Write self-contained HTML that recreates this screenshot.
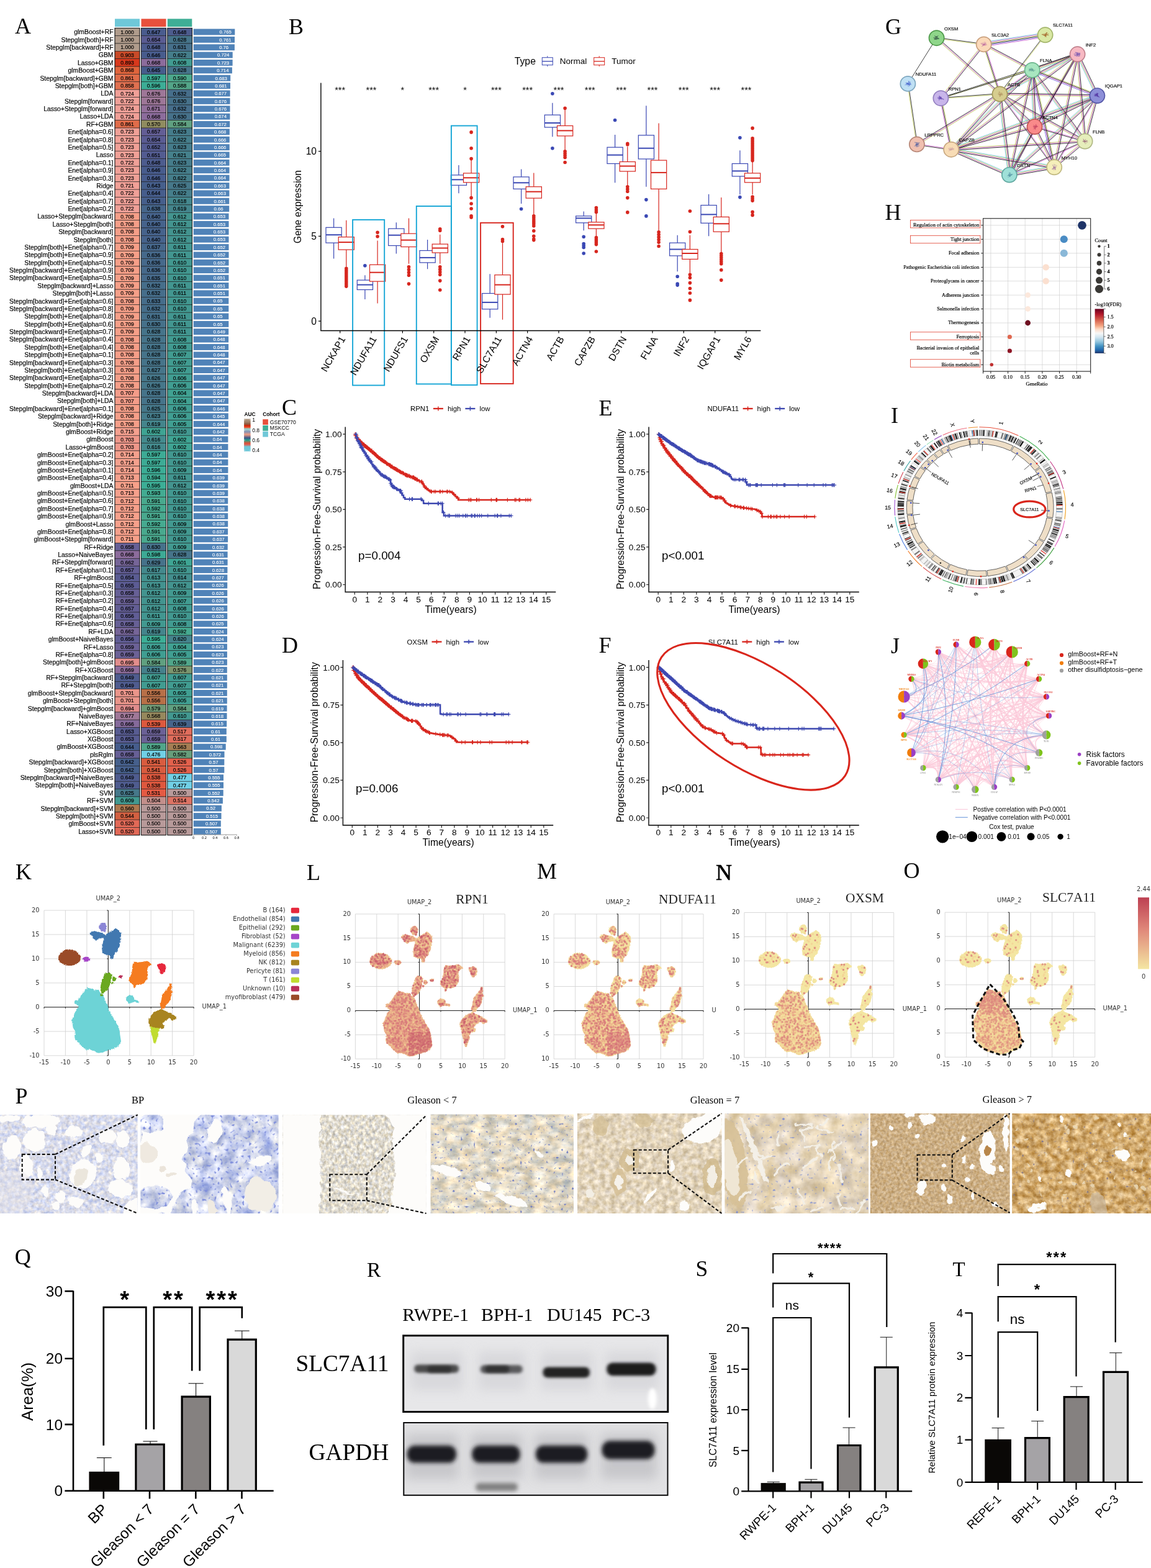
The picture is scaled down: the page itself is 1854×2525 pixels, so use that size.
<!DOCTYPE html>
<html lang="en"><head><meta charset="utf-8"><title>Figure</title>
<style>
html,body{margin:0;padding:0;background:#fff}
svg{display:block}
text{font-family:"Liberation Sans",Arial,Helvetica,sans-serif}
.sf{font-family:"Liberation Serif","Times New Roman",serif}
.dj{font-family:"DejaVu Sans","Liberation Sans",sans-serif}
#pH text{stroke:#000;stroke-width:.2px}
#pI text{stroke:#000;stroke-width:.15px}
</style></head><body>
<svg width="1854" height="2525" viewBox="0 0 1854 2525">
<defs>
<linearGradient id="aucg" x1="0" y1="0" x2="0" y2="1"><stop offset="0" stop-color="#b09c85"/><stop offset="0.1" stop-color="#a08068"/><stop offset="0.16" stop-color="#8a5a40"/><stop offset="0.215" stop-color="#dc2000"/><stop offset="0.27" stop-color="#e86040"/><stop offset="0.305" stop-color="#91d1c2"/><stop offset="0.33" stop-color="#a0c8c8"/><stop offset="0.395" stop-color="#8491b4"/><stop offset="0.485" stop-color="#f39b7f"/><stop offset="0.585" stop-color="#3c5488"/><stop offset="0.66" stop-color="#20a087"/><stop offset="0.7" stop-color="#808060"/><stop offset="0.755" stop-color="#e64b35"/><stop offset="0.8" stop-color="#d06a60"/><stop offset="0.855" stop-color="#6fc8d8"/><stop offset="1" stop-color="#6fc8d8"/></linearGradient>
<linearGradient id="fdrg" x1="0" y1="0" x2="0" y2="1"><stop offset="0" stop-color="#67001f"/><stop offset="0.12" stop-color="#b2182b"/><stop offset="0.25" stop-color="#d6604d"/><stop offset="0.38" stop-color="#f4a582"/><stop offset="0.46" stop-color="#fddbc7"/><stop offset="0.55" stop-color="#f7f7f7"/><stop offset="0.64" stop-color="#d1e5f0"/><stop offset="0.74" stop-color="#92c5de"/><stop offset="0.84" stop-color="#4393c3"/><stop offset="0.93" stop-color="#2166ac"/><stop offset="1" stop-color="#1f3468"/></linearGradient>
<path id="uall" d="M-32.3 -30.7L-25 -28.2L-20.1 -26.6L-16 -27.4L-13.5 -23.3L-9.5 -20.1L-6.2 -13.6L-5.4 -8.7L-1.3 -2.1L0.3 4.4L5.2 14.2L10.1 22.4L15 30.5L17.5 38.7L19.1 50.1L19.9 55L16.6 61.6L11.7 64.8L3.6 67.3L-2.9 69.7L-9.5 72.2L-16 73L-22.5 70.5L-29 67.3L-33.9 68.1L-40.5 63.2L-47 56.7L-52.7 51.8L-53.5 45.2L-51.9 40.3L-56 32.2L-57.6 20.7L-54.3 12.6L-51.1 4.4L-46.2 -0.5L-49.4 -3.8L-53.8 -6.2L-53.5 -9.5L-48.6 -10.3L-45.4 -15.2L-40.5 -21.7L-36.4 -28.2ZM41.3 -12.7L40.7 -10.3L39.1 -8.4L36.7 -7.3L34.1 -7.3L31.7 -8.4L30.1 -10.3L29.5 -12.7L30.1 -15.1L31.7 -17.1L34.1 -18.1L36.7 -18.1L39.1 -17.1L40.7 -15.1ZM39.5 -11.9L47.6 -10L48.5 -7.8L40.3 -9ZM11.7 -126.2L16.6 -123.8L19.9 -118L19.1 -109.9L16.6 -98.5L13.4 -90.3L8.5 -85.4L7.7 -79.7L5.2 -78L2.8 -83.8L-2.9 -85.4L-8.6 -87L-9.5 -95.2L-7.8 -103.4L-6.2 -111.5L-1.3 -118L5.2 -121.3ZM-29 -118.9L-22.5 -122.1L-12.7 -119.7L-6.2 -116.4L-4.6 -112.3L-12.7 -112.3L-19.3 -108.3L-24.1 -111.5L-26.6 -116.4ZM-2.9 -129.1L-3.5 -126.5L-5.1 -124.3L-7.4 -123.1L-9.9 -123.1L-12.2 -124.3L-13.8 -126.5L-14.4 -129.1L-13.8 -131.8L-12.2 -134L-9.9 -135.2L-7.4 -135.2L-5.1 -134L-3.5 -131.8ZM-4.4 -123.3L-4.8 -122.2L-5.9 -121.8L-6.9 -122.2L-7.3 -123.3L-6.9 -124.3L-5.9 -124.7L-4.8 -124.3ZM-45.4 -79.7L-46.4 -75.5L-49.4 -71.8L-53.9 -69.1L-59.5 -67.6L-65.5 -67.6L-71.1 -69.1L-75.6 -71.8L-78.6 -75.5L-79.6 -79.7L-78.6 -83.9L-75.6 -87.5L-71.1 -90.3L-65.5 -91.7L-59.5 -91.7L-53.9 -90.3L-49.4 -87.5L-46.4 -83.9ZM-29.9 -77.2L-30.9 -75.3L-33.5 -74.1L-36.7 -74.1L-39.3 -75.3L-40.3 -77.2L-39.3 -79.1L-36.7 -80.3L-33.5 -80.3L-30.9 -79.1ZM-2.9 -55.2L2.8 -55.2L5.2 -51.1L3.6 -44.6L2 -36.4L-0.5 -29.9L-6.2 -25L-9.5 -22.5L-11.9 -28.2L-11.1 -36.4L-7.8 -46.2L-5.4 -52.7ZM12.1 -45.4L11.4 -43.3L9.6 -42.5L7.9 -43.3L7.2 -45.4L7.9 -47.5L9.6 -48.3L11.4 -47.5ZM7.7 -38.9L7.1 -37.9L6 -37.9L5.4 -38.9L6 -39.8L7.1 -39.8ZM-10 -19.8L-10.5 -18.8L-11.7 -18.8L-12.2 -19.8L-11.7 -20.7L-10.5 -20.7ZM22.8 -50.8L22.7 -49.3L21.3 -47.9L19.3 -47.4L18 -48.1L18.1 -49.6L19.5 -51L21.5 -51.5ZM42.7 -72.3L49.3 -71.5L55.8 -72.3L62.3 -73.6L68 -70.7L68.8 -68.2L64 -65.8L62.3 -60.9L63.1 -52.7L62.3 -46.2L57.4 -39.7L50.9 -36.4L45.2 -37.2L43.6 -32.3L41.9 -31.5L41.1 -36.4L36.2 -39.7L33.8 -42.9L35.4 -47.8L38.7 -54.4L39.5 -62.5L40.3 -69.1ZM99.8 -38L101.5 -36.4L101.2 -28.2L102.3 -23.3L99.8 -13.6L96.6 -7.8L92.5 -3.8L89.2 1.1L86 2.8L84.3 -2.1L86 -10.3L88.4 -20.1L93.3 -26.6L97.4 -31.5ZM79.5 -68.2L86.8 -70.4L90.9 -68.2L92.5 -64.2L90.9 -58.5L86.8 -54L84.3 -56L81.9 -62.5ZM84.3 3.6L90.1 6L96.6 8.5L103.1 11.8L108.8 16.7L108 19.9L103.9 20.7L98.2 16.7L91.7 20.7L86 27.3L90.1 29.7L89.2 33L81.9 33.8L73.7 33L68 31.3L65.6 24L68 15.8L73.7 9.3L79.5 6ZM68 31.3L73.7 33.8L81.9 34.1L79.5 45.2L76.2 56.7L73.7 56.7L71.3 45.2L68.8 37.1Z"/>
<path id="umal" d="M-32.3 -30.7L-25 -28.2L-20.1 -26.6L-16 -27.4L-13.5 -23.3L-9.5 -20.1L-6.2 -13.6L-5.4 -8.7L-1.3 -2.1L0.3 4.4L5.2 14.2L10.1 22.4L15 30.5L17.5 38.7L19.1 50.1L19.9 55L16.6 61.6L11.7 64.8L3.6 67.3L-2.9 69.7L-9.5 72.2L-16 73L-22.5 70.5L-29 67.3L-33.9 68.1L-40.5 63.2L-47 56.7L-52.7 51.8L-53.5 45.2L-51.9 40.3L-56 32.2L-57.6 20.7L-54.3 12.6L-51.1 4.4L-46.2 -0.5L-49.4 -3.8L-53.8 -6.2L-53.5 -9.5L-48.6 -10.3L-45.4 -15.2L-40.5 -21.7L-36.4 -28.2Z"/>
<path id="um0" d="M-33.5 39.6h0M-24.9 30.8h0M-32.8 12.9h0M-30.4 -18.7h0M-44.2 21.2h0M-18 21.6h0M-35.5 0.7h0M-14.1 41.6h0M15.1 60.6h0M-11.1 44.7h0M-7.3 10.2h0M-31.9 66.7h0M-1.2 65h0M-18.8 -2.9h0M-18.3 33h0M-9.4 -12.3h0M-29.8 -18.3h0M-11.7 39.8h0M10 61.1h0M-8.7 -15.6h0M-3.4 57.3h0M-15.6 65.2h0M-4.7 18.1h0M-5.3 5.9h0M-18.7 31.8h0M-26.3 31.9h0M-21 19.9h0M-28.2 -18.4h0M-44 -4.9h0M-17.4 -14.3h0M-9.2 62.3h0M-15.2 30.7h0M-42.7 -17.8h0M-18.2 24.1h0M15.4 60.8h0M-12.1 35.6h0M-49.1 15.6h0M-31.3 67h0M-18.2 -13.2h0M-8.4 66.6h0M-41.8 -3.7h0M-8.9 45.1h0M12.2 52.2h0M-33.6 65h0M-35.7 43.4h0M-30.4 17.3h0M-20.4 10.9h0M9 41.9h0M-28.6 40h0M-44.4 6.6h0M-7 0.4h0M-11.3 7.9h0M-40.2 60.4h0M-52 16.5h0M12.8 40h0M-37.3 59.2h0M4.7 66.6h0M-12.1 36.3h0M-31.8 31.2h0M2.1 24.7h0M-15.5 -8.6h0M-1.7 57.6h0M-14.5 2.9h0M-38.8 5.7h0M-7.5 -1.2h0M-9.4 37.1h0M-33.2 48.9h0M-39.1 -0.7h0M-13.5 45.5h0M-53.9 25.9h0M-25 -20.5h0M-23.6 14.7h0M-2.5 44.7h0M9.4 42.6h0M-41.3 -1.2h0M5.4 58.1h0M-44.1 -13.7h0M-43.6 -9.8h0M-18.7 47h0M-24.8 24h0M-40.2 -6.6h0M5 29.6h0M-9.2 19h0M-19.8 66.8h0M-2.6 3.2h0M-7.1 28.9h0M-10.2 38.7h0M-47.3 44.9h0M-44.5 37.5h0M-27.9 -12.9h0M-42 -2.8h0M14.7 38.1h0M-44.4 54h0M-47.3 27.9h0M14.4 54.9h0M-20.2 14.3h0M-37.2 1h0M-4.3 28.6h0M-31.2 6.1h0M-24.5 54.7h0M-28.9 10.4h0M-3.6 17.6h0M-20.2 60.5h0M-2.9 19.5h0M-49.6 41.9h0M-11 -2.4h0M-20.4 47.3h0M-23.9 -11.6h0M-14.2 30.4h0M2.6 59.2h0M-7.3 -4.9h0M-21.4 -5.7h0M-36.5 50.9h0M-28.9 36.1h0M-12.6 2.9h0M-2.9 19.2h0M-2 52.1h0M-16.8 65.5h0M-31.2 55.6h0M-35.8 7.8h0M-42.7 17.4h0M-6.8 60.2h0M9.6 63.3h0M-7.1 57h0M-39.2 41.8h0M-12.4 60.4h0M-51.1 33.3h0M3.8 25.8h0M-27.9 22.7h0M-46.5 40.3h0M-9.5 12.4h0M-11.7 -14.4h0M-33.1 46.3h0M-1.9 38.7h0M-36 -7.9h0M0.4 52.9h0M12.6 27.9h0M-18.8 57.1h0M-21.2 29.4h0M-29.1 43.7h0M-33.4 25h0M-29 11.2h0M-13.8 59.6h0M-32 -13.4h0M-39.8 13.4h0M11.9 33.8h0M-6.6 24h0M-7.3 -14.8h0M-44.2 35.6h0M-18.1 14.3h0"/>
<path id="um1" d="M14.3 47.3h0M-23.7 -22.9h0M6.5 31.8h0M-53.9 23.6h0M9.1 42.8h0M8.6 27.6h0M-23.5 -3.6h0M-29.1 14.1h0M-36.8 -20.2h0M-28.6 2.7h0M-19.1 21h0M-28 61.9h0M15 34.2h0M-11.1 69.7h0M-4.2 50.9h0M-30.3 5.2h0M12.1 60.3h0M-16.2 -11.5h0M10.1 27.1h0M-42 55.3h0M-40.8 -12.3h0M14.6 58.3h0M-6.7 36.6h0M-20 27.1h0M-15.3 68.1h0M-26.7 18h0M-53.5 28.4h0M-55 28.2h0M-37.9 -8.6h0M-14.4 60.9h0M15.3 46.9h0M10.6 33.8h0M-39 33.9h0M-24.9 -19h0M-11.8 37.5h0M-21.9 60.4h0M-12.3 21.5h0M-5.6 66.3h0M-30.6 43.2h0M-0.9 46.1h0M-36.8 18.3h0M-35.8 48.7h0M-25.9 10.6h0M-7.1 0.7h0M-39.9 53.1h0M-44.3 41.9h0M-38.7 52.7h0M3.9 44.9h0M-16.7 45.8h0M0.7 11.6h0M-18.5 -25.8h0M-50.7 28.4h0M-7.3 22.6h0M-30.4 12.3h0M-49.2 4.5h0M1.1 68.1h0M-22.1 69.5h0M-13.6 -3.7h0M7.8 25h0M-8.4 -17h0M-0.3 35.7h0M9.9 37.3h0M-25.1 -4.2h0M-30.8 29.8h0M-45.1 21.4h0M-38.1 -21.6h0M-51.6 52.3h0M-24.5 -7.2h0M-44.6 22.2h0M-22.4 12.1h0M-17.2 28.8h0M-18.3 -0.8h0M-1.9 2.6h0M-33.1 40.4h0M-25.5 -24.4h0M-34.1 19.9h0M-20.8 -26.8h0M-17.1 35.1h0M-47.9 -10h0M-1.5 17.4h0M6.4 61.3h0M-50.8 4.8h0M-23 21.9h0M-16.4 -17.7h0M4.2 32.4h0M4.2 34h0M-13.2 61.6h0M-40.2 4.5h0M14.7 41.8h0M-15 -14.2h0M-33.5 -11.2h0M1.2 19.9h0M-15.8 24.9h0M-14.5 -7.9h0M-16.2 1.4h0M-1.7 10.2h0M0.6 41.5h0M-24.9 49.3h0M-35 57.9h0M-26.7 52.9h0M-25.2 46h0M-20.3 -1.7h0M15.7 34.3h0M-34.9 -15.1h0M-19.6 -4.9h0M-20.8 55.9h0M-39 51.9h0M-1.3 48.8h0M-16.9 -0.7h0M1.1 22.7h0M-8.4 56.7h0M-34.1 67.6h0M-35.2 -8.7h0M-34.1 -7.8h0M-15.5 -8.1h0M-42.3 30.7h0M-20 28.2h0M9.2 27.7h0M-30.1 -9.5h0M-23.6 54.6h0M-34.7 -0.1h0M-53.1 48.1h0M-8.8 0.9h0M-54.6 15.3h0M-31.9 29.6h0M-41.9 38.1h0M-19.7 68.4h0M-31.2 28.3h0M-14.3 71.8h0M-6.2 19.2h0M-43.3 3.7h0M-1.4 25.7h0M-29 24.8h0M-32.9 -6.9h0M-41.7 9.7h0M-31.7 34.6h0M-51.1 44h0M-15.8 -16.5h0M-7.2 63.5h0M14.6 32h0M-38.3 -12.5h0M-25.6 -25.2h0M-35.1 62.7h0M-12.3 9.6h0M-54.7 21.1h0M-8 -10.1h0M-38.8 19.2h0M-21 -1.2h0M2.8 12.1h0M10.8 29.8h0"/>
<path id="um2" d="M-17.9 3.9h0M-45.5 16.3h0M-50.3 18.8h0M-25 1h0M-5.9 39.1h0M3.6 23.9h0M-5.1 62.9h0M15.1 49.2h0M-36.7 17.7h0M-40.5 14.7h0M15.1 59.4h0M-18.6 59.1h0M-28.4 10.5h0M7.2 57.6h0M14.3 46.7h0M-10.8 47.4h0M-20.2 20.5h0M-22.9 30.7h0M-16 37h0M-42 24h0M-11.4 49.8h0M-25.7 55.6h0M-12.1 45.8h0M-4.2 2h0M-48.5 47.6h0M-19.8 44h0M5.9 65.6h0M-36.4 -3.9h0M-27.4 40.6h0M-30.9 63.3h0M-40.5 27.1h0M11.2 30.7h0M-27.8 46.9h0M17.5 50.4h0M3.1 33.6h0M-31 -29.5h0M-23 -18.1h0M-3.4 50.6h0M-47.9 4h0M-52.1 46.5h0M-28.2 61.9h0M6.9 52.6h0M-28.5 35.5h0M-51.1 7.5h0M-34 -6.9h0M-19.7 46.2h0M-33.6 8.2h0M-19.3 65.5h0M0.3 29.8h0M0.4 42.8h0M-3.6 37.2h0M-0.7 14.5h0M-49 33.8h0M-31.8 -19.7h0M2.7 36.7h0M-29.3 -25.2h0M-19.5 19.5h0M-30 20.3h0M-34.9 8.2h0M-32 58.1h0M-34 24h0M-3.5 15.2h0M4 65.3h0M-25.8 57.4h0M4.2 63.7h0M10.2 28.5h0M-47.3 8.1h0M-16.1 0.9h0M-19.1 0.1h0M-19.7 36.9h0M-2.8 -3.5h0M-35.4 47.2h0M-46.5 0.3h0M2.9 42.2h0M-15.7 27.2h0M-47.5 15.5h0M-2.5 14.9h0M-12.7 8h0M-6.3 70h0M-31.2 -15.6h0M-42.4 10.2h0M-49.2 18.2h0M-28.7 -0.2h0M11 26.2h0M-52.8 33.4h0M-50.6 47.1h0M-49.3 29h0M-40.3 -13h0M-8.4 62.5h0M-33.2 15.8h0M-13.6 34.4h0M-37.8 -16.7h0M-29 26h0M-35.5 66.4h0M-1.4 13h0M-30.4 2.6h0M-33.8 19.5h0M-35 -23.9h0M-30.9 -4h0M18 43.8h0M-25.6 -15h0M-50.7 6.5h0M-33.3 -26.4h0M-27.3 -1.9h0M-14.9 36.8h0M-40.1 -9.2h0M0.3 20.3h0M-15.2 7.9h0M-12.3 8.8h0M-38.9 -4.9h0M13.8 52h0M-30.8 22.7h0M-28.9 -22h0M-42.7 -12.1h0M-3.9 22.4h0M-45.1 27.3h0M-2.5 35.5h0M-8.7 68.4h0M-3.6 44.6h0M-20.9 37.9h0M-50.6 46.1h0M-13.6 1.2h0M-50.2 -4.6h0M-32.2 -14.1h0M12.8 62.9h0M-38.2 9.1h0M-11.4 64.8h0M-47 -2.7h0M-26.9 -8.7h0M-40.6 61.4h0M-46.3 10.7h0M-34.5 -13.9h0M-41.4 -2.9h0M-28.2 21.6h0M-21.3 -13.5h0M-33.1 27.1h0M-13 70.4h0M-39.8 29.9h0M3.6 41.5h0M-56 28.4h0M-16.8 16.8h0M-0.3 22.7h0M-40.7 55.8h0M2.8 23.2h0M-46 5.5h0M-10 58.5h0M-29 -15.7h0M-4.4 49.6h0M2.6 22.7h0M-18.6 28.1h0"/>
<path id="um3" d="M-3.5 8.9h0M-51.4 27.1h0M-40.1 29.3h0M-10.5 38.3h0M-20.1 -21.1h0M-44.8 3.8h0M-4.1 44.9h0M-33.9 48.7h0M-42.1 49.9h0M1.3 54.7h0M-17 -3.9h0M-25.4 50h0M-42.5 13.9h0M-0.6 29.1h0M-44.2 32.1h0M-28.7 -17.3h0M-12.2 71.8h0M-42.2 25.8h0M-18.5 47.4h0M-5.4 19.4h0M-18.5 10.8h0M-16.9 46.3h0M0.8 32.2h0M-22.4 7.1h0M-30.6 67.3h0M-42.2 12.3h0M-3.1 67.7h0M-1.3 18.7h0M-31.1 -26.4h0M1 36.1h0M-12.7 6.9h0M1.3 32.3h0M-13.5 66.2h0M-13.9 -20.4h0M8.2 65.4h0M-50.4 29.1h0M-46.4 43.6h0M-0.4 57.5h0M-8.6 4.9h0M-22.5 34.1h0M-35.6 4.9h0M-41.4 55.3h0M-16.1 29.6h0M-30.8 10.5h0M-30 48.3h0M-31.3 52.6h0M-34 -10.1h0M-16.5 53.2h0M12.5 36.5h0M-42.6 18.1h0M15.1 50.8h0M12.1 36.6h0M-36.8 45.5h0M-34.5 -20.3h0M1.8 55.5h0M-6.6 57.3h0M-2.4 10h0M-20.9 9.9h0M-40.5 -8.5h0M4.3 64.9h0M-37 34.8h0M-36.1 53.2h0M-25 -8.1h0M-35.7 -26.7h0M-9 24.6h0M16.3 49.1h0M-40.5 34.5h0M-33.6 6.6h0M-32.6 50.5h0M-35.2 43.1h0M0.6 49.6h0M7.3 39.8h0M-20.6 7.6h0M-17.1 3.6h0M1.1 54.3h0M-45.2 9.4h0M7 52.2h0M-0.3 37.4h0M1.1 34.2h0M-26.7 20.4h0M-23.8 22.6h0M-2.5 32.9h0M-37.9 38.5h0M9.9 24.8h0M-2 37.8h0M-42.6 -17.4h0M-30 38.8h0M-4.7 -3h0M5.5 39.2h0M-4.5 50h0M-38.1 25.7h0M-27.4 37.8h0M-33.2 18.9h0M-18.1 -26.1h0M-13.6 -9.4h0M-41.9 47h0M-16.9 70.3h0M-4.2 1.1h0M-15.4 60.6h0M-35.4 -28.3h0M17 53.7h0M-38.9 -4.7h0M-20.6 36.2h0M-34.1 -19.5h0M-31.9 -1.7h0M-31.7 2.5h0M-27.2 -6.8h0M-32.6 -12.1h0M-34.8 -6.7h0M-24.6 0.4h0M-6.3 22h0M-16.6 52h0M-15.4 -16.1h0M4.4 37.2h0M5.5 33.7h0M-11.3 15.4h0M-35.2 37.6h0M-44 -9.5h0M16.6 43.5h0M-48.1 21.2h0M-13.3 46.5h0M-41.1 4.7h0M-23.9 66h0M-14.2 41.8h0M1 36.6h0M-24.5 22.9h0M-33.4 54.7h0M-53.3 23h0M-24.8 5.6h0M-23.1 -24h0M-15.5 23.6h0M-33.9 52.5h0M-42.9 12.3h0M-14.8 12.5h0M-34 57.4h0M-20.1 6.3h0M-33.8 -28.5h0M1.6 49.4h0M-26.2 53.7h0M-23.7 -6.6h0M-33.1 66.6h0M-34 10.1h0M-5.2 45.3h0M-28 33.1h0M-19.6 40.2h0M-2.1 33.6h0M-48.7 32.6h0M-47 8.2h0M3.3 42.1h0M-35.2 -5.1h0"/>
<path id="um4" d="M-38.4 63.2h0M-36.4 4.5h0M-0.9 57.9h0M-39 39h0M12 64.6h0M-32.8 2.4h0M-27.1 23.5h0M-51.2 14h0M10.4 31.4h0M-27.3 24.7h0M-35.1 10.4h0M-25.3 -4.1h0M-39.8 -21.4h0M6.1 34.3h0M-34.1 50.6h0M-1.2 44.5h0M-12.6 -22.3h0M-20.4 33.3h0M-29.3 26.5h0M-19.3 36.5h0M-45.8 -5.6h0M-18 68.9h0M-45.6 46.4h0M-41.2 4.8h0M-39.4 55h0M-8.9 -16.4h0M11.5 58.9h0M-11.3 42.9h0M-15.1 71.8h0M-21.3 -15.9h0M-28.8 19.6h0M-15.8 -23.4h0M-5 36.4h0M-11.5 31h0M2.3 30.8h0M-28.3 14.9h0M-11.7 31.7h0M4.6 26.1h0M-32.7 -13.3h0M16.7 56.9h0M-43.8 13.9h0M-11.9 36.4h0M6.7 27.1h0M-44.3 8h0M-15.8 43.5h0M-54.2 28.4h0M17.2 59.6h0M-20.2 45.2h0M-21.9 52.7h0M2.6 52.1h0M-34.2 -8.5h0M-14 33h0M-25.7 53.1h0M-51 48.9h0M-6.9 -10.6h0M-37.8 53.1h0M-21.2 20.3h0M-26.5 -22.5h0M1.2 44.1h0M-32.6 -7.3h0M-40.1 -18.9h0M-30.2 -14.8h0M-18 2.9h0M-8.3 51.1h0M-33.6 -25.7h0M5 59.8h0M-47.5 51.3h0M-51.7 22.3h0M15.4 40.2h0M-44.6 45.4h0M-47.5 42.7h0M-33 32.3h0M-30.3 52.5h0M-28.7 10.3h0M-2.6 4.4h0M-18.4 46.2h0M0.3 43.2h0M5.9 28h0M-39.5 29.2h0M-33.9 -3.5h0M-50.9 20.9h0M-29.7 -15.4h0M-30.4 10.7h0M-6.5 31h0M-24.9 -14.2h0M8.2 54.4h0M-32.6 -17.3h0M-35.3 24.4h0M-12.7 57.5h0M-37.2 62.6h0M-17.3 6.7h0M-1 23.8h0M-29.7 -7.3h0M-27 -10.1h0M-45.5 49.3h0M-1.6 61.8h0M-15.9 -22.7h0M-21.9 19.1h0M-35.1 4.6h0M-32.8 7.3h0M-26.5 32.6h0M-32.6 38.4h0M-39.2 -14.5h0M-15.6 41h0M-49.1 14.6h0M-37.3 24.9h0M8.1 34.9h0M-30 41.6h0M-1.4 31.6h0M-19.6 13h0M-11 70h0M-20.5 33.7h0M-41.9 32.4h0M-24.6 -18.2h0M-21 -20.2h0M0.9 16.7h0M-30.8 -4.6h0M11.5 45.4h0M-37.5 48.7h0M-48.8 -9.2h0M-20.8 58h0M3 14h0M-41 16.8h0M-23.3 67.2h0M-16.7 29.1h0M-0.7 44.3h0M-10 68.3h0M6.7 29.2h0M-44.8 -12.8h0M-32.7 50.2h0M-5.7 31.4h0M-44.3 -9.1h0M-27.8 18.7h0M-19.2 -1.9h0M-50.8 18.3h0M-17.4 39h0M-36.3 4h0M-6.4 10.6h0M-39 -11.6h0M-7.7 52.8h0M-39.6 58.9h0M-14.7 35.3h0M-0.4 20h0M-51.5 25.8h0M-12.2 -11.7h0M-23.8 6.3h0M-29.1 31.9h0M-39.9 44.2h0M-38.9 -23.9h0M-26.2 47.8h0"/>
<path id="um5" d="M-3 -4.1h0M-32.5 20.5h0M-34.5 -21.4h0M-26.7 36.6h0M-9.1 66.2h0M-14.1 13.2h0M-51.9 11.6h0M-27.8 -28.8h0M-31.7 42.8h0M-9.5 -6.5h0M-32.7 22.8h0M-32.5 -28.3h0M-15.7 -19.4h0M-34.5 61.6h0M-9.2 40.4h0M-52.3 46.1h0M5.8 63.7h0M-25.4 12.9h0M-3.3 67.1h0M-47.1 38.1h0M-23.9 -25.5h0M-34.7 65.3h0M-15.9 49.2h0M-12.1 -1.4h0M-38.4 -10.2h0M-7.7 11.2h0M-31 66.3h0M-1.4 44.7h0M-1.8 28.4h0M3.4 20.3h0M-10.8 26.8h0M-10.9 44.8h0M-14.6 16.4h0M-40.8 8.2h0M-23.3 17.6h0M9.2 47.7h0M-21 60.1h0M-27.8 -15.3h0M-17.1 22.1h0M-13.1 -12.6h0M-37.3 -9.9h0M-43.2 -5.3h0M14.1 30h0M-4.9 49.6h0M-11.1 24.9h0M4.4 50.8h0M-9 41.8h0M-19 1.7h0M-8.3 38.1h0M-13.1 16h0M-40.1 -5.1h0M-39.2 53.2h0M8.8 31.5h0M-22.4 -25.3h0M3 28h0M-29.8 3.7h0M-42 55.4h0M-51.3 5.7h0M-20.6 -8.1h0M-52 28.9h0M-30.3 26.3h0M-41.3 12.3h0M-7.7 19.9h0M-53.7 35.7h0M-3.8 53.6h0M-24.5 67.2h0M-56.5 19.6h0M-31.7 35.5h0M-21.9 47.6h0M-21.7 -19.5h0M-38.4 39.5h0M13.3 52.8h0M-38.9 54.2h0M14.5 45.7h0M-18.7 -16.3h0M-17.5 43.4h0M-35.2 -12.8h0M-26.7 34.4h0M-27.3 61.1h0M-21.1 -17.5h0M-12 43.2h0M-43.1 -0.1h0M-15.2 63.1h0M-11.2 26.4h0M-15.6 -7h0M-52 15.7h0M-17.6 -14.8h0M-2.1 39.7h0M-0.9 61.9h0M-36.3 19.6h0M-33.3 29.1h0M-47 -2.6h0M6.6 56.5h0M-7.3 12.1h0M-7.4 25.5h0M-34 -20h0M-15.4 3.7h0M-47.8 50.6h0M-9.7 21.6h0M-51.1 27.2h0M-19.8 57h0M-23.3 -1.6h0M-1.6 42.5h0M-22.1 69.3h0M-3.6 62.8h0M-30.6 56.8h0M-1.5 20.3h0M15.3 37.5h0M-38.7 41.3h0M-3.8 59.1h0M-42.1 32h0M-10 49.5h0M-5.4 19.9h0M-34.3 41.4h0M-26.3 -22.2h0M-25.2 22.2h0M-31.8 62.5h0M-13.5 11.6h0M-2.5 42.1h0M-35.1 48.9h0M2 36.3h0M-51.5 27.4h0M-11.3 22.5h0M-43.6 23.1h0M-16.4 7.9h0M12.2 62.7h0M-38.2 20.2h0M-16.2 -11.7h0M-19.2 5.4h0M-16.8 -5.1h0M1.5 10.6h0M-30.4 48.3h0M-0.5 12.4h0M-40.5 46.6h0M-35.5 25h0M-24.5 10.8h0M-55.9 22.2h0M-19.2 26.2h0M-29.6 -16.7h0M-33 33h0M-31.2 61.5h0M-10.1 69.8h0M-48.6 17.7h0M-44 20.4h0M-16.6 21h0M-34.9 50h0M15.3 35.5h0M5.2 28.7h0M-36.2 40.4h0M-36.7 60.2h0"/>
<path id="um6" d="M-43.2 45.3h0M-46.3 50.6h0M-37 33.2h0M0.9 26.2h0M-38 -16.4h0M8 44h0M-9.6 60h0M-1 14.2h0M-22.3 14.3h0M-38.3 -9.9h0M4 21.1h0M-46.6 9.7h0M-32.5 33.1h0M-48.4 30.8h0M-25.3 -15.6h0M-34.9 -15.7h0M-33.8 -7.3h0M-12.3 40.8h0M-2.5 4h0M-7.2 -4.1h0M-17.3 55.9h0M12 57.5h0M12.5 35h0M-52.2 28.9h0M-35.5 18.9h0M-37.6 23.9h0M6.8 43.9h0M-43.4 44.1h0M-25.5 37.9h0M-15.4 23.3h0M-32.6 24.2h0M-12.4 -12.4h0M-44.1 20.4h0M-2.4 60.6h0M-16.8 -4.1h0M-41.5 16.4h0M10 26.3h0M-50.9 24.7h0M-22.6 0.9h0M-17.5 12.8h0M13.1 34.9h0M-5.6 56.1h0M-21.6 62.9h0M-8.9 8.1h0M1.9 20h0M-23.6 59.9h0M-1.8 58.2h0M15.9 35h0M-20.2 54.5h0M-41.3 -5.5h0M-36.4 -21.6h0M-28.8 -25.5h0M-23.6 34.4h0M-42.8 38.9h0M-29.8 19.5h0M-15.4 60.2h0M6.4 26.6h0M-10.9 67.5h0M-16.2 -3.5h0M-4.1 -5.4h0M-29.8 10.7h0M-32.2 43.1h0M3.5 24.7h0M14.2 29.3h0M-8.1 57.4h0M-12.3 45.3h0M-37.7 35.9h0M-38.4 58.9h0M-31.8 28.5h0M-25.5 21.4h0M-14.6 -17.8h0M-23.1 61.3h0M14 35.4h0M2.2 61h0M-25.1 30.5h0M-20.4 36.8h0M-2.4 10.3h0M-47.4 17.9h0M-20.8 -19.3h0M-5.1 21.4h0M-3.5 62.4h0M-25.6 -15.5h0M-23.3 -26.5h0M-38.1 60.1h0M-52.2 45.2h0M-38.2 0.7h0M0.1 17.9h0M-24.5 32.1h0M-48.9 44.9h0M-25.5 19.2h0M-28.7 56.3h0M-22.4 48.8h0M-44 35.2h0M-49.6 12h0M0.2 4.1h0M-28.8 18.1h0M-37.4 64.9h0M-39.5 27.3h0M-15.3 21.6h0M-35.8 59.4h0M-26.4 6.4h0M-10.2 45.7h0M-7.6 53h0M-37.8 11.8h0M-13.5 61.6h0M-33 8.5h0M10.9 58.7h0M-21.1 -0.5h0M-9.9 6.4h0M-30.1 65.8h0M0.1 20.7h0M-28.7 6.8h0M-15.4 12.3h0M-36.1 66.4h0M-8.6 66.8h0M-28.6 -0.5h0M-17 13.5h0M0.3 56.3h0M19.1 55h0M-36.6 23.9h0M-4.5 18.5h0M-47.3 17.9h0M13.9 58.7h0M3.3 32.5h0M-44.4 39h0M5.5 36.1h0M5.3 54.1h0M-44.4 -14.9h0M-33.1 14.9h0M-46.9 -7.5h0M-26.7 37.2h0M-28.6 18h0M-11.4 11.7h0M-32.6 30.7h0M-9.9 68.7h0M0.3 34h0M-10.1 34.1h0M8.2 41.6h0M-53.5 19.7h0M-39.2 -11.9h0M-0.8 12.5h0M12.2 38.4h0M-12.4 -18.7h0M-14.1 -12h0M-9 3h0M-23.6 -16h0M-25.5 49.2h0M-13.8 47.5h0M-33.1 -19.5h0M-21.4 49.2h0"/>
<path id="um7" d="M-26.9 -18h0M15.2 49.3h0M-44 8h0M5.6 51.6h0M-7.2 -0.7h0M-10 37.6h0M-12 26.5h0M-2.3 51.8h0M-14.5 -4.3h0M-13.3 20h0M-12.3 -20.8h0M-36.2 34.5h0M-47.6 45.1h0M-43.3 53.4h0M-20.5 14.2h0M-32.9 38.1h0M7.2 23.6h0M-11.7 57.8h0M13.2 52.1h0M-10.3 56.8h0M-0.6 36.6h0M-1.1 64.1h0M-7.5 26.9h0M15.1 35h0M-30.4 5.9h0M-36.4 56.6h0M-49.7 3.7h0M-10.8 -8.8h0M-5 20.6h0M-30.3 -21.9h0M-44.6 17.8h0M-21 9.4h0M-33.3 -24.8h0M-42.9 -12.3h0M-25.5 33h0M-23.5 34.1h0M-27 17h0M-24.6 4.4h0M-13.5 36.4h0M14.8 31.5h0M-4.7 52.7h0M-23.4 8.9h0M8.7 41.4h0M-52 31.6h0M-2 52.9h0M-40.8 62.6h0M1.9 47.7h0M13.8 54.2h0M-12.6 65.8h0M-12.7 11.6h0M-2.5 30.9h0M-7.2 25.5h0M-15.5 67.5h0M18.3 56.8h0M4.7 48.2h0M-1.8 34.9h0M-41.3 -4.8h0M-36.1 -19h0M-47.1 50.5h0M-26.8 66.1h0M-35.7 59.3h0M-14.5 25.2h0M-39.4 -1.4h0M-51 20.6h0M-51.7 45.9h0M-48.2 32.5h0M-28.2 -11.8h0M-23.2 15.1h0M10.6 54.4h0M-37.2 -6.5h0M-1.7 49.3h0M8.7 55.4h0M-42.9 50.4h0M7 27.5h0M4.6 32.7h0M-38.8 54.3h0M-43.8 47h0M-12.5 8.3h0M-12 5.1h0M-8.4 46.2h0M8 26.8h0M-20 -21h0M-54.7 21.3h0M-51.8 46.8h0M-32.7 -26h0M4.9 37.2h0M-17 25.2h0M-36.1 47.1h0M2 20.3h0M2.2 57.5h0M-34.1 -17.2h0M-31.1 -29.7h0M-2.3 51.1h0M-16 61.2h0M-24.3 3.5h0M-12.1 59.7h0M-23.8 58.6h0M-9.1 -13.2h0M-32.3 -6.1h0M-40.6 49.3h0M-31.2 23.6h0M1.9 50.8h0M0.5 55.1h0M-16.1 55.8h0M9.1 22.8h0M7.4 18h0M-39.7 39.8h0M-9.1 1.4h0M-45.8 6.2h0M-49.6 -6.5h0M-41.5 -8.5h0M-37.1 21h0M10.5 62.9h0M-3.1 7.9h0M-6.7 12.9h0M-2.4 56h0M17.6 50.5h0M-30.3 25.8h0M-21.5 38.4h0M-2.2 61.9h0M-22.3 -25.7h0M-51.4 49.2h0M-4.7 60.5h0M-11.7 66.6h0M-33.7 66.5h0M-21.1 -16.8h0M1.2 11.7h0M13.8 56.8h0M-35.4 53.3h0M-37.9 -6h0M-11.9 36.9h0M8.6 34.7h0M-18.4 28.1h0M8.7 28.9h0M11.9 31.9h0M-3.7 52.7h0M4 34.8h0M-35.2 51.4h0M-26.3 55.5h0M-35 45.4h0M-39.3 6.2h0M-34.7 2.9h0M-3.6 22.4h0M-25.7 64.9h0M12.3 38.5h0M-26.3 -18.7h0M-37.8 16.5h0M-10.3 46h0M-8.7 64.4h0M-20.7 68.1h0"/>
<path id="um8" d="M-24 45.8h0M-33.9 60.2h0M-28.9 44.8h0M-42.5 -2.8h0M-24.2 64.3h0M-56.7 23.9h0M-41.7 -1h0M-33.5 43.9h0M-23.1 -12.7h0M-19.9 56.1h0M-50.2 40.2h0M-37.4 3.1h0M-46 17.5h0M-27.6 -17.5h0M-29.2 50.7h0M-10.6 26.9h0M-21.9 -17.9h0M-45.3 17.3h0M-24.4 0.2h0M-41.6 5.3h0M-24.9 5.7h0M-0.1 30.4h0M-50.7 11.8h0M-23 15.8h0M6.9 53.9h0M-38.7 50h0M-28.5 57.9h0M-33.5 4.1h0M-33.5 54.4h0M-38.2 51.9h0M16.6 42.1h0M-45.2 47.9h0M-24.2 -17h0M-50.3 40.7h0M-25.2 9.5h0M8.6 47.9h0M-21.2 0.5h0M-20 0.1h0M4 19.2h0M-30.7 50.9h0M-40.2 -18.9h0M-34.3 33.9h0M-23 -16.1h0M6.8 53.1h0M-31.1 26.3h0M-23.7 -2.2h0M-10 49.3h0M-20.4 33.3h0M-27.5 64.2h0M-31.1 54.7h0M-25.4 -16.9h0M-42.4 30.7h0M18 45.3h0M-14 46.9h0M13.3 28.5h0M-25.7 -15.3h0M-40.2 26.1h0M-25.9 62.8h0M-36.3 32.7h0M-34.8 31.5h0M-14.8 44h0M-32.9 65h0M-41 36.6h0M-36.4 8.4h0M-46.4 10.6h0M8.3 23.4h0M-14.3 8.7h0M-9.8 30.8h0M-24.1 37.9h0M-13.9 -12.9h0M-5.6 9.8h0M-23.1 61.5h0M-16.7 14.1h0M-6.3 -3.3h0M-31.7 54.8h0M-16.6 42.6h0M-13.5 10.4h0M-41.2 -5.6h0M-25.8 27.3h0M-53.6 16.4h0M-28.3 -15h0M-24.2 -1.7h0M-47.5 -7.4h0M18.3 47.5h0M-32.9 46.6h0M-9.1 59.7h0M-17.3 27.5h0M6.4 60.5h0M12.5 45.5h0M-4.1 27h0M-30.1 -25.6h0M-27.7 52.2h0M-15.2 -26.1h0M-21.7 4.6h0M-12.3 57.8h0M-16.1 53.5h0M-3.1 67.7h0M-41 -1.7h0M-3.4 17.3h0M-2.4 52h0M-48.8 48.7h0M-32.5 -3.4h0M-26 -13.1h0M-45.9 51.4h0M-8.9 4.6h0M-47.3 50.2h0M-52.1 46.7h0M-35.7 -27.3h0M-31.8 17.8h0M-47.2 33h0M-24.1 34.4h0M-2.8 52.8h0M-23.6 32.6h0M-37.7 50.3h0M-43.7 27h0M13.2 31.8h0M-5.9 66h0M8.4 26h0M-18.4 44.6h0M0.2 41.7h0M-43.1 27.9h0M-30.6 28.5h0M-12.6 7.7h0M1.1 31.4h0M-34 24.8h0M-13.2 16.4h0M-36.7 20.2h0M-23.5 10.1h0M-25.2 20h0M-6.9 68.2h0M3.6 39.9h0M-44.2 -11.6h0M-15.6 16.4h0M-20.4 29.2h0M-43.1 46.7h0M-39.3 43.2h0M-51.3 39.7h0M-34.1 -4.7h0M-37 -5.2h0M4.7 46.3h0M-7.8 -2.5h0M-50.2 20.4h0M-48.8 40.2h0M-13.9 -17.3h0M-3.7 17.6h0M1.1 27.1h0M3.1 58.1h0M-6.2 18.6h0M-35.8 0.6h0M-35 -13.4h0"/>
<path id="um9" d="M-17.8 -25h0M-33.8 -25.1h0M-10.9 32.7h0M-2.4 2.7h0M-33.6 49.9h0M-21.6 17.2h0M-2.9 54.4h0M-15.5 30.8h0M-7.5 -15.7h0M-21.9 19.1h0M-36 -16.1h0M-13.7 54.1h0M-45.6 36.1h0M-35.5 -1.4h0M-32 8.6h0M-42.7 -5.6h0M-35.3 -25.1h0M15 53.9h0M-0.9 39.3h0M-31.5 5.6h0M-18.7 54h0M-10.2 37.6h0M-39.7 -13.9h0M-21.9 62.3h0M-0.5 27.4h0M-11.1 7h0M-23 -14.6h0M-9.6 70.3h0M-33.1 44.9h0M-29.4 40.6h0M-54.7 20h0M-43 -13.6h0M-6.5 30.4h0M-30 13.6h0M-20.9 -5.3h0M-30.7 28.2h0M-28.5 -20h0M-28.9 -10.6h0M-37.8 57.5h0M-29 21.5h0M-38.2 45.4h0M-7.5 48.1h0M15.4 34.2h0M-49.2 43.4h0M-41.7 45.6h0M-27.4 -26.7h0M-15.8 -22.5h0M-1.5 47.5h0M-11.9 44.4h0M-16.8 29.6h0M-45.7 -6.1h0M-16.3 35.7h0M-12.9 61.9h0M-25.1 -8h0M-39.3 -11.8h0M-24 40.6h0M-47.1 -7.1h0M-4.4 13h0M-34.9 24.7h0M-9.8 42.4h0M16.7 45.3h0M-29.8 -5.6h0M-42 20.6h0M-43.4 29.1h0M-17.3 0.6h0M-55.7 27.7h0M0.6 35.3h0M-31.8 -13.4h0M-15.9 50.5h0M-9.3 -14.8h0M-22.5 23.4h0M-17.4 23.8h0M4.3 55.9h0M-9.5 36.2h0M18.8 50h0M-38.9 43.4h0M-30.4 29.6h0M-6.6 46.5h0M-17 34.3h0M-28.5 -5.4h0M-21.8 -19.9h0M-41.2 -12.5h0M-15.7 61h0M-8.9 31.1h0M-4.4 41.9h0M-36.2 28.2h0M-39.2 16.6h0M-28.2 18.1h0M-36.7 55.4h0M-41.2 53.7h0M-33.1 14.4h0M-15.1 -18.7h0M7.8 50.7h0M-6.9 11.5h0M-27.8 -10.9h0M-17.9 28.2h0M-23.8 62.9h0M-12.2 -10.1h0M-19.9 -7.8h0M-15.6 14.9h0M-35 36h0M-34.5 47.8h0M-21 20.7h0M-13.2 -7.6h0M-3.3 54.7h0M4.8 26.8h0M14.6 34.1h0M-47 31.2h0M0.6 49.3h0M-33.9 -16.7h0M-21.1 30.5h0M-48 15.4h0M14.3 50h0M-7.3 5.9h0M-13.5 -3.2h0M-27.5 -5.4h0M-31.3 57.5h0M-28.7 2.8h0M-51.1 21.1h0M-15.7 -14h0M-37.8 37.3h0M11.5 51.7h0M-32.7 -29.4h0M-42.9 46.2h0M-15.9 -12.2h0M-18.7 46.5h0M-28.3 -1.5h0M-23.1 63.9h0M-51.6 52.2h0M-30.5 53h0M-7.6 7.6h0M5.6 23.4h0M-4.4 17.5h0M1.8 63.4h0M-35.4 35.1h0M9.5 24h0M7.1 54.8h0M-50 13.2h0M-12.4 36.1h0M-20.5 19.1h0M-32.8 -2.2h0M-10.8 56.3h0M8.7 57.9h0M-34.3 20.6h0M12.4 38.5h0M-40.1 -17.6h0M11.9 31.4h0M-2.6 58.8h0M1.4 15.7h0M-42.3 49.3h0"/>
<path id="uo0" d="M-4.7 -44.1h0M54.3 -52.6h0M89.1 13.6h0M86.8 23.9h0M-17.2 -114.9h0M6.4 -107.7h0M-0.8 -116.2h0M98.8 -28.5h0M17.9 -104.4h0M14.7 -116.9h0M-4.4 -105.9h0M-1.3 -53.8h0M42.6 -58.7h0M58 -53.5h0M41.3 -51.2h0M18.9 -111.8h0M-7.1 -45.9h0M35.5 -44.4h0M1.6 -96h0M-55.9 -82.2h0M68.1 15.9h0M74.3 12.1h0M11.2 -116.5h0M90.3 -20h0M-65.5 -68.1h0M-6.1 -115.6h0M-54.4 -82h0M34.9 -45.3h0M50.7 -57.1h0M55.8 -54.8h0M78.1 7.5h0M7.9 -119.9h0M54.1 -46.7h0M-4.7 -51.9h0M85.7 28.7h0M91.5 -3.8h0M81.6 7h0M90.8 -59h0M91.4 -17.2h0M-4.1 -34.6h0M-1 -106.2h0M-32.5 -78.3h0M-61.9 -78.5h0M-6.7 -38.8h0M-2.4 -94.7h0M44.4 -70.9h0M75.5 50.5h0M80.4 21.3h0M58.2 -41.4h0M77.3 17.9h0M17.4 -104.6h0M74.3 10.8h0M-77.2 -78.2h0M32.2 -9h0M-8.6 -98.4h0M54.6 -61.5h0M-4.8 -108.3h0M84.1 -63h0M48.9 -42.4h0M56.2 -58.8h0M-2.7 -54.2h0M98.9 -32.1h0M79.4 12.9h0M50.3 -61.9h0M10.5 -104.8h0M-68.3 -90h0M-10.8 -36.3h0M66.7 23.2h0M91.8 16.7h0M60.2 -53h0M86.9 32.9h0M75.9 40.4h0M95.1 -27.7h0M72.1 35.2h0M1.2 -113.3h0M-9.6 -117.8h0M-46 -81h0"/>
<path id="uo1" d="M74.2 47.6h0M-0.8 -36.1h0M-7.8 -101h0M16.1 -108.2h0M47.8 -8h0M48.1 -62.2h0M53.6 -50.5h0M75.4 34.5h0M-27 -119.4h0M11.9 -125.7h0M83.8 14.9h0M-23.6 -115.3h0M32.4 -12.7h0M42.4 -35.7h0M-0.1 -110.9h0M-57.7 -88.8h0M80.2 14.2h0M12.8 -94.9h0M-54.7 -82.8h0M4 -113.5h0M6 -113.7h0M-6.4 -134.4h0M2.8 -100.7h0M45.1 -44.4h0M-8.2 -29.6h0M-2.9 -42h0M-59.5 -75.2h0M43.8 -61.2h0M81.9 22.1h0M39.9 -60.2h0M0.2 -104.4h0M-64.1 -80.2h0M17.8 -113.1h0M83 23.9h0M87.7 -6.1h0M-5.8 -90.2h0M8.8 -108.7h0M-74.7 -78.7h0M-15.2 -119.6h0M-12 -112.8h0M-4.3 -38.7h0M-31.5 -79.3h0M-5.3 -127.4h0M79.6 42.6h0M-4.2 -43h0M-71.8 -77.7h0M92.3 -8.6h0M98.8 -32.8h0M77.3 20.9h0M84.4 3.8h0M105.3 15.6h0M-11.5 -128.9h0M-77.8 -82.6h0M71.4 29.5h0M-71.8 -80h0M91.7 9.6h0M106.9 16.1h0M-0.6 -109.9h0M-21 -114.2h0M5 -116.7h0M-60.8 -84.3h0M71.7 29.3h0M75.1 54.1h0M43.4 -57.9h0M-9.3 -128.2h0M76.2 52.1h0M-6.3 -27.3h0M58.8 -63.7h0M-69.1 -72.7h0M-48.1 -82.8h0M79.8 37.3h0M2.4 -102.2h0M35.4 -47.3h0M-9.1 -36.2h0M5.2 -121.3h0M40.1 -44.9h0M12.1 -93.8h0"/>
<path id="uo2" d="M49.9 -65.2h0M62.3 -68.8h0M-2.3 -105.8h0M84.1 -60.7h0M65.5 -67.6h0M69.2 20.9h0M-62.6 -81.8h0M52.5 -44.3h0M-4.8 -28.5h0M-7.7 -31.6h0M-8.5 -43.1h0M93.8 -15.8h0M57.7 -46.1h0M-74.5 -76.1h0M45.6 -41.2h0M56.6 -66.5h0M6.4 -85.2h0M56.7 -59h0M5.9 -82.3h0M-32 -75.6h0M88.5 23.6h0M98.2 -29h0M73.2 47h0M62.1 -72.9h0M51.6 -41.5h0M18.2 -110h0M88.7 -5.9h0M82.4 23.3h0M7.7 -107.2h0M71.3 12.7h0M79.4 19.7h0M95.1 9.1h0M79.8 26.8h0M-4.7 -106.5h0M-48.3 -74.6h0M-1.6 -94.2h0M11.6 -89h0M-67 -88.3h0M-61.4 -69.5h0M-1.9 -105.3h0M-18.4 -112.1h0M69.7 17.5h0M-66.4 -82.7h0M51.3 -37.2h0M-10.4 -31.3h0M5.2 -92.3h0M74.5 29.1h0M101.9 17.6h0M0.1 -94.4h0M15 -97.1h0M-59.6 -81.1h0M89.4 30.9h0M-1.4 -34.3h0M75.4 15.8h0M48 -42.6h0M76.7 24.5h0M45.6 -55.9h0M98 -12.1h0M-10.1 -34.7h0M-2.4 -91h0M48.3 -48.4h0M2.8 -41.9h0M52.8 -46.2h0M84.9 -66.1h0M44.9 -67h0M73.2 15.4h0M57.2 -67h0M73.4 41.9h0M88.1 -57.1h0M83.7 33.5h0M5 -87.1h0M75.8 53.1h0M71.8 20.6h0M41 -9.1h0M2 -47.2h0M-59.4 -67.9h0M83.3 28.2h0"/>
<path id="uo3" d="M76 21.1h0M-71.2 -88.9h0M77.1 26.5h0M11.6 -120.9h0M47.2 -43.1h0M86.6 -69.9h0M32.4 -11.9h0M-9.3 -131.6h0M9.5 -114.3h0M-54.1 -71.8h0M88.6 -4.1h0M7.4 -122.9h0M-1.4 -98.5h0M56.8 -60.9h0M-11.8 -20.4h0M92.2 -5.6h0M42.8 -50.1h0M2 -118.4h0M37.8 -42.6h0M46.2 -9.1h0M-2.6 -47.6h0M-67 -78.5h0M54.7 -69h0M-64 -68.5h0M39 -17h0M2.1 -105.9h0M90.9 -19h0M17.6 -118h0M98.8 -26.5h0M-77 -74.6h0M39.2 -54.2h0M-16.2 -117.3h0M96.8 -30.1h0M12.2 -106h0M-71.3 -77.7h0M-6.8 -40.8h0M75 30.3h0M2.7 -107.5h0M-9.4 -129.5h0M12.5 -96.1h0M8.1 -116.9h0M89.9 -21.8h0M37.5 -17.3h0M98.2 -20.6h0M7.1 -118.5h0M56.3 -55.5h0M93.9 14h0M77.9 21.9h0M92.1 13.9h0M45 -64h0M63.7 -65.9h0M-2.9 -29.1h0M80.7 32.7h0M87.6 -3.4h0M58.3 -53.3h0M61.5 -66.5h0M58.8 -71.2h0M0.2 -35.2h0M-72.5 -78.9h0M-4.6 -111.5h0M37.8 -15.9h0M-47.6 -83.7h0M50.1 -43.8h0M87.4 20h0M-60.7 -88.7h0M33.2 -10.6h0M37.3 -16.5h0M63.5 -71.1h0M-71.8 -76.6h0M80.3 29.7h0M2.3 -107.2h0M-61.7 -89.4h0M48.1 -65.7h0M45.9 -37.8h0M79.7 10.1h0M94.2 10.3h0"/>
<path id="uo4" d="M59.9 -43.1h0M0 -38h0M14 -99.8h0M3.6 -104.8h0M36.4 -39.9h0M81.6 34.8h0M-2.9 -43h0M89.9 -10.5h0M95.9 -18.7h0M65.9 -67.3h0M-67.8 -71h0M88.1 -2.5h0M82.6 8.1h0M-73.5 -76.1h0M-64.5 -83h0M92.3 -9.7h0M1.1 -95.4h0M18 -118.7h0M87.4 11.2h0M85 18.6h0M-71.8 -77h0M-8.5 -23.9h0M83.1 -65.5h0M48.3 -49.4h0M69.4 17.3h0M44.8 -40.8h0M83.5 15.7h0M16.7 -100.5h0M81.9 33.2h0M90.2 -21.2h0M10.8 -47.5h0M-61.6 -82.1h0M57.5 -62.3h0M-73 -77.3h0M-76.6 -76.4h0M-73.4 -77h0M74.8 9.5h0M-48.2 -83.6h0M-7.7 -31.2h0M-18.2 -110.6h0M92.1 -13.8h0M74.4 50.4h0M72.6 48.5h0M16.1 -102.1h0M-8.3 -26.3h0M75.1 49.6h0M69.4 15.1h0M105.3 16.3h0M70.6 16.7h0M-73.2 -82.8h0M70.4 40.6h0M50.4 -62.7h0M9.5 -113.3h0M-66.9 -78.5h0M88.1 17.8h0M80.9 33.5h0M68.5 -69.2h0M11.1 -90.9h0M0.9 -94.2h0M91 -15.1h0M-50.2 -82.4h0M68.1 29.9h0M47 -64.5h0M0.5 -117.2h0M48.5 -59.8h0M1.6 -97h0M-11.5 -118.8h0M-52 -80.6h0M46.8 -63.9h0M41.3 -69.5h0M-5.4 -40.9h0M9.4 -43.5h0M50.5 -71.5h0M-0.4 -99.2h0M87.4 6.8h0M86.7 5h0"/>
<path id="uo5" d="M78.9 11h0M35.5 -12h0M79.1 24.5h0M39.9 -47.8h0M1.7 -38.1h0M9.5 -96.2h0M70 28.1h0M99.7 17.1h0M80.9 35.3h0M-34.2 -79.9h0M49.6 -58.8h0M-55.7 -70.9h0M100 -35.3h0M-1.4 -105.8h0M-16.1 -113.3h0M-33.4 -77.3h0M8.9 -94.6h0M-69.3 -79.6h0M-7.7 -115h0M56.2 -56.6h0M85.6 14.9h0M4.9 -85h0M-3.7 -88.5h0M58.6 -70h0M14.1 -119.7h0M4.5 -100.1h0M84.2 14.8h0M-51.2 -79.4h0M55.3 -44.4h0M-6.5 -37.2h0M-9.9 -31.1h0M-3.7 -86.4h0M61.7 -54.2h0M13.6 -103.8h0M60.4 -52.3h0M13.4 -109.5h0M79 6.4h0M95.2 9.2h0M-3 -36.1h0M95.1 -8.2h0M71.3 17.4h0M-4.3 -95.6h0M-4 -126.9h0M90.4 -11.8h0M-0.9 -102h0M5.3 -81.7h0M91.5 -16.1h0M85.2 -1.8h0M94.6 -15.9h0M87.8 -57.5h0M86.5 28.5h0M19.9 -49.6h0M7.3 -115.9h0M60.8 -58.1h0M6.9 -96.1h0M-68.3 -75.6h0M59.1 -60.8h0M42.7 -56h0M-8.1 -123.1h0M-70.3 -81.3h0M61 -52.4h0M2.8 -41.1h0M95.4 17.7h0M79.8 19.7h0M53.2 -44.3h0M86.5 -68.9h0M-1.2 -30.6h0M-77.8 -84.1h0M53.8 -66.7h0M37.2 -46.4h0M15.3 -104h0M11.5 -122.5h0M-0.6 -100.2h0M76.6 34.1h0M40 -39.9h0M-16.3 -112.2h0"/>
<path id="uo6" d="M94.5 -24.9h0M-37.7 -76.4h0M78.5 42.4h0M10.6 -121.3h0M-1.8 -45.8h0M92.4 -25.4h0M-73.7 -85.2h0M92.4 11.8h0M9.5 -120.5h0M-6.8 -91.2h0M-57.7 -82.6h0M96.1 -8.2h0M50.1 -54.5h0M81.2 28.9h0M0.7 -97.7h0M79.7 31.8h0M85.8 -66.4h0M-53.2 -72.6h0M2.9 -93.8h0M78.4 21.9h0M6.9 -91.4h0M90.8 -7.2h0M97.9 -25.7h0M-71.8 -88.9h0M-8.6 -131.4h0M-12.3 -112.5h0M-70.5 -88.4h0M-33.3 -75.6h0M49.2 -55.6h0M-17.5 -115.8h0M65.3 -68.1h0M-78.1 -84.4h0M72.8 18.9h0M62.9 -65.1h0M-11.9 -128.2h0M-23.4 -118.1h0M-62.3 -75.2h0M34.2 -16.1h0M6.7 -82.8h0M-49.8 -79.9h0M11.4 -97.7h0M12.3 -93.2h0M-9.3 -112.9h0M2.8 -116.4h0M-1.5 -102.3h0M-3.3 -44.2h0M2.2 -43.5h0M10.4 -97.2h0M88.1 23.7h0M-7.7 -88h0M16 -96.8h0M86 8.9h0M-53.4 -73.7h0M-8 -36.8h0M-10.8 -36h0M-76.2 -76.7h0M-73.9 -79.1h0M50.9 -40.7h0M20.9 -49.2h0M-64.7 -68.9h0M-10.5 -26.2h0M-1.5 -93.5h0M32.6 -12.5h0M-65.9 -69.2h0M54.1 -38.3h0M19.7 -47.9h0M77.2 50.2h0M74.9 26.2h0M49.5 -54.6h0M-64.2 -88.8h0M95.5 9.5h0M-70.6 -79h0M10.6 -113.1h0M69.7 32.2h0M-33.4 -74.9h0M86.9 -70h0"/>
<path id="uo7" d="M15.4 -116.8h0M53.3 -51.9h0M-1.9 -54.4h0M-12.1 -119.1h0M89.2 -6.9h0M79.5 44h0M-74.4 -73.2h0M83 14.1h0M46.2 -48.1h0M9.7 -118.1h0M37.4 -44.5h0M95.2 -23.4h0M-56 -79.8h0M74.8 41.5h0M10.3 -100.6h0M15.9 -114.4h0M83.1 18h0M-63.7 -84h0M81.4 9.1h0M78.4 33h0M6.4 -107.3h0M53.9 -71.5h0M-47.8 -79.8h0M-56.2 -71.2h0M99.5 -35.7h0M17.8 -118.3h0M85.3 -60.7h0M61.3 -54h0M4.4 -100h0M-71.7 -86.3h0M41.5 -39.7h0M81.2 30h0M42.7 -50.7h0M39.5 -51.8h0M94.9 -11.3h0M40.4 -13.5h0M95.2 13.9h0M-22.8 -120.9h0M87.7 8h0M76.4 39.2h0M79.2 14.8h0M42.4 -70.8h0M-20.5 -118h0M14.4 -119.6h0M11.1 -90.4h0M70.3 15.8h0M7.9 -115.8h0M68.3 16.8h0M-58.7 -90.3h0M91.2 -11.6h0M37.2 -47.1h0M-6.2 -29.8h0M94.1 -9.9h0M-7.9 -125h0M-13.6 -114h0M10.2 -98.8h0M-4.1 -53h0M9 -112.7h0M-65.6 -77.6h0M-8.3 -94.2h0M-52.3 -76.3h0M37.6 -10.7h0M73.2 17.8h0M86.7 25.8h0M74.3 44h0M88.5 15.7h0M73.5 26.2h0M10.9 -113.7h0M78.6 42.3h0M101.9 -23.9h0M-6.5 -104h0M38.2 -12.1h0M-48.9 -81.2h0M-64.9 -72.1h0M33.2 -11.3h0M85.8 -4h0"/>
<path id="uo8" d="M51.5 -47.4h0M107.7 17.7h0M87 -60.8h0M7.5 -100h0M-9.1 -116.8h0M47.9 -49.5h0M4.3 -92.3h0M74.6 29.4h0M13.5 -119.9h0M88.4 14.7h0M-52.7 -75.1h0M81.6 18.5h0M88.3 -68.9h0M45.2 -66.6h0M2.1 -86.9h0M5.8 -91.3h0M87.7 -55.2h0M11.1 -111.5h0M83.3 27h0M51.8 -61.7h0M77.5 16.5h0M4 -89.2h0M38.5 -38.8h0M84.8 13.1h0M-7.2 -102.5h0M81 6h0M98.9 -32.2h0M1.9 -86.2h0M53.2 -55.4h0M49.4 -46.2h0M0.3 -104.4h0M98.2 -12.7h0M98.8 -28.3h0M97.5 -24.8h0M12.6 -99.3h0M-52.3 -78.7h0M80.6 10.1h0M80.7 37.2h0M-5.5 -93.8h0M-60.5 -76.9h0M5.1 -97.5h0M78.7 42.6h0M93 -11.9h0M50.4 -50.3h0M-77.9 -81.2h0M81.3 27.4h0M96.2 -29.9h0M43.7 -71.5h0M94.1 15.5h0M87.8 -67.3h0M77.4 28.9h0M-18 -115h0M-49.4 -83.2h0M41.8 -55.8h0M70.4 14.7h0M10.2 -111.5h0M7.7 -89.8h0M44.4 -67.1h0M-10.1 -32.5h0M60 -66.8h0M-71 -75.9h0M-14.1 -115.3h0M1.8 -37.7h0M-2.2 -42.3h0M-21.1 -116.6h0M-32.4 -79h0M35.8 -44.5h0M77.4 32.3h0M78.4 8.6h0M4 -98.5h0M47.8 -9.4h0M-4.8 -32.1h0M39.5 -53.5h0M2.7 -92.6h0M53.1 -50.9h0M-69.6 -84.1h0"/>
<path id="uo9" d="M-70.6 -82.2h0M7.3 -83h0M42.1 -32.5h0M3.9 -86.8h0M-1.4 -105.7h0M51.9 -58.7h0M84.1 7.8h0M9.1 -89.8h0M-3.5 -48.1h0M-1.8 -86.6h0M10.5 -111.7h0M15.9 -102.6h0M13 -96h0M17.4 -114h0M78.6 42.4h0M-65.2 -71.1h0M-8.8 -133.2h0M75.7 31.2h0M91.2 -16.6h0M1 -37.5h0M70.9 19.2h0M9.1 -117.7h0M84.3 20.2h0M79.5 21.9h0M59.5 -61.2h0M73 23.7h0M41.2 -50.1h0M87.2 -14.1h0M61.3 -62.5h0M-58.8 -86.8h0M78.4 20.8h0M-79 -78.4h0M7.8 -45.2h0M-7 -134.9h0M-56.4 -73.9h0M80.7 11.2h0M92 17.4h0M75.1 54.5h0M77.9 44.4h0M96.8 -17.4h0M-48.4 -78.3h0M57.9 -46.8h0M95.6 -20h0M52.2 -46.2h0M-10.5 -36h0M-48.2 -79.6h0M76.4 26.6h0M3.7 -118.8h0M39.5 -45.4h0M-1.2 -88.2h0M92 14h0M-4.7 -132.5h0M-69.5 -88.6h0M31 -16h0M103.5 14.4h0M70.8 21.4h0M17.7 -115.8h0M-58.9 -76.7h0M-20.6 -117.3h0M-13.4 -117.1h0M19.9 -48.3h0M19 -111.5h0M73.4 36.6h0M-67.1 -76.7h0M-18.8 -116.8h0M5 -95.1h0M38.2 -43.5h0M11.2 -91.2h0M58.8 -69.1h0M86.9 23.5h0M-51.6 -75.8h0M-7.1 -26.6h0M-1.9 -111.1h0M-5.3 -51h0M85.7 25.5h0M42.3 -69h0"/>
<path id="uo10" d="M-1.8 -54.8h0M8.4 -45.3h0M62.2 -49.9h0M72.2 20.8h0M72 17.3h0M2.8 -52.7h0M46.7 -43.9h0M45.9 -48.5h0M-7.7 -27.8h0M97.2 -21h0M63.4 -68.7h0M72.9 52.1h0M54.8 -59.7h0M89.5 -20.3h0M-5.6 -129h0M68.6 18.2h0M40.4 -65.4h0M98.9 -24.5h0M-3.5 -49.6h0M6.5 -121.1h0M94.5 -20.2h0M-51.5 -76.4h0M73.2 45.8h0M-65.7 -75.3h0M60.5 -50.5h0M-64.3 -87.5h0M100.8 -30.8h0M-8.4 -134.9h0M-5.5 -106.5h0M37.2 -41.9h0M4.6 -117.8h0M9.2 -107.6h0M53.3 -50.4h0M-0.9 -43.4h0M99 16.8h0M88.1 -57.9h0M48.9 -70.1h0M-74.1 -80.7h0M-52.9 -78.3h0M92.9 -10.3h0M84.5 -2.5h0M-62.6 -89.8h0M13 -101.9h0M-64.9 -76.6h0M51.7 -39.1h0M86 -58.2h0M-5.7 -124.2h0M-3.3 -112.9h0M46.2 -63.2h0M48.9 -44.9h0M-17.7 -119.8h0M1.1 -36.2h0M98.6 -30.1h0M70.6 34.5h0M87.3 5.3h0M85 -60.5h0M57.1 -49.5h0M3.2 -99h0M69.2 18.7h0M71.8 44.8h0M58.6 -58.6h0M100.4 -32.4h0M10.7 -90.7h0M85.8 -69.9h0M0.5 -45.8h0M-52.9 -80.3h0M43.5 -8.9h0M-62.1 -82.7h0M87.1 23.8h0M82 33.6h0M-10.9 -132.8h0M11.7 -111.1h0M2.2 -93.4h0M7.6 -80.2h0M-1.2 -48.1h0M3.1 -110.2h0"/>
<path id="uo11" d="M49.5 -52h0M68.9 26.3h0M3.9 -96.2h0M1.5 -90.7h0M12.9 -119.6h0M-4.4 -35.3h0M11.4 -96h0M39.5 -45.1h0M105.2 18.1h0M62.9 -72.9h0M11.9 -45.2h0M56.3 -61.1h0M-27.7 -117.7h0M-3 -50.2h0M57.4 -40.3h0M100.1 13.1h0M6.3 -113h0M-69.6 -80.5h0M31.8 -10.6h0M49.5 -63.9h0M93.3 -6.3h0M70.4 33.8h0M-75.1 -84.6h0M57.2 -41.3h0M-33.9 -78.1h0M-4.4 -131.2h0M67.3 19.2h0M-3.8 -91.6h0M43 -63.6h0M54.2 -68.7h0M5.2 -85h0M-12.9 -127.6h0M47.2 -68.1h0M48.6 -70.9h0M79.7 11.3h0M87.7 -66.2h0M95.9 10.4h0M80.9 23.6h0M42.7 -54h0M-30.7 -77.6h0M52.3 -70.9h0M-6.5 -33.1h0M84.6 18.9h0M-74.8 -72.5h0M85.8 18.3h0M-3.8 -102.5h0M51.2 -49.9h0M89.5 17.7h0M4.4 -114.9h0M78.1 24.7h0M39.5 -53.4h0M72.9 40.4h0M40.6 -62.5h0M2.6 -42h0M-19.4 -119.4h0M55.1 -48.8h0M11.6 -90h0M46.6 -54.9h0M-62.6 -89.3h0M-5.9 -127.1h0M-58.2 -81.5h0M40.9 -47h0M-7.2 -127.4h0M90 16.2h0M89.4 11.5h0M-3.9 -100.5h0M-38.8 -79.3h0M-53.9 -77.9h0M34.8 -10.4h0M-73.3 -75.5h0M38.6 -8.9h0M57.8 -45h0M-19.7 -120.7h0M39.3 -11.2h0M47.3 -47.2h0M84.8 -58.5h0"/>
<path id="uo12" d="M4.2 -47.2h0M98.6 -14.4h0M91.7 -13.2h0M98.8 -18.2h0M89.6 9.7h0M87.2 4.9h0M100.9 -25.7h0M51.1 -40.4h0M84.2 13.1h0M44.4 -40.8h0M57.2 -70h0M-4.1 -97.1h0M4.3 -86.9h0M12.6 -109.6h0M95.4 -24.3h0M0.8 -100.6h0M40.4 -49.4h0M36 -42.5h0M-58.3 -74.4h0M54.9 -52.1h0M98.8 -20.5h0M-58.7 -79.2h0M40.3 -50.8h0M80.8 -68.6h0M51.9 -62.1h0M-1.6 -34.7h0M-0.1 -98.9h0M82.2 24.2h0M73.8 14.1h0M52 -56.5h0M40.9 -61.4h0M54.1 -49h0M-22.5 -122.1h0M82.6 5.9h0M-6 -105.1h0M52.3 -45.4h0M9.5 -86.8h0M-68.4 -70.4h0M49 -63.9h0M90 11.1h0M85.4 31.6h0M0.4 -89h0M49.7 -53.7h0M71.1 13.5h0M-7.8 -127.3h0M43.8 -70.4h0M10.2 -121.3h0M44.4 -43.9h0M96.4 -15h0M83.4 10.8h0M-75.4 -77.8h0M-4.8 -28.4h0M18.8 -112.2h0M54.6 -44.5h0M95.6 8.6h0M-6.8 -31.8h0M95.6 -21.3h0M40.7 -15.2h0M50.4 -60.8h0M97.9 -29.4h0M82.1 18.2h0M83.5 -61.5h0M1.4 -91.6h0M54.6 -41h0M41.4 -57.7h0M2 -51.1h0M87.8 -67.8h0M49.1 -43.6h0M49.8 -62.9h0M44 -55.1h0M-62.3 -69.5h0M84.1 -58.7h0M56.7 -56h0M-60.7 -71h0M38.8 -41.2h0M-61.8 -77.9h0"/>
<path id="uo13" d="M55.1 -62.8h0M0.1 -91.6h0M51.3 -68.7h0M81.7 9.7h0M-9 -23.4h0M-6.6 -42.6h0M-63 -79.9h0M95.1 -16.8h0M-71.7 -79h0M61.8 -48h0M41.4 -52.7h0M-71.6 -80.8h0M70.9 30.7h0M-64.4 -80.4h0M-21.8 -115.6h0M8 -92.3h0M10 -112.4h0M82.7 -63.4h0M75.9 46.8h0M-69.5 -90h0M7.6 -89.2h0M-68.2 -69.7h0M97.3 -13.4h0M-76.1 -86.8h0M88.9 -59.9h0M103.1 15.3h0M-66.7 -84.3h0M-67.3 -79.8h0M-22.2 -113.1h0M84 -63.4h0M97.1 -9.9h0M-4.4 -88h0M72.2 20.8h0M-19.5 -116.5h0M-57.6 -78h0M36.6 -10.1h0M88.7 -62.1h0M6.3 -110.3h0M-54.7 -76.3h0M0.9 -100.4h0M87.9 5.7h0M12.9 -100.7h0M-58.5 -84.3h0M58.9 -49.1h0M71.6 33.3h0M94.4 -7.8h0M34.5 -7.8h0M12.1 -89.1h0M45.7 -58.5h0M0.2 -93.6h0M-8.9 -28.7h0M-6.2 -88.5h0M-60.6 -86.8h0M98.7 16.8h0M55.4 -70.8h0M100.9 -24h0M47.9 -52.7h0M92.7 -16h0M85.3 32.1h0M8.4 -105.4h0M10.8 -124.3h0M81.2 8.5h0M-60.2 -89.5h0M91.6 18.1h0M58.3 -62.9h0M-78.2 -77.9h0M71.3 23.9h0M-16.7 -119.4h0M-59.5 -77.2h0M48.7 -67.9h0M35.5 -47.3h0M74.1 34.4h0M2.4 -51.4h0M5 -119.7h0M-7.6 -127.6h0M-24.5 -115.1h0"/>
<path id="uo14" d="M-12.9 -127.5h0M57.9 -58.9h0M-26 -115.3h0M1.9 -117.3h0M69.3 35.7h0M-7.7 -99.5h0M-4.9 -37.9h0M-18.5 -111.5h0M1.7 -94.4h0M56.3 -47.2h0M7.3 -94.8h0M95.7 -7.4h0M-24 -111.8h0M5.3 -105.1h0M-5.8 -26.4h0M-62.5 -76.8h0M92.1 -9.6h0M-63.1 -77h0M-76.8 -82.9h0M72.7 50.6h0M-57 -88.7h0M-24.4 -113.3h0M55.5 -53.3h0M77.6 47h0M5.9 -39.4h0M-6.4 -90.1h0M-11.7 -28.4h0M14.2 -107.6h0M-0.5 -97.8h0M1.9 -90.1h0M-68.5 -78.4h0M56.1 -55.4h0M75 12.4h0M-1.3 -110.7h0M-5.7 -122.1h0M-69.2 -78.1h0M-54.7 -84.2h0M-64.2 -75.5h0M-70 -88.4h0M-57.6 -77.9h0M-2.8 -98.2h0M9.5 -99.6h0M95.3 -16.4h0M-72.1 -82.9h0M10.7 -100h0M-58 -83.5h0M5.6 -91.4h0M-45.7 -80h0M-62.4 -74.4h0M86.5 -66.8h0M3.8 -119.6h0M52.1 -69.7h0M-16.1 -115.6h0M44.2 -38.8h0M42.4 -33.2h0M-2.8 -37.2h0M56.7 -68.7h0M-9.8 -40.3h0M105.6 16.6h0M85.1 9h0M75.5 50.6h0M44.7 -49h0M16.2 -116.6h0M11.9 -94.8h0M2.2 -52.8h0M7.3 -120.8h0M-59 -80.8h0M-75 -71.6h0M70.2 15.8h0M0.7 -108.9h0M54 -64.9h0M86.6 -6.5h0M47 -55.4h0M2.6 -112.7h0M68.3 24.5h0M1.5 -39.4h0"/>
<path id="uo15" d="M-3.4 -44.6h0M-6.9 -25.6h0M47.3 -53.1h0M45.8 -61.3h0M79 29.2h0M99.7 -34.1h0M72.7 51h0M11 -110.8h0M40.8 -43.5h0M-34.5 -74.8h0M1.7 -96.3h0M43.5 -37.4h0M-70 -79.8h0M75.7 23.4h0M41.1 -67.8h0M-60.8 -85.4h0M73 14h0M-49.1 -83.2h0M102.5 17h0M-51.5 -77.9h0M-67.9 -86.8h0M-58.2 -91.2h0M68.1 24.5h0M-5.8 -100.8h0M-4.5 -126.1h0M63.2 -65.5h0M2.6 -119.3h0M81.4 34.7h0M-1.2 -41.9h0M57.5 -39.9h0M36.7 -11.1h0M89.1 12.1h0M-21.3 -117h0M-11 -129.7h0M86.4 -58.8h0M21.8 -48.4h0M37.5 -50.7h0M-55.5 -89.6h0M58 -49.5h0M45.8 -58.9h0M-65.9 -75.4h0M90.3 -66.6h0M14.1 -119.7h0M-67.5 -75.3h0M44.7 -40h0M73.1 17.7h0M3.3 -117.8h0M-19.9 -119.4h0M97.8 -23.9h0M-65.6 -90.7h0M-78.4 -78.4h0M40.6 -48.8h0M57.6 -71.6h0M53.6 -71.8h0M83.5 -59.6h0M10.3 -98.4h0M91.4 -13.5h0M-0.8 -89.8h0M18.4 -48.3h0M-56.2 -76.6h0M50.2 -37.3h0M96.5 9.9h0M-7.6 -97.2h0M74.3 47.8h0M56.4 -63.4h0M100.1 -36.2h0M81 21.6h0M72.2 18.9h0M-3.8 -87.6h0M-24.6 -118.7h0M33.2 -10.5h0M-9.4 -129.1h0M-3.2 -103.9h0M78.7 34.5h0M-61 -86.2h0M35.9 -45.9h0"/>
<path id="utop" d="M-29.3 -29.1h0M-0.2 7h0M-26.8 -27.2h0M-15.1 -1.8h0M-3.7 4h0M-34.4 -9.4h0M-12.8 -13.5h0M-30.9 -23.7h0M-18.8 -16.1h0M-18.7 -14.5h0M-17 -1.9h0M-30.6 1.5h0M-24.7 -15.6h0M-22.5 -11.8h0M-47.1 -3.5h0M-33.4 -25.2h0M-22.8 0.5h0M-17.3 -15.3h0M-28.7 -26.1h0M-10.4 -5.5h0M-4.7 -1h0M-29.3 -16.2h0M-49.7 -10.1h0M-20.9 -14.5h0M-34 -6.6h0M-16.9 -8.6h0M-19.1 3.9h0M-24.8 -10.9h0M-15.8 4.7h0M-22.7 -27h0M-39.5 -10.5h0M-41.2 7.3h0M-11 -5.3h0M-22.9 -1.1h0M-2.4 7.6h0M-42.4 -12.2h0M-43.6 1.5h0M-29.6 -3.6h0M-23.6 -25h0M-39.2 -15.2h0M-33 3.8h0M-44.9 -8.4h0M-25.5 -11.1h0M-32.5 -1h0M-39.1 -0.8h0M-35.5 -7.6h0M-28.7 4.6h0M-9.2 11.1h0M-44.7 -4.7h0M-32.7 -1.4h0M-30.4 -18.3h0M-34.9 7.4h0M-15.9 -15.1h0M-5 -4.1h0M-23 7.5h0M-38.2 -11.6h0M-32.3 -8.3h0M-17.7 -17h0M-16.4 -8.4h0M-30 4.7h0M-17.6 -20.7h0M-29.2 -20.1h0M-28.2 -13.9h0M-19.8 -11h0M-35.6 -20.9h0M-42.5 -8.8h0M-9.3 1.9h0M-33.5 -24.1h0M-30 -27.3h0M-33 -14.5h0M-21.7 -8.1h0M-17 2.1h0M-9.9 5.1h0M-15.6 -13.2h0M-15.2 -26.1h0M-8.5 11.4h0M-17.1 -15.4h0M-42.9 7.4h0M-45.2 -2.4h0M-21.2 -22h0M-11.7 17h0M-42.5 1.4h0M-34.1 -13.8h0M-28 -4.6h0M-15 7.9h0M-33.6 -25.3h0M-5.8 0.8h0M-11.5 -20.5h0M-15.9 6.3h0M-19 -14.1h0M-28.6 -20.8h0M-21 13.4h0M-13.4 -10.7h0M-6.2 -11.9h0M-32.2 -23.9h0M-28.5 -2.2h0M-23.5 -12.7h0M-14.4 -12.3h0M-51.9 -8.6h0M-46.8 3.3h0M-28 -28.9h0M-15.7 -22.2h0M-15.1 -19.5h0M-51.3 -6.9h0M-27.7 -1.8h0M-30.2 -22.4h0M-11.9 -5h0M-19.8 -14h0M-38.7 4.1h0M-29.2 -10.3h0M-30.1 -23.3h0M-35.5 7.5h0M-16.5 -11.9h0M-18 -23.2h0M-20.6 -20.9h0M-14.4 -22.3h0M-40 -5.2h0M-20.6 -9.4h0M-21.3 -15.3h0M-49.2 16.2h0M-39.3 -4h0M-25.1 -20.8h0M-48.7 -6.4h0M1.1 8.1h0M-36.8 -24.2h0M-9.2 9.7h0M-27.8 -19h0M-51.3 6.8h0M-9.2 8.6h0M-32.5 -8.9h0M-29.2 -28.5h0M-34.4 -12.3h0M-51.2 10.5h0M-32.7 -18h0M-20.5 -13.1h0M-22.1 -13.8h0M-40.7 -21.3h0M-15.7 -24.4h0M-12.5 -21.7h0M-28.3 -15.7h0M-7.2 12.7h0M-16.8 6.5h0M-27.2 -21.6h0M-27.1 3.1h0M-17.3 -23.6h0M-33.7 5.1h0M-18.4 -25.2h0M-26.5 -10.6h0M-14.6 -19h0M-33.4 -19.7h0M-15 -20.3h0M-22.8 0.4h0M-22.4 -17h0M-30.5 -2.2h0M-8.9 4.2h0M-32.1 -1.1h0M-45.7 -1.2h0M-22.6 -11.8h0M-23.8 -24.9h0M-32.8 -13.5h0M-32 -20.1h0M-28.5 -20.5h0M-17.2 -17.3h0M-45.5 -2h0M-12.2 -21.4h0M-40.4 -13.9h0M-32.6 3.5h0M-21.9 -7.3h0M-14.4 -4h0M-15.1 -23h0M-10.8 -20.4h0M-36 -15.6h0M-32.7 -21.1h0M-8.1 -6h0M-21.8 -9.9h0M-26.4 -6.9h0M-19.9 -9h0M-44.9 -2.8h0M-39.2 -6.6h0M3.2 13.1h0M-48.4 -7.1h0M-41 -13.9h0M-24.9 17h0M-43.7 -12.5h0M-35.6 5.2h0M-18.1 -24.8h0M-36.9 4.6h0M-32.1 -5.8h0M-33 -14.5h0M-21.7 -18.7h0M-13 -12.7h0M-9.7 -10.9h0M-29 -15.7h0M-19.6 -11.6h0M-43.9 -10.9h0M-7.5 -14.7h0M-8.6 12.8h0M-4.2 -6.2h0M-29.2 -4.1h0M-22.5 -16.3h0M-29.8 -15.1h0M-25.4 -5.7h0M-41.9 -10.2h0M-23 -18.9h0M-22.9 -23.9h0M-32.6 1.4h0M-40.2 -12h0M-18.6 -20.5h0M-13.9 -3.6h0M-14.2 -11.9h0M-4.2 8.4h0M-33.7 -13.4h0M-37.8 -18.8h0M-1.8 3.2h0M-34.2 -26.5h0M-29.5 -15.2h0M-18.9 2.5h0M-32.4 -13.6h0M-46 -8.5h0M-35.6 -13.5h0M-22.3 -0.8h0M-31.9 -11.7h0M-18 0.4h0M-16.4 -20.4h0M-11.7 -19.6h0M-45.6 -5.1h0M-41.9 -11.7h0M-17.5 -4.6h0M-41.9 -0.7h0M-10.5 -13.5h0M-13.7 -10.2h0M-22.9 -15.9h0M-16 -15.6h0M-17.8 -24.4h0M-26.8 -26.3h0M-29.4 -15.8h0M-25.8 6.6h0M-6.8 -12h0M-13.2 -6.4h0M-24.8 -1.3h0M-16 -3.2h0M-20.1 -7.1h0M-14.3 17.8h0M-6.4 -2.5h0M-43.6 -14.6h0M-14.2 -17.7h0M-26.6 -17.7h0M-26.4 -7.5h0M-26.4 -7.6h0M-26.7 -6.3h0M-6.3 6.7h0M-32.2 -13.6h0M-40 -17.2h0M-29 0.5h0M-18.5 -24.6h0M-8 -4.2h0M-28.2 -11h0M-35.6 -26.9h0M-28.7 -9.1h0M-44.2 -10.7h0"/>
<path id="ubr" d="M14.4 56.8h0M0.9 45.7h0M-2.4 53.8h0M6.5 54.1h0M8.3 65.5h0M6.6 47.7h0M2.8 40.5h0M4.5 56.4h0M13.8 55.7h0M12.9 59h0M15.9 57.6h0M-3.9 59.5h0M4.8 63.9h0M-2.2 40.3h0M1.5 39.4h0M10.5 42.7h0M-14.1 40.4h0M-2.3 42.8h0M-12.1 69.2h0M0.6 68h0M1.1 63.1h0M-16 69.6h0M-0.7 44.2h0M-2.3 59.1h0M11.6 36.9h0M-1.4 60.8h0M1.7 55.1h0M1.5 62.8h0M-10.5 37.5h0M-13.8 69.5h0M2.7 46.6h0M-8 55.7h0M12.6 45.9h0M-7.1 42.8h0M11.2 38.8h0M-15 47.2h0M13.5 45.3h0M-8.8 69.9h0M-12.3 40.7h0M14.9 44.1h0M2.1 42.7h0M2.9 44.7h0M-15.8 62.2h0M-16.1 67.8h0M-16.2 47h0M-4.2 59.6h0M12.4 42.3h0M13.9 46.6h0M17 54.7h0M-12.1 59.6h0M16.5 47.4h0M-12.6 69.3h0M11.8 52.4h0M-13.2 39.3h0M-3.6 41.3h0M17.7 53.2h0M11 44.8h0M-15.6 53.5h0M3.2 45.6h0M17.6 53.3h0M2.5 62.4h0M-13.2 40.5h0M13 42.2h0M12 63h0M1.6 68h0M16.2 38.8h0M14.9 55.5h0M8.3 53.4h0M1.3 41.7h0M-8.3 53.2h0M-16.6 49.4h0M1.5 64.6h0M-1.6 41.2h0M-11.6 40.7h0M14.8 38.9h0M-0.7 40.1h0M15.3 36.9h0M5.4 45.9h0M-1.4 60.7h0M-13.6 37.2h0M-12.6 41.5h0M-3 59.5h0M13.4 36h0M-8.2 53h0M-9.7 43.5h0M-11.1 50.9h0M-12.1 57.5h0M-8.4 40.3h0M-10 61h0M-3 43.2h0M2.5 66.2h0M-14.5 67.5h0M-0.7 60.8h0M-4.3 67.6h0M-4.1 35.2h0M13.1 61.1h0M-2 48h0M15.9 37.9h0M-0.1 41.2h0M-0.5 68.7h0M4.6 41.7h0M7.8 40.7h0M-2.4 46h0M6.5 50h0M5.5 66.1h0M-12 39.7h0M-15.7 69.5h0M-2.5 62.2h0M16.2 57.9h0M4.6 36.6h0M0.6 55.7h0M-10.8 40.4h0M2.6 67.2h0M17.9 50.7h0M-13 54.3h0M9.2 58.8h0M-5.1 66.1h0M-10.7 47.7h0M10.3 62.1h0M17.4 39.8h0M-16.3 49.8h0M-6.5 40.3h0M-1.2 35.7h0M-10.8 63.4h0M-12.4 43.5h0M-13.4 46.6h0M-1.2 39.6h0M-6.9 56.7h0M6.1 66h0M-15.8 68.7h0M-12.1 59h0M1.4 44.4h0M7.7 63h0M-9.4 61.3h0M-14.6 54h0M17.5 49.8h0M-11 65.3h0M16.2 59.1h0M-10.7 70.6h0M15.9 40.6h0M-5.4 53.6h0M2 36.3h0M17.8 53.4h0M-16.7 38.2h0M15.6 44.2h0M3.2 63.6h0M13.8 55.9h0M-15.1 57.8h0M6.6 59.8h0M15.7 53.6h0M-9.8 39h0M9.8 40.2h0M11.7 64.1h0M4.4 64h0M-9.5 69.8h0M-3.3 65.8h0M0.6 41.2h0M-17 70.6h0M4.3 53.8h0M16 36h0M6.5 45.9h0M2.7 57.9h0M-16.2 38.2h0M-5.5 68.1h0M-15.2 68.4h0M9.6 46.8h0M-14.9 47.8h0M2.7 51.9h0M19 56.6h0M5.2 47.4h0M-0.1 60.3h0M-16.1 64.1h0M11.6 62.7h0M-4.8 38.4h0M-4.2 42.4h0M4.5 56.6h0M-14.7 71.6h0M14 59.6h0M3.2 37.7h0M-6.2 57.2h0M12.3 37.7h0M13.1 53.6h0M-4.8 40.6h0M7.6 46.2h0M-14.4 53.8h0M-11 58.5h0M5.5 50.8h0M-1.4 35.8h0M-0.6 59.3h0M-5.7 60.7h0M17.1 48.4h0M13.4 50h0M3.8 52h0M-0.5 48.8h0M-6.2 56.4h0M1.5 60.2h0M-9.4 55.5h0M14 56h0M-16 55.2h0M-15.8 44.5h0M12.5 49.2h0M11.6 36.5h0M3.4 43h0M0.3 54.1h0M3.3 36.9h0M-13 71.5h0M-13.6 48.6h0M-10.6 71.1h0M-14.4 53.1h0M-4.9 68.7h0M-4.5 68.4h0M-4.9 45.7h0M6.2 43h0M-12.9 44h0M15.1 45.1h0M17.8 56.3h0M-11.9 46.2h0M9.1 53.9h0M15.6 56.9h0M12.9 39.7h0M14 57.1h0M9.5 48.9h0M19.2 55.3h0M1.1 66.3h0M10.2 36.4h0M2.4 48.9h0M16.6 56.4h0M1.7 64.9h0M13 36.6h0M11.1 41.8h0M13.2 46.6h0M-7.1 35.8h0M-14 70.8h0M9.1 41h0M-6.9 45.7h0M-10.7 42.2h0M-4.5 59.7h0M10.5 65.1h0M-10.4 60.2h0M-6 47h0M11.9 38.8h0M-9.2 48.1h0M1.5 52.3h0M-9.6 58.9h0M16 50h0M6.1 50.9h0M-6 58.8h0M-12.5 68.4h0M1.8 44.4h0M-9.4 47.5h0M-15.3 61.7h0M-6.7 46.2h0M-8.3 58.3h0M-3 46h0M-12.9 48.5h0M9 61.4h0M-12.2 53h0M4.8 51h0M0.8 50.9h0M6.3 48.7h0"/>
<filter id="ubump" x="-0.05" y="-0.05" width="1.1" height="1.1" color-interpolation-filters="sRGB"><feTurbulence type="fractalNoise" baseFrequency="0.3" numOctaves="2" seed="2"/><feDisplacementMap in="SourceGraphic" scale="3.5" xChannelSelector="R" yChannelSelector="G"/></filter>
<linearGradient id="umg" x1="0" y1="0" x2="0" y2="1"><stop offset="0" stop-color="#bd4052"/><stop offset="0.45" stop-color="#e0887a"/><stop offset="1" stop-color="#f4e6a2"/></linearGradient>
<filter id="pf1" x="0" y="0" width="1" height="1" color-interpolation-filters="sRGB"><feTurbulence type="fractalNoise" baseFrequency="0.16 0.16" numOctaves="4" seed="4"/><feColorMatrix type="matrix" values="0.4 0.2 0 0 0.55  0.36 0.1 0 0 0.63  0.22 -0.14 0 0 0.88  0 0 0 0 1" result="b"/></filter>
<filter id="pf2" x="0" y="0" width="1" height="1" color-interpolation-filters="sRGB"><feTurbulence type="fractalNoise" baseFrequency="0.05 0.05" numOctaves="4" seed="7"/><feColorMatrix type="matrix" values="0.75 0.15 0 0 0.36  0.65 0.1 0 0 0.46  0.3 -0.1 0 0 0.83  0 0 0 0 1" result="b"/><feTurbulence type="fractalNoise" baseFrequency="0.2" numOctaves="1" seed="22"/><feColorMatrix type="matrix" values="0 0 0 0 0.5  0 0 0 0 0.56  0 0 0 0 0.86  7 0 0 0 -4.2" result="d"/><feMerge><feMergeNode in="b"/><feMergeNode in="d"/></feMerge></filter>
<filter id="pf3" x="0" y="0" width="1" height="1" color-interpolation-filters="sRGB"><feTurbulence type="fractalNoise" baseFrequency="0.2 0.16" numOctaves="4" seed="10"/><feColorMatrix type="matrix" values="0.5 0.12 0 0 0.57  0.5 0.04 0 0 0.59  0.5 -0.15 0 0 0.64  0 0 0 0 1" result="b"/></filter>
<filter id="pf4" x="0" y="0" width="1" height="1" color-interpolation-filters="sRGB"><feTurbulence type="fractalNoise" baseFrequency="0.05 0.08" numOctaves="4" seed="13"/><feColorMatrix type="matrix" values="0.5 0.18 0 0 0.55  0.45 0.02 0 0 0.62  0.4 -0.2 0 0 0.68  0 0 0 0 1" result="b"/><feTurbulence type="fractalNoise" baseFrequency="0.24" numOctaves="1" seed="24"/><feColorMatrix type="matrix" values="0 0 0 0 0.45  0 0 0 0 0.5  0 0 0 0 0.76  7 0 0 0 -4.48" result="d"/><feMerge><feMergeNode in="b"/><feMergeNode in="d"/></feMerge></filter>
<filter id="pf5" x="0" y="0" width="1" height="1" color-interpolation-filters="sRGB"><feTurbulence type="fractalNoise" baseFrequency="0.12 0.12" numOctaves="4" seed="16"/><feColorMatrix type="matrix" values="0.35 0.08 0 0 0.67  0.38 0.04 0 0 0.62  0.45 -0.08 0 0 0.55  0 0 0 0 1" result="b"/></filter>
<filter id="pf6" x="0" y="0" width="1" height="1" color-interpolation-filters="sRGB"><feTurbulence type="fractalNoise" baseFrequency="0.04 0.04" numOctaves="4" seed="19"/><feColorMatrix type="matrix" values="0.35 0.1 0 0 0.67  0.38 0.05 0 0 0.62  0.45 -0.1 0 0 0.56  0 0 0 0 1" result="b"/><feTurbulence type="fractalNoise" baseFrequency="0.2" numOctaves="1" seed="26"/><feColorMatrix type="matrix" values="0 0 0 0 0.5  0 0 0 0 0.56  0 0 0 0 0.82  7 0 0 0 -4.62" result="d"/><feMerge><feMergeNode in="b"/><feMergeNode in="d"/></feMerge></filter>
<filter id="pf7" x="0" y="0" width="1" height="1" color-interpolation-filters="sRGB"><feTurbulence type="fractalNoise" baseFrequency="0.22 0.22" numOctaves="4" seed="22"/><feColorMatrix type="matrix" values="0.3 0.1 0 0 0.6  0.36 0.05 0 0 0.48  0.45 -0.05 0 0 0.32  0 0 0 0 1" result="b"/></filter>
<filter id="pf8" x="0" y="0" width="1" height="1" color-interpolation-filters="sRGB"><feTurbulence type="fractalNoise" baseFrequency="0.1 0.1" numOctaves="4" seed="25"/><feColorMatrix type="matrix" values="0.5 0.1 0 0 0.52  0.62 0.05 0 0 0.33  0.75 -0.05 0 0 0.08  0 0 0 0 1" result="b"/><feTurbulence type="fractalNoise" baseFrequency="0.22" numOctaves="1" seed="28"/><feColorMatrix type="matrix" values="0 0 0 0 0.5  0 0 0 0 0.46  0 0 0 0 0.55  7 0 0 0 -4.76" result="d"/><feMerge><feMergeNode in="b"/><feMergeNode in="d"/></feMerge></filter>
<filter id="pdis" x="-0.1" y="-0.1" width="1.2" height="1.2" color-interpolation-filters="sRGB"><feTurbulence type="fractalNoise" baseFrequency="0.09" numOctaves="2" seed="4"/><feDisplacementMap in="SourceGraphic" scale="9" xChannelSelector="R" yChannelSelector="G"/></filter>
<filter id="pdis2" x="-0.1" y="-0.1" width="1.2" height="1.2" color-interpolation-filters="sRGB"><feTurbulence type="fractalNoise" baseFrequency="0.05" numOctaves="2" seed="8"/><feDisplacementMap in="SourceGraphic" scale="16" xChannelSelector="R" yChannelSelector="G"/></filter>
<clipPath id="pc1"><rect x="0" y="1795.2" width="221.6" height="158.8"/></clipPath>
<clipPath id="pc2"><rect x="226.4" y="1795.2" width="222.2" height="158.8"/></clipPath>
<clipPath id="pc3"><rect x="455.4" y="1795.2" width="231.4" height="158.8"/></clipPath>
<clipPath id="pc4"><rect x="693.6" y="1794.4" width="230.4" height="159.6"/></clipPath>
<clipPath id="pc5"><rect x="930" y="1793" width="232.6" height="161"/></clipPath>
<clipPath id="pc6"><rect x="1167.4" y="1793" width="231.8" height="161"/></clipPath>
<clipPath id="pc7"><rect x="1401.8" y="1793" width="224.8" height="161"/></clipPath>
<clipPath id="pc8"><rect x="1630.2" y="1793" width="223.8" height="161"/></clipPath>
<filter id="rb1" x="-0.3" y="-1" width="1.6" height="3"><feGaussianBlur stdDeviation="2.6 2.2"/></filter>
<filter id="rb2" x="-0.3" y="-1" width="1.6" height="3"><feGaussianBlur stdDeviation="3 3.4"/></filter>
<filter id="rb3" x="-0.5" y="-0.5" width="2" height="2"><feGaussianBlur stdDeviation="9"/></filter>
<clipPath id="rc1"><rect x="648.7" y="2149.8" width="428.1" height="124.7"/></clipPath>
<clipPath id="rc2"><rect x="649.8" y="2290.5" width="426.2" height="117.8"/></clipPath>
</defs>
<rect width="1854" height="2525" fill="#fff"/>
<g id="pA">
<rect x="185" y="30.3" width="40" height="12.8" fill="#6fc8d8"/>
<rect x="227.5" y="30.3" width="40" height="12.8" fill="#e8503c"/>
<rect x="269.8" y="30.3" width="39.5" height="12.8" fill="#3fae96"/>
<g font-size="10.4" text-anchor="end" stroke="#000" stroke-width="0.18"><text x="182.5" y="55.3">glmBoost+RF</text><text x="182.5" y="67.7">Stepglm[both]+RF</text><text x="182.5" y="80">Stepglm[backward]+RF</text><text x="182.5" y="92.4">GBM</text><text x="182.5" y="104.8">Lasso+GBM</text><text x="182.5" y="117.2">glmBoost+GBM</text><text x="182.5" y="129.6">Stepglm[backward]+GBM</text><text x="182.5" y="141.9">Stepglm[both]+GBM</text><text x="182.5" y="154.3">LDA</text><text x="182.5" y="166.7">Stepglm[forward]</text><text x="182.5" y="179.1">Lasso+Stepglm[forward]</text><text x="182.5" y="191.4">Lasso+LDA</text><text x="182.5" y="203.8">RF+GBM</text><text x="182.5" y="216.2">Enet[alpha=0.6]</text><text x="182.5" y="228.6">Enet[alpha=0.8]</text><text x="182.5" y="241">Enet[alpha=0.5]</text><text x="182.5" y="253.3">Lasso</text><text x="182.5" y="265.7">Enet[alpha=0.1]</text><text x="182.5" y="278.1">Enet[alpha=0.9]</text><text x="182.5" y="290.5">Enet[alpha=0.3]</text><text x="182.5" y="302.8">Ridge</text><text x="182.5" y="315.2">Enet[alpha=0.4]</text><text x="182.5" y="327.6">Enet[alpha=0.7]</text><text x="182.5" y="340">Enet[alpha=0.2]</text><text x="182.5" y="352.4">Lasso+Stepglm[backward]</text><text x="182.5" y="364.7">Lasso+Stepglm[both]</text><text x="182.5" y="377.1">Stepglm[backward]</text><text x="182.5" y="389.5">Stepglm[both]</text><text x="182.5" y="401.9">Stepglm[both]+Enet[alpha=0.7]</text><text x="182.5" y="414.3">Stepglm[both]+Enet[alpha=0.9]</text><text x="182.5" y="426.6">Stepglm[both]+Enet[alpha=0.5]</text><text x="182.5" y="439">Stepglm[backward]+Enet[alpha=0.9]</text><text x="182.5" y="451.4">Stepglm[backward]+Enet[alpha=0.5]</text><text x="182.5" y="463.8">Stepglm[backward]+Lasso</text><text x="182.5" y="476.1">Stepglm[both]+Lasso</text><text x="182.5" y="488.5">Stepglm[backward]+Enet[alpha=0.6]</text><text x="182.5" y="500.9">Stepglm[backward]+Enet[alpha=0.8]</text><text x="182.5" y="513.3">Stepglm[both]+Enet[alpha=0.8]</text><text x="182.5" y="525.7">Stepglm[both]+Enet[alpha=0.6]</text><text x="182.5" y="538">Stepglm[backward]+Enet[alpha=0.7]</text><text x="182.5" y="550.4">Stepglm[backward]+Enet[alpha=0.4]</text><text x="182.5" y="562.8">Stepglm[both]+Enet[alpha=0.4]</text><text x="182.5" y="575.2">Stepglm[both]+Enet[alpha=0.1]</text><text x="182.5" y="587.5">Stepglm[backward]+Enet[alpha=0.3]</text><text x="182.5" y="599.9">Stepglm[both]+Enet[alpha=0.3]</text><text x="182.5" y="612.3">Stepglm[backward]+Enet[alpha=0.2]</text><text x="182.5" y="624.7">Stepglm[both]+Enet[alpha=0.2]</text><text x="182.5" y="637.1">Stepglm[backward]+LDA</text><text x="182.5" y="649.4">Stepglm[both]+LDA</text><text x="182.5" y="661.8">Stepglm[backward]+Enet[alpha=0.1]</text><text x="182.5" y="674.2">Stepglm[backward]+Ridge</text><text x="182.5" y="686.6">Stepglm[both]+Ridge</text><text x="182.5" y="698.9">glmBoost+Ridge</text><text x="182.5" y="711.3">glmBoost</text><text x="182.5" y="723.7">Lasso+glmBoost</text><text x="182.5" y="736.1">glmBoost+Enet[alpha=0.2]</text><text x="182.5" y="748.5">glmBoost+Enet[alpha=0.3]</text><text x="182.5" y="760.8">glmBoost+Enet[alpha=0.1]</text><text x="182.5" y="773.2">glmBoost+Enet[alpha=0.4]</text><text x="182.5" y="785.6">glmBoost+LDA</text><text x="182.5" y="798">glmBoost+Enet[alpha=0.5]</text><text x="182.5" y="810.3">glmBoost+Enet[alpha=0.6]</text><text x="182.5" y="822.7">glmBoost+Enet[alpha=0.7]</text><text x="182.5" y="835.1">glmBoost+Enet[alpha=0.9]</text><text x="182.5" y="847.5">glmBoost+Lasso</text><text x="182.5" y="859.9">glmBoost+Enet[alpha=0.8]</text><text x="182.5" y="872.2">glmBoost+Stepglm[forward]</text><text x="182.5" y="884.6">RF+Ridge</text><text x="182.5" y="897">Lasso+NaiveBayes</text><text x="182.5" y="909.4">RF+Stepglm[forward]</text><text x="182.5" y="921.7">RF+Enet[alpha=0.1]</text><text x="182.5" y="934.1">RF+glmBoost</text><text x="182.5" y="946.5">RF+Enet[alpha=0.5]</text><text x="182.5" y="958.9">RF+Enet[alpha=0.3]</text><text x="182.5" y="971.3">RF+Enet[alpha=0.2]</text><text x="182.5" y="983.6">RF+Enet[alpha=0.4]</text><text x="182.5" y="996">RF+Enet[alpha=0.9]</text><text x="182.5" y="1008.4">RF+Enet[alpha=0.6]</text><text x="182.5" y="1020.8">RF+LDA</text><text x="182.5" y="1033.2">glmBoost+NaiveBayes</text><text x="182.5" y="1045.5">RF+Lasso</text><text x="182.5" y="1057.9">RF+Enet[alpha=0.8]</text><text x="182.5" y="1070.3">Stepglm[both]+glmBoost</text><text x="182.5" y="1082.7">RF+XGBoost</text><text x="182.5" y="1095">RF+Stepglm[backward]</text><text x="182.5" y="1107.4">RF+Stepglm[both]</text><text x="182.5" y="1119.8">glmBoost+Stepglm[backward]</text><text x="182.5" y="1132.2">glmBoost+Stepglm[both]</text><text x="182.5" y="1144.6">Stepglm[backward]+glmBoost</text><text x="182.5" y="1156.9">NaiveBayes</text><text x="182.5" y="1169.3">RF+NaiveBayes</text><text x="182.5" y="1181.7">Lasso+XGBoost</text><text x="182.5" y="1194.1">XGBoost</text><text x="182.5" y="1206.4">glmBoost+XGBoost</text><text x="182.5" y="1218.8">plsRglm</text><text x="182.5" y="1231.2">Stepglm[backward]+XGBoost</text><text x="182.5" y="1243.6">Stepglm[both]+XGBoost</text><text x="182.5" y="1256">Stepglm[backward]+NaiveBayes</text><text x="182.5" y="1268.3">Stepglm[both]+NaiveBayes</text><text x="182.5" y="1280.7">SVM</text><text x="182.5" y="1293.1">RF+SVM</text><text x="182.5" y="1305.5">Stepglm[backward]+SVM</text><text x="182.5" y="1317.8">Stepglm[both]+SVM</text><text x="182.5" y="1330.2">glmBoost+SVM</text><text x="182.5" y="1342.6">Lasso+SVM</text></g>
<g stroke="#1a1a1a" stroke-width="0.6"><rect x="185" y="45.2" width="40" height="12.38" fill="#b09c8c"/><rect x="227.5" y="45.2" width="40" height="12.38" fill="#4a5c8e"/><rect x="269.8" y="45.2" width="39.5" height="12.38" fill="#4d5c8e"/><rect x="185" y="57.6" width="40" height="12.38" fill="#b09c8c"/><rect x="227.5" y="57.6" width="40" height="12.38" fill="#5a5c93"/><rect x="269.8" y="57.6" width="39.5" height="12.38" fill="#46748a"/><rect x="185" y="70" width="40" height="12.38" fill="#b09c8c"/><rect x="227.5" y="70" width="40" height="12.38" fill="#4d5c8e"/><rect x="269.8" y="70" width="39.5" height="12.38" fill="#46708b"/><rect x="185" y="82.3" width="40" height="12.38" fill="#c84a28"/><rect x="227.5" y="82.3" width="40" height="12.38" fill="#485c8d"/><rect x="269.8" y="82.3" width="39.5" height="12.38" fill="#457e8b"/><rect x="185" y="94.7" width="40" height="12.38" fill="#d8381c"/><rect x="227.5" y="94.7" width="40" height="12.38" fill="#8c6c9c"/><rect x="269.8" y="94.7" width="39.5" height="12.38" fill="#419b91"/><rect x="185" y="107.1" width="40" height="12.38" fill="#e0643c"/><rect x="227.5" y="107.1" width="40" height="12.38" fill="#465c8c"/><rect x="269.8" y="107.1" width="39.5" height="12.38" fill="#46748a"/><rect x="185" y="119.5" width="40" height="12.38" fill="#e06c4a"/><rect x="227.5" y="119.5" width="40" height="12.38" fill="#3dab95"/><rect x="269.8" y="119.5" width="39.5" height="12.38" fill="#4ca88c"/><rect x="185" y="131.8" width="40" height="12.38" fill="#e07050"/><rect x="227.5" y="131.8" width="40" height="12.38" fill="#3cad96"/><rect x="269.8" y="131.8" width="39.5" height="12.38" fill="#53a588"/><rect x="185" y="144.2" width="40" height="12.38" fill="#f09f97"/><rect x="227.5" y="144.2" width="40" height="12.38" fill="#9e7798"/><rect x="269.8" y="144.2" width="39.5" height="12.38" fill="#466e8b"/><rect x="185" y="156.6" width="40" height="12.38" fill="#f0a098"/><rect x="227.5" y="156.6" width="40" height="12.38" fill="#9e7798"/><rect x="269.8" y="156.6" width="39.5" height="12.38" fill="#46718a"/><rect x="185" y="169" width="40" height="12.38" fill="#f09f97"/><rect x="227.5" y="169" width="40" height="12.38" fill="#93709b"/><rect x="269.8" y="169" width="39.5" height="12.38" fill="#466e8b"/><rect x="185" y="181.4" width="40" height="12.38" fill="#f09f97"/><rect x="227.5" y="181.4" width="40" height="12.38" fill="#8c6c9c"/><rect x="269.8" y="181.4" width="39.5" height="12.38" fill="#46718a"/><rect x="185" y="193.7" width="40" height="12.38" fill="#e06c4a"/><rect x="227.5" y="193.7" width="40" height="12.38" fill="#908c60"/><rect x="269.8" y="193.7" width="39.5" height="12.38" fill="#60a080"/><rect x="185" y="206.1" width="40" height="12.38" fill="#f0a097"/><rect x="227.5" y="206.1" width="40" height="12.38" fill="#635e95"/><rect x="269.8" y="206.1" width="39.5" height="12.38" fill="#457c8b"/><rect x="185" y="218.5" width="40" height="12.38" fill="#f0a097"/><rect x="227.5" y="218.5" width="40" height="12.38" fill="#5a5c93"/><rect x="269.8" y="218.5" width="39.5" height="12.38" fill="#457e8b"/><rect x="185" y="230.9" width="40" height="12.38" fill="#f0a097"/><rect x="227.5" y="230.9" width="40" height="12.38" fill="#555c92"/><rect x="269.8" y="230.9" width="39.5" height="12.38" fill="#457c8b"/><rect x="185" y="243.2" width="40" height="12.38" fill="#f0a097"/><rect x="227.5" y="243.2" width="40" height="12.38" fill="#535c91"/><rect x="269.8" y="243.2" width="39.5" height="12.38" fill="#45818c"/><rect x="185" y="255.6" width="40" height="12.38" fill="#f0a098"/><rect x="227.5" y="255.6" width="40" height="12.38" fill="#4d5c8e"/><rect x="269.8" y="255.6" width="39.5" height="12.38" fill="#457c8b"/><rect x="185" y="268" width="40" height="12.38" fill="#f0a097"/><rect x="227.5" y="268" width="40" height="12.38" fill="#485c8d"/><rect x="269.8" y="268" width="39.5" height="12.38" fill="#457e8b"/><rect x="185" y="280.4" width="40" height="12.38" fill="#f0a097"/><rect x="227.5" y="280.4" width="40" height="12.38" fill="#485c8d"/><rect x="269.8" y="280.4" width="39.5" height="12.38" fill="#457e8b"/><rect x="185" y="292.8" width="40" height="12.38" fill="#f1a097"/><rect x="227.5" y="292.8" width="40" height="12.38" fill="#465f8c"/><rect x="269.8" y="292.8" width="39.5" height="12.38" fill="#46788a"/><rect x="185" y="305.1" width="40" height="12.38" fill="#f0a098"/><rect x="227.5" y="305.1" width="40" height="12.38" fill="#465d8c"/><rect x="269.8" y="305.1" width="39.5" height="12.38" fill="#457e8b"/><rect x="185" y="317.5" width="40" height="12.38" fill="#f0a098"/><rect x="227.5" y="317.5" width="40" height="12.38" fill="#465f8c"/><rect x="269.8" y="317.5" width="39.5" height="12.38" fill="#44878d"/><rect x="185" y="329.9" width="40" height="12.38" fill="#f0a098"/><rect x="227.5" y="329.9" width="40" height="12.38" fill="#46668b"/><rect x="269.8" y="329.9" width="39.5" height="12.38" fill="#44858c"/><rect x="185" y="342.3" width="40" height="12.38" fill="#f59e88"/><rect x="227.5" y="342.3" width="40" height="12.38" fill="#46638c"/><rect x="269.8" y="342.3" width="39.5" height="12.38" fill="#43948f"/><rect x="185" y="354.6" width="40" height="12.38" fill="#f59e88"/><rect x="227.5" y="354.6" width="40" height="12.38" fill="#46638c"/><rect x="269.8" y="354.6" width="39.5" height="12.38" fill="#43948f"/><rect x="185" y="367" width="40" height="12.38" fill="#f59e88"/><rect x="227.5" y="367" width="40" height="12.38" fill="#46638c"/><rect x="269.8" y="367" width="39.5" height="12.38" fill="#43948f"/><rect x="185" y="379.4" width="40" height="12.38" fill="#f59e88"/><rect x="227.5" y="379.4" width="40" height="12.38" fill="#46638c"/><rect x="269.8" y="379.4" width="39.5" height="12.38" fill="#43948f"/><rect x="185" y="391.8" width="40" height="12.38" fill="#f69f88"/><rect x="227.5" y="391.8" width="40" height="12.38" fill="#46678b"/><rect x="269.8" y="391.8" width="39.5" height="12.38" fill="#429690"/><rect x="185" y="404.2" width="40" height="12.38" fill="#f69f88"/><rect x="227.5" y="404.2" width="40" height="12.38" fill="#46698b"/><rect x="269.8" y="404.2" width="39.5" height="12.38" fill="#429690"/><rect x="185" y="416.5" width="40" height="12.38" fill="#f69f88"/><rect x="227.5" y="416.5" width="40" height="12.38" fill="#46698b"/><rect x="269.8" y="416.5" width="39.5" height="12.38" fill="#429890"/><rect x="185" y="428.9" width="40" height="12.38" fill="#f69f88"/><rect x="227.5" y="428.9" width="40" height="12.38" fill="#46698b"/><rect x="269.8" y="428.9" width="39.5" height="12.38" fill="#429890"/><rect x="185" y="441.3" width="40" height="12.38" fill="#f69f88"/><rect x="227.5" y="441.3" width="40" height="12.38" fill="#466a8b"/><rect x="269.8" y="441.3" width="39.5" height="12.38" fill="#429890"/><rect x="185" y="453.7" width="40" height="12.38" fill="#f69f88"/><rect x="227.5" y="453.7" width="40" height="12.38" fill="#466e8b"/><rect x="269.8" y="453.7" width="39.5" height="12.38" fill="#429690"/><rect x="185" y="466.1" width="40" height="12.38" fill="#f69f88"/><rect x="227.5" y="466.1" width="40" height="12.38" fill="#466e8b"/><rect x="269.8" y="466.1" width="39.5" height="12.38" fill="#429690"/><rect x="185" y="478.4" width="40" height="12.38" fill="#f59e88"/><rect x="227.5" y="478.4" width="40" height="12.38" fill="#466d8b"/><rect x="269.8" y="478.4" width="39.5" height="12.38" fill="#429890"/><rect x="185" y="490.8" width="40" height="12.38" fill="#f69f88"/><rect x="227.5" y="490.8" width="40" height="12.38" fill="#466e8b"/><rect x="269.8" y="490.8" width="39.5" height="12.38" fill="#429890"/><rect x="185" y="503.2" width="40" height="12.38" fill="#f69f88"/><rect x="227.5" y="503.2" width="40" height="12.38" fill="#46708b"/><rect x="269.8" y="503.2" width="39.5" height="12.38" fill="#429690"/><rect x="185" y="515.6" width="40" height="12.38" fill="#f69f88"/><rect x="227.5" y="515.6" width="40" height="12.38" fill="#46718a"/><rect x="269.8" y="515.6" width="39.5" height="12.38" fill="#429690"/><rect x="185" y="527.9" width="40" height="12.38" fill="#f69f88"/><rect x="227.5" y="527.9" width="40" height="12.38" fill="#46748a"/><rect x="269.8" y="527.9" width="39.5" height="12.38" fill="#429690"/><rect x="185" y="540.3" width="40" height="12.38" fill="#f59e88"/><rect x="227.5" y="540.3" width="40" height="12.38" fill="#46748a"/><rect x="269.8" y="540.3" width="39.5" height="12.38" fill="#419b91"/><rect x="185" y="552.7" width="40" height="12.38" fill="#f59e88"/><rect x="227.5" y="552.7" width="40" height="12.38" fill="#46748a"/><rect x="269.8" y="552.7" width="39.5" height="12.38" fill="#419b91"/><rect x="185" y="565.1" width="40" height="12.38" fill="#f59e88"/><rect x="227.5" y="565.1" width="40" height="12.38" fill="#46748a"/><rect x="269.8" y="565.1" width="39.5" height="12.38" fill="#419c91"/><rect x="185" y="577.5" width="40" height="12.38" fill="#f59e88"/><rect x="227.5" y="577.5" width="40" height="12.38" fill="#46748a"/><rect x="269.8" y="577.5" width="39.5" height="12.38" fill="#419c91"/><rect x="185" y="589.8" width="40" height="12.38" fill="#f59e88"/><rect x="227.5" y="589.8" width="40" height="12.38" fill="#46758a"/><rect x="269.8" y="589.8" width="39.5" height="12.38" fill="#419c91"/><rect x="185" y="602.2" width="40" height="12.38" fill="#f59e88"/><rect x="227.5" y="602.2" width="40" height="12.38" fill="#46778a"/><rect x="269.8" y="602.2" width="39.5" height="12.38" fill="#409e92"/><rect x="185" y="614.6" width="40" height="12.38" fill="#f59e88"/><rect x="227.5" y="614.6" width="40" height="12.38" fill="#46778a"/><rect x="269.8" y="614.6" width="39.5" height="12.38" fill="#409e92"/><rect x="185" y="627" width="40" height="12.38" fill="#f49c89"/><rect x="227.5" y="627" width="40" height="12.38" fill="#46748a"/><rect x="269.8" y="627" width="39.5" height="12.38" fill="#40a192"/><rect x="185" y="639.3" width="40" height="12.38" fill="#f49c89"/><rect x="227.5" y="639.3" width="40" height="12.38" fill="#46748a"/><rect x="269.8" y="639.3" width="39.5" height="12.38" fill="#40a192"/><rect x="185" y="651.7" width="40" height="12.38" fill="#f59e88"/><rect x="227.5" y="651.7" width="40" height="12.38" fill="#46788a"/><rect x="269.8" y="651.7" width="39.5" height="12.38" fill="#409e92"/><rect x="185" y="664.1" width="40" height="12.38" fill="#f59e88"/><rect x="227.5" y="664.1" width="40" height="12.38" fill="#457c8b"/><rect x="269.8" y="664.1" width="39.5" height="12.38" fill="#409e92"/><rect x="185" y="676.5" width="40" height="12.38" fill="#f59e88"/><rect x="227.5" y="676.5" width="40" height="12.38" fill="#44858c"/><rect x="269.8" y="676.5" width="39.5" height="12.38" fill="#409f92"/><rect x="185" y="688.9" width="40" height="12.38" fill="#f5a08f"/><rect x="227.5" y="688.9" width="40" height="12.38" fill="#3fa493"/><rect x="269.8" y="688.9" width="39.5" height="12.38" fill="#429890"/><rect x="185" y="701.2" width="40" height="12.38" fill="#ee978a"/><rect x="227.5" y="701.2" width="40" height="12.38" fill="#448b8e"/><rect x="269.8" y="701.2" width="39.5" height="12.38" fill="#3fa493"/><rect x="185" y="713.6" width="40" height="12.38" fill="#ee978a"/><rect x="227.5" y="713.6" width="40" height="12.38" fill="#448b8e"/><rect x="269.8" y="713.6" width="39.5" height="12.38" fill="#3fa493"/><rect x="185" y="726" width="40" height="12.38" fill="#f5a08d"/><rect x="227.5" y="726" width="40" height="12.38" fill="#3dab95"/><rect x="269.8" y="726" width="39.5" height="12.38" fill="#429890"/><rect x="185" y="738.4" width="40" height="12.38" fill="#f5a08d"/><rect x="227.5" y="738.4" width="40" height="12.38" fill="#3dab95"/><rect x="269.8" y="738.4" width="39.5" height="12.38" fill="#429890"/><rect x="185" y="750.7" width="40" height="12.38" fill="#f5a08d"/><rect x="227.5" y="750.7" width="40" height="12.38" fill="#3cad96"/><rect x="269.8" y="750.7" width="39.5" height="12.38" fill="#429990"/><rect x="185" y="763.1" width="40" height="12.38" fill="#f6a08c"/><rect x="227.5" y="763.1" width="40" height="12.38" fill="#3fad94"/><rect x="269.8" y="763.1" width="39.5" height="12.38" fill="#429690"/><rect x="185" y="775.5" width="40" height="12.38" fill="#f7a089"/><rect x="227.5" y="775.5" width="40" height="12.38" fill="#3cae96"/><rect x="269.8" y="775.5" width="39.5" height="12.38" fill="#43948f"/><rect x="185" y="787.9" width="40" height="12.38" fill="#f6a08c"/><rect x="227.5" y="787.9" width="40" height="12.38" fill="#43ab92"/><rect x="269.8" y="787.9" width="39.5" height="12.38" fill="#429890"/><rect x="185" y="800.3" width="40" height="12.38" fill="#f7a08b"/><rect x="227.5" y="800.3" width="40" height="12.38" fill="#49a98e"/><rect x="269.8" y="800.3" width="39.5" height="12.38" fill="#429890"/><rect x="185" y="812.6" width="40" height="12.38" fill="#f7a08b"/><rect x="227.5" y="812.6" width="40" height="12.38" fill="#46aa90"/><rect x="269.8" y="812.6" width="39.5" height="12.38" fill="#429890"/><rect x="185" y="825" width="40" height="12.38" fill="#f7a08b"/><rect x="227.5" y="825" width="40" height="12.38" fill="#49a98e"/><rect x="269.8" y="825" width="39.5" height="12.38" fill="#429890"/><rect x="185" y="837.4" width="40" height="12.38" fill="#f7a08b"/><rect x="227.5" y="837.4" width="40" height="12.38" fill="#46aa90"/><rect x="269.8" y="837.4" width="39.5" height="12.38" fill="#429990"/><rect x="185" y="849.8" width="40" height="12.38" fill="#f7a08b"/><rect x="227.5" y="849.8" width="40" height="12.38" fill="#49a98e"/><rect x="269.8" y="849.8" width="39.5" height="12.38" fill="#429990"/><rect x="185" y="862.1" width="40" height="12.38" fill="#f7a089"/><rect x="227.5" y="862.1" width="40" height="12.38" fill="#49a98e"/><rect x="269.8" y="862.1" width="39.5" height="12.38" fill="#429890"/><rect x="185" y="874.5" width="40" height="12.38" fill="#676096"/><rect x="227.5" y="874.5" width="40" height="12.38" fill="#46718a"/><rect x="269.8" y="874.5" width="39.5" height="12.38" fill="#429990"/><rect x="185" y="886.9" width="40" height="12.38" fill="#8c6c9c"/><rect x="227.5" y="886.9" width="40" height="12.38" fill="#3daa95"/><rect x="269.8" y="886.9" width="39.5" height="12.38" fill="#46748a"/><rect x="185" y="899.3" width="40" height="12.38" fill="#766598"/><rect x="227.5" y="899.3" width="40" height="12.38" fill="#46728a"/><rect x="269.8" y="899.3" width="39.5" height="12.38" fill="#3ea594"/><rect x="185" y="911.7" width="40" height="12.38" fill="#635e95"/><rect x="227.5" y="911.7" width="40" height="12.38" fill="#44898d"/><rect x="269.8" y="911.7" width="39.5" height="12.38" fill="#429890"/><rect x="185" y="924" width="40" height="12.38" fill="#5a5c93"/><rect x="227.5" y="924" width="40" height="12.38" fill="#43928f"/><rect x="269.8" y="924" width="39.5" height="12.38" fill="#438f8e"/><rect x="185" y="936.4" width="40" height="12.38" fill="#5c5c94"/><rect x="227.5" y="936.4" width="40" height="12.38" fill="#43928f"/><rect x="269.8" y="936.4" width="39.5" height="12.38" fill="#43948f"/><rect x="185" y="948.8" width="40" height="12.38" fill="#676096"/><rect x="227.5" y="948.8" width="40" height="12.38" fill="#43948f"/><rect x="269.8" y="948.8" width="39.5" height="12.38" fill="#429990"/><rect x="185" y="961.2" width="40" height="12.38" fill="#6b6196"/><rect x="227.5" y="961.2" width="40" height="12.38" fill="#43948f"/><rect x="269.8" y="961.2" width="39.5" height="12.38" fill="#419c91"/><rect x="185" y="973.6" width="40" height="12.38" fill="#635e95"/><rect x="227.5" y="973.6" width="40" height="12.38" fill="#43948f"/><rect x="269.8" y="973.6" width="39.5" height="12.38" fill="#419b91"/><rect x="185" y="985.9" width="40" height="12.38" fill="#605d95"/><rect x="227.5" y="985.9" width="40" height="12.38" fill="#429690"/><rect x="269.8" y="985.9" width="39.5" height="12.38" fill="#429890"/><rect x="185" y="998.3" width="40" height="12.38" fill="#676096"/><rect x="227.5" y="998.3" width="40" height="12.38" fill="#429990"/><rect x="269.8" y="998.3" width="39.5" height="12.38" fill="#419b91"/><rect x="185" y="1010.7" width="40" height="12.38" fill="#766598"/><rect x="227.5" y="1010.7" width="40" height="12.38" fill="#44858c"/><rect x="269.8" y="1010.7" width="39.5" height="12.38" fill="#46aa90"/><rect x="185" y="1023.1" width="40" height="12.38" fill="#605d95"/><rect x="227.5" y="1023.1" width="40" height="12.38" fill="#3cae96"/><rect x="269.8" y="1023.1" width="39.5" height="12.38" fill="#45838c"/><rect x="185" y="1035.4" width="40" height="12.38" fill="#6b6196"/><rect x="227.5" y="1035.4" width="40" height="12.38" fill="#409e92"/><rect x="269.8" y="1035.4" width="39.5" height="12.38" fill="#40a192"/><rect x="185" y="1047.8" width="40" height="12.38" fill="#6b6196"/><rect x="227.5" y="1047.8" width="40" height="12.38" fill="#409e92"/><rect x="269.8" y="1047.8" width="39.5" height="12.38" fill="#409f92"/><rect x="185" y="1060.2" width="40" height="12.38" fill="#e28d8c"/><rect x="227.5" y="1060.2" width="40" height="12.38" fill="#60a080"/><rect x="269.8" y="1060.2" width="39.5" height="12.38" fill="#50a68a"/><rect x="185" y="1072.6" width="40" height="12.38" fill="#8e6d9c"/><rect x="227.5" y="1072.6" width="40" height="12.38" fill="#45818c"/><rect x="269.8" y="1072.6" width="39.5" height="12.38" fill="#7b956e"/><rect x="185" y="1085" width="40" height="12.38" fill="#4f5c8f"/><rect x="227.5" y="1085" width="40" height="12.38" fill="#419c91"/><rect x="269.8" y="1085" width="39.5" height="12.38" fill="#419c91"/><rect x="185" y="1097.3" width="40" height="12.38" fill="#4f5c8f"/><rect x="227.5" y="1097.3" width="40" height="12.38" fill="#419c91"/><rect x="269.8" y="1097.3" width="39.5" height="12.38" fill="#419c91"/><rect x="185" y="1109.7" width="40" height="12.38" fill="#ea958a"/><rect x="227.5" y="1109.7" width="40" height="12.38" fill="#b87048"/><rect x="269.8" y="1109.7" width="39.5" height="12.38" fill="#409f92"/><rect x="185" y="1122.1" width="40" height="12.38" fill="#ea958a"/><rect x="227.5" y="1122.1" width="40" height="12.38" fill="#b87048"/><rect x="269.8" y="1122.1" width="39.5" height="12.38" fill="#409f92"/><rect x="185" y="1134.5" width="40" height="12.38" fill="#e08c8c"/><rect x="227.5" y="1134.5" width="40" height="12.38" fill="#719975"/><rect x="269.8" y="1134.5" width="39.5" height="12.38" fill="#60a080"/><rect x="185" y="1146.8" width="40" height="12.38" fill="#a07898"/><rect x="227.5" y="1146.8" width="40" height="12.38" fill="#96885d"/><rect x="269.8" y="1146.8" width="39.5" height="12.38" fill="#429890"/><rect x="185" y="1159.2" width="40" height="12.38" fill="#856a9b"/><rect x="227.5" y="1159.2" width="40" height="12.38" fill="#dd593e"/><rect x="269.8" y="1159.2" width="39.5" height="12.38" fill="#46648b"/><rect x="185" y="1171.6" width="40" height="12.38" fill="#585c92"/><rect x="227.5" y="1171.6" width="40" height="12.38" fill="#6b6196"/><rect x="269.8" y="1171.6" width="39.5" height="12.38" fill="#e16d5c"/><rect x="185" y="1184" width="40" height="12.38" fill="#585c92"/><rect x="227.5" y="1184" width="40" height="12.38" fill="#6b6196"/><rect x="269.8" y="1184" width="39.5" height="12.38" fill="#e16d5c"/><rect x="185" y="1196.4" width="40" height="12.38" fill="#465d8c"/><rect x="227.5" y="1196.4" width="40" height="12.38" fill="#50a68a"/><rect x="269.8" y="1196.4" width="39.5" height="12.38" fill="#a47e54"/><rect x="185" y="1208.7" width="40" height="12.38" fill="#676096"/><rect x="227.5" y="1208.7" width="40" height="12.38" fill="#71d0e6"/><rect x="269.8" y="1208.7" width="39.5" height="12.38" fill="#679d7b"/><rect x="185" y="1221.1" width="40" height="12.38" fill="#46608c"/><rect x="227.5" y="1221.1" width="40" height="12.38" fill="#d95c3f"/><rect x="269.8" y="1221.1" width="39.5" height="12.38" fill="#e3614c"/><rect x="185" y="1233.5" width="40" height="12.38" fill="#46608c"/><rect x="227.5" y="1233.5" width="40" height="12.38" fill="#d95c3f"/><rect x="269.8" y="1233.5" width="39.5" height="12.38" fill="#e3614c"/><rect x="185" y="1245.9" width="40" height="12.38" fill="#4f5c8f"/><rect x="227.5" y="1245.9" width="40" height="12.38" fill="#df583e"/><rect x="269.8" y="1245.9" width="39.5" height="12.38" fill="#71d0e6"/><rect x="185" y="1258.2" width="40" height="12.38" fill="#4f5c8f"/><rect x="227.5" y="1258.2" width="40" height="12.38" fill="#df583e"/><rect x="269.8" y="1258.2" width="39.5" height="12.38" fill="#71d0e6"/><rect x="185" y="1270.6" width="40" height="12.38" fill="#46788a"/><rect x="227.5" y="1270.6" width="40" height="12.38" fill="#e55a43"/><rect x="269.8" y="1270.6" width="39.5" height="12.38" fill="#b89a9a"/><rect x="185" y="1283" width="40" height="12.38" fill="#429990"/><rect x="227.5" y="1283" width="40" height="12.38" fill="#c38f8b"/><rect x="269.8" y="1283" width="39.5" height="12.38" fill="#dd7364"/><rect x="185" y="1295.4" width="40" height="12.38" fill="#ad784f"/><rect x="227.5" y="1295.4" width="40" height="12.38" fill="#b89a9a"/><rect x="269.8" y="1295.4" width="39.5" height="12.38" fill="#b89a9a"/><rect x="185" y="1307.8" width="40" height="12.38" fill="#d26041"/><rect x="227.5" y="1307.8" width="40" height="12.38" fill="#b89a9a"/><rect x="269.8" y="1307.8" width="39.5" height="12.38" fill="#b89a9a"/><rect x="185" y="1320.1" width="40" height="12.38" fill="#e26957"/><rect x="227.5" y="1320.1" width="40" height="12.38" fill="#b89a9a"/><rect x="269.8" y="1320.1" width="39.5" height="12.38" fill="#b89a9a"/><rect x="185" y="1332.5" width="40" height="12.38" fill="#e26957"/><rect x="227.5" y="1332.5" width="40" height="12.38" fill="#b89a9a"/><rect x="269.8" y="1332.5" width="39.5" height="12.38" fill="#b89a9a"/></g>
<rect x="185" y="45.2" width="40" height="1299.7" fill="none" stroke="#000" stroke-width="0.7"/>
<rect x="227.5" y="45.2" width="40" height="1299.7" fill="none" stroke="#000" stroke-width="0.7"/>
<rect x="269.8" y="45.2" width="39.5" height="1299.7" fill="none" stroke="#000" stroke-width="0.7"/>
<g font-size="8.6" text-anchor="middle" stroke="#000" stroke-width="0.2"><text x="205" y="54.5">1.000</text><text x="247.5" y="54.5">0.647</text><text x="289.6" y="54.5">0.648</text><text x="205" y="66.9">1.000</text><text x="247.5" y="66.9">0.654</text><text x="289.6" y="66.9">0.628</text><text x="205" y="79.2">1.000</text><text x="247.5" y="79.2">0.648</text><text x="289.6" y="79.2">0.631</text><text x="205" y="91.6">0.903</text><text x="247.5" y="91.6">0.646</text><text x="289.6" y="91.6">0.622</text><text x="205" y="104">0.893</text><text x="247.5" y="104">0.668</text><text x="289.6" y="104">0.608</text><text x="205" y="116.4">0.868</text><text x="247.5" y="116.4">0.645</text><text x="289.6" y="116.4">0.628</text><text x="205" y="128.8">0.861</text><text x="247.5" y="128.8">0.597</text><text x="289.6" y="128.8">0.590</text><text x="205" y="141.1">0.858</text><text x="247.5" y="141.1">0.596</text><text x="289.6" y="141.1">0.588</text><text x="205" y="153.5">0.724</text><text x="247.5" y="153.5">0.676</text><text x="289.6" y="153.5">0.632</text><text x="205" y="165.9">0.722</text><text x="247.5" y="165.9">0.676</text><text x="289.6" y="165.9">0.630</text><text x="205" y="178.3">0.724</text><text x="247.5" y="178.3">0.671</text><text x="289.6" y="178.3">0.632</text><text x="205" y="190.6">0.724</text><text x="247.5" y="190.6">0.668</text><text x="289.6" y="190.6">0.630</text><text x="205" y="203">0.861</text><text x="247.5" y="203">0.570</text><text x="289.6" y="203">0.584</text><text x="205" y="215.4">0.723</text><text x="247.5" y="215.4">0.657</text><text x="289.6" y="215.4">0.623</text><text x="205" y="227.8">0.723</text><text x="247.5" y="227.8">0.654</text><text x="289.6" y="227.8">0.622</text><text x="205" y="240.2">0.723</text><text x="247.5" y="240.2">0.652</text><text x="289.6" y="240.2">0.623</text><text x="205" y="252.5">0.723</text><text x="247.5" y="252.5">0.651</text><text x="289.6" y="252.5">0.621</text><text x="205" y="264.9">0.722</text><text x="247.5" y="264.9">0.648</text><text x="289.6" y="264.9">0.623</text><text x="205" y="277.3">0.723</text><text x="247.5" y="277.3">0.646</text><text x="289.6" y="277.3">0.622</text><text x="205" y="289.7">0.723</text><text x="247.5" y="289.7">0.646</text><text x="289.6" y="289.7">0.622</text><text x="205" y="302">0.721</text><text x="247.5" y="302">0.643</text><text x="289.6" y="302">0.625</text><text x="205" y="314.4">0.722</text><text x="247.5" y="314.4">0.644</text><text x="289.6" y="314.4">0.622</text><text x="205" y="326.8">0.722</text><text x="247.5" y="326.8">0.643</text><text x="289.6" y="326.8">0.618</text><text x="205" y="339.2">0.722</text><text x="247.5" y="339.2">0.638</text><text x="289.6" y="339.2">0.619</text><text x="205" y="351.6">0.708</text><text x="247.5" y="351.6">0.640</text><text x="289.6" y="351.6">0.612</text><text x="205" y="363.9">0.708</text><text x="247.5" y="363.9">0.640</text><text x="289.6" y="363.9">0.612</text><text x="205" y="376.3">0.708</text><text x="247.5" y="376.3">0.640</text><text x="289.6" y="376.3">0.612</text><text x="205" y="388.7">0.708</text><text x="247.5" y="388.7">0.640</text><text x="289.6" y="388.7">0.612</text><text x="205" y="401.1">0.709</text><text x="247.5" y="401.1">0.637</text><text x="289.6" y="401.1">0.611</text><text x="205" y="413.5">0.709</text><text x="247.5" y="413.5">0.636</text><text x="289.6" y="413.5">0.611</text><text x="205" y="425.8">0.709</text><text x="247.5" y="425.8">0.636</text><text x="289.6" y="425.8">0.610</text><text x="205" y="438.2">0.709</text><text x="247.5" y="438.2">0.636</text><text x="289.6" y="438.2">0.610</text><text x="205" y="450.6">0.709</text><text x="247.5" y="450.6">0.635</text><text x="289.6" y="450.6">0.610</text><text x="205" y="463">0.709</text><text x="247.5" y="463">0.632</text><text x="289.6" y="463">0.611</text><text x="205" y="475.3">0.709</text><text x="247.5" y="475.3">0.632</text><text x="289.6" y="475.3">0.611</text><text x="205" y="487.7">0.708</text><text x="247.5" y="487.7">0.633</text><text x="289.6" y="487.7">0.610</text><text x="205" y="500.1">0.709</text><text x="247.5" y="500.1">0.632</text><text x="289.6" y="500.1">0.610</text><text x="205" y="512.5">0.709</text><text x="247.5" y="512.5">0.631</text><text x="289.6" y="512.5">0.611</text><text x="205" y="524.9">0.709</text><text x="247.5" y="524.9">0.630</text><text x="289.6" y="524.9">0.611</text><text x="205" y="537.2">0.709</text><text x="247.5" y="537.2">0.628</text><text x="289.6" y="537.2">0.611</text><text x="205" y="549.6">0.708</text><text x="247.5" y="549.6">0.628</text><text x="289.6" y="549.6">0.608</text><text x="205" y="562">0.708</text><text x="247.5" y="562">0.628</text><text x="289.6" y="562">0.608</text><text x="205" y="574.4">0.708</text><text x="247.5" y="574.4">0.628</text><text x="289.6" y="574.4">0.607</text><text x="205" y="586.7">0.708</text><text x="247.5" y="586.7">0.628</text><text x="289.6" y="586.7">0.607</text><text x="205" y="599.1">0.708</text><text x="247.5" y="599.1">0.627</text><text x="289.6" y="599.1">0.607</text><text x="205" y="611.5">0.708</text><text x="247.5" y="611.5">0.626</text><text x="289.6" y="611.5">0.606</text><text x="205" y="623.9">0.708</text><text x="247.5" y="623.9">0.626</text><text x="289.6" y="623.9">0.606</text><text x="205" y="636.3">0.707</text><text x="247.5" y="636.3">0.628</text><text x="289.6" y="636.3">0.604</text><text x="205" y="648.6">0.707</text><text x="247.5" y="648.6">0.628</text><text x="289.6" y="648.6">0.604</text><text x="205" y="661">0.708</text><text x="247.5" y="661">0.625</text><text x="289.6" y="661">0.606</text><text x="205" y="673.4">0.708</text><text x="247.5" y="673.4">0.623</text><text x="289.6" y="673.4">0.606</text><text x="205" y="685.8">0.708</text><text x="247.5" y="685.8">0.619</text><text x="289.6" y="685.8">0.605</text><text x="205" y="698.1">0.715</text><text x="247.5" y="698.1">0.602</text><text x="289.6" y="698.1">0.610</text><text x="205" y="710.5">0.703</text><text x="247.5" y="710.5">0.616</text><text x="289.6" y="710.5">0.602</text><text x="205" y="722.9">0.703</text><text x="247.5" y="722.9">0.616</text><text x="289.6" y="722.9">0.602</text><text x="205" y="735.3">0.714</text><text x="247.5" y="735.3">0.597</text><text x="289.6" y="735.3">0.610</text><text x="205" y="747.7">0.714</text><text x="247.5" y="747.7">0.597</text><text x="289.6" y="747.7">0.610</text><text x="205" y="760">0.714</text><text x="247.5" y="760">0.596</text><text x="289.6" y="760">0.609</text><text x="205" y="772.4">0.713</text><text x="247.5" y="772.4">0.594</text><text x="289.6" y="772.4">0.611</text><text x="205" y="784.8">0.711</text><text x="247.5" y="784.8">0.595</text><text x="289.6" y="784.8">0.612</text><text x="205" y="797.2">0.713</text><text x="247.5" y="797.2">0.593</text><text x="289.6" y="797.2">0.610</text><text x="205" y="809.5">0.712</text><text x="247.5" y="809.5">0.591</text><text x="289.6" y="809.5">0.610</text><text x="205" y="821.9">0.712</text><text x="247.5" y="821.9">0.592</text><text x="289.6" y="821.9">0.610</text><text x="205" y="834.3">0.712</text><text x="247.5" y="834.3">0.591</text><text x="289.6" y="834.3">0.610</text><text x="205" y="846.7">0.712</text><text x="247.5" y="846.7">0.592</text><text x="289.6" y="846.7">0.609</text><text x="205" y="859.1">0.712</text><text x="247.5" y="859.1">0.591</text><text x="289.6" y="859.1">0.609</text><text x="205" y="871.4">0.711</text><text x="247.5" y="871.4">0.591</text><text x="289.6" y="871.4">0.610</text><text x="205" y="883.8">0.658</text><text x="247.5" y="883.8">0.630</text><text x="289.6" y="883.8">0.609</text><text x="205" y="896.2">0.668</text><text x="247.5" y="896.2">0.598</text><text x="289.6" y="896.2">0.628</text><text x="205" y="908.6">0.662</text><text x="247.5" y="908.6">0.629</text><text x="289.6" y="908.6">0.601</text><text x="205" y="920.9">0.657</text><text x="247.5" y="920.9">0.617</text><text x="289.6" y="920.9">0.610</text><text x="205" y="933.3">0.654</text><text x="247.5" y="933.3">0.613</text><text x="289.6" y="933.3">0.614</text><text x="205" y="945.7">0.655</text><text x="247.5" y="945.7">0.613</text><text x="289.6" y="945.7">0.612</text><text x="205" y="958.1">0.658</text><text x="247.5" y="958.1">0.612</text><text x="289.6" y="958.1">0.609</text><text x="205" y="970.5">0.659</text><text x="247.5" y="970.5">0.612</text><text x="289.6" y="970.5">0.607</text><text x="205" y="982.8">0.657</text><text x="247.5" y="982.8">0.612</text><text x="289.6" y="982.8">0.608</text><text x="205" y="995.2">0.656</text><text x="247.5" y="995.2">0.611</text><text x="289.6" y="995.2">0.610</text><text x="205" y="1007.6">0.658</text><text x="247.5" y="1007.6">0.609</text><text x="289.6" y="1007.6">0.608</text><text x="205" y="1020">0.662</text><text x="247.5" y="1020">0.619</text><text x="289.6" y="1020">0.592</text><text x="205" y="1032.4">0.656</text><text x="247.5" y="1032.4">0.595</text><text x="289.6" y="1032.4">0.620</text><text x="205" y="1044.7">0.659</text><text x="247.5" y="1044.7">0.606</text><text x="289.6" y="1044.7">0.604</text><text x="205" y="1057.1">0.659</text><text x="247.5" y="1057.1">0.606</text><text x="289.6" y="1057.1">0.605</text><text x="205" y="1069.5">0.695</text><text x="247.5" y="1069.5">0.584</text><text x="289.6" y="1069.5">0.589</text><text x="205" y="1081.9">0.669</text><text x="247.5" y="1081.9">0.621</text><text x="289.6" y="1081.9">0.576</text><text x="205" y="1094.2">0.649</text><text x="247.5" y="1094.2">0.607</text><text x="289.6" y="1094.2">0.607</text><text x="205" y="1106.6">0.649</text><text x="247.5" y="1106.6">0.607</text><text x="289.6" y="1106.6">0.607</text><text x="205" y="1119">0.701</text><text x="247.5" y="1119">0.556</text><text x="289.6" y="1119">0.605</text><text x="205" y="1131.4">0.701</text><text x="247.5" y="1131.4">0.556</text><text x="289.6" y="1131.4">0.605</text><text x="205" y="1143.8">0.694</text><text x="247.5" y="1143.8">0.579</text><text x="289.6" y="1143.8">0.584</text><text x="205" y="1156.1">0.677</text><text x="247.5" y="1156.1">0.568</text><text x="289.6" y="1156.1">0.610</text><text x="205" y="1168.5">0.666</text><text x="247.5" y="1168.5">0.539</text><text x="289.6" y="1168.5">0.639</text><text x="205" y="1180.9">0.653</text><text x="247.5" y="1180.9">0.659</text><text x="289.6" y="1180.9">0.517</text><text x="205" y="1193.3">0.653</text><text x="247.5" y="1193.3">0.659</text><text x="289.6" y="1193.3">0.517</text><text x="205" y="1205.6">0.644</text><text x="247.5" y="1205.6">0.589</text><text x="289.6" y="1205.6">0.563</text><text x="205" y="1218">0.658</text><text x="247.5" y="1218">0.476</text><text x="289.6" y="1218">0.582</text><text x="205" y="1230.4">0.642</text><text x="247.5" y="1230.4">0.541</text><text x="289.6" y="1230.4">0.526</text><text x="205" y="1242.8">0.642</text><text x="247.5" y="1242.8">0.541</text><text x="289.6" y="1242.8">0.526</text><text x="205" y="1255.2">0.649</text><text x="247.5" y="1255.2">0.538</text><text x="289.6" y="1255.2">0.477</text><text x="205" y="1267.5">0.649</text><text x="247.5" y="1267.5">0.538</text><text x="289.6" y="1267.5">0.477</text><text x="205" y="1279.9">0.625</text><text x="247.5" y="1279.9">0.531</text><text x="289.6" y="1279.9">0.500</text><text x="205" y="1292.3">0.609</text><text x="247.5" y="1292.3">0.504</text><text x="289.6" y="1292.3">0.514</text><text x="205" y="1304.7">0.560</text><text x="247.5" y="1304.7">0.500</text><text x="289.6" y="1304.7">0.500</text><text x="205" y="1317">0.544</text><text x="247.5" y="1317">0.500</text><text x="289.6" y="1317">0.500</text><text x="205" y="1329.4">0.520</text><text x="247.5" y="1329.4">0.500</text><text x="289.6" y="1329.4">0.500</text><text x="205" y="1341.8">0.520</text><text x="247.5" y="1341.8">0.500</text><text x="289.6" y="1341.8">0.500</text></g>
<g fill="#5083b8"><rect x="311.6" y="46.5" width="66.7" height="9.9"/><rect x="311.6" y="58.9" width="66.4" height="9.9"/><rect x="311.6" y="71.3" width="66.3" height="9.9"/><rect x="311.6" y="83.6" width="63.1" height="9.9"/><rect x="311.6" y="96" width="63" height="9.9"/><rect x="311.6" y="108.4" width="62.3" height="9.9"/><rect x="311.6" y="120.8" width="59.6" height="9.9"/><rect x="311.6" y="133.1" width="59.4" height="9.9"/><rect x="311.6" y="145.5" width="59" height="9.9"/><rect x="311.6" y="157.9" width="58.9" height="9.9"/><rect x="311.6" y="170.3" width="58.9" height="9.9"/><rect x="311.6" y="182.7" width="58.8" height="9.9"/><rect x="311.6" y="195" width="58.6" height="9.9"/><rect x="311.6" y="207.4" width="58.2" height="9.9"/><rect x="311.6" y="219.8" width="58.1" height="9.9"/><rect x="311.6" y="232.2" width="58.1" height="9.9"/><rect x="311.6" y="244.5" width="58" height="9.9"/><rect x="311.6" y="256.9" width="57.9" height="9.9"/><rect x="311.6" y="269.3" width="57.9" height="9.9"/><rect x="311.6" y="281.7" width="57.9" height="9.9"/><rect x="311.6" y="294.1" width="57.8" height="9.9"/><rect x="311.6" y="306.4" width="57.8" height="9.9"/><rect x="311.6" y="318.8" width="57.6" height="9.9"/><rect x="311.6" y="331.2" width="57.6" height="9.9"/><rect x="311.6" y="343.6" width="56.9" height="9.9"/><rect x="311.6" y="355.9" width="56.9" height="9.9"/><rect x="311.6" y="368.3" width="56.9" height="9.9"/><rect x="311.6" y="380.7" width="56.9" height="9.9"/><rect x="311.6" y="393.1" width="56.9" height="9.9"/><rect x="311.6" y="405.5" width="56.9" height="9.9"/><rect x="311.6" y="417.8" width="56.9" height="9.9"/><rect x="311.6" y="430.2" width="56.9" height="9.9"/><rect x="311.6" y="442.6" width="56.8" height="9.9"/><rect x="311.6" y="455" width="56.8" height="9.9"/><rect x="311.6" y="467.4" width="56.8" height="9.9"/><rect x="311.6" y="479.7" width="56.7" height="9.9"/><rect x="311.6" y="492.1" width="56.7" height="9.9"/><rect x="311.6" y="504.5" width="56.7" height="9.9"/><rect x="311.6" y="516.9" width="56.7" height="9.9"/><rect x="311.6" y="529.2" width="56.6" height="9.9"/><rect x="311.6" y="541.6" width="56.5" height="9.9"/><rect x="311.6" y="554" width="56.5" height="9.9"/><rect x="311.6" y="566.4" width="56.5" height="9.9"/><rect x="311.6" y="578.8" width="56.4" height="9.9"/><rect x="311.6" y="591.1" width="56.4" height="9.9"/><rect x="311.6" y="603.5" width="56.4" height="9.9"/><rect x="311.6" y="615.9" width="56.4" height="9.9"/><rect x="311.6" y="628.3" width="56.4" height="9.9"/><rect x="311.6" y="640.6" width="56.4" height="9.9"/><rect x="311.6" y="653" width="56.3" height="9.9"/><rect x="311.6" y="665.4" width="56.2" height="9.9"/><rect x="311.6" y="677.8" width="56.2" height="9.9"/><rect x="311.6" y="690.2" width="56" height="9.9"/><rect x="311.6" y="702.5" width="55.8" height="9.9"/><rect x="311.6" y="714.9" width="55.8" height="9.9"/><rect x="311.6" y="727.3" width="55.8" height="9.9"/><rect x="311.6" y="739.7" width="55.8" height="9.9"/><rect x="311.6" y="752" width="55.8" height="9.9"/><rect x="311.6" y="764.4" width="55.7" height="9.9"/><rect x="311.6" y="776.8" width="55.7" height="9.9"/><rect x="311.6" y="789.2" width="55.7" height="9.9"/><rect x="311.6" y="801.6" width="55.6" height="9.9"/><rect x="311.6" y="813.9" width="55.6" height="9.9"/><rect x="311.6" y="826.3" width="55.6" height="9.9"/><rect x="311.6" y="838.7" width="55.6" height="9.9"/><rect x="311.6" y="851.1" width="55.5" height="9.9"/><rect x="311.6" y="863.4" width="55.5" height="9.9"/><rect x="311.6" y="875.8" width="55.1" height="9.9"/><rect x="311.6" y="888.2" width="55" height="9.9"/><rect x="311.6" y="900.6" width="55" height="9.9"/><rect x="311.6" y="913" width="54.8" height="9.9"/><rect x="311.6" y="925.3" width="54.7" height="9.9"/><rect x="311.6" y="937.7" width="54.6" height="9.9"/><rect x="311.6" y="950.1" width="54.6" height="9.9"/><rect x="311.6" y="962.5" width="54.6" height="9.9"/><rect x="311.6" y="974.9" width="54.6" height="9.9"/><rect x="311.6" y="987.2" width="54.6" height="9.9"/><rect x="311.6" y="999.6" width="54.5" height="9.9"/><rect x="311.6" y="1012" width="54.4" height="9.9"/><rect x="311.6" y="1024.4" width="54.4" height="9.9"/><rect x="311.6" y="1036.7" width="54.3" height="9.9"/><rect x="311.6" y="1049.1" width="54.3" height="9.9"/><rect x="311.6" y="1061.5" width="54.3" height="9.9"/><rect x="311.6" y="1073.9" width="54.2" height="9.9"/><rect x="311.6" y="1086.3" width="54.2" height="9.9"/><rect x="311.6" y="1098.6" width="54.2" height="9.9"/><rect x="311.6" y="1111" width="54.2" height="9.9"/><rect x="311.6" y="1123.4" width="54.2" height="9.9"/><rect x="311.6" y="1135.8" width="54" height="9.9"/><rect x="311.6" y="1148.1" width="53.9" height="9.9"/><rect x="311.6" y="1160.5" width="53.6" height="9.9"/><rect x="311.6" y="1172.9" width="53.2" height="9.9"/><rect x="311.6" y="1185.3" width="53.2" height="9.9"/><rect x="311.6" y="1197.7" width="52.1" height="9.9"/><rect x="311.6" y="1210" width="49.9" height="9.9"/><rect x="311.6" y="1222.4" width="49.7" height="9.9"/><rect x="311.6" y="1234.8" width="49.7" height="9.9"/><rect x="311.6" y="1247.2" width="48.4" height="9.9"/><rect x="311.6" y="1259.5" width="48.4" height="9.9"/><rect x="311.6" y="1271.9" width="48.1" height="9.9"/><rect x="311.6" y="1284.3" width="47.3" height="9.9"/><rect x="311.6" y="1296.7" width="45.3" height="9.9"/><rect x="311.6" y="1309.1" width="44.9" height="9.9"/><rect x="311.6" y="1321.4" width="44.2" height="9.9"/><rect x="311.6" y="1333.8" width="44.2" height="9.9"/></g>
<g font-size="7.7" fill="#fff" stroke="#fff" stroke-width="0.08"><text x="353.6" y="54.2">0.765</text><text x="353.3" y="66.6">0.761</text><text x="353.2" y="78.9">0.76</text><text x="350" y="91.3">0.724</text><text x="349.9" y="103.7">0.723</text><text x="349.2" y="116.1">0.714</text><text x="346.5" y="128.5">0.683</text><text x="346.3" y="140.8">0.681</text><text x="345.9" y="153.2">0.677</text><text x="345.8" y="165.6">0.676</text><text x="345.8" y="178">0.676</text><text x="345.7" y="190.3">0.674</text><text x="345.5" y="202.7">0.672</text><text x="345.1" y="215.1">0.668</text><text x="345" y="227.5">0.666</text><text x="345" y="239.9">0.666</text><text x="344.9" y="252.2">0.665</text><text x="344.8" y="264.6">0.664</text><text x="344.8" y="277">0.664</text><text x="344.8" y="289.4">0.664</text><text x="344.7" y="301.7">0.663</text><text x="344.7" y="314.1">0.663</text><text x="344.5" y="326.5">0.661</text><text x="344.5" y="338.9">0.66</text><text x="343.8" y="351.3">0.653</text><text x="343.8" y="363.6">0.653</text><text x="343.8" y="376">0.653</text><text x="343.8" y="388.4">0.653</text><text x="343.8" y="400.8">0.652</text><text x="343.8" y="413.2">0.652</text><text x="343.8" y="425.5">0.652</text><text x="343.8" y="437.9">0.652</text><text x="343.7" y="450.3">0.651</text><text x="343.7" y="462.7">0.651</text><text x="343.7" y="475">0.651</text><text x="343.6" y="487.4">0.65</text><text x="343.6" y="499.8">0.65</text><text x="343.6" y="512.2">0.65</text><text x="343.6" y="524.6">0.65</text><text x="343.5" y="536.9">0.649</text><text x="343.4" y="549.3">0.648</text><text x="343.4" y="561.7">0.648</text><text x="343.4" y="574.1">0.648</text><text x="343.3" y="586.4">0.647</text><text x="343.3" y="598.8">0.647</text><text x="343.3" y="611.2">0.647</text><text x="343.3" y="623.6">0.647</text><text x="343.3" y="636">0.647</text><text x="343.3" y="648.3">0.647</text><text x="343.2" y="660.7">0.646</text><text x="343.1" y="673.1">0.645</text><text x="343.1" y="685.5">0.644</text><text x="342.9" y="697.8">0.642</text><text x="342.7" y="710.2">0.64</text><text x="342.7" y="722.6">0.64</text><text x="342.7" y="735">0.64</text><text x="342.7" y="747.4">0.64</text><text x="342.7" y="759.7">0.64</text><text x="342.6" y="772.1">0.639</text><text x="342.6" y="784.5">0.639</text><text x="342.6" y="796.9">0.639</text><text x="342.5" y="809.2">0.638</text><text x="342.5" y="821.6">0.638</text><text x="342.5" y="834">0.638</text><text x="342.5" y="846.4">0.638</text><text x="342.4" y="858.8">0.637</text><text x="342.4" y="871.1">0.637</text><text x="342" y="883.5">0.632</text><text x="341.9" y="895.9">0.631</text><text x="341.9" y="908.3">0.631</text><text x="341.7" y="920.6">0.628</text><text x="341.6" y="933">0.627</text><text x="341.5" y="945.4">0.626</text><text x="341.5" y="957.8">0.626</text><text x="341.5" y="970.2">0.626</text><text x="341.5" y="982.5">0.626</text><text x="341.5" y="994.9">0.626</text><text x="341.4" y="1007.3">0.625</text><text x="341.3" y="1019.7">0.624</text><text x="341.3" y="1032.1">0.624</text><text x="341.2" y="1044.4">0.623</text><text x="341.2" y="1056.8">0.623</text><text x="341.2" y="1069.2">0.623</text><text x="341.1" y="1081.6">0.622</text><text x="341.1" y="1093.9">0.621</text><text x="341.1" y="1106.3">0.621</text><text x="341.1" y="1118.7">0.621</text><text x="341.1" y="1131.1">0.621</text><text x="340.9" y="1143.5">0.619</text><text x="340.8" y="1155.8">0.618</text><text x="340.5" y="1168.2">0.615</text><text x="340.1" y="1180.6">0.61</text><text x="340.1" y="1193">0.61</text><text x="339" y="1205.3">0.598</text><text x="336.8" y="1217.7">0.572</text><text x="336.6" y="1230.1">0.57</text><text x="336.6" y="1242.5">0.57</text><text x="335.3" y="1254.9">0.555</text><text x="335.3" y="1267.2">0.555</text><text x="335" y="1279.6">0.552</text><text x="334.2" y="1292">0.542</text><text x="332.2" y="1304.4">0.52</text><text x="331.8" y="1316.7">0.515</text><text x="331.1" y="1329.1">0.507</text><text x="331.1" y="1341.5">0.507</text></g>
<path d="M311.6 1344.2 H381.4" stroke="#333" stroke-width="0.5" fill="none"/>
<path d="M311.6 1344.2 v1.5" stroke="#333" stroke-width="0.5"/>
<text x="311.6" y="1351.2" font-size="5.6" text-anchor="middle">0</text>
<path d="M329 1344.2 v1.5" stroke="#333" stroke-width="0.5"/>
<text x="329" y="1351.2" font-size="5.6" text-anchor="middle">0.2</text>
<path d="M346.5 1344.2 v1.5" stroke="#333" stroke-width="0.5"/>
<text x="346.5" y="1351.2" font-size="5.6" text-anchor="middle">0.4</text>
<path d="M363.9 1344.2 v1.5" stroke="#333" stroke-width="0.5"/>
<text x="363.9" y="1351.2" font-size="5.6" text-anchor="middle">0.6</text>
<path d="M381.4 1344.2 v1.5" stroke="#333" stroke-width="0.5"/>
<text x="381.4" y="1351.2" font-size="5.6" text-anchor="middle">0.8</text>
<text x="393.4" y="669.6" font-size="8.4" font-weight="bold">AUC</text>
<text x="423.2" y="669.6" font-size="8.4" font-weight="bold">Cohort</text>
<rect x="393.1" y="674.5" width="10.5" height="52.3" fill="url(#aucg)"/>
<text x="406.2" y="679.1" font-size="8.6">1</text>
<path d="M393.1 676.1 h2 M401.6 676.1 h2" stroke="#fff" stroke-width="0.5"/>
<text x="406.2" y="695.8" font-size="8.6">0.8</text>
<path d="M393.1 692.8 h2 M401.6 692.8 h2" stroke="#fff" stroke-width="0.5"/>
<text x="406.2" y="711.8" font-size="8.6">0.6</text>
<path d="M393.1 708.8 h2 M401.6 708.8 h2" stroke="#fff" stroke-width="0.5"/>
<text x="406.2" y="728.1" font-size="8.6">0.4</text>
<path d="M393.1 725.1 h2 M401.6 725.1 h2" stroke="#fff" stroke-width="0.5"/>
<rect x="423.2" y="675.2" width="8.7" height="8.8" fill="#e8503c"/>
<text x="434.8" y="682.6" font-size="8.6">GSE70770</text>
<rect x="423.2" y="685" width="8.7" height="8.8" fill="#3fae96"/>
<text x="434.8" y="692.4" font-size="8.6">MSKCC</text>
<rect x="423.2" y="694.8" width="8.7" height="8.8" fill="#6fc8d8"/>
<text x="434.8" y="702.2" font-size="8.6">TCGA</text>
</g>
<g id="pB">
<path d="M537.6 351.4V366.3M537.6 391.1V416.4" stroke="#3a48b4" stroke-width="1.2" fill="none"/><rect x="525" y="366.3" width="25.2" height="24.8" fill="#fff" stroke="#3a48b4" stroke-width="1.2"/><path d="M525 378.2h25.2" stroke="#3a48b4" stroke-width="2" fill="none"/>
<path d="M557.8 354.8V381.7M557.8 402V429.8" stroke="#d7261e" stroke-width="1.2" fill="none"/><rect x="545.2" y="381.7" width="25.2" height="20.4" fill="#fff" stroke="#d7261e" stroke-width="1.2"/><path d="M545.2 390.1h25.2" stroke="#d7261e" stroke-width="2" fill="none"/><path d="M557.8 432.3h0M557.8 434.9h0M557.8 437.5h0M557.8 440.1h0M557.8 442.8h0M557.8 445.4h0M557.8 448h0M557.8 450.6h0M557.8 453.2h0M557.8 455.8h0M557.8 458.5h0M557.8 461.1h0" stroke="#d7261e" stroke-width="5.6" stroke-linecap="round" fill="none"/>
<path d="M587.9 443.2V451.1M587.9 466.5V481.9" stroke="#3a48b4" stroke-width="1.2" fill="none"/><rect x="575.3" y="451.1" width="25.2" height="15.4" fill="#fff" stroke="#3a48b4" stroke-width="1.2"/><path d="M575.3 458.6h25.2" stroke="#3a48b4" stroke-width="2" fill="none"/><path d="M587.9 427.8h0" stroke="#3a48b4" stroke-width="5.6" stroke-linecap="round" fill="none"/>
<path d="M608.1 387.6V426.3M608.1 453.1V488.4" stroke="#d7261e" stroke-width="1.2" fill="none"/><rect x="595.5" y="426.3" width="25.2" height="26.8" fill="#fff" stroke="#d7261e" stroke-width="1.2"/><path d="M595.5 438.7h25.2" stroke="#d7261e" stroke-width="2" fill="none"/><path d="M608.1 374.2h0M608.1 380.7h0" stroke="#d7261e" stroke-width="5.6" stroke-linecap="round" fill="none"/>
<path d="M638.3 358.3V368.2M638.3 395.6V408.5" stroke="#3a48b4" stroke-width="1.2" fill="none"/><rect x="625.7" y="368.2" width="25.2" height="27.3" fill="#fff" stroke="#3a48b4" stroke-width="1.2"/><path d="M625.7 378.7h25.2" stroke="#3a48b4" stroke-width="2" fill="none"/>
<path d="M658.5 351.4V376.2M658.5 397.5V424.8" stroke="#d7261e" stroke-width="1.2" fill="none"/><rect x="645.9" y="376.2" width="25.2" height="21.3" fill="#fff" stroke="#d7261e" stroke-width="1.2"/><path d="M645.9 386.6h25.2" stroke="#d7261e" stroke-width="2" fill="none"/><path d="M658.5 429.8h0M658.5 434.3h0M658.5 438.7h0M658.5 443.2h0M658.5 457.1h0" stroke="#d7261e" stroke-width="5.6" stroke-linecap="round" fill="none"/>
<path d="M688.6 386.1V403.5M688.6 422.9V433.3" stroke="#3a48b4" stroke-width="1.2" fill="none"/><rect x="676" y="403.5" width="25.2" height="19.4" fill="#fff" stroke="#3a48b4" stroke-width="1.2"/><path d="M676 414.9h25.2" stroke="#3a48b4" stroke-width="2" fill="none"/>
<path d="M708.8 377.7V393.1M708.8 407V424.8" stroke="#d7261e" stroke-width="1.2" fill="none"/><rect x="696.2" y="393.1" width="25.2" height="13.9" fill="#fff" stroke="#d7261e" stroke-width="1.2"/><path d="M696.2 399.5h25.2" stroke="#d7261e" stroke-width="2" fill="none"/><path d="M708.8 368.7h0M708.8 371.2h0M708.8 429.8h0M708.8 433.9h0M708.8 438.1h0M708.8 442.2h0M708.8 452.1h0M708.8 467h0" stroke="#d7261e" stroke-width="5.6" stroke-linecap="round" fill="none"/>
<path d="M738.9 266V281.9M738.9 298.3V311.2" stroke="#3a48b4" stroke-width="1.2" fill="none"/><rect x="726.3" y="281.9" width="25.2" height="16.4" fill="#fff" stroke="#3a48b4" stroke-width="1.2"/><path d="M726.3 289.3h25.2" stroke="#3a48b4" stroke-width="2" fill="none"/>
<path d="M759.1 255.6V278.9M759.1 293.8V318.1" stroke="#d7261e" stroke-width="1.2" fill="none"/><rect x="746.5" y="278.9" width="25.2" height="14.9" fill="#fff" stroke="#d7261e" stroke-width="1.2"/><path d="M746.5 286.3h25.2" stroke="#d7261e" stroke-width="2" fill="none"/><path d="M759.1 212.9h0M759.1 238.7h0M759.1 255.6h0M759.1 318.6h0M759.1 328h0M759.1 336h0M759.1 347.9h0M759.1 349.9h0" stroke="#d7261e" stroke-width="5.6" stroke-linecap="round" fill="none"/>
<path d="M789.2 441.2V472.5M789.2 497.8V511.7" stroke="#3a48b4" stroke-width="1.2" fill="none"/><rect x="776.6" y="472.5" width="25.2" height="25.3" fill="#fff" stroke="#3a48b4" stroke-width="1.2"/><path d="M776.6 486.9h25.2" stroke="#3a48b4" stroke-width="2" fill="none"/>
<path d="M809.5 391.6V442.7M809.5 474V514.7" stroke="#d7261e" stroke-width="1.2" fill="none"/><rect x="796.9" y="442.7" width="25.2" height="31.3" fill="#fff" stroke="#d7261e" stroke-width="1.2"/><path d="M796.9 458.6h25.2" stroke="#d7261e" stroke-width="2" fill="none"/><path d="M809.5 364.8h0M809.5 385.6h0M809.5 388.6h0" stroke="#d7261e" stroke-width="5.6" stroke-linecap="round" fill="none"/>
<path d="M839.6 272.4V284.9M839.6 304.2V328" stroke="#3a48b4" stroke-width="1.2" fill="none"/><rect x="827" y="284.9" width="25.2" height="19.4" fill="#fff" stroke="#3a48b4" stroke-width="1.2"/><path d="M827 294.3h25.2" stroke="#3a48b4" stroke-width="2" fill="none"/><path d="M839.6 336.5h0" stroke="#3a48b4" stroke-width="5.6" stroke-linecap="round" fill="none"/>
<path d="M859.8 278.4V300.7M859.8 319.1V345.4" stroke="#d7261e" stroke-width="1.2" fill="none"/><rect x="847.2" y="300.7" width="25.2" height="18.4" fill="#fff" stroke="#d7261e" stroke-width="1.2"/><path d="M847.2 308.7h25.2" stroke="#d7261e" stroke-width="2" fill="none"/><path d="M859.8 347.9h0M859.8 351.1h0M859.8 354.3h0M859.8 357.4h0M859.8 360.6h0M859.8 363.8h0M859.8 371.7h0M859.8 380.2h0M859.8 385.1h0M859.8 386.6h0" stroke="#d7261e" stroke-width="5.6" stroke-linecap="round" fill="none"/>
<path d="M889.9 165.7V185.1M889.9 204.9V220.3" stroke="#3a48b4" stroke-width="1.2" fill="none"/><rect x="877.3" y="185.1" width="25.2" height="19.9" fill="#fff" stroke="#3a48b4" stroke-width="1.2"/><path d="M877.3 198h25.2" stroke="#3a48b4" stroke-width="2" fill="none"/><path d="M889.9 150.8h0M889.9 238.7h0" stroke="#3a48b4" stroke-width="5.6" stroke-linecap="round" fill="none"/>
<path d="M910.1 176.6V202.5M910.1 218.8V241.2" stroke="#d7261e" stroke-width="1.2" fill="none"/><rect x="897.5" y="202.5" width="25.2" height="16.4" fill="#fff" stroke="#d7261e" stroke-width="1.2"/><path d="M897.5 210.4h25.2" stroke="#d7261e" stroke-width="2" fill="none"/><path d="M910.1 174.2h0M910.1 243.7h0M910.1 247h0M910.1 250.3h0M910.1 253.6h0M910.1 261.5h0" stroke="#d7261e" stroke-width="5.6" stroke-linecap="round" fill="none"/>
<path d="M940.2 340.5V347.9M940.2 358.8V371.2" stroke="#3a48b4" stroke-width="1.2" fill="none"/><rect x="927.6" y="347.9" width="25.2" height="10.9" fill="#fff" stroke="#3a48b4" stroke-width="1.2"/><path d="M927.6 351.4h25.2" stroke="#3a48b4" stroke-width="2" fill="none"/><path d="M940.2 381.2h0M940.2 392.6h0M940.2 395.6h0M940.2 398.5h0M940.2 408h0" stroke="#3a48b4" stroke-width="5.6" stroke-linecap="round" fill="none"/>
<path d="M960.4 342.9V357.8M960.4 368.2V380.2" stroke="#d7261e" stroke-width="1.2" fill="none"/><rect x="947.8" y="357.8" width="25.2" height="10.4" fill="#fff" stroke="#d7261e" stroke-width="1.2"/><path d="M947.8 362.3h25.2" stroke="#d7261e" stroke-width="2" fill="none"/><path d="M960.4 334.5h0M960.4 338h0M960.4 341.4h0M960.4 382.6h0M960.4 385.4h0M960.4 388.1h0M960.4 390.8h0M960.4 393.6h0M960.4 405h0" stroke="#d7261e" stroke-width="5.6" stroke-linecap="round" fill="none"/>
<path d="M990.6 216.9V237.2M990.6 263.5V294.3" stroke="#3a48b4" stroke-width="1.2" fill="none"/><rect x="978" y="237.2" width="25.2" height="26.3" fill="#fff" stroke="#3a48b4" stroke-width="1.2"/><path d="M978 249.6h25.2" stroke="#3a48b4" stroke-width="2" fill="none"/><path d="M990.6 193.5h0" stroke="#3a48b4" stroke-width="5.6" stroke-linecap="round" fill="none"/>
<path d="M1010.8 236.2V260.5M1010.8 275.9V298.3" stroke="#d7261e" stroke-width="1.2" fill="none"/><rect x="998.2" y="260.5" width="25.2" height="15.4" fill="#fff" stroke="#d7261e" stroke-width="1.2"/><path d="M998.2 267.5h25.2" stroke="#d7261e" stroke-width="2" fill="none"/><path d="M1010.8 231.2h0M1010.8 232.7h0M1010.8 300.7h0M1010.8 304.5h0M1010.8 308.2h0M1010.8 318.6h0M1010.8 341.9h0" stroke="#d7261e" stroke-width="5.6" stroke-linecap="round" fill="none"/>
<path d="M1040.9 170.2V217.8M1040.9 256.1V300.7" stroke="#3a48b4" stroke-width="1.2" fill="none"/><rect x="1028.3" y="217.8" width="25.2" height="38.2" fill="#fff" stroke="#3a48b4" stroke-width="1.2"/><path d="M1028.3 238.7h25.2" stroke="#3a48b4" stroke-width="2" fill="none"/><path d="M1040.9 321.6h0M1040.9 347.9h0" stroke="#3a48b4" stroke-width="5.6" stroke-linecap="round" fill="none"/>
<path d="M1061.1 198.5V258.1M1061.1 304.2V371.7" stroke="#d7261e" stroke-width="1.2" fill="none"/><rect x="1048.5" y="258.1" width="25.2" height="46.2" fill="#fff" stroke="#d7261e" stroke-width="1.2"/><path d="M1048.5 277.9h25.2" stroke="#d7261e" stroke-width="2" fill="none"/><path d="M1061.1 373.7h0M1061.1 377.8h0M1061.1 381.9h0M1061.1 386h0M1061.1 390.1h0M1061.1 396.5h0" stroke="#d7261e" stroke-width="5.6" stroke-linecap="round" fill="none"/>
<path d="M1091.2 378.7V391.1M1091.2 411.9V437.2" stroke="#3a48b4" stroke-width="1.2" fill="none"/><rect x="1078.6" y="391.1" width="25.2" height="20.8" fill="#fff" stroke="#3a48b4" stroke-width="1.2"/><path d="M1078.6 401.5h25.2" stroke="#3a48b4" stroke-width="2" fill="none"/><path d="M1091.2 445.2h0M1091.2 457.1h0M1091.2 459.1h0" stroke="#3a48b4" stroke-width="5.6" stroke-linecap="round" fill="none"/>
<path d="M1111.4 378.7V401.5M1111.4 417.4V439.7" stroke="#d7261e" stroke-width="1.2" fill="none"/><rect x="1098.8" y="401.5" width="25.2" height="15.9" fill="#fff" stroke="#d7261e" stroke-width="1.2"/><path d="M1098.8 408h25.2" stroke="#d7261e" stroke-width="2" fill="none"/><path d="M1111.4 340h0M1111.4 373.2h0M1111.4 442.2h0M1111.4 447.2h0M1111.4 455.6h0M1111.4 464.5h0M1111.4 472h0M1111.4 483.4h0" stroke="#d7261e" stroke-width="5.6" stroke-linecap="round" fill="none"/>
<path d="M1141.6 312.7V330.5M1141.6 359.3V380.2" stroke="#3a48b4" stroke-width="1.2" fill="none"/><rect x="1129" y="330.5" width="25.2" height="28.8" fill="#fff" stroke="#3a48b4" stroke-width="1.2"/><path d="M1129 345.4h25.2" stroke="#3a48b4" stroke-width="2" fill="none"/>
<path d="M1161.8 318.1V349.4M1161.8 373.2V407.5" stroke="#d7261e" stroke-width="1.2" fill="none"/><rect x="1149.2" y="349.4" width="25.2" height="23.8" fill="#fff" stroke="#d7261e" stroke-width="1.2"/><path d="M1149.2 360.3h25.2" stroke="#d7261e" stroke-width="2" fill="none"/><path d="M1161.8 408.5h0M1161.8 411.7h0M1161.8 415h0M1161.8 418.3h0M1161.8 421.6h0M1161.8 424.8h0M1161.8 434.8h0M1161.8 451.1h0" stroke="#d7261e" stroke-width="5.6" stroke-linecap="round" fill="none"/>
<path d="M1191.9 242.2V263.5M1191.9 283.9V313.2" stroke="#3a48b4" stroke-width="1.2" fill="none"/><rect x="1179.3" y="263.5" width="25.2" height="20.4" fill="#fff" stroke="#3a48b4" stroke-width="1.2"/><path d="M1179.3 275.4h25.2" stroke="#3a48b4" stroke-width="2" fill="none"/><path d="M1191.9 221.8h0M1191.9 317.6h0" stroke="#3a48b4" stroke-width="5.6" stroke-linecap="round" fill="none"/>
<path d="M1212.1 258.6V278.9M1212.1 293.8V313.2" stroke="#d7261e" stroke-width="1.2" fill="none"/><rect x="1199.5" y="278.9" width="25.2" height="14.9" fill="#fff" stroke="#d7261e" stroke-width="1.2"/><path d="M1199.5 286.8h25.2" stroke="#d7261e" stroke-width="2" fill="none"/><path d="M1212.1 206.4h0M1212.1 222.8h0M1212.1 225.6h0M1212.1 228.3h0M1212.1 231.1h0M1212.1 233.8h0M1212.1 236.6h0M1212.1 239.3h0M1212.1 242.1h0M1212.1 244.8h0M1212.1 247.6h0M1212.1 250.3h0M1212.1 253.1h0M1212.1 255.8h0M1212.1 258.6h0M1212.1 317.1h0M1212.1 320.1h0M1212.1 323.1h0M1212.1 341.4h0M1212.1 346.4h0" stroke="#d7261e" stroke-width="5.6" stroke-linecap="round" fill="none"/>
<rect x="568.1" y="353.9" width="51.1" height="266.6" fill="none" stroke="#16a6d6" stroke-width="1.9"/>
<rect x="670.8" y="332" width="56.1" height="286.4" fill="none" stroke="#16a6d6" stroke-width="1.9"/>
<rect x="726.9" y="202.5" width="41.7" height="417.5" fill="none" stroke="#16a6d6" stroke-width="1.9"/>
<rect x="774.1" y="358.8" width="52.6" height="259.1" fill="none" stroke="#d7261e" stroke-width="1.9"/>
<path d="M516.9 133.5V532.5H1225.3" stroke="#000" stroke-width="1.4" fill="none"/>
<text x="510" y="522.6" font-size="15.6" text-anchor="end">0</text>
<text x="510" y="385.8" font-size="15.6" text-anchor="end">5</text>
<text x="510" y="249" font-size="15.6" text-anchor="end">10</text>
<text transform="translate(556.9 545.8) rotate(-60)" font-size="15.6" text-anchor="end">NCKAP1</text>
<text x="547.7" y="150.3" font-size="14.5" text-anchor="middle">***</text>
<text transform="translate(607.2 545.8) rotate(-60)" font-size="15.6" text-anchor="end">NDUFA11</text>
<text x="598" y="150.3" font-size="14.5" text-anchor="middle">***</text>
<text transform="translate(657.6 545.8) rotate(-60)" font-size="15.6" text-anchor="end">NDUFS1</text>
<text x="648.4" y="150.3" font-size="14.5" text-anchor="middle">*</text>
<text transform="translate(707.9 545.8) rotate(-60)" font-size="15.6" text-anchor="end">OXSM</text>
<text x="698.7" y="150.3" font-size="14.5" text-anchor="middle">***</text>
<text transform="translate(758.2 545.8) rotate(-60)" font-size="15.6" text-anchor="end">RPN1</text>
<text x="749" y="150.3" font-size="14.5" text-anchor="middle">*</text>
<text transform="translate(808.6 545.8) rotate(-60)" font-size="15.6" text-anchor="end">SLC7A11</text>
<text x="799.4" y="150.3" font-size="14.5" text-anchor="middle">***</text>
<text transform="translate(858.9 545.8) rotate(-60)" font-size="15.6" text-anchor="end">ACTN4</text>
<text x="849.7" y="150.3" font-size="14.5" text-anchor="middle">***</text>
<text transform="translate(909.2 545.8) rotate(-60)" font-size="15.6" text-anchor="end">ACTB</text>
<text x="900" y="150.3" font-size="14.5" text-anchor="middle">***</text>
<text transform="translate(959.5 545.8) rotate(-60)" font-size="15.6" text-anchor="end">CAPZB</text>
<text x="950.3" y="150.3" font-size="14.5" text-anchor="middle">***</text>
<text transform="translate(1009.9 545.8) rotate(-60)" font-size="15.6" text-anchor="end">DSTN</text>
<text x="1000.7" y="150.3" font-size="14.5" text-anchor="middle">***</text>
<text transform="translate(1060.2 545.8) rotate(-60)" font-size="15.6" text-anchor="end">FLNA</text>
<text x="1051" y="150.3" font-size="14.5" text-anchor="middle">***</text>
<text transform="translate(1110.5 545.8) rotate(-60)" font-size="15.6" text-anchor="end">INF2</text>
<text x="1101.3" y="150.3" font-size="14.5" text-anchor="middle">***</text>
<text transform="translate(1160.9 545.8) rotate(-60)" font-size="15.6" text-anchor="end">IQGAP1</text>
<text x="1151.7" y="150.3" font-size="14.5" text-anchor="middle">***</text>
<text transform="translate(1211.2 545.8) rotate(-60)" font-size="15.6" text-anchor="end">MYL6</text>
<text x="1202" y="150.3" font-size="14.5" text-anchor="middle">***</text>
<path d="M513 517.2h3.9M513 380.4h3.9M513 243.6h3.9M547.7 532.5v3.9M598 532.5v3.9M648.4 532.5v3.9M698.7 532.5v3.9M749 532.5v3.9M799.4 532.5v3.9M849.7 532.5v3.9M900 532.5v3.9M950.3 532.5v3.9M1000.7 532.5v3.9M1051 532.5v3.9M1101.3 532.5v3.9M1151.7 532.5v3.9M1202 532.5v3.9" stroke="#000" stroke-width="1.2" fill="none"/>
<text transform="translate(485.3 333) rotate(-90)" font-size="15.6" text-anchor="middle">Gene expression</text>
<text x="828.7" y="103.7" font-size="15.8">Type</text>
<path d="M881.8 90.2v17" stroke="#3a48b4" stroke-width="1"/>
<rect x="873.3" y="92.7" width="17" height="12" fill="#fff" stroke="#3a48b4" stroke-width="1"/>
<path d="M873.3 98.7h17" stroke="#3a48b4" stroke-width="1.3"/>
<text x="901.8" y="103.4" font-size="13.5">Normal</text>
<path d="M965.2 90.2v17" stroke="#d7261e" stroke-width="1"/>
<rect x="956.7" y="92.7" width="17" height="12" fill="#fff" stroke="#d7261e" stroke-width="1"/>
<path d="M956.7 98.7h17" stroke="#d7261e" stroke-width="1.3"/>
<text x="985.2" y="103.4" font-size="13.5">Tumor</text>
</g>
<g id="pC">
<path d="M571.3 699.2H572.2V701.3H574.3V706H576.8V708.7H578.3V710.2H580.6V712.7H582.2V714.2H584V715.6H586.3V717.4H587.5V718.2H588.4V718.9H589.5V719.8H590.4V720.4H591.9V721.6H593V722.5H593.9V723.4H595.3V724.5H596.8V725.8H599V727.8H599.9V728.6H601.8V730.2H604.1V732.3H606.1V734H607.2V735H608.3V735.9H609.7V737.2H610.5V737.9H613V739.9H615V741.3H617.2V742.8H619.1V744.1H621.5V745.7H623V746.7H623.9V747.3H625.3V748.3H626.8V749.3H629V750.8H629.8V751.4H632V752.9H633.4V753.8H634.3V754.3H636.1V755.3H638.4V756.6H640.2V757.6H642.2V758.7H643.8V759.6H645.3V760.4H646.1V760.9H648.4V762.2H650.1V763.2H651.2V763.8H652.3V764.4H654V765.3H656V766H658.4V766.8H659.9V767.4H661.6V768H663.6V768.7H664.5H666.9V770.1H668.4V771H670.8V772.5H673.1V773.8H675.3V774.7H676.4H677.9V775.2H679.5V777.4H680.9V779.6H682.5V782.3H683.8V784.5H685.6V786.4H687.6V788H689.6V789.6H691.7V790.8H693.8V791.6H695.2H697.1H699.2H700.2H702.1H703.7H704.7H706H708.1H710.1H711.8H714.1H715.9H716.7H718.6H720.3H722.4H724.2H726.3V792.5H727.2V793.3H729.2V794.9H730.4V796H731.5V796.9H733.5V799.4H735.7V802.1H738.1V805H739.5H741.9H743.8H745.7H747.9H750.1H751H752.9H754.7H756.6H758H760.4H761.6H763.7H764.9H765.9H766.9H769.2H770H771.3H773.4H774.7H777.1H779.3H780.8H782.8H785H786.9H789.3H790.6H792.4H793.6H794.5H796.5H797.9H798.7H800.4H802.4H803.4H804.7H807H808.8H809.7H811.8H813H814.5H816.9H819.4H820.3H821.2H823.2H824.7H825.8H827.2H829.5H830.7H832.6H834.3H835.6H837.2H839.1H840.1H841.9H842.8H843.6H844.7H846.1H847.6H849.3H850.4H852.5H854.2H855.2" fill="none" stroke="#d7261e" stroke-width="2.5" stroke-linejoin="miter"/><path d="M568.9 699.2h6.4M572.1 696v6.4M569 699.2h6.4M572.2 696v6.4M569.1 701.3h6.4M572.3 698.1v6.4M569.8 701.3h6.4M573 698.1v6.4M569.8 701.3h6.4M573 698.1v6.4M569.9 701.3h6.4M573.1 698.1v6.4M570.4 701.3h6.4M573.6 698.1v6.4M570.4 701.3h6.4M573.6 698.1v6.4M570.4 701.3h6.4M573.6 698.1v6.4M570.8 701.3h6.4M574 698.1v6.4M570.9 701.3h6.4M574.1 698.1v6.4M571 701.3h6.4M574.2 698.1v6.4M571.2 706h6.4M574.4 702.8v6.4M571.6 706h6.4M574.8 702.8v6.4M571.6 706h6.4M574.8 702.8v6.4M571.7 706h6.4M574.9 702.8v6.4M571.8 706h6.4M575 702.8v6.4M572.2 706h6.4M575.4 702.8v6.4M572.4 706h6.4M575.6 702.8v6.4M572.5 706h6.4M575.7 702.8v6.4M572.5 706h6.4M575.7 702.8v6.4M573.2 706h6.4M576.4 702.8v6.4M573.4 706h6.4M576.6 702.8v6.4M573.6 708.7h6.4M576.8 705.5v6.4M573.7 708.7h6.4M576.9 705.5v6.4M574.4 708.7h6.4M577.6 705.5v6.4M574.4 708.7h6.4M577.6 705.5v6.4M575.1 710.2h6.4M578.3 707v6.4M575.2 710.2h6.4M578.4 707v6.4M575.3 710.2h6.4M578.5 707v6.4M575.4 710.2h6.4M578.6 707v6.4M576.1 710.2h6.4M579.3 707v6.4M576.6 710.2h6.4M579.8 707v6.4M576.7 710.2h6.4M579.9 707v6.4M576.9 710.2h6.4M580.1 707v6.4M577.3 710.2h6.4M580.5 707v6.4M577.4 710.2h6.4M580.6 707v6.4M577.7 712.7h6.4M580.9 709.5v6.4M577.7 712.7h6.4M580.9 709.5v6.4M577.7 712.7h6.4M580.9 709.5v6.4M577.8 712.7h6.4M581 709.5v6.4M578 712.7h6.4M581.2 709.5v6.4M578.1 712.7h6.4M581.3 709.5v6.4M578.4 712.7h6.4M581.6 709.5v6.4M578.4 712.7h6.4M581.6 709.5v6.4M578.5 712.7h6.4M581.7 709.5v6.4M578.8 712.7h6.4M582 709.5v6.4M579 712.7h6.4M582.2 709.5v6.4M579.2 714.2h6.4M582.4 711v6.4M579.3 714.2h6.4M582.5 711v6.4M580.5 714.2h6.4M583.7 711v6.4M580.6 714.2h6.4M583.8 711v6.4M580.8 714.2h6.4M584 711v6.4M580.8 714.2h6.4M584 711v6.4M581 715.6h6.4M584.2 712.4v6.4M581.1 715.6h6.4M584.3 712.4v6.4M581.3 715.6h6.4M584.5 712.4v6.4M581.8 715.6h6.4M585 712.4v6.4M582 715.6h6.4M585.2 712.4v6.4M582.1 715.6h6.4M585.3 712.4v6.4M582.3 715.6h6.4M585.5 712.4v6.4M582.3 715.6h6.4M585.5 712.4v6.4M582.5 715.6h6.4M585.7 712.4v6.4M582.7 715.6h6.4M585.9 712.4v6.4M582.9 715.6h6.4M586.1 712.4v6.4M582.9 715.6h6.4M586.1 712.4v6.4M583.1 715.6h6.4M586.3 712.4v6.4M583.2 717.4h6.4M586.4 714.2v6.4M583.2 717.4h6.4M586.4 714.2v6.4M583.3 717.4h6.4M586.5 714.2v6.4M583.6 717.4h6.4M586.8 714.2v6.4M583.7 717.4h6.4M586.9 714.2v6.4M584.1 717.4h6.4M587.3 714.2v6.4M584.2 717.4h6.4M587.4 714.2v6.4M584.5 718.2h6.4M587.7 715v6.4M584.7 718.2h6.4M587.9 715v6.4M584.9 718.2h6.4M588.1 715v6.4M585 718.2h6.4M588.2 715v6.4M585 718.2h6.4M588.2 715v6.4M585.1 718.2h6.4M588.3 715v6.4M585.4 718.9h6.4M588.6 715.7v6.4M585.6 718.9h6.4M588.8 715.7v6.4M585.7 718.9h6.4M588.9 715.7v6.4M585.7 718.9h6.4M588.9 715.7v6.4M585.8 718.9h6.4M589 715.7v6.4M585.9 718.9h6.4M589.1 715.7v6.4M586 718.9h6.4M589.2 715.7v6.4M586.2 718.9h6.4M589.4 715.7v6.4M586.5 719.8h6.4M589.7 716.6v6.4M586.8 719.8h6.4M590 716.6v6.4M587 719.8h6.4M590.2 716.6v6.4M587.2 719.8h6.4M590.4 716.6v6.4M587.4 720.4h6.4M590.6 717.2v6.4M587.5 720.4h6.4M590.7 717.2v6.4M587.9 720.4h6.4M591.1 717.2v6.4M587.9 720.4h6.4M591.1 717.2v6.4M588.2 720.4h6.4M591.4 717.2v6.4M588.2 720.4h6.4M591.4 717.2v6.4M588.3 720.4h6.4M591.5 717.2v6.4M588.5 720.4h6.4M591.7 717.2v6.4M588.6 720.4h6.4M591.8 717.2v6.4M588.7 720.4h6.4M591.9 717.2v6.4M588.7 720.4h6.4M591.9 717.2v6.4M588.7 720.4h6.4M591.9 717.2v6.4M588.9 721.6h6.4M592.1 718.4v6.4M589.4 721.6h6.4M592.6 718.4v6.4M590 722.5h6.4M593.2 719.3v6.4M590.1 722.5h6.4M593.3 719.3v6.4M590.2 722.5h6.4M593.4 719.3v6.4M590.3 722.5h6.4M593.5 719.3v6.4M590.3 722.5h6.4M593.5 719.3v6.4M590.3 722.5h6.4M593.5 719.3v6.4M590.4 722.5h6.4M593.6 719.3v6.4M590.5 722.5h6.4M593.7 719.3v6.4M590.6 722.5h6.4M593.8 719.3v6.4M590.9 723.4h6.4M594.1 720.2v6.4M590.9 723.4h6.4M594.1 720.2v6.4M591.2 723.4h6.4M594.4 720.2v6.4M591.2 723.4h6.4M594.4 720.2v6.4M591.2 723.4h6.4M594.4 720.2v6.4M591.3 723.4h6.4M594.5 720.2v6.4M591.3 723.4h6.4M594.5 720.2v6.4M591.4 723.4h6.4M594.6 720.2v6.4M591.8 723.4h6.4M595 720.2v6.4M591.9 723.4h6.4M595.1 720.2v6.4M592.2 724.5h6.4M595.4 721.3v6.4M592.3 724.5h6.4M595.5 721.3v6.4M592.3 724.5h6.4M595.5 721.3v6.4M592.7 724.5h6.4M595.9 721.3v6.4M592.8 724.5h6.4M596 721.3v6.4M593.2 724.5h6.4M596.4 721.3v6.4M593.7 725.8h6.4M596.9 722.6v6.4M593.8 725.8h6.4M597 722.6v6.4M593.9 725.8h6.4M597.1 722.6v6.4M594 725.8h6.4M597.2 722.6v6.4M594.2 725.8h6.4M597.4 722.6v6.4M594.2 725.8h6.4M597.4 722.6v6.4M594.4 725.8h6.4M597.6 722.6v6.4M595.1 725.8h6.4M598.3 722.6v6.4M595.1 725.8h6.4M598.3 722.6v6.4M595.8 725.8h6.4M599 722.6v6.4M595.8 725.8h6.4M599 722.6v6.4M595.9 727.8h6.4M599.1 724.6v6.4M596.8 728.6h6.4M600 725.4v6.4M597.1 728.6h6.4M600.3 725.4v6.4M597.6 728.6h6.4M600.8 725.4v6.4M597.6 728.6h6.4M600.8 725.4v6.4M597.8 728.6h6.4M601 725.4v6.4M597.8 728.6h6.4M601 725.4v6.4M597.8 728.6h6.4M601 725.4v6.4M598.5 728.6h6.4M601.7 725.4v6.4M599.3 730.2h6.4M602.5 727v6.4M599.8 730.2h6.4M603 727v6.4M600 730.2h6.4M603.2 727v6.4M600.1 730.2h6.4M603.3 727v6.4M600.2 730.2h6.4M603.4 727v6.4M600.2 730.2h6.4M603.4 727v6.4M600.3 730.2h6.4M603.5 727v6.4M601.1 732.3h6.4M604.3 729.1v6.4M601.9 732.3h6.4M605.1 729.1v6.4M601.9 732.3h6.4M605.1 729.1v6.4M602 732.3h6.4M605.2 729.1v6.4M602 732.3h6.4M605.2 729.1v6.4M602.1 732.3h6.4M605.3 729.1v6.4M602.3 732.3h6.4M605.5 729.1v6.4M602.4 732.3h6.4M605.6 729.1v6.4M602.9 734h6.4M606.1 730.8v6.4M603 734h6.4M606.2 730.8v6.4M603.1 734h6.4M606.3 730.8v6.4M603.2 734h6.4M606.4 730.8v6.4M603.4 734h6.4M606.6 730.8v6.4M603.6 734h6.4M606.8 730.8v6.4M604.2 735h6.4M607.4 731.8v6.4M604.5 735h6.4M607.7 731.8v6.4M605.4 735.9h6.4M608.6 732.7v6.4M605.4 735.9h6.4M608.6 732.7v6.4M605.6 735.9h6.4M608.8 732.7v6.4M606.2 735.9h6.4M609.4 732.7v6.4M606.3 735.9h6.4M609.5 732.7v6.4M606.3 735.9h6.4M609.5 732.7v6.4M606.5 737.2h6.4M609.7 734v6.4M606.6 737.2h6.4M609.8 734v6.4M606.8 737.2h6.4M610 734v6.4M606.8 737.2h6.4M610 734v6.4M607.1 737.2h6.4M610.3 734v6.4M608.1 737.9h6.4M611.3 734.7v6.4M608.2 737.9h6.4M611.4 734.7v6.4M608.3 737.9h6.4M611.5 734.7v6.4M608.3 737.9h6.4M611.5 734.7v6.4M608.9 737.9h6.4M612.1 734.7v6.4M609.3 737.9h6.4M612.5 734.7v6.4M609.8 739.9h6.4M613 736.7v6.4M610 739.9h6.4M613.2 736.7v6.4M610.5 739.9h6.4M613.7 736.7v6.4M610.6 739.9h6.4M613.8 736.7v6.4M610.6 739.9h6.4M613.8 736.7v6.4M610.6 739.9h6.4M613.8 736.7v6.4M611.1 739.9h6.4M614.3 736.7v6.4M611.2 739.9h6.4M614.4 736.7v6.4M611.3 739.9h6.4M614.5 736.7v6.4M611.8 739.9h6.4M615 736.7v6.4M611.8 741.3h6.4M615 738.1v6.4M612.4 741.3h6.4M615.6 738.1v6.4M612.6 741.3h6.4M615.8 738.1v6.4M613.4 741.3h6.4M616.6 738.1v6.4M614.1 742.8h6.4M617.3 739.6v6.4M614.4 742.8h6.4M617.6 739.6v6.4M614.6 742.8h6.4M617.8 739.6v6.4M615.8 742.8h6.4M619 739.6v6.4M616.2 744.1h6.4M619.4 740.9v6.4M616.4 744.1h6.4M619.6 740.9v6.4M616.5 744.1h6.4M619.7 740.9v6.4M616.7 744.1h6.4M619.9 740.9v6.4M617.4 744.1h6.4M620.6 740.9v6.4M617.5 744.1h6.4M620.7 740.9v6.4M617.8 744.1h6.4M621 740.9v6.4M617.8 744.1h6.4M621 740.9v6.4M617.9 744.1h6.4M621.1 740.9v6.4M619.1 745.7h6.4M622.3 742.5v6.4M619.8 746.7h6.4M623 743.5v6.4M619.9 746.7h6.4M623.1 743.5v6.4M620 746.7h6.4M623.2 743.5v6.4M620.4 746.7h6.4M623.6 743.5v6.4M621 747.3h6.4M624.2 744.1v6.4M623 748.3h6.4M626.2 745.1v6.4M623.1 748.3h6.4M626.3 745.1v6.4M623.4 748.3h6.4M626.6 745.1v6.4M624.7 749.3h6.4M627.9 746.1v6.4M625.2 749.3h6.4M628.4 746.1v6.4M625.5 749.3h6.4M628.7 746.1v6.4M625.8 750.8h6.4M629 747.6v6.4M626.1 750.8h6.4M629.3 747.6v6.4M626.4 750.8h6.4M629.6 747.6v6.4M626.6 751.4h6.4M629.8 748.2v6.4M627 751.4h6.4M630.2 748.2v6.4M627.3 751.4h6.4M630.5 748.2v6.4M627.4 751.4h6.4M630.6 748.2v6.4M628 751.4h6.4M631.2 748.2v6.4M628.3 751.4h6.4M631.5 748.2v6.4M628.4 751.4h6.4M631.6 748.2v6.4M628.7 751.4h6.4M631.9 748.2v6.4M629 752.9h6.4M632.2 749.7v6.4M630.8 753.8h6.4M634 750.6v6.4M632 754.3h6.4M635.2 751.1v6.4M632.4 754.3h6.4M635.6 751.1v6.4M632.6 754.3h6.4M635.8 751.1v6.4M633.5 755.3h6.4M636.7 752.1v6.4M633.5 755.3h6.4M636.7 752.1v6.4M634.2 755.3h6.4M637.4 752.1v6.4M634.3 755.3h6.4M637.5 752.1v6.4M634.3 755.3h6.4M637.5 752.1v6.4M634.6 755.3h6.4M637.8 752.1v6.4M634.8 755.3h6.4M638 752.1v6.4M635 755.3h6.4M638.2 752.1v6.4M635 755.3h6.4M638.2 752.1v6.4M635.3 756.6h6.4M638.5 753.4v6.4M635.8 756.6h6.4M639 753.4v6.4M635.9 756.6h6.4M639.1 753.4v6.4M636.4 756.6h6.4M639.6 753.4v6.4M636.7 756.6h6.4M639.9 753.4v6.4M636.9 756.6h6.4M640.1 753.4v6.4M636.9 756.6h6.4M640.1 753.4v6.4M637 756.6h6.4M640.2 753.4v6.4M637.4 757.6h6.4M640.6 754.4v6.4M637.5 757.6h6.4M640.7 754.4v6.4M638.1 757.6h6.4M641.3 754.4v6.4M639.7 758.7h6.4M642.9 755.5v6.4M639.8 758.7h6.4M643 755.5v6.4M640.3 758.7h6.4M643.5 755.5v6.4M640.9 759.6h6.4M644.1 756.4v6.4M641.1 759.6h6.4M644.3 756.4v6.4M641.1 759.6h6.4M644.3 756.4v6.4M641.2 759.6h6.4M644.4 756.4v6.4M641.4 759.6h6.4M644.6 756.4v6.4M641.7 759.6h6.4M644.9 756.4v6.4M642.2 760.4h6.4M645.4 757.2v6.4M643.2 760.9h6.4M646.4 757.7v6.4M643.2 760.9h6.4M646.4 757.7v6.4M645 760.9h6.4M648.2 757.7v6.4M645.8 762.2h6.4M649 759v6.4M645.9 762.2h6.4M649.1 759v6.4M646 762.2h6.4M649.2 759v6.4M646.3 762.2h6.4M649.5 759v6.4M646.8 762.2h6.4M650 759v6.4M646.8 762.2h6.4M650 759v6.4M649.2 764.4h6.4M652.4 761.2v6.4M650 764.4h6.4M653.2 761.2v6.4M650.6 764.4h6.4M653.8 761.2v6.4M650.7 764.4h6.4M653.9 761.2v6.4M650.9 765.3h6.4M654.1 762.1v6.4M651.3 765.3h6.4M654.5 762.1v6.4M652.3 765.3h6.4M655.5 762.1v6.4M652.9 766h6.4M656.1 762.8v6.4M653.2 766h6.4M656.4 762.8v6.4M653.3 766h6.4M656.5 762.8v6.4M655 766h6.4M658.2 762.8v6.4M656.2 766.8h6.4M659.4 763.6v6.4M656.6 766.8h6.4M659.8 763.6v6.4M658.5 768h6.4M661.7 764.8v6.4M658.7 768h6.4M661.9 764.8v6.4M658.7 768h6.4M661.9 764.8v6.4M660.9 768.7h6.4M664.1 765.5v6.4M662.1 768.7h6.4M665.3 765.5v6.4M662.1 768.7h6.4M665.3 765.5v6.4M662.2 768.7h6.4M665.4 765.5v6.4M662.2 768.7h6.4M665.4 765.5v6.4M663 768.7h6.4M666.2 765.5v6.4M663.5 768.7h6.4M666.7 765.5v6.4M663.8 770.1h6.4M667 766.9v6.4M663.9 770.1h6.4M667.1 766.9v6.4M664.4 770.1h6.4M667.6 766.9v6.4M665.4 771h6.4M668.6 767.8v6.4M665.8 771h6.4M669 767.8v6.4M666.1 771h6.4M669.3 767.8v6.4M666.3 771h6.4M669.5 767.8v6.4M666.8 771h6.4M670 767.8v6.4M668.1 772.5h6.4M671.3 769.3v6.4M669.2 772.5h6.4M672.4 769.3v6.4M672.2 774.7h6.4M675.4 771.5v6.4M676.1 775.2h6.4M679.3 772v6.4M676.2 775.2h6.4M679.4 772v6.4M676.5 777.4h6.4M679.7 774.2v6.4M680.4 782.3h6.4M683.6 779.1v6.4M681.2 784.5h6.4M684.4 781.3v6.4M684.1 786.4h6.4M687.3 783.2v6.4M689.5 790.8h6.4M692.7 787.6v6.4M691.3 791.6h6.4M694.5 788.4v6.4M692.1 791.6h6.4M695.3 788.4v6.4M696.1 791.6h6.4M699.3 788.4v6.4M698.4 791.6h6.4M701.6 788.4v6.4M705.2 791.6h6.4M708.4 788.4v6.4M706 791.6h6.4M709.2 788.4v6.4M709.7 791.6h6.4M712.9 788.4v6.4M716.7 791.6h6.4M719.9 788.4v6.4M717.7 791.6h6.4M720.9 788.4v6.4M720.8 791.6h6.4M724 788.4v6.4M725.6 793.3h6.4M728.8 790.1v6.4M728.1 796h6.4M731.3 792.8v6.4M734.4 802.1h6.4M737.6 798.9v6.4M751.5 805h6.4M754.7 801.8v6.4M753.9 805h6.4M757.1 801.8v6.4M755.7 805h6.4M758.9 801.8v6.4M764.4 805h6.4M767.6 801.8v6.4M765.1 805h6.4M768.3 801.8v6.4M768.3 805h6.4M771.5 801.8v6.4M788.1 805h6.4M791.3 801.8v6.4M795.9 805h6.4M799.1 801.8v6.4M796.8 805h6.4M800 801.8v6.4M797.3 805h6.4M800.5 801.8v6.4M814.2 805h6.4M817.4 801.8v6.4M826.1 805h6.4M829.3 801.8v6.4M827.9 805h6.4M831.1 801.8v6.4M832.8 805h6.4M836 801.8v6.4M834.2 805h6.4M837.4 801.8v6.4M843.7 805h6.4M846.9 801.8v6.4M847.1 805h6.4M850.3 801.8v6.4M850.9 805h6.4M854.1 801.8v6.4" fill="none" stroke="#d7261e" stroke-width="1.1"/>
<path d="M571.3 699.2H573.8V704.7H575.9V709.5H576.9V711.3H578.5V714.4H580.1V717.3H581.5V719.9H582.3V721.4H584.3V724.8H585.6V726.9H587.2V729.6H589.2V733.1H590.7V735.5H592.7V738.8H594.6V741.4H596.3V743.8H598.7V747.1H599.5V748.3H600.6V749.8H602V751.9H603.6V753.7H605.5V755.9H606.4V756.8H607.3V757.9H608.8V759.5H610.7V761.8H612.5V763.7H613.4V764.3H614.8V765.1H616.5V766.2H617.4V766.7H618.3V767.2H619.2V767.8H621.5V769.2H622.7V769.9H625.2V771.4H627V772.9H629.1V778.3H630.1V781H631.7V783.5H633.9V784.7H636.1V786H638.2V787.1H639.4V787.8H640.9V788.5H641.8V789H643.4V790.1H645.7V794H647.8V797.5H650V801.2H652.3V803.8H653.9H656.2H657.1H659.5H661.7H662.7H665H666.7H668.5H670.3H671.2H672.2H673.3H674.2H675.9H678.3H679.6V806.1H682.1V810.3H682.9V810.8H684.2H686.1H687.7H688.9H690.1H692H693.5H695.3H697.4H698.8H701.1H702.5H704.5H705.7H707.4H708.6H710.3H712.7V825.2H714.9V830.5H716.2H717.5H719.8H721.1H722.5H723.5H725.2H726.4H728.8H729.8H731.5H733.5H735.2H736.6H738.8H741.1H743.1H745.5H746.6H747.5H749.7H751.6H752.7H754.6H756H757.6H759.4H760.5H761.9H763.5H764.9H766.9H769H771.2H772.8H774.3H776H778H779.7H781.8H783H784.7H785.9H787.5H789.2H791.1H792.1H794.1H795H797.2H799.1H800.6H803H804.5H805.7H806.8H809.2H811.1H812.5H813.9H815.3H816.1H817H819.3H820.4H821.9H823.5H824.3" fill="none" stroke="#3d48b0" stroke-width="2.5" stroke-linejoin="miter"/><path d="M570.3 699.2h6.4M573.5 696v6.4M570.5 699.2h6.4M573.7 696v6.4M570.8 704.7h6.4M574 701.5v6.4M572 704.7h6.4M575.2 701.5v6.4M573 709.5h6.4M576.2 706.3v6.4M573.3 709.5h6.4M576.5 706.3v6.4M574.2 711.3h6.4M577.4 708.1v6.4M575.3 711.3h6.4M578.5 708.1v6.4M575.8 714.4h6.4M579 711.2v6.4M575.8 714.4h6.4M579 711.2v6.4M576.5 714.4h6.4M579.7 711.2v6.4M576.7 714.4h6.4M579.9 711.2v6.4M577.3 717.3h6.4M580.5 714.1v6.4M577.8 717.3h6.4M581 714.1v6.4M577.9 717.3h6.4M581.1 714.1v6.4M577.9 717.3h6.4M581.1 714.1v6.4M578.2 717.3h6.4M581.4 714.1v6.4M578.3 719.9h6.4M581.5 716.7v6.4M578.3 719.9h6.4M581.5 716.7v6.4M578.7 719.9h6.4M581.9 716.7v6.4M579.1 719.9h6.4M582.3 716.7v6.4M579.3 721.4h6.4M582.5 718.2v6.4M580.4 721.4h6.4M583.6 718.2v6.4M581.5 724.8h6.4M584.7 721.6v6.4M582.9 726.9h6.4M586.1 723.7v6.4M584.7 729.6h6.4M587.9 726.4v6.4M584.7 729.6h6.4M587.9 726.4v6.4M584.8 729.6h6.4M588 726.4v6.4M584.8 729.6h6.4M588 726.4v6.4M586.4 733.1h6.4M589.6 729.9v6.4M587.1 733.1h6.4M590.3 729.9v6.4M587.7 735.5h6.4M590.9 732.3v6.4M589 735.5h6.4M592.2 732.3v6.4M589.6 738.8h6.4M592.8 735.6v6.4M589.7 738.8h6.4M592.9 735.6v6.4M589.9 738.8h6.4M593.1 735.6v6.4M590.2 738.8h6.4M593.4 735.6v6.4M590.2 738.8h6.4M593.4 735.6v6.4M590.6 738.8h6.4M593.8 735.6v6.4M590.6 738.8h6.4M593.8 735.6v6.4M590.8 738.8h6.4M594 735.6v6.4M591.3 738.8h6.4M594.5 735.6v6.4M591.9 741.4h6.4M595.1 738.2v6.4M592.1 741.4h6.4M595.3 738.2v6.4M592.7 741.4h6.4M595.9 738.2v6.4M592.9 741.4h6.4M596.1 738.2v6.4M593.4 743.8h6.4M596.6 740.6v6.4M593.7 743.8h6.4M596.9 740.6v6.4M595.2 743.8h6.4M598.4 740.6v6.4M598.6 749.8h6.4M601.8 746.6v6.4M598.9 751.9h6.4M602.1 748.7v6.4M599 751.9h6.4M602.2 748.7v6.4M600.3 751.9h6.4M603.5 748.7v6.4M602.2 753.7h6.4M605.4 750.5v6.4M602.4 755.9h6.4M605.6 752.7v6.4M602.9 755.9h6.4M606.1 752.7v6.4M603.1 755.9h6.4M606.3 752.7v6.4M604.8 757.9h6.4M608 754.7v6.4M605 757.9h6.4M608.2 754.7v6.4M606.6 759.5h6.4M609.8 756.3v6.4M607 759.5h6.4M610.2 756.3v6.4M609.2 761.8h6.4M612.4 758.6v6.4M610.2 764.3h6.4M613.4 761.1v6.4M612 765.1h6.4M615.2 761.9v6.4M612 765.1h6.4M615.2 761.9v6.4M612.2 765.1h6.4M615.4 761.9v6.4M613 765.1h6.4M616.2 761.9v6.4M614.2 766.7h6.4M617.4 763.5v6.4M614.5 766.7h6.4M617.7 763.5v6.4M614.5 766.7h6.4M617.7 763.5v6.4M615.9 767.2h6.4M619.1 764v6.4M616.9 767.8h6.4M620.1 764.6v6.4M618.3 767.8h6.4M621.5 764.6v6.4M619.5 769.2h6.4M622.7 766v6.4M622.2 771.4h6.4M625.4 768.2v6.4M622.4 771.4h6.4M625.6 768.2v6.4M623.8 771.4h6.4M627 768.2v6.4M624.9 772.9h6.4M628.1 769.7v6.4M626.1 778.3h6.4M629.3 775.1v6.4M626.7 778.3h6.4M629.9 775.1v6.4M627.4 781h6.4M630.6 777.8v6.4M628 781h6.4M631.2 777.8v6.4M628.3 781h6.4M631.5 777.8v6.4M628.7 783.5h6.4M631.9 780.3v6.4M629.7 783.5h6.4M632.9 780.3v6.4M629.9 783.5h6.4M633.1 780.3v6.4M630 783.5h6.4M633.2 780.3v6.4M630.6 783.5h6.4M633.8 780.3v6.4M630.9 784.7h6.4M634.1 781.5v6.4M631.2 784.7h6.4M634.4 781.5v6.4M632.5 784.7h6.4M635.7 781.5v6.4M635.2 787.1h6.4M638.4 783.9v6.4M636.4 787.8h6.4M639.6 784.6v6.4M640.4 790.1h6.4M643.6 786.9v6.4M640.6 790.1h6.4M643.8 786.9v6.4M641.7 790.1h6.4M644.9 786.9v6.4M642.4 790.1h6.4M645.6 786.9v6.4M643.5 794h6.4M646.7 790.8v6.4M643.6 794h6.4M646.8 790.8v6.4M656.3 803.8h6.4M659.5 800.6v6.4M656.4 803.8h6.4M659.6 800.6v6.4M660.2 803.8h6.4M663.4 800.6v6.4M661.2 803.8h6.4M664.4 800.6v6.4M674.9 803.8h6.4M678.1 800.6v6.4M675.2 803.8h6.4M678.4 800.6v6.4M675.3 803.8h6.4M678.5 800.6v6.4M687 810.8h6.4M690.2 807.6v6.4M702 810.8h6.4M705.2 807.6v6.4M703.3 810.8h6.4M706.5 807.6v6.4M706.9 810.8h6.4M710.1 807.6v6.4M709.4 810.8h6.4M712.6 807.6v6.4M711.3 825.2h6.4M714.5 822v6.4M714.6 830.5h6.4M717.8 827.3v6.4M718.6 830.5h6.4M721.8 827.3v6.4M720.6 830.5h6.4M723.8 827.3v6.4M721.1 830.5h6.4M724.3 827.3v6.4M730.9 830.5h6.4M734.1 827.3v6.4M733.7 830.5h6.4M736.9 827.3v6.4M736.4 830.5h6.4M739.6 827.3v6.4M742.6 830.5h6.4M745.8 827.3v6.4M746.3 830.5h6.4M749.5 827.3v6.4M746.9 830.5h6.4M750.1 827.3v6.4M749.3 830.5h6.4M752.5 827.3v6.4M755.8 830.5h6.4M759 827.3v6.4M757.2 830.5h6.4M760.4 827.3v6.4M761.1 830.5h6.4M764.3 827.3v6.4M762 830.5h6.4M765.2 827.3v6.4M765.8 830.5h6.4M769 827.3v6.4M769.3 830.5h6.4M772.5 827.3v6.4M772.5 830.5h6.4M775.7 827.3v6.4M782.6 830.5h6.4M785.8 827.3v6.4M794 830.5h6.4M797.2 827.3v6.4M797.5 830.5h6.4M800.7 827.3v6.4M798.5 830.5h6.4M801.7 827.3v6.4M803.7 830.5h6.4M806.9 827.3v6.4M817.1 830.5h6.4M820.3 827.3v6.4M820.1 830.5h6.4M823.3 827.3v6.4" fill="none" stroke="#3d48b0" stroke-width="1.1"/>
<path d="M556.2 687.5V953.4H895.3" stroke="#222" stroke-width="1.6" fill="none"/>
<text x="550.6" y="946.4" font-size="13.7" text-anchor="end">0.00</text>
<text x="550.6" y="885.8" font-size="13.7" text-anchor="end">0.25</text>
<text x="550.6" y="825.2" font-size="13.7" text-anchor="end">0.50</text>
<text x="550.6" y="764.7" font-size="13.7" text-anchor="end">0.75</text>
<text x="550.6" y="704.1" font-size="13.7" text-anchor="end">1.00</text>
<text x="571.3" y="969.9" font-size="13.7" text-anchor="middle">0</text>
<text x="591.9" y="969.9" font-size="13.7" text-anchor="middle">1</text>
<text x="612.4" y="969.9" font-size="13.7" text-anchor="middle">2</text>
<text x="633" y="969.9" font-size="13.7" text-anchor="middle">3</text>
<text x="653.6" y="969.9" font-size="13.7" text-anchor="middle">4</text>
<text x="674.1" y="969.9" font-size="13.7" text-anchor="middle">5</text>
<text x="694.7" y="969.9" font-size="13.7" text-anchor="middle">6</text>
<text x="715.3" y="969.9" font-size="13.7" text-anchor="middle">7</text>
<text x="735.9" y="969.9" font-size="13.7" text-anchor="middle">8</text>
<text x="756.4" y="969.9" font-size="13.7" text-anchor="middle">9</text>
<text x="777" y="969.9" font-size="13.7" text-anchor="middle">10</text>
<text x="797.6" y="969.9" font-size="13.7" text-anchor="middle">11</text>
<text x="818.1" y="969.9" font-size="13.7" text-anchor="middle">12</text>
<text x="838.7" y="969.9" font-size="13.7" text-anchor="middle">13</text>
<text x="859.3" y="969.9" font-size="13.7" text-anchor="middle">14</text>
<text x="879.8" y="969.9" font-size="13.7" text-anchor="middle">15</text>
<path d="M552.2 941.5h4M552.2 880.9h4M552.2 820.4h4M552.2 759.8h4M552.2 699.2h4M571.3 953.4v4M591.9 953.4v4M612.4 953.4v4M633 953.4v4M653.6 953.4v4M674.1 953.4v4M694.7 953.4v4M715.3 953.4v4M735.9 953.4v4M756.4 953.4v4M777 953.4v4M797.6 953.4v4M818.1 953.4v4M838.7 953.4v4M859.3 953.4v4M879.8 953.4v4" stroke="#222" stroke-width="1.2" fill="none"/>
<text x="726.1" y="986.7" font-size="15.7" text-anchor="middle">Time(years)</text>
<text transform="translate(515.7 819.9) rotate(-90)" font-size="15.7" text-anchor="middle">Progression-Free-Survival probability</text>
<text x="577.1" y="900.9" font-size="18.8">p=0.004</text>
<text x="661" y="662" font-size="11.4">RPN1</text>
<path d="M697.9 658h16" stroke="#d7261e" stroke-width="2.3"/>
<path d="M702.4 658h7M705.9 654.5v7" stroke="#d7261e" stroke-width="1.4"/>
<text x="720.9" y="662" font-size="11.4">high</text>
<path d="M749.4 658h16" stroke="#3d48b0" stroke-width="2.3"/>
<path d="M753.9 658h7M757.4 654.5v7" stroke="#3d48b0" stroke-width="1.4"/>
<text x="772.4" y="662" font-size="11.4">low</text>
</g>
<g id="pD">
<path d="M567.3 1074.7H569.3V1079.5H571.7V1084.7H573.8V1087.6H576.1V1090.9H577.1V1092.3H578.9V1094.3H580.4V1095.8H581.7V1097H583.9V1099.2H585.3V1100.6H587.7V1103H589.1V1104.3H590.8V1105.9H592.9V1107.8H595V1109.8H595.9V1110.6H598V1112.4H599V1113.4H600.4V1114.6H601.3V1115.5H603.1V1117.2H604.3V1118.2H605.4V1119.3H607.1V1120.8H608.6V1122.2H610.3V1123.7H612V1125.1H614V1126.8H616.3V1128.7H618.7V1130.8H620.5V1132.3H622.4V1133.9H624.2V1135.4H625.6V1136.6H627.7V1138.4H628.7V1139.2H631.1V1141.1H632.7V1142.3H634.7V1143.9H636.7V1145.5H637.7V1146.2H639.2V1147.4H640.6V1148.5H641.7V1149.3H643.7V1150.9H645.2V1152.1H647.1V1153.5H648V1154.2H650.4V1155.9H651.9V1156.6H654.1V1157.7H656.1V1158.8H657.1V1159.3H659.2V1160.3H661.2V1160.8H663.3H665.4H666.7H668.5V1161.2H670.9V1162.2H672.1V1163.8H673.5V1165.6H675.1V1167.6H676.9V1169.8H678.9V1172.4H680.4V1174.3H682.2V1175.4H684.5V1176.6H685.3V1177.1H687V1178.1H688V1178.6H690.2V1179.9H692V1180.4H693.2H695.4V1181H696.6H698V1181.4H700.2V1181.8H702.1H704.3V1182.5H705.2H706.5V1182.8H708.6H711V1183.6H712.4H713.7H715.5H717V1184.1H718.7H720.8H723V1184.5H724H725.3V1185.7H726.8V1186.8H727.7V1187.4H729.8V1188.9H730.9V1189.7H733.1V1191.8H734.5V1193.4H736.4V1195.3H738.2H739.7H741.4H743.6H745.9H747.3H749.3H751.7H752.9H755H755.9H757.1H758.3H759.7H762.2H763.2H764H766H767.6H769.5H771.1H772.3H774.5H776.7H779.1H780.4H782.6H784.8H785.8H787.6H789.3H790.7H792H794.1H795.2H797H798.1H800.2H801.7H802.6H804.2H805.6H807.1H809.5H810.5H811.6H814H816H817.8H819.1H820.6H823H824.8H827.1H828.4H830.6H833H834.4H835.3H837H838.2H839.4H841.1H842.3H843.2H845.4H847.2H848.1H849.2H851.1H851.2" fill="none" stroke="#d7261e" stroke-width="2.5" stroke-linejoin="miter"/><path d="M565.1 1074.7h6.4M568.3 1071.5v6.4M565.2 1074.7h6.4M568.4 1071.5v6.4M565.4 1074.7h6.4M568.6 1071.5v6.4M565.5 1074.7h6.4M568.7 1071.5v6.4M565.7 1074.7h6.4M568.9 1071.5v6.4M565.7 1074.7h6.4M568.9 1071.5v6.4M566.1 1074.7h6.4M569.3 1071.5v6.4M566.2 1079.5h6.4M569.4 1076.3v6.4M566.3 1079.5h6.4M569.5 1076.3v6.4M566.4 1079.5h6.4M569.6 1076.3v6.4M566.5 1079.5h6.4M569.7 1076.3v6.4M566.6 1079.5h6.4M569.8 1076.3v6.4M566.6 1079.5h6.4M569.8 1076.3v6.4M566.9 1079.5h6.4M570.1 1076.3v6.4M567.2 1079.5h6.4M570.4 1076.3v6.4M567.4 1079.5h6.4M570.6 1076.3v6.4M567.4 1079.5h6.4M570.6 1076.3v6.4M567.4 1079.5h6.4M570.6 1076.3v6.4M567.5 1079.5h6.4M570.7 1076.3v6.4M567.9 1079.5h6.4M571.1 1076.3v6.4M568.3 1079.5h6.4M571.5 1076.3v6.4M568.3 1079.5h6.4M571.5 1076.3v6.4M568.4 1079.5h6.4M571.6 1076.3v6.4M568.9 1084.7h6.4M572.1 1081.5v6.4M569 1084.7h6.4M572.2 1081.5v6.4M569 1084.7h6.4M572.2 1081.5v6.4M569.1 1084.7h6.4M572.3 1081.5v6.4M569.2 1084.7h6.4M572.4 1081.5v6.4M569.2 1084.7h6.4M572.4 1081.5v6.4M569.6 1084.7h6.4M572.8 1081.5v6.4M569.7 1084.7h6.4M572.9 1081.5v6.4M569.9 1084.7h6.4M573.1 1081.5v6.4M569.9 1084.7h6.4M573.1 1081.5v6.4M569.9 1084.7h6.4M573.1 1081.5v6.4M570.5 1084.7h6.4M573.7 1081.5v6.4M570.6 1087.6h6.4M573.8 1084.4v6.4M570.6 1087.6h6.4M573.8 1084.4v6.4M571 1087.6h6.4M574.2 1084.4v6.4M571.1 1087.6h6.4M574.3 1084.4v6.4M571.1 1087.6h6.4M574.3 1084.4v6.4M571.2 1087.6h6.4M574.4 1084.4v6.4M572 1087.6h6.4M575.2 1084.4v6.4M572 1087.6h6.4M575.2 1084.4v6.4M572.2 1087.6h6.4M575.4 1084.4v6.4M572.3 1087.6h6.4M575.5 1084.4v6.4M572.4 1087.6h6.4M575.6 1084.4v6.4M572.4 1087.6h6.4M575.6 1084.4v6.4M572.7 1087.6h6.4M575.9 1084.4v6.4M573.1 1090.9h6.4M576.3 1087.7v6.4M573.3 1090.9h6.4M576.5 1087.7v6.4M573.6 1090.9h6.4M576.8 1087.7v6.4M573.8 1090.9h6.4M577 1087.7v6.4M573.8 1090.9h6.4M577 1087.7v6.4M574 1092.3h6.4M577.2 1089.1v6.4M574.1 1092.3h6.4M577.3 1089.1v6.4M574.1 1092.3h6.4M577.3 1089.1v6.4M574.4 1092.3h6.4M577.6 1089.1v6.4M574.5 1092.3h6.4M577.7 1089.1v6.4M574.8 1092.3h6.4M578 1089.1v6.4M575 1092.3h6.4M578.2 1089.1v6.4M575.3 1092.3h6.4M578.5 1089.1v6.4M575.4 1092.3h6.4M578.6 1089.1v6.4M575.7 1092.3h6.4M578.9 1089.1v6.4M575.7 1094.3h6.4M578.9 1091.1v6.4M575.8 1094.3h6.4M579 1091.1v6.4M575.9 1094.3h6.4M579.1 1091.1v6.4M576 1094.3h6.4M579.2 1091.1v6.4M576.1 1094.3h6.4M579.3 1091.1v6.4M576.2 1094.3h6.4M579.4 1091.1v6.4M576.8 1094.3h6.4M580 1091.1v6.4M577 1094.3h6.4M580.2 1091.1v6.4M577 1094.3h6.4M580.2 1091.1v6.4M577.4 1095.8h6.4M580.6 1092.6v6.4M578 1095.8h6.4M581.2 1092.6v6.4M578.3 1095.8h6.4M581.5 1092.6v6.4M578.3 1095.8h6.4M581.5 1092.6v6.4M578.5 1097h6.4M581.7 1093.8v6.4M578.7 1097h6.4M581.9 1093.8v6.4M578.7 1097h6.4M581.9 1093.8v6.4M578.8 1097h6.4M582 1093.8v6.4M578.9 1097h6.4M582.1 1093.8v6.4M579 1097h6.4M582.2 1093.8v6.4M579.5 1097h6.4M582.7 1093.8v6.4M580.1 1097h6.4M583.3 1093.8v6.4M580.3 1097h6.4M583.5 1093.8v6.4M581.2 1099.2h6.4M584.4 1096v6.4M581.3 1099.2h6.4M584.5 1096v6.4M581.4 1099.2h6.4M584.6 1096v6.4M581.6 1099.2h6.4M584.8 1096v6.4M581.8 1099.2h6.4M585 1096v6.4M581.9 1099.2h6.4M585.1 1096v6.4M582.1 1100.6h6.4M585.3 1097.4v6.4M582.3 1100.6h6.4M585.5 1097.4v6.4M582.5 1100.6h6.4M585.7 1097.4v6.4M582.5 1100.6h6.4M585.7 1097.4v6.4M582.6 1100.6h6.4M585.8 1097.4v6.4M582.8 1100.6h6.4M586 1097.4v6.4M582.8 1100.6h6.4M586 1097.4v6.4M583 1100.6h6.4M586.2 1097.4v6.4M583.1 1100.6h6.4M586.3 1097.4v6.4M583.2 1100.6h6.4M586.4 1097.4v6.4M583.4 1100.6h6.4M586.6 1097.4v6.4M583.8 1100.6h6.4M587 1097.4v6.4M584 1100.6h6.4M587.2 1097.4v6.4M584.3 1100.6h6.4M587.5 1097.4v6.4M584.3 1100.6h6.4M587.5 1097.4v6.4M584.5 1103h6.4M587.7 1099.8v6.4M584.8 1103h6.4M588 1099.8v6.4M584.9 1103h6.4M588.1 1099.8v6.4M585.1 1103h6.4M588.3 1099.8v6.4M585.2 1103h6.4M588.4 1099.8v6.4M585.7 1103h6.4M588.9 1099.8v6.4M585.7 1103h6.4M588.9 1099.8v6.4M585.8 1103h6.4M589 1099.8v6.4M586.1 1104.3h6.4M589.3 1101.1v6.4M586.4 1104.3h6.4M589.6 1101.1v6.4M586.5 1104.3h6.4M589.7 1101.1v6.4M586.6 1104.3h6.4M589.8 1101.1v6.4M586.7 1104.3h6.4M589.9 1101.1v6.4M587.3 1104.3h6.4M590.5 1101.1v6.4M587.4 1104.3h6.4M590.6 1101.1v6.4M588 1105.9h6.4M591.2 1102.7v6.4M588.1 1105.9h6.4M591.3 1102.7v6.4M588.2 1105.9h6.4M591.4 1102.7v6.4M588.4 1105.9h6.4M591.6 1102.7v6.4M588.4 1105.9h6.4M591.6 1102.7v6.4M588.4 1105.9h6.4M591.6 1102.7v6.4M588.5 1105.9h6.4M591.7 1102.7v6.4M588.5 1105.9h6.4M591.7 1102.7v6.4M588.5 1105.9h6.4M591.7 1102.7v6.4M588.5 1105.9h6.4M591.7 1102.7v6.4M589.7 1105.9h6.4M592.9 1102.7v6.4M589.8 1107.8h6.4M593 1104.6v6.4M589.9 1107.8h6.4M593.1 1104.6v6.4M589.9 1107.8h6.4M593.1 1104.6v6.4M590.1 1107.8h6.4M593.3 1104.6v6.4M590.6 1107.8h6.4M593.8 1104.6v6.4M590.8 1107.8h6.4M594 1104.6v6.4M590.9 1107.8h6.4M594.1 1104.6v6.4M591.2 1107.8h6.4M594.4 1104.6v6.4M591.2 1107.8h6.4M594.4 1104.6v6.4M591.5 1107.8h6.4M594.7 1104.6v6.4M592.2 1109.8h6.4M595.4 1106.6v6.4M592.4 1109.8h6.4M595.6 1106.6v6.4M592.8 1110.6h6.4M596 1107.4v6.4M593 1110.6h6.4M596.2 1107.4v6.4M593.3 1110.6h6.4M596.5 1107.4v6.4M593.4 1110.6h6.4M596.6 1107.4v6.4M593.4 1110.6h6.4M596.6 1107.4v6.4M593.6 1110.6h6.4M596.8 1107.4v6.4M593.6 1110.6h6.4M596.8 1107.4v6.4M593.8 1110.6h6.4M597 1107.4v6.4M593.9 1110.6h6.4M597.1 1107.4v6.4M594 1110.6h6.4M597.2 1107.4v6.4M594.7 1110.6h6.4M597.9 1107.4v6.4M594.8 1112.4h6.4M598 1109.2v6.4M594.9 1112.4h6.4M598.1 1109.2v6.4M595.5 1112.4h6.4M598.7 1109.2v6.4M596 1113.4h6.4M599.2 1110.2v6.4M596.1 1113.4h6.4M599.3 1110.2v6.4M596.2 1113.4h6.4M599.4 1110.2v6.4M596.2 1113.4h6.4M599.4 1110.2v6.4M596.2 1113.4h6.4M599.4 1110.2v6.4M596.3 1113.4h6.4M599.5 1110.2v6.4M596.4 1113.4h6.4M599.6 1110.2v6.4M596.4 1113.4h6.4M599.6 1110.2v6.4M597.2 1114.6h6.4M600.4 1111.4v6.4M597.4 1114.6h6.4M600.6 1111.4v6.4M598.2 1115.5h6.4M601.4 1112.3v6.4M598.3 1115.5h6.4M601.5 1112.3v6.4M598.8 1115.5h6.4M602 1112.3v6.4M599.3 1115.5h6.4M602.5 1112.3v6.4M599.6 1115.5h6.4M602.8 1112.3v6.4M599.7 1115.5h6.4M602.9 1112.3v6.4M599.9 1115.5h6.4M603.1 1112.3v6.4M599.9 1117.2h6.4M603.1 1114v6.4M600.3 1117.2h6.4M603.5 1114v6.4M600.8 1117.2h6.4M604 1114v6.4M601.1 1117.2h6.4M604.3 1114v6.4M601.8 1118.2h6.4M605 1115v6.4M601.9 1118.2h6.4M605.1 1115v6.4M602 1118.2h6.4M605.2 1115v6.4M602 1118.2h6.4M605.2 1115v6.4M602.2 1118.2h6.4M605.4 1115v6.4M602.2 1118.2h6.4M605.4 1115v6.4M602.2 1118.2h6.4M605.4 1115v6.4M602.5 1119.3h6.4M605.7 1116.1v6.4M602.5 1119.3h6.4M605.7 1116.1v6.4M602.8 1119.3h6.4M606 1116.1v6.4M604.8 1120.8h6.4M608 1117.6v6.4M604.8 1120.8h6.4M608 1117.6v6.4M605 1120.8h6.4M608.2 1117.6v6.4M605.3 1120.8h6.4M608.5 1117.6v6.4M605.4 1120.8h6.4M608.6 1117.6v6.4M605.6 1122.2h6.4M608.8 1119v6.4M606.5 1122.2h6.4M609.7 1119v6.4M607.4 1123.7h6.4M610.6 1120.5v6.4M608.1 1123.7h6.4M611.3 1120.5v6.4M608.2 1123.7h6.4M611.4 1120.5v6.4M608.7 1123.7h6.4M611.9 1120.5v6.4M608.8 1125.1h6.4M612 1121.9v6.4M608.9 1125.1h6.4M612.1 1121.9v6.4M609.8 1125.1h6.4M613 1121.9v6.4M610.4 1125.1h6.4M613.6 1121.9v6.4M610.6 1125.1h6.4M613.8 1121.9v6.4M611 1126.8h6.4M614.2 1123.6v6.4M611.5 1126.8h6.4M614.7 1123.6v6.4M612.1 1126.8h6.4M615.3 1123.6v6.4M612.1 1126.8h6.4M615.3 1123.6v6.4M612.8 1126.8h6.4M616 1123.6v6.4M613.2 1128.7h6.4M616.4 1125.5v6.4M613.3 1128.7h6.4M616.5 1125.5v6.4M613.4 1128.7h6.4M616.6 1125.5v6.4M613.7 1128.7h6.4M616.9 1125.5v6.4M614 1128.7h6.4M617.2 1125.5v6.4M614.3 1128.7h6.4M617.5 1125.5v6.4M614.7 1128.7h6.4M617.9 1125.5v6.4M615.1 1128.7h6.4M618.3 1125.5v6.4M615.6 1130.8h6.4M618.8 1127.6v6.4M615.7 1130.8h6.4M618.9 1127.6v6.4M616.6 1130.8h6.4M619.8 1127.6v6.4M616.7 1130.8h6.4M619.9 1127.6v6.4M616.8 1130.8h6.4M620 1127.6v6.4M616.9 1130.8h6.4M620.1 1127.6v6.4M616.9 1130.8h6.4M620.1 1127.6v6.4M617 1130.8h6.4M620.2 1127.6v6.4M617.5 1132.3h6.4M620.7 1129.1v6.4M617.9 1132.3h6.4M621.1 1129.1v6.4M618.3 1132.3h6.4M621.5 1129.1v6.4M618.4 1132.3h6.4M621.6 1129.1v6.4M619.1 1132.3h6.4M622.3 1129.1v6.4M620 1133.9h6.4M623.2 1130.7v6.4M620.3 1133.9h6.4M623.5 1130.7v6.4M620.6 1133.9h6.4M623.8 1130.7v6.4M620.9 1133.9h6.4M624.1 1130.7v6.4M621 1135.4h6.4M624.2 1132.2v6.4M621.1 1135.4h6.4M624.3 1132.2v6.4M621.6 1135.4h6.4M624.8 1132.2v6.4M621.6 1135.4h6.4M624.8 1132.2v6.4M622 1135.4h6.4M625.2 1132.2v6.4M622 1135.4h6.4M625.2 1132.2v6.4M622.3 1135.4h6.4M625.5 1132.2v6.4M622.4 1135.4h6.4M625.6 1132.2v6.4M622.4 1136.6h6.4M625.6 1133.4v6.4M622.8 1136.6h6.4M626 1133.4v6.4M622.9 1136.6h6.4M626.1 1133.4v6.4M623.3 1136.6h6.4M626.5 1133.4v6.4M623.6 1136.6h6.4M626.8 1133.4v6.4M623.9 1136.6h6.4M627.1 1133.4v6.4M623.9 1136.6h6.4M627.1 1133.4v6.4M624 1136.6h6.4M627.2 1133.4v6.4M624.1 1136.6h6.4M627.3 1133.4v6.4M624.9 1138.4h6.4M628.1 1135.2v6.4M625.8 1139.2h6.4M629 1136v6.4M626 1139.2h6.4M629.2 1136v6.4M626.1 1139.2h6.4M629.3 1136v6.4M626.3 1139.2h6.4M629.5 1136v6.4M626.4 1139.2h6.4M629.6 1136v6.4M626.6 1139.2h6.4M629.8 1136v6.4M626.6 1139.2h6.4M629.8 1136v6.4M627.2 1139.2h6.4M630.4 1136v6.4M627.7 1139.2h6.4M630.9 1136v6.4M628.2 1141.1h6.4M631.4 1137.9v6.4M628.5 1141.1h6.4M631.7 1137.9v6.4M629 1141.1h6.4M632.2 1137.9v6.4M630.2 1142.3h6.4M633.4 1139.1v6.4M630.8 1142.3h6.4M634 1139.1v6.4M630.8 1142.3h6.4M634 1139.1v6.4M631.3 1142.3h6.4M634.5 1139.1v6.4M631.7 1143.9h6.4M634.9 1140.7v6.4M632.8 1143.9h6.4M636 1140.7v6.4M633.6 1145.5h6.4M636.8 1142.3v6.4M634 1145.5h6.4M637.2 1142.3v6.4M634.2 1145.5h6.4M637.4 1142.3v6.4M634.4 1145.5h6.4M637.6 1142.3v6.4M634.9 1146.2h6.4M638.1 1143v6.4M635.6 1146.2h6.4M638.8 1143v6.4M636.2 1147.4h6.4M639.4 1144.2v6.4M636.3 1147.4h6.4M639.5 1144.2v6.4M636.4 1147.4h6.4M639.6 1144.2v6.4M636.4 1147.4h6.4M639.6 1144.2v6.4M636.8 1147.4h6.4M640 1144.2v6.4M637.8 1148.5h6.4M641 1145.3v6.4M638 1148.5h6.4M641.2 1145.3v6.4M638.8 1149.3h6.4M642 1146.1v6.4M639.3 1149.3h6.4M642.5 1146.1v6.4M640.9 1150.9h6.4M644.1 1147.7v6.4M641.5 1150.9h6.4M644.7 1147.7v6.4M642.5 1152.1h6.4M645.7 1148.9v6.4M642.9 1152.1h6.4M646.1 1148.9v6.4M644.8 1153.5h6.4M648 1150.3v6.4M645.1 1154.2h6.4M648.3 1151v6.4M645.9 1154.2h6.4M649.1 1151v6.4M647.5 1155.9h6.4M650.7 1152.7v6.4M648 1155.9h6.4M651.2 1152.7v6.4M650.5 1156.6h6.4M653.7 1153.4v6.4M651.9 1157.7h6.4M655.1 1154.5v6.4M652.7 1157.7h6.4M655.9 1154.5v6.4M653.5 1158.8h6.4M656.7 1155.6v6.4M654.5 1159.3h6.4M657.7 1156.1v6.4M654.6 1159.3h6.4M657.8 1156.1v6.4M654.7 1159.3h6.4M657.9 1156.1v6.4M659.3 1160.8h6.4M662.5 1157.6v6.4M659.5 1160.8h6.4M662.7 1157.6v6.4M660.3 1160.8h6.4M663.5 1157.6v6.4M661 1160.8h6.4M664.2 1157.6v6.4M661.3 1160.8h6.4M664.5 1157.6v6.4M661.6 1160.8h6.4M664.8 1157.6v6.4M666.6 1161.2h6.4M669.8 1158v6.4M668.6 1162.2h6.4M671.8 1159v6.4M669.1 1163.8h6.4M672.3 1160.6v6.4M670.2 1163.8h6.4M673.4 1160.6v6.4M670.9 1165.6h6.4M674.1 1162.4v6.4M671.7 1165.6h6.4M674.9 1162.4v6.4M676.1 1172.4h6.4M679.3 1169.2v6.4M676.3 1172.4h6.4M679.5 1169.2v6.4M677.9 1174.3h6.4M681.1 1171.1v6.4M678.4 1174.3h6.4M681.6 1171.1v6.4M678.9 1174.3h6.4M682.1 1171.1v6.4M681.8 1176.6h6.4M685 1173.4v6.4M682.7 1177.1h6.4M685.9 1173.9v6.4M684.1 1178.1h6.4M687.3 1174.9v6.4M684.1 1178.1h6.4M687.3 1174.9v6.4M686.6 1178.6h6.4M689.8 1175.4v6.4M688.3 1179.9h6.4M691.5 1176.7v6.4M688.4 1179.9h6.4M691.6 1176.7v6.4M688.4 1179.9h6.4M691.6 1176.7v6.4M689.2 1180.4h6.4M692.4 1177.2v6.4M698.6 1181.8h6.4M701.8 1178.6v6.4M705.5 1182.8h6.4M708.7 1179.6v6.4M709.5 1183.6h6.4M712.7 1180.4v6.4M710.3 1183.6h6.4M713.5 1180.4v6.4M711.4 1183.6h6.4M714.6 1180.4v6.4M713.2 1183.6h6.4M716.4 1180.4v6.4M713.3 1183.6h6.4M716.5 1180.4v6.4M716.8 1184.1h6.4M720 1180.9v6.4M718.3 1184.1h6.4M721.5 1180.9v6.4M718.8 1184.1h6.4M722 1180.9v6.4M724.7 1187.4h6.4M727.9 1184.2v6.4M725.1 1187.4h6.4M728.3 1184.2v6.4M731.4 1193.4h6.4M734.6 1190.2v6.4M740.6 1195.3h6.4M743.8 1192.1v6.4M746 1195.3h6.4M749.2 1192.1v6.4M757.3 1195.3h6.4M760.5 1192.1v6.4M758.4 1195.3h6.4M761.6 1192.1v6.4M765.9 1195.3h6.4M769.1 1192.1v6.4M770.8 1195.3h6.4M774 1192.1v6.4M785.7 1195.3h6.4M788.9 1192.1v6.4M789.1 1195.3h6.4M792.3 1192.1v6.4M812 1195.3h6.4M815.2 1192.1v6.4M816.5 1195.3h6.4M819.7 1192.1v6.4M821.9 1195.3h6.4M825.1 1192.1v6.4M836.8 1195.3h6.4M840 1192.1v6.4M837.6 1195.3h6.4M840.8 1192.1v6.4M845.6 1195.3h6.4M848.8 1192.1v6.4M846.9 1195.3h6.4M850.1 1192.1v6.4M847 1195.3h6.4M850.2 1192.1v6.4" fill="none" stroke="#d7261e" stroke-width="1.1"/>
<path d="M567.3 1074.7H569.6V1076.5H571.8V1078.3H573.3V1079.4H575.5V1081.2H577.3V1082.6H578.5V1083.5H580.4V1084.8H581.8V1085.8H584V1087.4H585V1088.1H587.4V1089.7H589.3V1091H590.8V1092H592.6V1093.1H594.3V1094.2H595.8V1095.2H597.6V1096.3H599.8V1097.7H600.9V1098.4H603V1099.7H604.1V1100.4H605.6V1101.4H607V1102.2H608.5V1103.3H610.9V1105.3H612.9V1107H614.2V1108H615.6V1109.2H616.5V1110H617.7V1111H618.5V1111.7H620.6V1113.5H622.6V1115.1H624.1V1116.4H626.3V1118.3H628.3V1120H630.1V1121.1H632.2V1122.2H634V1123.2H634.9V1123.6H636.7V1124.5H639.1V1125.7H641.2V1126.7H642.6V1127.4H644.4V1128.3H646.6V1129.3H648.6V1130.3H649.7V1130.8H651.1H652.9V1131.5H654.2H655.6V1132H657.3H658.6V1132.7H660.2H661.9V1133.4H662.9H663.8V1133.8H665.1H667.6V1134.6H668.9H670.4V1135.1H671.8H673.4H674.9H677.1H679.6H680.4H681.5H683.6H685.4H687.6H689.9H691.2H693.5H694.7H696.4H698.5H699.5H701.6H703.5H704.8H706.8H709.1V1149.6H710.7V1150.2H712.6H714.6H716.2H717.5H719.4H720.2H722.4H723.4H724.3H725.2H726.9H728.6H729.9H731H731.9H733.9H735.4H737.1H738.1H739.2H740.6H742.6H743.8H744.9H745.8H747.8H749.1H750.1H752.1H754.5H755.3H756.3H758.5H759.5H761.7H763.5H765.6H767H769H769.8H771H772H774.1H774.9H776.3H778.3H779.7H780.7H782.8H784.6H785.7H787.5H788.8H790H791.6H793.5H795.4H796.9H799H800H801.1H802.5H804.8H805.8H807.1H808.9H810.6H812.5H813.9H816.4H817.6H819.2H820.3H820.3" fill="none" stroke="#3d48b0" stroke-width="2.5" stroke-linejoin="miter"/><path d="M565.8 1074.7h6.4M569 1071.5v6.4M566.4 1076.5h6.4M569.6 1073.3v6.4M566.5 1076.5h6.4M569.7 1073.3v6.4M567 1076.5h6.4M570.2 1073.3v6.4M567.1 1076.5h6.4M570.3 1073.3v6.4M567.2 1076.5h6.4M570.4 1073.3v6.4M567.9 1076.5h6.4M571.1 1073.3v6.4M568 1076.5h6.4M571.2 1073.3v6.4M569.5 1078.3h6.4M572.7 1075.1v6.4M569.5 1078.3h6.4M572.7 1075.1v6.4M569.7 1078.3h6.4M572.9 1075.1v6.4M570.6 1079.4h6.4M573.8 1076.2v6.4M570.8 1079.4h6.4M574 1076.2v6.4M571.4 1079.4h6.4M574.6 1076.2v6.4M571.8 1079.4h6.4M575 1076.2v6.4M572.5 1081.2h6.4M575.7 1078v6.4M572.6 1081.2h6.4M575.8 1078v6.4M573.2 1081.2h6.4M576.4 1078v6.4M573.4 1081.2h6.4M576.6 1078v6.4M573.7 1081.2h6.4M576.9 1078v6.4M574 1081.2h6.4M577.2 1078v6.4M574.3 1082.6h6.4M577.5 1079.4v6.4M574.5 1082.6h6.4M577.7 1079.4v6.4M574.6 1082.6h6.4M577.8 1079.4v6.4M576.8 1083.5h6.4M580 1080.3v6.4M577.5 1084.8h6.4M580.7 1081.6v6.4M577.5 1084.8h6.4M580.7 1081.6v6.4M578.5 1084.8h6.4M581.7 1081.6v6.4M579 1085.8h6.4M582.2 1082.6v6.4M579 1085.8h6.4M582.2 1082.6v6.4M579.1 1085.8h6.4M582.3 1082.6v6.4M579.6 1085.8h6.4M582.8 1082.6v6.4M579.9 1085.8h6.4M583.1 1082.6v6.4M580.5 1085.8h6.4M583.7 1082.6v6.4M581.6 1087.4h6.4M584.8 1084.2v6.4M582 1088.1h6.4M585.2 1084.9v6.4M582.1 1088.1h6.4M585.3 1084.9v6.4M582.2 1088.1h6.4M585.4 1084.9v6.4M582.7 1088.1h6.4M585.9 1084.9v6.4M583.6 1088.1h6.4M586.8 1084.9v6.4M584.1 1088.1h6.4M587.3 1084.9v6.4M584.6 1089.7h6.4M587.8 1086.5v6.4M584.9 1089.7h6.4M588.1 1086.5v6.4M585.8 1089.7h6.4M589 1086.5v6.4M586.1 1089.7h6.4M589.3 1086.5v6.4M586.4 1091h6.4M589.6 1087.8v6.4M587 1091h6.4M590.2 1087.8v6.4M587.4 1091h6.4M590.6 1087.8v6.4M589.4 1092h6.4M592.6 1088.8v6.4M590.4 1093.1h6.4M593.6 1089.9v6.4M590.8 1093.1h6.4M594 1089.9v6.4M592.5 1094.2h6.4M595.7 1091v6.4M592.5 1094.2h6.4M595.7 1091v6.4M593.3 1095.2h6.4M596.5 1092v6.4M593.4 1095.2h6.4M596.6 1092v6.4M593.7 1095.2h6.4M596.9 1092v6.4M594.2 1095.2h6.4M597.4 1092v6.4M594.3 1095.2h6.4M597.5 1092v6.4M594.6 1096.3h6.4M597.8 1093.1v6.4M594.9 1096.3h6.4M598.1 1093.1v6.4M595 1096.3h6.4M598.2 1093.1v6.4M595 1096.3h6.4M598.2 1093.1v6.4M595.7 1096.3h6.4M598.9 1093.1v6.4M595.8 1096.3h6.4M599 1093.1v6.4M596.4 1096.3h6.4M599.6 1093.1v6.4M596.9 1097.7h6.4M600.1 1094.5v6.4M597.5 1097.7h6.4M600.7 1094.5v6.4M597.9 1098.4h6.4M601.1 1095.2v6.4M598.5 1098.4h6.4M601.7 1095.2v6.4M598.7 1098.4h6.4M601.9 1095.2v6.4M600.5 1099.7h6.4M603.7 1096.5v6.4M600.9 1100.4h6.4M604.1 1097.2v6.4M601.8 1100.4h6.4M605 1097.2v6.4M603.1 1101.4h6.4M606.3 1098.2v6.4M603.2 1101.4h6.4M606.4 1098.2v6.4M603.2 1101.4h6.4M606.4 1098.2v6.4M603.2 1101.4h6.4M606.4 1098.2v6.4M603.3 1101.4h6.4M606.5 1098.2v6.4M603.3 1101.4h6.4M606.5 1098.2v6.4M603.4 1101.4h6.4M606.6 1098.2v6.4M603.9 1102.2h6.4M607.1 1099v6.4M604.2 1102.2h6.4M607.4 1099v6.4M604.5 1102.2h6.4M607.7 1099v6.4M604.7 1102.2h6.4M607.9 1099v6.4M604.7 1102.2h6.4M607.9 1099v6.4M604.8 1102.2h6.4M608 1099v6.4M605.6 1103.3h6.4M608.8 1100.1v6.4M606 1103.3h6.4M609.2 1100.1v6.4M606.6 1103.3h6.4M609.8 1100.1v6.4M607.6 1103.3h6.4M610.8 1100.1v6.4M608.8 1105.3h6.4M612 1102.1v6.4M610.4 1107h6.4M613.6 1103.8v6.4M611.1 1108h6.4M614.3 1104.8v6.4M612.6 1109.2h6.4M615.8 1106v6.4M612.7 1109.2h6.4M615.9 1106v6.4M613.1 1109.2h6.4M616.3 1106v6.4M613.3 1109.2h6.4M616.5 1106v6.4M613.9 1110h6.4M617.1 1106.8v6.4M614 1110h6.4M617.2 1106.8v6.4M616.3 1111.7h6.4M619.5 1108.5v6.4M616.6 1111.7h6.4M619.8 1108.5v6.4M619.6 1115.1h6.4M622.8 1111.9v6.4M621.1 1116.4h6.4M624.3 1113.2v6.4M621.3 1116.4h6.4M624.5 1113.2v6.4M622.2 1116.4h6.4M625.4 1113.2v6.4M623.3 1118.3h6.4M626.5 1115.1v6.4M623.7 1118.3h6.4M626.9 1115.1v6.4M623.8 1118.3h6.4M627 1115.1v6.4M623.9 1118.3h6.4M627.1 1115.1v6.4M624.4 1118.3h6.4M627.6 1115.1v6.4M624.9 1118.3h6.4M628.1 1115.1v6.4M627.8 1121.1h6.4M631 1117.9v6.4M627.9 1121.1h6.4M631.1 1117.9v6.4M629.3 1122.2h6.4M632.5 1119v6.4M631.9 1123.6h6.4M635.1 1120.4v6.4M632 1123.6h6.4M635.2 1120.4v6.4M633.1 1123.6h6.4M636.3 1120.4v6.4M634 1124.5h6.4M637.2 1121.3v6.4M635.6 1124.5h6.4M638.8 1121.3v6.4M638.7 1126.7h6.4M641.9 1123.5v6.4M639.3 1126.7h6.4M642.5 1123.5v6.4M641.7 1128.3h6.4M644.9 1125.1v6.4M642.9 1128.3h6.4M646.1 1125.1v6.4M643.7 1129.3h6.4M646.9 1126.1v6.4M644.4 1129.3h6.4M647.6 1126.1v6.4M648.6 1130.8h6.4M651.8 1127.6v6.4M651.1 1131.5h6.4M654.3 1128.3v6.4M651.6 1131.5h6.4M654.8 1128.3v6.4M652.9 1132h6.4M656.1 1128.8v6.4M656.7 1132.7h6.4M659.9 1129.5v6.4M656.9 1132.7h6.4M660.1 1129.5v6.4M658.3 1132.7h6.4M661.5 1129.5v6.4M661.1 1133.8h6.4M664.3 1130.6v6.4M662.5 1133.8h6.4M665.7 1130.6v6.4M665.9 1134.6h6.4M669.1 1131.4v6.4M666.1 1134.6h6.4M669.3 1131.4v6.4M667.9 1135.1h6.4M671.1 1131.9v6.4M668 1135.1h6.4M671.2 1131.9v6.4M669.7 1135.1h6.4M672.9 1131.9v6.4M670.9 1135.1h6.4M674.1 1131.9v6.4M671.7 1135.1h6.4M674.9 1131.9v6.4M675.6 1135.1h6.4M678.8 1131.9v6.4M677.7 1135.1h6.4M680.9 1131.9v6.4M678.9 1135.1h6.4M682.1 1131.9v6.4M683.9 1135.1h6.4M687.1 1131.9v6.4M684.2 1135.1h6.4M687.4 1131.9v6.4M689.2 1135.1h6.4M692.4 1131.9v6.4M689.7 1135.1h6.4M692.9 1131.9v6.4M691.1 1135.1h6.4M694.3 1131.9v6.4M694.2 1135.1h6.4M697.4 1131.9v6.4M697.5 1135.1h6.4M700.7 1131.9v6.4M697.9 1135.1h6.4M701.1 1131.9v6.4M698.9 1135.1h6.4M702.1 1131.9v6.4M701 1135.1h6.4M704.2 1131.9v6.4M702.8 1135.1h6.4M706 1131.9v6.4M703 1135.1h6.4M706.2 1131.9v6.4M710.9 1150.2h6.4M714.1 1147v6.4M715.7 1150.2h6.4M718.9 1147v6.4M717.3 1150.2h6.4M720.5 1147v6.4M720.6 1150.2h6.4M723.8 1147v6.4M723 1150.2h6.4M726.2 1147v6.4M733.6 1150.2h6.4M736.8 1147v6.4M735 1150.2h6.4M738.2 1147v6.4M738.6 1150.2h6.4M741.8 1147v6.4M747 1150.2h6.4M750.2 1147v6.4M769.9 1150.2h6.4M773.1 1147v6.4M771.6 1150.2h6.4M774.8 1147v6.4M780.9 1150.2h6.4M784.1 1147v6.4M781.4 1150.2h6.4M784.6 1147v6.4M792.4 1150.2h6.4M795.6 1147v6.4M793.5 1150.2h6.4M796.7 1147v6.4M793.8 1150.2h6.4M797 1147v6.4M794.1 1150.2h6.4M797.3 1147v6.4M794.5 1150.2h6.4M797.7 1147v6.4M804.7 1150.2h6.4M807.9 1147v6.4M807.3 1150.2h6.4M810.5 1147v6.4M816.1 1150.2h6.4M819.3 1147v6.4" fill="none" stroke="#3d48b0" stroke-width="1.1"/>
<path d="M552.4 1063V1328.9H891.2" stroke="#222" stroke-width="1.6" fill="none"/>
<text x="546.8" y="1321.9" font-size="13.7" text-anchor="end">0.00</text>
<text x="546.8" y="1261.3" font-size="13.7" text-anchor="end">0.25</text>
<text x="546.8" y="1200.8" font-size="13.7" text-anchor="end">0.50</text>
<text x="546.8" y="1140.2" font-size="13.7" text-anchor="end">0.75</text>
<text x="546.8" y="1079.6" font-size="13.7" text-anchor="end">1.00</text>
<text x="567.3" y="1345.4" font-size="13.7" text-anchor="middle">0</text>
<text x="587.9" y="1345.4" font-size="13.7" text-anchor="middle">1</text>
<text x="608.4" y="1345.4" font-size="13.7" text-anchor="middle">2</text>
<text x="629" y="1345.4" font-size="13.7" text-anchor="middle">3</text>
<text x="649.6" y="1345.4" font-size="13.7" text-anchor="middle">4</text>
<text x="670.1" y="1345.4" font-size="13.7" text-anchor="middle">5</text>
<text x="690.7" y="1345.4" font-size="13.7" text-anchor="middle">6</text>
<text x="711.3" y="1345.4" font-size="13.7" text-anchor="middle">7</text>
<text x="731.9" y="1345.4" font-size="13.7" text-anchor="middle">8</text>
<text x="752.4" y="1345.4" font-size="13.7" text-anchor="middle">9</text>
<text x="773" y="1345.4" font-size="13.7" text-anchor="middle">10</text>
<text x="793.6" y="1345.4" font-size="13.7" text-anchor="middle">11</text>
<text x="814.1" y="1345.4" font-size="13.7" text-anchor="middle">12</text>
<text x="834.7" y="1345.4" font-size="13.7" text-anchor="middle">13</text>
<text x="855.3" y="1345.4" font-size="13.7" text-anchor="middle">14</text>
<text x="875.8" y="1345.4" font-size="13.7" text-anchor="middle">15</text>
<path d="M548.4 1317h4M548.4 1256.4h4M548.4 1195.8h4M548.4 1135.3h4M548.4 1074.7h4M567.3 1328.9v4M587.9 1328.9v4M608.4 1328.9v4M629 1328.9v4M649.6 1328.9v4M670.1 1328.9v4M690.7 1328.9v4M711.3 1328.9v4M731.9 1328.9v4M752.4 1328.9v4M773 1328.9v4M793.6 1328.9v4M814.1 1328.9v4M834.7 1328.9v4M855.3 1328.9v4M875.8 1328.9v4" stroke="#222" stroke-width="1.2" fill="none"/>
<text x="722.1" y="1362.2" font-size="15.7" text-anchor="middle">Time(years)</text>
<text transform="translate(511.9 1195.3) rotate(-90)" font-size="15.7" text-anchor="middle">Progression-Free-Survival probability</text>
<text x="573.1" y="1276.4" font-size="18.8">p=0.006</text>
<text x="655.4" y="1037.5" font-size="11.4">OXSM</text>
<path d="M695.5 1033.5h16" stroke="#d7261e" stroke-width="2.3"/>
<path d="M700 1033.5h7M703.5 1030v7" stroke="#d7261e" stroke-width="1.4"/>
<text x="718.5" y="1037.5" font-size="11.4">high</text>
<path d="M747.1 1033.5h16" stroke="#3d48b0" stroke-width="2.3"/>
<path d="M751.6 1033.5h7M755.1 1030v7" stroke="#3d48b0" stroke-width="1.4"/>
<text x="770.1" y="1037.5" font-size="11.4">low</text>
</g>
<g id="pE">
<path d="M1060.2 699.2H1062.1V705H1063.1V707.9H1064.2V711.1H1066V714.7H1067.4V717.2H1069.7V721.6H1071.9V724.8H1074.1V727.6H1075.6V729.5H1077.8V732.3H1079.5V734.5H1081.7V737.2H1083.1V738.7H1084.8V740.7H1086.4V742.4H1087.9V744.1H1089.3V745.8H1090.8V747.5H1091.9V748.7H1093V749.9H1094.3V751.4H1096.3V753.6H1098.2V755.8H1100.2V758.1H1102.2V760.2H1104.4V762.1H1105.4V763H1106.9V764.3H1108.7V766H1109.6V766.8H1111.9V768.9H1113.9V770.8H1115.4V772.1H1116.2V772.9H1117.2V773.8H1118.1V774.7H1119.3V775.8H1120.5V777H1121.6V778H1123.2V779.5H1125.4V781.6H1127.4V783.6H1129.2V785.4H1131.6V787.8H1133.2V789.4H1134.1V790.2H1135.1V791.1H1136.1V792H1137.6V793.4H1139.5V795.2H1141.8V797.4H1142.9V798.2H1144.5V798.9H1146.4V799.8H1148V800.6H1149.3H1150.4V801H1152.6H1154.9H1156H1157.3H1158.9H1160.5V801.4H1162.4H1163.3V801.8H1164.7V803.8H1166.8V806.8H1168.6V809.3H1169.5V810.3H1171.6V811.5H1173.6V812.5H1174.7V813.1H1176.6V814.1H1178.3V814.7H1179.4H1181.7V815.2H1183.9H1186.3V816H1187.7H1190.1V816.6H1191.9H1193.5V817.2H1194.4H1195.4H1197.1V817.7H1198H1200.2V818.2H1201.9H1203.1V818.7H1204.9H1206.6V819.2H1208H1209.1H1211.4V819.7H1213.8H1215.8V820.3H1218.1V821.2H1219.1V821.7H1221V822.7H1223.4V824H1225.4V826.8H1227.4V832H1229.5H1231.9H1233.6H1235.3H1237H1239H1240.1H1241.5H1242.8H1244.9H1246.1H1248.2H1250.4H1251.3H1252.6H1254.6H1255.5H1257.5H1258.7H1259.8H1262H1263.2H1265.6H1267.4H1269H1270.7H1272.5H1273.3H1275.1H1276.4H1278.1H1280.5H1282.5H1284.1H1286H1287.7H1290.2H1291.3H1293.3H1294.3H1296.6H1298.5H1300.3H1302.8H1304.3H1305.8H1307.1H1308.6H1311.1H1313.1H1313.2" fill="none" stroke="#d7261e" stroke-width="2.5" stroke-linejoin="miter"/><path d="M1057.9 699.2h6.4M1061.1 696v6.4M1059.2 705h6.4M1062.4 701.8v6.4M1060 707.9h6.4M1063.2 704.7v6.4M1060.2 707.9h6.4M1063.4 704.7v6.4M1060.9 707.9h6.4M1064.1 704.7v6.4M1060.9 707.9h6.4M1064.1 704.7v6.4M1061.1 711.1h6.4M1064.3 707.9v6.4M1061.1 711.1h6.4M1064.3 707.9v6.4M1061.1 711.1h6.4M1064.3 707.9v6.4M1061.3 711.1h6.4M1064.5 707.9v6.4M1061.7 711.1h6.4M1064.9 707.9v6.4M1061.8 711.1h6.4M1065 707.9v6.4M1062.3 711.1h6.4M1065.5 707.9v6.4M1062.4 711.1h6.4M1065.6 707.9v6.4M1062.6 711.1h6.4M1065.8 707.9v6.4M1062.6 711.1h6.4M1065.8 707.9v6.4M1062.8 711.1h6.4M1066 707.9v6.4M1062.9 714.7h6.4M1066.1 711.5v6.4M1063 714.7h6.4M1066.2 711.5v6.4M1063.2 714.7h6.4M1066.4 711.5v6.4M1063.3 714.7h6.4M1066.5 711.5v6.4M1064.2 717.2h6.4M1067.4 714v6.4M1064.5 717.2h6.4M1067.7 714v6.4M1065 717.2h6.4M1068.2 714v6.4M1065.5 717.2h6.4M1068.7 714v6.4M1066.1 717.2h6.4M1069.3 714v6.4M1066.2 717.2h6.4M1069.4 714v6.4M1067.4 721.6h6.4M1070.6 718.4v6.4M1067.5 721.6h6.4M1070.7 718.4v6.4M1067.6 721.6h6.4M1070.8 718.4v6.4M1067.6 721.6h6.4M1070.8 718.4v6.4M1067.7 721.6h6.4M1070.9 718.4v6.4M1068.1 721.6h6.4M1071.3 718.4v6.4M1069 724.8h6.4M1072.2 721.6v6.4M1069 724.8h6.4M1072.2 721.6v6.4M1069.1 724.8h6.4M1072.3 721.6v6.4M1069.5 724.8h6.4M1072.7 721.6v6.4M1069.9 724.8h6.4M1073.1 721.6v6.4M1069.9 724.8h6.4M1073.1 721.6v6.4M1070.5 724.8h6.4M1073.7 721.6v6.4M1070.7 724.8h6.4M1073.9 721.6v6.4M1070.7 724.8h6.4M1073.9 721.6v6.4M1070.8 724.8h6.4M1074 721.6v6.4M1071.1 727.6h6.4M1074.3 724.4v6.4M1071.7 727.6h6.4M1074.9 724.4v6.4M1071.8 727.6h6.4M1075 724.4v6.4M1072.1 727.6h6.4M1075.3 724.4v6.4M1072.4 727.6h6.4M1075.6 724.4v6.4M1072.4 729.5h6.4M1075.6 726.3v6.4M1073.6 729.5h6.4M1076.8 726.3v6.4M1074.2 729.5h6.4M1077.4 726.3v6.4M1074.8 732.3h6.4M1078 729.1v6.4M1074.8 732.3h6.4M1078 729.1v6.4M1074.9 732.3h6.4M1078.1 729.1v6.4M1075 732.3h6.4M1078.2 729.1v6.4M1075.4 732.3h6.4M1078.6 729.1v6.4M1075.5 732.3h6.4M1078.7 729.1v6.4M1075.7 732.3h6.4M1078.9 729.1v6.4M1076.2 732.3h6.4M1079.4 729.1v6.4M1076.4 734.5h6.4M1079.6 731.3v6.4M1077 734.5h6.4M1080.2 731.3v6.4M1077.1 734.5h6.4M1080.3 731.3v6.4M1077.5 734.5h6.4M1080.7 731.3v6.4M1077.8 734.5h6.4M1081 731.3v6.4M1078 734.5h6.4M1081.2 731.3v6.4M1078.3 734.5h6.4M1081.5 731.3v6.4M1078.3 734.5h6.4M1081.5 731.3v6.4M1079.3 737.2h6.4M1082.5 734v6.4M1079.4 737.2h6.4M1082.6 734v6.4M1080 738.7h6.4M1083.2 735.5v6.4M1080.2 738.7h6.4M1083.4 735.5v6.4M1080.5 738.7h6.4M1083.7 735.5v6.4M1081 738.7h6.4M1084.2 735.5v6.4M1081.5 738.7h6.4M1084.7 735.5v6.4M1081.7 740.7h6.4M1084.9 737.5v6.4M1081.8 740.7h6.4M1085 737.5v6.4M1081.9 740.7h6.4M1085.1 737.5v6.4M1082.6 740.7h6.4M1085.8 737.5v6.4M1082.9 740.7h6.4M1086.1 737.5v6.4M1083.2 742.4h6.4M1086.4 739.2v6.4M1083.3 742.4h6.4M1086.5 739.2v6.4M1083.4 742.4h6.4M1086.6 739.2v6.4M1083.4 742.4h6.4M1086.6 739.2v6.4M1083.6 742.4h6.4M1086.8 739.2v6.4M1083.9 742.4h6.4M1087.1 739.2v6.4M1084.1 742.4h6.4M1087.3 739.2v6.4M1084.2 742.4h6.4M1087.4 739.2v6.4M1084.2 742.4h6.4M1087.4 739.2v6.4M1084.3 742.4h6.4M1087.5 739.2v6.4M1084.7 742.4h6.4M1087.9 739.2v6.4M1085.2 744.1h6.4M1088.4 740.9v6.4M1086.3 745.8h6.4M1089.5 742.6v6.4M1086.5 745.8h6.4M1089.7 742.6v6.4M1086.6 745.8h6.4M1089.8 742.6v6.4M1087.4 745.8h6.4M1090.6 742.6v6.4M1087.6 747.5h6.4M1090.8 744.3v6.4M1088.1 747.5h6.4M1091.3 744.3v6.4M1088.8 748.7h6.4M1092 745.5v6.4M1088.9 748.7h6.4M1092.1 745.5v6.4M1089.4 748.7h6.4M1092.6 745.5v6.4M1089.5 748.7h6.4M1092.7 745.5v6.4M1089.6 748.7h6.4M1092.8 745.5v6.4M1089.6 748.7h6.4M1092.8 745.5v6.4M1090.2 749.9h6.4M1093.4 746.7v6.4M1091.5 751.4h6.4M1094.7 748.2v6.4M1091.5 751.4h6.4M1094.7 748.2v6.4M1091.9 751.4h6.4M1095.1 748.2v6.4M1092 751.4h6.4M1095.2 748.2v6.4M1092.1 751.4h6.4M1095.3 748.2v6.4M1092.1 751.4h6.4M1095.3 748.2v6.4M1092.5 751.4h6.4M1095.7 748.2v6.4M1092.5 751.4h6.4M1095.7 748.2v6.4M1092.6 751.4h6.4M1095.8 748.2v6.4M1092.7 751.4h6.4M1095.9 748.2v6.4M1093.9 753.6h6.4M1097.1 750.4v6.4M1094.1 753.6h6.4M1097.3 750.4v6.4M1094.6 753.6h6.4M1097.8 750.4v6.4M1094.8 753.6h6.4M1098 750.4v6.4M1095.4 755.8h6.4M1098.6 752.6v6.4M1095.6 755.8h6.4M1098.8 752.6v6.4M1095.7 755.8h6.4M1098.9 752.6v6.4M1095.7 755.8h6.4M1098.9 752.6v6.4M1096 755.8h6.4M1099.2 752.6v6.4M1096 755.8h6.4M1099.2 752.6v6.4M1096 755.8h6.4M1099.2 752.6v6.4M1096.4 755.8h6.4M1099.6 752.6v6.4M1096.6 755.8h6.4M1099.8 752.6v6.4M1096.7 755.8h6.4M1099.9 752.6v6.4M1096.9 755.8h6.4M1100.1 752.6v6.4M1097.1 758.1h6.4M1100.3 754.9v6.4M1097.1 758.1h6.4M1100.3 754.9v6.4M1097.5 758.1h6.4M1100.7 754.9v6.4M1098.2 758.1h6.4M1101.4 754.9v6.4M1098.6 758.1h6.4M1101.8 754.9v6.4M1099.2 760.2h6.4M1102.4 757v6.4M1099.5 760.2h6.4M1102.7 757v6.4M1099.6 760.2h6.4M1102.8 757v6.4M1099.8 760.2h6.4M1103 757v6.4M1100 760.2h6.4M1103.2 757v6.4M1100.2 760.2h6.4M1103.4 757v6.4M1100.7 760.2h6.4M1103.9 757v6.4M1101.1 760.2h6.4M1104.3 757v6.4M1101.7 762.1h6.4M1104.9 758.9v6.4M1102 762.1h6.4M1105.2 758.9v6.4M1102.4 763h6.4M1105.6 759.8v6.4M1102.6 763h6.4M1105.8 759.8v6.4M1102.8 763h6.4M1106 759.8v6.4M1103.2 763h6.4M1106.4 759.8v6.4M1104.7 764.3h6.4M1107.9 761.1v6.4M1105.2 764.3h6.4M1108.4 761.1v6.4M1105.8 766h6.4M1109 762.8v6.4M1105.8 766h6.4M1109 762.8v6.4M1106.1 766h6.4M1109.3 762.8v6.4M1106.3 766h6.4M1109.5 762.8v6.4M1106.5 766.8h6.4M1109.7 763.6v6.4M1107 766.8h6.4M1110.2 763.6v6.4M1107.9 766.8h6.4M1111.1 763.6v6.4M1108.7 766.8h6.4M1111.9 763.6v6.4M1109.2 768.9h6.4M1112.4 765.7v6.4M1109.6 768.9h6.4M1112.8 765.7v6.4M1110.6 768.9h6.4M1113.8 765.7v6.4M1110.7 768.9h6.4M1113.9 765.7v6.4M1111.1 770.8h6.4M1114.3 767.6v6.4M1111.6 770.8h6.4M1114.8 767.6v6.4M1111.8 770.8h6.4M1115 767.6v6.4M1112.1 770.8h6.4M1115.3 767.6v6.4M1112.5 772.1h6.4M1115.7 768.9v6.4M1113.2 772.9h6.4M1116.4 769.7v6.4M1113.3 772.9h6.4M1116.5 769.7v6.4M1113.8 772.9h6.4M1117 769.7v6.4M1114 773.8h6.4M1117.2 770.6v6.4M1114.1 773.8h6.4M1117.3 770.6v6.4M1114.6 773.8h6.4M1117.8 770.6v6.4M1115 774.7h6.4M1118.2 771.5v6.4M1115.2 774.7h6.4M1118.4 771.5v6.4M1115.7 774.7h6.4M1118.9 771.5v6.4M1115.9 774.7h6.4M1119.1 771.5v6.4M1116.8 775.8h6.4M1120 772.6v6.4M1117.4 777h6.4M1120.6 773.8v6.4M1117.9 777h6.4M1121.1 773.8v6.4M1118.1 777h6.4M1121.3 773.8v6.4M1118.6 778h6.4M1121.8 774.8v6.4M1119.2 778h6.4M1122.4 774.8v6.4M1119.5 778h6.4M1122.7 774.8v6.4M1120 778h6.4M1123.2 774.8v6.4M1120.3 779.5h6.4M1123.5 776.3v6.4M1120.3 779.5h6.4M1123.5 776.3v6.4M1120.6 779.5h6.4M1123.8 776.3v6.4M1120.8 779.5h6.4M1124 776.3v6.4M1122.3 781.6h6.4M1125.5 778.4v6.4M1124.6 783.6h6.4M1127.8 780.4v6.4M1125.2 783.6h6.4M1128.4 780.4v6.4M1126.8 785.4h6.4M1130 782.2v6.4M1127.2 785.4h6.4M1130.4 782.2v6.4M1129.7 787.8h6.4M1132.9 784.6v6.4M1131.1 790.2h6.4M1134.3 787v6.4M1131.4 790.2h6.4M1134.6 787v6.4M1131.6 790.2h6.4M1134.8 787v6.4M1131.7 790.2h6.4M1134.9 787v6.4M1132 791.1h6.4M1135.2 787.9v6.4M1132.3 791.1h6.4M1135.5 787.9v6.4M1132.8 791.1h6.4M1136 787.9v6.4M1132.9 791.1h6.4M1136.1 787.9v6.4M1133.7 792h6.4M1136.9 788.8v6.4M1133.9 792h6.4M1137.1 788.8v6.4M1134.8 793.4h6.4M1138 790.2v6.4M1136.6 795.2h6.4M1139.8 792v6.4M1139.5 797.4h6.4M1142.7 794.2v6.4M1139.7 798.2h6.4M1142.9 795v6.4M1140.9 798.2h6.4M1144.1 795v6.4M1141.9 798.9h6.4M1145.1 795.7v6.4M1142.5 798.9h6.4M1145.7 795.7v6.4M1148.3 801h6.4M1151.5 797.8v6.4M1148.6 801h6.4M1151.8 797.8v6.4M1149.7 801h6.4M1152.9 797.8v6.4M1150.2 801h6.4M1153.4 797.8v6.4M1151.1 801h6.4M1154.3 797.8v6.4M1152.3 801h6.4M1155.5 797.8v6.4M1153.1 801h6.4M1156.3 797.8v6.4M1155.3 801h6.4M1158.5 797.8v6.4M1157.2 801h6.4M1160.4 797.8v6.4M1157.8 801.4h6.4M1161 798.2v6.4M1158.9 801.4h6.4M1162.1 798.2v6.4M1161.8 803.8h6.4M1165 800.6v6.4M1163.7 806.8h6.4M1166.9 803.6v6.4M1164.4 806.8h6.4M1167.6 803.6v6.4M1173.5 814.1h6.4M1176.7 810.9v6.4M1173.9 814.1h6.4M1177.1 810.9v6.4M1179.9 815.2h6.4M1183.1 812v6.4M1181 815.2h6.4M1184.2 812v6.4M1185.2 816h6.4M1188.4 812.8v6.4M1188.9 816.6h6.4M1192.1 813.4v6.4M1190.5 817.2h6.4M1193.7 814v6.4M1194 817.7h6.4M1197.2 814.5v6.4M1195.1 817.7h6.4M1198.3 814.5v6.4M1199.4 818.2h6.4M1202.6 815v6.4M1202.7 818.7h6.4M1205.9 815.5v6.4M1206.3 819.2h6.4M1209.5 816v6.4M1208.5 819.7h6.4M1211.7 816.5v6.4M1216.1 821.7h6.4M1219.3 818.5v6.4M1218.9 822.7h6.4M1222.1 819.5v6.4M1221.8 824h6.4M1225 820.8v6.4M1223.4 826.8h6.4M1226.6 823.6v6.4M1224.7 832h6.4M1227.9 828.8v6.4M1234.2 832h6.4M1237.4 828.8v6.4M1238 832h6.4M1241.2 828.8v6.4M1239 832h6.4M1242.2 828.8v6.4M1243.4 832h6.4M1246.6 828.8v6.4M1246.9 832h6.4M1250.1 828.8v6.4M1248.5 832h6.4M1251.7 828.8v6.4M1253.7 832h6.4M1256.9 828.8v6.4M1260.5 832h6.4M1263.7 828.8v6.4M1267.9 832h6.4M1271.1 828.8v6.4M1268 832h6.4M1271.2 828.8v6.4M1292.3 832h6.4M1295.5 828.8v6.4M1296.1 832h6.4M1299.3 828.8v6.4M1309 832h6.4M1312.2 828.8v6.4" fill="none" stroke="#d7261e" stroke-width="1.1"/>
<path d="M1060.2 699.2H1061.9V700.5H1062.7V701.1H1064V702.1H1066.2V703.8H1067.2V704.5H1068.2V705.3H1069.6V706.3H1070.9V707.3H1072.2V708.2H1074.2V709.6H1076.3V711.1H1078.5V712.7H1079.8V713.6H1081V714.5H1082V715.1H1083.8V716.3H1086V717.6H1088V718.9H1090V720.2H1092.4V721.7H1094.1V722.7H1095.9V723.9H1097.4V724.9H1098.3V725.4H1099.3V726.1H1100.8V727.1H1102.9V728.3H1105.3V729.6H1107.1V730.7H1108.7V731.5H1110.2V732.4H1112.3V733.7H1114V735H1116.3V736.8H1117.2V737.5H1119.7V739.4H1121.3V740.6H1123V741.4H1124.5V742H1126V742.5H1128.2V743.3H1130.1V744H1131.7V744.6H1134.1V745.4H1135.4V745.7H1137V746.2H1137.9H1139.3V746.8H1140.9V747.3H1142.1H1143.7V748.3H1146.1V749.2H1148.3V750.2H1150.7V751.2H1151.7V751.6H1152.6V752H1154.5V753.3H1155.7V754.2H1157.3V755.3H1159.5V756.8H1161.9V758.5H1163.3V759.5H1164.9V760.2H1166.4V760.9H1167.7V761.6H1169.6V762.5H1170.6V762.9H1171.9V763.6H1173.6V764.6H1175.8V767.5H1177.8V770.2H1179V771.8H1180.3V772.4H1182.4H1184.6H1185.5H1186.7H1188.5H1190.6H1191.9H1193.1H1194.9H1196.8H1199.2H1200.9V775.9H1203V781.1H1204.5H1206.4H1208H1209.1H1211.5H1213.3H1214.4H1216H1217.6H1218.8H1220.7H1223H1224.1H1225.8H1226.7H1228.1H1230.3H1231.9H1234.2H1235.9H1238.1H1239.3H1240.7H1242.3H1243.8H1245.8H1247.2H1249.5H1251.4H1253.2H1254.4H1256.4H1257.6H1258.9H1261.1H1262.6H1264.8H1267H1269.1H1270.8H1273H1275.1H1277.5H1278.7H1280.9H1282.7H1285H1287H1288.1H1290.5H1292.6H1294.8H1295.6H1297.8H1298.9H1300.5H1302.2H1303.6H1305.2H1306.9H1308.5H1310.9H1312H1313.1H1314.6H1315.6H1317.6H1318.6H1320.5H1321.7H1322.9H1323.9H1325H1327.2H1328.7H1330.8H1332.5H1333.4H1335H1337.2H1338.4H1340.4H1342.1H1343.4H1344.1" fill="none" stroke="#3d48b0" stroke-width="2.5" stroke-linejoin="miter"/><path d="M1057.7 699.2h6.4M1060.9 696v6.4M1058.3 699.2h6.4M1061.5 696v6.4M1058.3 699.2h6.4M1061.5 696v6.4M1058.7 700.5h6.4M1061.9 697.3v6.4M1059.3 700.5h6.4M1062.5 697.3v6.4M1059.3 700.5h6.4M1062.5 697.3v6.4M1059.6 701.1h6.4M1062.8 697.9v6.4M1059.7 701.1h6.4M1062.9 697.9v6.4M1060.1 701.1h6.4M1063.3 697.9v6.4M1061 702.1h6.4M1064.2 698.9v6.4M1061.2 702.1h6.4M1064.4 698.9v6.4M1061.5 702.1h6.4M1064.7 698.9v6.4M1061.6 702.1h6.4M1064.8 698.9v6.4M1062.5 702.1h6.4M1065.7 698.9v6.4M1062.7 702.1h6.4M1065.9 698.9v6.4M1062.7 702.1h6.4M1065.9 698.9v6.4M1062.8 702.1h6.4M1066 698.9v6.4M1062.9 702.1h6.4M1066.1 698.9v6.4M1062.9 702.1h6.4M1066.1 698.9v6.4M1064.2 704.5h6.4M1067.4 701.3v6.4M1064.5 704.5h6.4M1067.7 701.3v6.4M1065.1 705.3h6.4M1068.3 702.1v6.4M1065.1 705.3h6.4M1068.3 702.1v6.4M1065.5 705.3h6.4M1068.7 702.1v6.4M1065.6 705.3h6.4M1068.8 702.1v6.4M1065.9 705.3h6.4M1069.1 702.1v6.4M1065.9 705.3h6.4M1069.1 702.1v6.4M1066.2 705.3h6.4M1069.4 702.1v6.4M1066.3 705.3h6.4M1069.5 702.1v6.4M1066.6 706.3h6.4M1069.8 703.1v6.4M1066.8 706.3h6.4M1070 703.1v6.4M1066.9 706.3h6.4M1070.1 703.1v6.4M1067 706.3h6.4M1070.2 703.1v6.4M1067.1 706.3h6.4M1070.3 703.1v6.4M1067.5 706.3h6.4M1070.7 703.1v6.4M1067.7 706.3h6.4M1070.9 703.1v6.4M1068.2 707.3h6.4M1071.4 704.1v6.4M1068.4 707.3h6.4M1071.6 704.1v6.4M1068.9 707.3h6.4M1072.1 704.1v6.4M1068.9 707.3h6.4M1072.1 704.1v6.4M1069.1 708.2h6.4M1072.3 705v6.4M1069.1 708.2h6.4M1072.3 705v6.4M1069.7 708.2h6.4M1072.9 705v6.4M1070.6 708.2h6.4M1073.8 705v6.4M1070.6 708.2h6.4M1073.8 705v6.4M1071 709.6h6.4M1074.2 706.4v6.4M1071.6 709.6h6.4M1074.8 706.4v6.4M1071.8 709.6h6.4M1075 706.4v6.4M1071.9 709.6h6.4M1075.1 706.4v6.4M1072.1 709.6h6.4M1075.3 706.4v6.4M1072.5 709.6h6.4M1075.7 706.4v6.4M1073.2 711.1h6.4M1076.4 707.9v6.4M1073.5 711.1h6.4M1076.7 707.9v6.4M1074.2 711.1h6.4M1077.4 707.9v6.4M1074.4 711.1h6.4M1077.6 707.9v6.4M1074.6 711.1h6.4M1077.8 707.9v6.4M1075.4 712.7h6.4M1078.6 709.5v6.4M1076.3 712.7h6.4M1079.5 709.5v6.4M1076.3 712.7h6.4M1079.5 709.5v6.4M1076.3 712.7h6.4M1079.5 709.5v6.4M1076.4 712.7h6.4M1079.6 709.5v6.4M1076.5 712.7h6.4M1079.7 709.5v6.4M1076.7 713.6h6.4M1079.9 710.4v6.4M1076.8 713.6h6.4M1080 710.4v6.4M1078.1 714.5h6.4M1081.3 711.3v6.4M1078.6 714.5h6.4M1081.8 711.3v6.4M1078.7 714.5h6.4M1081.9 711.3v6.4M1078.9 715.1h6.4M1082.1 711.9v6.4M1079.5 715.1h6.4M1082.7 711.9v6.4M1079.8 715.1h6.4M1083 711.9v6.4M1079.9 715.1h6.4M1083.1 711.9v6.4M1079.9 715.1h6.4M1083.1 711.9v6.4M1080.2 715.1h6.4M1083.4 711.9v6.4M1080.4 715.1h6.4M1083.6 711.9v6.4M1080.6 715.1h6.4M1083.8 711.9v6.4M1081 716.3h6.4M1084.2 713.1v6.4M1081.1 716.3h6.4M1084.3 713.1v6.4M1081.1 716.3h6.4M1084.3 713.1v6.4M1081.2 716.3h6.4M1084.4 713.1v6.4M1081.5 716.3h6.4M1084.7 713.1v6.4M1081.6 716.3h6.4M1084.8 713.1v6.4M1081.9 716.3h6.4M1085.1 713.1v6.4M1082.4 716.3h6.4M1085.6 713.1v6.4M1082.5 716.3h6.4M1085.7 713.1v6.4M1083 717.6h6.4M1086.2 714.4v6.4M1083 717.6h6.4M1086.2 714.4v6.4M1084.6 717.6h6.4M1087.8 714.4v6.4M1085 718.9h6.4M1088.2 715.7v6.4M1085.2 718.9h6.4M1088.4 715.7v6.4M1085.2 718.9h6.4M1088.4 715.7v6.4M1085.9 718.9h6.4M1089.1 715.7v6.4M1085.9 718.9h6.4M1089.1 715.7v6.4M1086.1 718.9h6.4M1089.3 715.7v6.4M1087.1 720.2h6.4M1090.3 717v6.4M1087.1 720.2h6.4M1090.3 717v6.4M1087.5 720.2h6.4M1090.7 717v6.4M1089.2 721.7h6.4M1092.4 718.5v6.4M1089.4 721.7h6.4M1092.6 718.5v6.4M1090.1 721.7h6.4M1093.3 718.5v6.4M1090.7 721.7h6.4M1093.9 718.5v6.4M1090.9 722.7h6.4M1094.1 719.5v6.4M1091.7 722.7h6.4M1094.9 719.5v6.4M1091.9 722.7h6.4M1095.1 719.5v6.4M1092 722.7h6.4M1095.2 719.5v6.4M1092.8 723.9h6.4M1096 720.7v6.4M1093.1 723.9h6.4M1096.3 720.7v6.4M1093.4 723.9h6.4M1096.6 720.7v6.4M1093.8 723.9h6.4M1097 720.7v6.4M1094.3 724.9h6.4M1097.5 721.7v6.4M1094.4 724.9h6.4M1097.6 721.7v6.4M1094.5 724.9h6.4M1097.7 721.7v6.4M1095.1 724.9h6.4M1098.3 721.7v6.4M1095.3 725.4h6.4M1098.5 722.2v6.4M1095.4 725.4h6.4M1098.6 722.2v6.4M1095.5 725.4h6.4M1098.7 722.2v6.4M1095.5 725.4h6.4M1098.7 722.2v6.4M1095.6 725.4h6.4M1098.8 722.2v6.4M1096 725.4h6.4M1099.2 722.2v6.4M1096.2 726.1h6.4M1099.4 722.9v6.4M1096.4 726.1h6.4M1099.6 722.9v6.4M1096.5 726.1h6.4M1099.7 722.9v6.4M1096.7 726.1h6.4M1099.9 722.9v6.4M1097.1 726.1h6.4M1100.3 722.9v6.4M1098.6 727.1h6.4M1101.8 723.9v6.4M1098.6 727.1h6.4M1101.8 723.9v6.4M1098.6 727.1h6.4M1101.8 723.9v6.4M1098.9 727.1h6.4M1102.1 723.9v6.4M1099.3 727.1h6.4M1102.5 723.9v6.4M1099.7 727.1h6.4M1102.9 723.9v6.4M1099.9 728.3h6.4M1103.1 725.1v6.4M1100.2 728.3h6.4M1103.4 725.1v6.4M1100.4 728.3h6.4M1103.6 725.1v6.4M1101.5 728.3h6.4M1104.7 725.1v6.4M1101.5 728.3h6.4M1104.7 725.1v6.4M1102.3 729.6h6.4M1105.5 726.4v6.4M1102.4 729.6h6.4M1105.6 726.4v6.4M1103.5 729.6h6.4M1106.7 726.4v6.4M1103.8 729.6h6.4M1107 726.4v6.4M1103.9 729.6h6.4M1107.1 726.4v6.4M1104.2 730.7h6.4M1107.4 727.5v6.4M1104.7 730.7h6.4M1107.9 727.5v6.4M1104.8 730.7h6.4M1108 727.5v6.4M1104.9 730.7h6.4M1108.1 727.5v6.4M1104.9 730.7h6.4M1108.1 727.5v6.4M1105.5 731.5h6.4M1108.7 728.3v6.4M1105.6 731.5h6.4M1108.8 728.3v6.4M1105.8 731.5h6.4M1109 728.3v6.4M1106.4 731.5h6.4M1109.6 728.3v6.4M1106.6 731.5h6.4M1109.8 728.3v6.4M1107.2 732.4h6.4M1110.4 729.2v6.4M1107.6 732.4h6.4M1110.8 729.2v6.4M1108.5 732.4h6.4M1111.7 729.2v6.4M1109.1 732.4h6.4M1112.3 729.2v6.4M1109.1 733.7h6.4M1112.3 730.5v6.4M1109.2 733.7h6.4M1112.4 730.5v6.4M1109.6 733.7h6.4M1112.8 730.5v6.4M1109.6 733.7h6.4M1112.8 730.5v6.4M1109.9 733.7h6.4M1113.1 730.5v6.4M1110.6 733.7h6.4M1113.8 730.5v6.4M1111.4 735h6.4M1114.6 731.8v6.4M1111.5 735h6.4M1114.7 731.8v6.4M1111.9 735h6.4M1115.1 731.8v6.4M1113.9 736.8h6.4M1117.1 733.6v6.4M1115.2 737.5h6.4M1118.4 734.3v6.4M1115.7 737.5h6.4M1118.9 734.3v6.4M1117.6 739.4h6.4M1120.8 736.2v6.4M1119.4 740.6h6.4M1122.6 737.4v6.4M1119.8 740.6h6.4M1123 737.4v6.4M1119.8 741.4h6.4M1123 738.2v6.4M1120.8 741.4h6.4M1124 738.2v6.4M1121.2 741.4h6.4M1124.4 738.2v6.4M1121.2 741.4h6.4M1124.4 738.2v6.4M1122.4 742h6.4M1125.6 738.8v6.4M1123.8 742.5h6.4M1127 739.3v6.4M1123.9 742.5h6.4M1127.1 739.3v6.4M1123.9 742.5h6.4M1127.1 739.3v6.4M1124.1 742.5h6.4M1127.3 739.3v6.4M1125.1 743.3h6.4M1128.3 740.1v6.4M1126.2 743.3h6.4M1129.4 740.1v6.4M1126.2 743.3h6.4M1129.4 740.1v6.4M1126.3 743.3h6.4M1129.5 740.1v6.4M1127.5 744h6.4M1130.7 740.8v6.4M1128.4 744h6.4M1131.6 740.8v6.4M1128.6 744.6h6.4M1131.8 741.4v6.4M1130.1 744.6h6.4M1133.3 741.4v6.4M1130.4 744.6h6.4M1133.6 741.4v6.4M1130.4 744.6h6.4M1133.6 741.4v6.4M1130.9 745.4h6.4M1134.1 742.2v6.4M1131.7 745.4h6.4M1134.9 742.2v6.4M1132.2 745.7h6.4M1135.4 742.5v6.4M1133.4 745.7h6.4M1136.6 742.5v6.4M1133.6 745.7h6.4M1136.8 742.5v6.4M1135.6 746.2h6.4M1138.8 743v6.4M1138.1 747.3h6.4M1141.3 744.1v6.4M1138.1 747.3h6.4M1141.3 744.1v6.4M1138.7 747.3h6.4M1141.9 744.1v6.4M1139.3 747.3h6.4M1142.5 744.1v6.4M1139.8 747.3h6.4M1143 744.1v6.4M1140.8 748.3h6.4M1144 745.1v6.4M1141.9 748.3h6.4M1145.1 745.1v6.4M1142.7 748.3h6.4M1145.9 745.1v6.4M1143.3 749.2h6.4M1146.5 746v6.4M1144.1 749.2h6.4M1147.3 746v6.4M1144.8 749.2h6.4M1148 746v6.4M1145.4 750.2h6.4M1148.6 747v6.4M1145.6 750.2h6.4M1148.8 747v6.4M1145.6 750.2h6.4M1148.8 747v6.4M1148.4 751.2h6.4M1151.6 748v6.4M1149.5 752h6.4M1152.7 748.8v6.4M1151.4 753.3h6.4M1154.6 750.1v6.4M1155.4 755.3h6.4M1158.6 752.1v6.4M1155.4 755.3h6.4M1158.6 752.1v6.4M1160.6 759.5h6.4M1163.8 756.3v6.4M1160.9 759.5h6.4M1164.1 756.3v6.4M1161.4 759.5h6.4M1164.6 756.3v6.4M1162.4 760.2h6.4M1165.6 757v6.4M1164 760.9h6.4M1167.2 757.7v6.4M1164.1 760.9h6.4M1167.3 757.7v6.4M1165.5 761.6h6.4M1168.7 758.4v6.4M1165.9 761.6h6.4M1169.1 758.4v6.4M1167.8 762.9h6.4M1171 759.7v6.4M1170.7 764.6h6.4M1173.9 761.4v6.4M1171.4 764.6h6.4M1174.6 761.4v6.4M1171.7 764.6h6.4M1174.9 761.4v6.4M1179.3 772.4h6.4M1182.5 769.2v6.4M1181.9 772.4h6.4M1185.1 769.2v6.4M1187 772.4h6.4M1190.2 769.2v6.4M1187.4 772.4h6.4M1190.6 769.2v6.4M1188.8 772.4h6.4M1192 769.2v6.4M1192.7 772.4h6.4M1195.9 769.2v6.4M1194.3 772.4h6.4M1197.5 769.2v6.4M1197.4 772.4h6.4M1200.6 769.2v6.4M1198.2 775.9h6.4M1201.4 772.7v6.4M1202.3 781.1h6.4M1205.5 777.9v6.4M1202.5 781.1h6.4M1205.7 777.9v6.4M1204.6 781.1h6.4M1207.8 777.9v6.4M1204.8 781.1h6.4M1208 777.9v6.4M1205.4 781.1h6.4M1208.6 777.9v6.4M1214.1 781.1h6.4M1217.3 777.9v6.4M1214.6 781.1h6.4M1217.8 777.9v6.4M1215.9 781.1h6.4M1219.1 777.9v6.4M1217 781.1h6.4M1220.2 777.9v6.4M1223 781.1h6.4M1226.2 777.9v6.4M1241.2 781.1h6.4M1244.4 777.9v6.4M1248.2 781.1h6.4M1251.4 777.9v6.4M1259.4 781.1h6.4M1262.6 777.9v6.4M1260.2 781.1h6.4M1263.4 777.9v6.4M1261.7 781.1h6.4M1264.9 777.9v6.4M1282.5 781.1h6.4M1285.7 777.9v6.4M1296.9 781.1h6.4M1300.1 777.9v6.4M1308 781.1h6.4M1311.2 777.9v6.4M1322.8 781.1h6.4M1326 777.9v6.4M1326.9 781.1h6.4M1330.1 777.9v6.4M1337.1 781.1h6.4M1340.3 777.9v6.4M1337.7 781.1h6.4M1340.9 777.9v6.4M1339.8 781.1h6.4M1343 777.9v6.4M1340.7 781.1h6.4M1343.9 777.9v6.4" fill="none" stroke="#3d48b0" stroke-width="1.1"/>
<path d="M1045.1 687.5V953.4H1383.8" stroke="#222" stroke-width="1.6" fill="none"/>
<text x="1039.5" y="946.4" font-size="13.7" text-anchor="end">0.00</text>
<text x="1039.5" y="885.8" font-size="13.7" text-anchor="end">0.25</text>
<text x="1039.5" y="825.2" font-size="13.7" text-anchor="end">0.50</text>
<text x="1039.5" y="764.7" font-size="13.7" text-anchor="end">0.75</text>
<text x="1039.5" y="704.1" font-size="13.7" text-anchor="end">1.00</text>
<text x="1060.2" y="969.9" font-size="13.7" text-anchor="middle">0</text>
<text x="1080.8" y="969.9" font-size="13.7" text-anchor="middle">1</text>
<text x="1101.3" y="969.9" font-size="13.7" text-anchor="middle">2</text>
<text x="1121.9" y="969.9" font-size="13.7" text-anchor="middle">3</text>
<text x="1142.5" y="969.9" font-size="13.7" text-anchor="middle">4</text>
<text x="1163" y="969.9" font-size="13.7" text-anchor="middle">5</text>
<text x="1183.6" y="969.9" font-size="13.7" text-anchor="middle">6</text>
<text x="1204.2" y="969.9" font-size="13.7" text-anchor="middle">7</text>
<text x="1224.8" y="969.9" font-size="13.7" text-anchor="middle">8</text>
<text x="1245.3" y="969.9" font-size="13.7" text-anchor="middle">9</text>
<text x="1265.9" y="969.9" font-size="13.7" text-anchor="middle">10</text>
<text x="1286.5" y="969.9" font-size="13.7" text-anchor="middle">11</text>
<text x="1307" y="969.9" font-size="13.7" text-anchor="middle">12</text>
<text x="1327.6" y="969.9" font-size="13.7" text-anchor="middle">13</text>
<text x="1348.2" y="969.9" font-size="13.7" text-anchor="middle">14</text>
<text x="1368.8" y="969.9" font-size="13.7" text-anchor="middle">15</text>
<path d="M1041.1 941.5h4M1041.1 880.9h4M1041.1 820.4h4M1041.1 759.8h4M1041.1 699.2h4M1060.2 953.4v4M1080.8 953.4v4M1101.3 953.4v4M1121.9 953.4v4M1142.5 953.4v4M1163 953.4v4M1183.6 953.4v4M1204.2 953.4v4M1224.8 953.4v4M1245.3 953.4v4M1265.9 953.4v4M1286.5 953.4v4M1307 953.4v4M1327.6 953.4v4M1348.2 953.4v4M1368.8 953.4v4" stroke="#222" stroke-width="1.2" fill="none"/>
<text x="1215" y="986.7" font-size="15.7" text-anchor="middle">Time(years)</text>
<text transform="translate(1004.6 819.9) rotate(-90)" font-size="15.7" text-anchor="middle">Progression-Free-Survival probability</text>
<text x="1066" y="900.9" font-size="18.8">p&lt;0.001</text>
<text x="1139.6" y="662" font-size="11.4">NDUFA11</text>
<path d="M1196.6 658h16" stroke="#d7261e" stroke-width="2.3"/>
<path d="M1201.1 658h7M1204.6 654.5v7" stroke="#d7261e" stroke-width="1.4"/>
<text x="1219.6" y="662" font-size="11.4">high</text>
<path d="M1248.2 658h16" stroke="#3d48b0" stroke-width="2.3"/>
<path d="M1252.7 658h7M1256.2 654.5v7" stroke="#3d48b0" stroke-width="1.4"/>
<text x="1271.2" y="662" font-size="11.4">low</text>
</g>
<g id="pF">
<path d="M1060.2 1074.7H1062.5V1081.6H1063.8V1085.5H1065.4V1090.1H1066.5V1093.1H1068.9V1096.8H1070V1098.5H1071.9V1101.4H1073.7V1104.1H1075.7V1107.2H1077.2V1109.4H1078.7V1111.6H1080.2V1113.9H1081.1V1115.1H1082.4V1116.2H1083.7V1117.3H1085.8V1119.1H1087.4V1120.4H1088.4V1121.2H1089.2V1122H1090.6V1123.2H1093.1V1125.5H1093.9V1126.4H1095.5V1127.9H1097.6V1130H1098.6V1131H1100.8V1133.1H1103V1136.1H1105.2V1139.2H1106.3V1140.6H1108.6V1144H1109.8V1145.7H1112V1148.6H1114.1V1151H1115.8V1152.9H1117.8V1155.2H1119.9V1157.6H1122.1V1160H1123.4V1161.5H1125.8V1164.2H1127.7V1166.3H1129.1V1167.9H1130.1V1169.1H1132.3V1171.5H1134.7V1172.2H1137V1172.8H1138.9V1173.3H1140.9V1173.9H1142.4V1174.3H1143.5V1174.9H1145.8V1176.2H1147.9V1177.4H1149.6V1178.4H1151.9V1179.7H1153V1180.2H1154H1155.2H1157.5V1180.8H1158.9H1159.9H1161V1181.3H1162H1164.3V1183.8H1166.8V1187.8H1167.7V1189.3H1169.6V1192.1H1170.8V1192.9H1173V1194.5H1174.3V1195.3H1176.3V1196.8H1177.2V1197.4H1179H1180.5H1181.6H1183.9H1185.5H1187.5H1188.7H1190H1192.3H1194H1196.4V1198H1198.3V1199.8H1200.8V1202.1H1202.2V1203.4H1203.8H1206.1H1207H1208.8H1209.6H1210.8H1212.3H1213.6H1214.5H1215.5H1217.4H1219.6H1221.5H1222.8H1224.9V1204.6H1225.7V1214.9H1227.8V1215.6H1229.6H1231.2H1233H1234.1H1235.7H1237.4H1238.9H1240.6H1242.1H1243.9H1245.3H1247.7H1248.9H1251H1252.7H1255H1257.1H1258.7H1261.2H1263.3H1264.4H1265.7H1267H1268.5H1270.2H1271.9H1274.2H1275.6H1277.8H1279.4H1281.3H1282.4H1284.4H1285.6H1287.6H1289H1291.1H1293.2H1294.2H1296.3H1298.1H1299.2H1301.2H1302.8H1302.9" fill="none" stroke="#d7261e" stroke-width="2.5" stroke-linejoin="miter"/><path d="M1057.7 1074.7h6.4M1060.9 1071.5v6.4M1057.8 1074.7h6.4M1061 1071.5v6.4M1059.3 1081.6h6.4M1062.5 1078.4v6.4M1059.7 1081.6h6.4M1062.9 1078.4v6.4M1060 1081.6h6.4M1063.2 1078.4v6.4M1060.2 1081.6h6.4M1063.4 1078.4v6.4M1060.7 1085.5h6.4M1063.9 1082.3v6.4M1061.1 1085.5h6.4M1064.3 1082.3v6.4M1061.1 1085.5h6.4M1064.3 1082.3v6.4M1061.2 1085.5h6.4M1064.4 1082.3v6.4M1061.6 1085.5h6.4M1064.8 1082.3v6.4M1062.8 1090.1h6.4M1066 1086.9v6.4M1063.8 1093.1h6.4M1067 1089.9v6.4M1064.1 1093.1h6.4M1067.3 1089.9v6.4M1064.2 1093.1h6.4M1067.4 1089.9v6.4M1064.3 1093.1h6.4M1067.5 1089.9v6.4M1065 1093.1h6.4M1068.2 1089.9v6.4M1065.4 1093.1h6.4M1068.6 1089.9v6.4M1065.5 1093.1h6.4M1068.7 1089.9v6.4M1065.5 1093.1h6.4M1068.7 1089.9v6.4M1067.2 1098.5h6.4M1070.4 1095.3v6.4M1069.3 1101.4h6.4M1072.5 1098.2v6.4M1070.5 1101.4h6.4M1073.7 1098.2v6.4M1071 1104.1h6.4M1074.2 1100.9v6.4M1071.9 1104.1h6.4M1075.1 1100.9v6.4M1072 1104.1h6.4M1075.2 1100.9v6.4M1072.2 1104.1h6.4M1075.4 1100.9v6.4M1072.6 1107.2h6.4M1075.8 1104v6.4M1072.7 1107.2h6.4M1075.9 1104v6.4M1073 1107.2h6.4M1076.2 1104v6.4M1073.4 1107.2h6.4M1076.6 1104v6.4M1073.5 1107.2h6.4M1076.7 1104v6.4M1075 1109.4h6.4M1078.2 1106.2v6.4M1075.3 1109.4h6.4M1078.5 1106.2v6.4M1076.7 1111.6h6.4M1079.9 1108.4v6.4M1076.9 1111.6h6.4M1080.1 1108.4v6.4M1077.2 1113.9h6.4M1080.4 1110.7v6.4M1078.7 1115.1h6.4M1081.9 1111.9v6.4M1078.8 1115.1h6.4M1082 1111.9v6.4M1078.9 1115.1h6.4M1082.1 1111.9v6.4M1080 1116.2h6.4M1083.2 1113v6.4M1081 1117.3h6.4M1084.2 1114.1v6.4M1081.1 1117.3h6.4M1084.3 1114.1v6.4M1081.1 1117.3h6.4M1084.3 1114.1v6.4M1081.2 1117.3h6.4M1084.4 1114.1v6.4M1081.3 1117.3h6.4M1084.5 1114.1v6.4M1081.4 1117.3h6.4M1084.6 1114.1v6.4M1081.5 1117.3h6.4M1084.7 1114.1v6.4M1082.3 1117.3h6.4M1085.5 1114.1v6.4M1082.8 1119.1h6.4M1086 1115.9v6.4M1083.5 1119.1h6.4M1086.7 1115.9v6.4M1083.5 1119.1h6.4M1086.7 1115.9v6.4M1083.8 1119.1h6.4M1087 1115.9v6.4M1084.4 1120.4h6.4M1087.6 1117.2v6.4M1085.1 1120.4h6.4M1088.3 1117.2v6.4M1085.3 1121.2h6.4M1088.5 1118v6.4M1085.6 1121.2h6.4M1088.8 1118v6.4M1086.2 1122h6.4M1089.4 1118.8v6.4M1088.5 1123.2h6.4M1091.7 1120v6.4M1089.9 1125.5h6.4M1093.1 1122.3v6.4M1090.3 1125.5h6.4M1093.5 1122.3v6.4M1091.2 1126.4h6.4M1094.4 1123.2v6.4M1091.4 1126.4h6.4M1094.6 1123.2v6.4M1091.6 1126.4h6.4M1094.8 1123.2v6.4M1092 1126.4h6.4M1095.2 1123.2v6.4M1092.7 1127.9h6.4M1095.9 1124.7v6.4M1092.7 1127.9h6.4M1095.9 1124.7v6.4M1092.9 1127.9h6.4M1096.1 1124.7v6.4M1093.7 1127.9h6.4M1096.9 1124.7v6.4M1093.7 1127.9h6.4M1096.9 1124.7v6.4M1093.7 1127.9h6.4M1096.9 1124.7v6.4M1095.9 1131h6.4M1099.1 1127.8v6.4M1096 1131h6.4M1099.2 1127.8v6.4M1097.6 1133.1h6.4M1100.8 1129.9v6.4M1098.1 1133.1h6.4M1101.3 1129.9v6.4M1098.7 1133.1h6.4M1101.9 1129.9v6.4M1099.5 1133.1h6.4M1102.7 1129.9v6.4M1099.6 1133.1h6.4M1102.8 1129.9v6.4M1100.5 1136.1h6.4M1103.7 1132.9v6.4M1101.1 1136.1h6.4M1104.3 1132.9v6.4M1104 1140.6h6.4M1107.2 1137.4v6.4M1106.1 1144h6.4M1109.3 1140.8v6.4M1107.1 1145.7h6.4M1110.3 1142.5v6.4M1107.5 1145.7h6.4M1110.7 1142.5v6.4M1108 1145.7h6.4M1111.2 1142.5v6.4M1109.7 1148.6h6.4M1112.9 1145.4v6.4M1110.7 1148.6h6.4M1113.9 1145.4v6.4M1112.1 1151h6.4M1115.3 1147.8v6.4M1112.5 1151h6.4M1115.7 1147.8v6.4M1112.5 1151h6.4M1115.7 1147.8v6.4M1113.4 1152.9h6.4M1116.6 1149.7v6.4M1114.4 1152.9h6.4M1117.6 1149.7v6.4M1115.7 1155.2h6.4M1118.9 1152v6.4M1116.7 1157.6h6.4M1119.9 1154.4v6.4M1116.8 1157.6h6.4M1120 1154.4v6.4M1118.8 1157.6h6.4M1122 1154.4v6.4M1118.9 1160h6.4M1122.1 1156.8v6.4M1121.6 1161.5h6.4M1124.8 1158.3v6.4M1123.5 1164.2h6.4M1126.7 1161v6.4M1127.6 1169.1h6.4M1130.8 1165.9v6.4M1128.9 1169.1h6.4M1132.1 1165.9v6.4M1132.4 1172.2h6.4M1135.6 1169v6.4M1132.7 1172.2h6.4M1135.9 1169v6.4M1132.7 1172.2h6.4M1135.9 1169v6.4M1133.1 1172.2h6.4M1136.3 1169v6.4M1138.2 1173.9h6.4M1141.4 1170.7v6.4M1140.1 1174.3h6.4M1143.3 1171.1v6.4M1142.4 1174.9h6.4M1145.6 1171.7v6.4M1145.7 1177.4h6.4M1148.9 1174.2v6.4M1146.9 1178.4h6.4M1150.1 1175.2v6.4M1148.6 1178.4h6.4M1151.8 1175.2v6.4M1151.3 1180.2h6.4M1154.5 1177v6.4M1160.4 1181.3h6.4M1163.6 1178.1v6.4M1162.3 1183.8h6.4M1165.5 1180.6v6.4M1162.9 1183.8h6.4M1166.1 1180.6v6.4M1167.2 1192.1h6.4M1170.4 1188.9v6.4M1175.5 1197.4h6.4M1178.7 1194.2v6.4M1175.5 1197.4h6.4M1178.7 1194.2v6.4M1175.9 1197.4h6.4M1179.1 1194.2v6.4M1177.2 1197.4h6.4M1180.4 1194.2v6.4M1191 1197.4h6.4M1194.2 1194.2v6.4M1193.8 1198h6.4M1197 1194.8v6.4M1196.9 1199.8h6.4M1200.1 1196.6v6.4M1199.1 1203.4h6.4M1202.3 1200.2v6.4M1199.9 1203.4h6.4M1203.1 1200.2v6.4M1200.6 1203.4h6.4M1203.8 1200.2v6.4M1218.4 1203.4h6.4M1221.6 1200.2v6.4M1221.1 1203.4h6.4M1224.3 1200.2v6.4M1224.6 1214.9h6.4M1227.8 1211.7v6.4M1225.1 1215.6h6.4M1228.3 1212.4v6.4M1227.6 1215.6h6.4M1230.8 1212.4v6.4M1228 1215.6h6.4M1231.2 1212.4v6.4M1230 1215.6h6.4M1233.2 1212.4v6.4M1236.8 1215.6h6.4M1240 1212.4v6.4M1241.7 1215.6h6.4M1244.9 1212.4v6.4M1244.7 1215.6h6.4M1247.9 1212.4v6.4M1254.3 1215.6h6.4M1257.5 1212.4v6.4M1258.7 1215.6h6.4M1261.9 1212.4v6.4M1266 1215.6h6.4M1269.2 1212.4v6.4M1269 1215.6h6.4M1272.2 1212.4v6.4M1273.4 1215.6h6.4M1276.6 1212.4v6.4M1275.3 1215.6h6.4M1278.5 1212.4v6.4M1280.9 1215.6h6.4M1284.1 1212.4v6.4M1289.1 1215.6h6.4M1292.3 1212.4v6.4M1290.7 1215.6h6.4M1293.9 1212.4v6.4M1291 1215.6h6.4M1294.2 1212.4v6.4M1298.7 1215.6h6.4M1301.9 1212.4v6.4" fill="none" stroke="#d7261e" stroke-width="1.1"/>
<path d="M1060.2 1074.7H1061.9V1076.2H1063.7V1077.9H1065.7V1079.8H1067.7V1081.7H1069.9V1083.7H1072V1085.5H1073.8V1087.1H1075.9V1088.9H1077.6V1090.3H1079.1V1091.6H1081.3V1093.5H1082.5V1094.6H1083.7V1095.7H1086V1097.8H1088V1099.6H1089.4V1101H1091V1102.4H1092.4V1103.7H1094.1V1105.3H1095.4V1106.4H1097.8V1108.7H1100V1110.7H1101.5V1112H1102.5V1112.7H1103.6V1113.5H1104.8V1114.3H1107.2V1116H1108.6V1117H1109.8V1117.8H1110.9V1118.6H1112.6V1119.8H1114.8V1121.4H1116.7V1122.7H1118.3V1123.8H1120V1125.1H1121.7V1126.2H1123.2V1127.3H1125.6V1129H1127V1130H1129.2V1131.6H1131.3V1133.1H1133V1134.2H1134.9V1135.6H1136.6V1136.8H1137.7V1137.6H1139.6V1138.9H1141V1139.9H1142.5V1140.9H1144.6V1141.5H1146.6V1142.1H1148.1V1142.5H1150.4V1143.2H1151.8V1143.6H1153.6V1144.1H1156V1144.8H1157.5V1145.2H1159.3V1145.7H1160.7V1146.1H1163.2V1146.8H1164.8V1148.2H1166.7V1149.8H1168.8V1151.6H1169.9V1152.5H1171.2V1153.6H1172.2V1154.5H1174.2V1155.9H1175.2V1156.4H1177.3V1157.5H1179.4V1158.6H1180.6V1159.1H1182.9V1160.3H1184.5V1161H1185.9V1161.4H1186.8H1188V1162H1189.1H1191.5V1163.2H1192.4H1193.7V1163.8H1195V1164.2H1196.7V1164.8H1197.9V1165.1H1200.2V1165.8H1202.3V1166.5H1203.8V1167H1204.7H1206H1207.9H1209.3H1211.2V1167.4H1212.1H1213.2H1214.8H1216H1218.2V1172.5H1219.6V1173.5H1221.3H1223.6H1225.7H1227.9H1229.2H1230.9H1232.3H1234.5H1236.8H1238.3H1240.4H1241.9H1243.1H1243.9H1245.2H1246.8H1247.8H1249.1H1250.3H1252.7H1253.6H1255.5H1257.2H1258.4H1259.2H1261.1H1262.6H1264.3H1266H1266.9H1268.9H1270.2H1272.6H1273.9H1274.9H1277.1H1279.1H1280.7H1282.5H1284.8H1285.8H1287.2H1288.5H1289.5H1291.1H1293H1294.1H1296.2H1298H1299.9H1301.3H1303.1H1305H1306.1H1307.5H1308.8H1310.9H1311.9H1313H1314H1315.9H1318.1H1319.7H1321H1322.4H1323.3H1324.2H1325.3H1326.6H1328.6H1329.7H1330.6H1332.4H1334.5H1336H1337.7H1339.6H1341.8H1343.5H1344.1" fill="none" stroke="#3d48b0" stroke-width="2.5" stroke-linejoin="miter"/><path d="M1057.8 1074.7h6.4M1061 1071.5v6.4M1057.8 1074.7h6.4M1061 1071.5v6.4M1058 1074.7h6.4M1061.2 1071.5v6.4M1058.4 1074.7h6.4M1061.6 1071.5v6.4M1058.4 1074.7h6.4M1061.6 1071.5v6.4M1058.5 1074.7h6.4M1061.7 1071.5v6.4M1058.6 1074.7h6.4M1061.8 1071.5v6.4M1058.6 1074.7h6.4M1061.8 1071.5v6.4M1058.7 1076.2h6.4M1061.9 1073v6.4M1058.7 1076.2h6.4M1061.9 1073v6.4M1059 1076.2h6.4M1062.2 1073v6.4M1059.2 1076.2h6.4M1062.4 1073v6.4M1059.4 1076.2h6.4M1062.6 1073v6.4M1060 1076.2h6.4M1063.2 1073v6.4M1060 1076.2h6.4M1063.2 1073v6.4M1060.1 1076.2h6.4M1063.3 1073v6.4M1060.2 1076.2h6.4M1063.4 1073v6.4M1060.2 1076.2h6.4M1063.4 1073v6.4M1060.3 1076.2h6.4M1063.5 1073v6.4M1060.8 1077.9h6.4M1064 1074.7v6.4M1060.9 1077.9h6.4M1064.1 1074.7v6.4M1061 1077.9h6.4M1064.2 1074.7v6.4M1061.1 1077.9h6.4M1064.3 1074.7v6.4M1061.1 1077.9h6.4M1064.3 1074.7v6.4M1061.6 1077.9h6.4M1064.8 1074.7v6.4M1061.6 1077.9h6.4M1064.8 1074.7v6.4M1061.9 1077.9h6.4M1065.1 1074.7v6.4M1062 1077.9h6.4M1065.2 1074.7v6.4M1062.2 1077.9h6.4M1065.4 1074.7v6.4M1062.4 1077.9h6.4M1065.6 1074.7v6.4M1062.5 1079.8h6.4M1065.7 1076.6v6.4M1062.7 1079.8h6.4M1065.9 1076.6v6.4M1063.2 1079.8h6.4M1066.4 1076.6v6.4M1063.3 1079.8h6.4M1066.5 1076.6v6.4M1063.5 1079.8h6.4M1066.7 1076.6v6.4M1063.7 1079.8h6.4M1066.9 1076.6v6.4M1063.8 1079.8h6.4M1067 1076.6v6.4M1063.8 1079.8h6.4M1067 1076.6v6.4M1063.9 1079.8h6.4M1067.1 1076.6v6.4M1063.9 1079.8h6.4M1067.1 1076.6v6.4M1064 1079.8h6.4M1067.2 1076.6v6.4M1064.2 1079.8h6.4M1067.4 1076.6v6.4M1064.2 1079.8h6.4M1067.4 1076.6v6.4M1064.3 1079.8h6.4M1067.5 1076.6v6.4M1064.3 1079.8h6.4M1067.5 1076.6v6.4M1064.3 1079.8h6.4M1067.5 1076.6v6.4M1064.9 1081.7h6.4M1068.1 1078.5v6.4M1064.9 1081.7h6.4M1068.1 1078.5v6.4M1065.1 1081.7h6.4M1068.3 1078.5v6.4M1065.3 1081.7h6.4M1068.5 1078.5v6.4M1065.5 1081.7h6.4M1068.7 1078.5v6.4M1065.9 1081.7h6.4M1069.1 1078.5v6.4M1066 1081.7h6.4M1069.2 1078.5v6.4M1066.3 1081.7h6.4M1069.5 1078.5v6.4M1066.5 1081.7h6.4M1069.7 1078.5v6.4M1066.6 1081.7h6.4M1069.8 1078.5v6.4M1066.7 1083.7h6.4M1069.9 1080.5v6.4M1067.6 1083.7h6.4M1070.8 1080.5v6.4M1067.7 1083.7h6.4M1070.9 1080.5v6.4M1067.7 1083.7h6.4M1070.9 1080.5v6.4M1067.8 1083.7h6.4M1071 1080.5v6.4M1067.9 1083.7h6.4M1071.1 1080.5v6.4M1068.3 1083.7h6.4M1071.5 1080.5v6.4M1068.3 1083.7h6.4M1071.5 1080.5v6.4M1068.6 1083.7h6.4M1071.8 1080.5v6.4M1068.7 1083.7h6.4M1071.9 1080.5v6.4M1068.7 1083.7h6.4M1071.9 1080.5v6.4M1068.9 1085.5h6.4M1072.1 1082.3v6.4M1069 1085.5h6.4M1072.2 1082.3v6.4M1069.1 1085.5h6.4M1072.3 1082.3v6.4M1069.1 1085.5h6.4M1072.3 1082.3v6.4M1069.2 1085.5h6.4M1072.4 1082.3v6.4M1069.4 1085.5h6.4M1072.6 1082.3v6.4M1069.4 1085.5h6.4M1072.6 1082.3v6.4M1069.7 1085.5h6.4M1072.9 1082.3v6.4M1069.9 1085.5h6.4M1073.1 1082.3v6.4M1070 1085.5h6.4M1073.2 1082.3v6.4M1070.3 1085.5h6.4M1073.5 1082.3v6.4M1070.3 1085.5h6.4M1073.5 1082.3v6.4M1070.5 1085.5h6.4M1073.7 1082.3v6.4M1070.6 1087.1h6.4M1073.8 1083.9v6.4M1070.7 1087.1h6.4M1073.9 1083.9v6.4M1070.9 1087.1h6.4M1074.1 1083.9v6.4M1071.5 1087.1h6.4M1074.7 1083.9v6.4M1071.5 1087.1h6.4M1074.7 1083.9v6.4M1072.2 1087.1h6.4M1075.4 1083.9v6.4M1072.5 1087.1h6.4M1075.7 1083.9v6.4M1072.7 1088.9h6.4M1075.9 1085.7v6.4M1072.8 1088.9h6.4M1076 1085.7v6.4M1072.9 1088.9h6.4M1076.1 1085.7v6.4M1073 1088.9h6.4M1076.2 1085.7v6.4M1073 1088.9h6.4M1076.2 1085.7v6.4M1073.1 1088.9h6.4M1076.3 1085.7v6.4M1073.4 1088.9h6.4M1076.6 1085.7v6.4M1073.4 1088.9h6.4M1076.6 1085.7v6.4M1074.6 1090.3h6.4M1077.8 1087.1v6.4M1074.7 1090.3h6.4M1077.9 1087.1v6.4M1074.8 1090.3h6.4M1078 1087.1v6.4M1075 1090.3h6.4M1078.2 1087.1v6.4M1075.4 1090.3h6.4M1078.6 1087.1v6.4M1075.4 1090.3h6.4M1078.6 1087.1v6.4M1075.6 1090.3h6.4M1078.8 1087.1v6.4M1075.9 1090.3h6.4M1079.1 1087.1v6.4M1076 1091.6h6.4M1079.2 1088.4v6.4M1076.1 1091.6h6.4M1079.3 1088.4v6.4M1076.3 1091.6h6.4M1079.5 1088.4v6.4M1076.5 1091.6h6.4M1079.7 1088.4v6.4M1076.5 1091.6h6.4M1079.7 1088.4v6.4M1076.6 1091.6h6.4M1079.8 1088.4v6.4M1076.8 1091.6h6.4M1080 1088.4v6.4M1076.8 1091.6h6.4M1080 1088.4v6.4M1076.9 1091.6h6.4M1080.1 1088.4v6.4M1077.2 1091.6h6.4M1080.4 1088.4v6.4M1077.5 1091.6h6.4M1080.7 1088.4v6.4M1077.6 1091.6h6.4M1080.8 1088.4v6.4M1077.7 1091.6h6.4M1080.9 1088.4v6.4M1078 1091.6h6.4M1081.2 1088.4v6.4M1078.1 1093.5h6.4M1081.3 1090.3v6.4M1078.3 1093.5h6.4M1081.5 1090.3v6.4M1078.5 1093.5h6.4M1081.7 1090.3v6.4M1078.6 1093.5h6.4M1081.8 1090.3v6.4M1079.2 1093.5h6.4M1082.4 1090.3v6.4M1079.3 1094.6h6.4M1082.5 1091.4v6.4M1079.4 1094.6h6.4M1082.6 1091.4v6.4M1079.8 1094.6h6.4M1083 1091.4v6.4M1080.1 1094.6h6.4M1083.3 1091.4v6.4M1080.3 1094.6h6.4M1083.5 1091.4v6.4M1080.7 1095.7h6.4M1083.9 1092.5v6.4M1080.8 1095.7h6.4M1084 1092.5v6.4M1081 1095.7h6.4M1084.2 1092.5v6.4M1081.1 1095.7h6.4M1084.3 1092.5v6.4M1081.1 1095.7h6.4M1084.3 1092.5v6.4M1081.6 1095.7h6.4M1084.8 1092.5v6.4M1081.6 1095.7h6.4M1084.8 1092.5v6.4M1081.7 1095.7h6.4M1084.9 1092.5v6.4M1081.8 1095.7h6.4M1085 1092.5v6.4M1082.1 1095.7h6.4M1085.3 1092.5v6.4M1082.2 1095.7h6.4M1085.4 1092.5v6.4M1082.4 1095.7h6.4M1085.6 1092.5v6.4M1083.1 1097.8h6.4M1086.3 1094.6v6.4M1083.1 1097.8h6.4M1086.3 1094.6v6.4M1083.5 1097.8h6.4M1086.7 1094.6v6.4M1083.6 1097.8h6.4M1086.8 1094.6v6.4M1083.9 1097.8h6.4M1087.1 1094.6v6.4M1083.9 1097.8h6.4M1087.1 1094.6v6.4M1084.5 1097.8h6.4M1087.7 1094.6v6.4M1084.8 1099.6h6.4M1088 1096.4v6.4M1086 1099.6h6.4M1089.2 1096.4v6.4M1086.4 1101h6.4M1089.6 1097.8v6.4M1086.7 1101h6.4M1089.9 1097.8v6.4M1086.8 1101h6.4M1090 1097.8v6.4M1087 1101h6.4M1090.2 1097.8v6.4M1087.2 1101h6.4M1090.4 1097.8v6.4M1087.5 1101h6.4M1090.7 1097.8v6.4M1088 1102.4h6.4M1091.2 1099.2v6.4M1088.8 1102.4h6.4M1092 1099.2v6.4M1088.9 1102.4h6.4M1092.1 1099.2v6.4M1089.4 1103.7h6.4M1092.6 1100.5v6.4M1089.7 1103.7h6.4M1092.9 1100.5v6.4M1089.7 1103.7h6.4M1092.9 1100.5v6.4M1089.9 1103.7h6.4M1093.1 1100.5v6.4M1090.1 1103.7h6.4M1093.3 1100.5v6.4M1090.6 1103.7h6.4M1093.8 1100.5v6.4M1090.6 1103.7h6.4M1093.8 1100.5v6.4M1090.7 1103.7h6.4M1093.9 1100.5v6.4M1090.9 1103.7h6.4M1094.1 1100.5v6.4M1091 1105.3h6.4M1094.2 1102.1v6.4M1091.7 1105.3h6.4M1094.9 1102.1v6.4M1091.9 1105.3h6.4M1095.1 1102.1v6.4M1092 1105.3h6.4M1095.2 1102.1v6.4M1092.2 1106.4h6.4M1095.4 1103.2v6.4M1092.3 1106.4h6.4M1095.5 1103.2v6.4M1092.5 1106.4h6.4M1095.7 1103.2v6.4M1092.5 1106.4h6.4M1095.7 1103.2v6.4M1092.8 1106.4h6.4M1096 1103.2v6.4M1093.5 1106.4h6.4M1096.7 1103.2v6.4M1093.7 1106.4h6.4M1096.9 1103.2v6.4M1093.9 1106.4h6.4M1097.1 1103.2v6.4M1094.3 1106.4h6.4M1097.5 1103.2v6.4M1094.5 1106.4h6.4M1097.7 1103.2v6.4M1094.8 1108.7h6.4M1098 1105.5v6.4M1095.1 1108.7h6.4M1098.3 1105.5v6.4M1095.7 1108.7h6.4M1098.9 1105.5v6.4M1095.9 1108.7h6.4M1099.1 1105.5v6.4M1096.3 1108.7h6.4M1099.5 1105.5v6.4M1096.3 1108.7h6.4M1099.5 1105.5v6.4M1096.5 1108.7h6.4M1099.7 1105.5v6.4M1096.5 1108.7h6.4M1099.7 1105.5v6.4M1097.6 1110.7h6.4M1100.8 1107.5v6.4M1097.6 1110.7h6.4M1100.8 1107.5v6.4M1097.9 1110.7h6.4M1101.1 1107.5v6.4M1098.4 1112h6.4M1101.6 1108.8v6.4M1098.7 1112h6.4M1101.9 1108.8v6.4M1099.9 1112.7h6.4M1103.1 1109.5v6.4M1101.2 1113.5h6.4M1104.4 1110.3v6.4M1102.4 1114.3h6.4M1105.6 1111.1v6.4M1102.8 1114.3h6.4M1106 1111.1v6.4M1102.9 1114.3h6.4M1106.1 1111.1v6.4M1103.4 1114.3h6.4M1106.6 1111.1v6.4M1103.4 1114.3h6.4M1106.6 1111.1v6.4M1103.5 1114.3h6.4M1106.7 1111.1v6.4M1103.9 1114.3h6.4M1107.1 1111.1v6.4M1104.6 1116h6.4M1107.8 1112.8v6.4M1104.6 1116h6.4M1107.8 1112.8v6.4M1104.7 1116h6.4M1107.9 1112.8v6.4M1105.1 1116h6.4M1108.3 1112.8v6.4M1105.2 1116h6.4M1108.4 1112.8v6.4M1105.5 1117h6.4M1108.7 1113.8v6.4M1106.1 1117h6.4M1109.3 1113.8v6.4M1107.3 1117.8h6.4M1110.5 1114.6v6.4M1107.5 1117.8h6.4M1110.7 1114.6v6.4M1108.1 1118.6h6.4M1111.3 1115.4v6.4M1108.1 1118.6h6.4M1111.3 1115.4v6.4M1108.7 1118.6h6.4M1111.9 1115.4v6.4M1108.8 1118.6h6.4M1112 1115.4v6.4M1108.9 1118.6h6.4M1112.1 1115.4v6.4M1109 1118.6h6.4M1112.2 1115.4v6.4M1109.1 1118.6h6.4M1112.3 1115.4v6.4M1109.4 1118.6h6.4M1112.6 1115.4v6.4M1109.9 1119.8h6.4M1113.1 1116.6v6.4M1110.4 1119.8h6.4M1113.6 1116.6v6.4M1110.4 1119.8h6.4M1113.6 1116.6v6.4M1110.8 1119.8h6.4M1114 1116.6v6.4M1111 1119.8h6.4M1114.2 1116.6v6.4M1112 1121.4h6.4M1115.2 1118.2v6.4M1112.1 1121.4h6.4M1115.3 1118.2v6.4M1112.3 1121.4h6.4M1115.5 1118.2v6.4M1112.7 1121.4h6.4M1115.9 1118.2v6.4M1112.8 1121.4h6.4M1116 1118.2v6.4M1113.7 1122.7h6.4M1116.9 1119.5v6.4M1114 1122.7h6.4M1117.2 1119.5v6.4M1114.3 1122.7h6.4M1117.5 1119.5v6.4M1114.7 1122.7h6.4M1117.9 1119.5v6.4M1115.6 1123.8h6.4M1118.8 1120.6v6.4M1115.7 1123.8h6.4M1118.9 1120.6v6.4M1115.9 1123.8h6.4M1119.1 1120.6v6.4M1116.2 1123.8h6.4M1119.4 1120.6v6.4M1117.1 1125.1h6.4M1120.3 1121.9v6.4M1117.6 1125.1h6.4M1120.8 1121.9v6.4M1118.1 1125.1h6.4M1121.3 1121.9v6.4M1118.2 1125.1h6.4M1121.4 1121.9v6.4M1118.4 1125.1h6.4M1121.6 1121.9v6.4M1119.7 1126.2h6.4M1122.9 1123v6.4M1121 1127.3h6.4M1124.2 1124.1v6.4M1121.1 1127.3h6.4M1124.3 1124.1v6.4M1121.2 1127.3h6.4M1124.4 1124.1v6.4M1121.2 1127.3h6.4M1124.4 1124.1v6.4M1122.7 1129h6.4M1125.9 1125.8v6.4M1123.3 1129h6.4M1126.5 1125.8v6.4M1123.4 1129h6.4M1126.6 1125.8v6.4M1123.4 1129h6.4M1126.6 1125.8v6.4M1123.9 1130h6.4M1127.1 1126.8v6.4M1124.3 1130h6.4M1127.5 1126.8v6.4M1124.3 1130h6.4M1127.5 1126.8v6.4M1124.7 1130h6.4M1127.9 1126.8v6.4M1124.8 1130h6.4M1128 1126.8v6.4M1125 1130h6.4M1128.2 1126.8v6.4M1125.6 1130h6.4M1128.8 1126.8v6.4M1125.6 1130h6.4M1128.8 1126.8v6.4M1125.8 1130h6.4M1129 1126.8v6.4M1126.1 1131.6h6.4M1129.3 1128.4v6.4M1126.3 1131.6h6.4M1129.5 1128.4v6.4M1126.9 1131.6h6.4M1130.1 1128.4v6.4M1127.3 1131.6h6.4M1130.5 1128.4v6.4M1127.4 1131.6h6.4M1130.6 1128.4v6.4M1127.7 1131.6h6.4M1130.9 1128.4v6.4M1128.3 1133.1h6.4M1131.5 1129.9v6.4M1128.3 1133.1h6.4M1131.5 1129.9v6.4M1128.6 1133.1h6.4M1131.8 1129.9v6.4M1128.7 1133.1h6.4M1131.9 1129.9v6.4M1128.9 1133.1h6.4M1132.1 1129.9v6.4M1128.9 1133.1h6.4M1132.1 1129.9v6.4M1128.9 1133.1h6.4M1132.1 1129.9v6.4M1129 1133.1h6.4M1132.2 1129.9v6.4M1129.1 1133.1h6.4M1132.3 1129.9v6.4M1129.6 1133.1h6.4M1132.8 1129.9v6.4M1130 1134.2h6.4M1133.2 1131v6.4M1130.7 1134.2h6.4M1133.9 1131v6.4M1132 1135.6h6.4M1135.2 1132.4v6.4M1133.9 1136.8h6.4M1137.1 1133.6v6.4M1134.1 1136.8h6.4M1137.3 1133.6v6.4M1134.1 1136.8h6.4M1137.3 1133.6v6.4M1135.6 1137.6h6.4M1138.8 1134.4v6.4M1136.2 1137.6h6.4M1139.4 1134.4v6.4M1136.4 1137.6h6.4M1139.6 1134.4v6.4M1137.4 1138.9h6.4M1140.6 1135.7v6.4M1137.6 1138.9h6.4M1140.8 1135.7v6.4M1137.9 1139.9h6.4M1141.1 1136.7v6.4M1138.7 1139.9h6.4M1141.9 1136.7v6.4M1139.3 1140.9h6.4M1142.5 1137.7v6.4M1139.6 1140.9h6.4M1142.8 1137.7v6.4M1139.6 1140.9h6.4M1142.8 1137.7v6.4M1141.3 1140.9h6.4M1144.5 1137.7v6.4M1142 1141.5h6.4M1145.2 1138.3v6.4M1142.6 1141.5h6.4M1145.8 1138.3v6.4M1143.1 1141.5h6.4M1146.3 1138.3v6.4M1143.5 1142.1h6.4M1146.7 1138.9v6.4M1144.5 1142.1h6.4M1147.7 1138.9v6.4M1146.3 1142.5h6.4M1149.5 1139.3v6.4M1146.9 1142.5h6.4M1150.1 1139.3v6.4M1147.9 1143.2h6.4M1151.1 1140v6.4M1148.8 1143.6h6.4M1152 1140.4v6.4M1149.1 1143.6h6.4M1152.3 1140.4v6.4M1151.9 1144.1h6.4M1155.1 1140.9v6.4M1152.5 1144.1h6.4M1155.7 1140.9v6.4M1153.1 1144.8h6.4M1156.3 1141.6v6.4M1153.5 1144.8h6.4M1156.7 1141.6v6.4M1153.9 1144.8h6.4M1157.1 1141.6v6.4M1154.4 1145.2h6.4M1157.6 1142v6.4M1154.5 1145.2h6.4M1157.7 1142v6.4M1155.3 1145.2h6.4M1158.5 1142v6.4M1155.8 1145.2h6.4M1159 1142v6.4M1156.2 1145.7h6.4M1159.4 1142.5v6.4M1158.3 1146.1h6.4M1161.5 1142.9v6.4M1159.3 1146.1h6.4M1162.5 1142.9v6.4M1159.6 1146.1h6.4M1162.8 1142.9v6.4M1163.3 1148.2h6.4M1166.5 1145v6.4M1163.8 1149.8h6.4M1167 1146.6v6.4M1164 1149.8h6.4M1167.2 1146.6v6.4M1164.5 1149.8h6.4M1167.7 1146.6v6.4M1172.3 1156.4h6.4M1175.5 1153.2v6.4M1175 1157.5h6.4M1178.2 1154.3v6.4M1177.5 1159.1h6.4M1180.7 1155.9v6.4M1181.1 1160.3h6.4M1184.3 1157.1v6.4M1184 1161.4h6.4M1187.2 1158.2v6.4M1186.3 1162h6.4M1189.5 1158.8v6.4M1190.1 1163.2h6.4M1193.3 1160v6.4M1192.4 1164.2h6.4M1195.6 1161v6.4M1195.3 1165.1h6.4M1198.5 1161.9v6.4M1196.9 1165.1h6.4M1200.1 1161.9v6.4M1198.8 1165.8h6.4M1202 1162.6v6.4M1200.2 1166.5h6.4M1203.4 1163.3v6.4M1200.5 1166.5h6.4M1203.7 1163.3v6.4M1206.1 1167h6.4M1209.3 1163.8v6.4M1209.3 1167.4h6.4M1212.5 1164.2v6.4M1210.8 1167.4h6.4M1214 1164.2v6.4M1213.6 1167.4h6.4M1216.8 1164.2v6.4M1215.6 1172.5h6.4M1218.8 1169.3v6.4M1217.7 1173.5h6.4M1220.9 1170.3v6.4M1219.7 1173.5h6.4M1222.9 1170.3v6.4M1220.6 1173.5h6.4M1223.8 1170.3v6.4M1220.8 1173.5h6.4M1224 1170.3v6.4M1224.9 1173.5h6.4M1228.1 1170.3v6.4M1226.3 1173.5h6.4M1229.5 1170.3v6.4M1227.5 1173.5h6.4M1230.7 1170.3v6.4M1233.7 1173.5h6.4M1236.9 1170.3v6.4M1244.7 1173.5h6.4M1247.9 1170.3v6.4M1252.7 1173.5h6.4M1255.9 1170.3v6.4M1267.2 1173.5h6.4M1270.4 1170.3v6.4M1283.1 1173.5h6.4M1286.3 1170.3v6.4M1288.8 1173.5h6.4M1292 1170.3v6.4M1291.8 1173.5h6.4M1295 1170.3v6.4M1315.6 1173.5h6.4M1318.8 1170.3v6.4M1316.9 1173.5h6.4M1320.1 1170.3v6.4M1318.9 1173.5h6.4M1322.1 1170.3v6.4M1319.4 1173.5h6.4M1322.6 1170.3v6.4M1339.8 1173.5h6.4M1343 1170.3v6.4" fill="none" stroke="#3d48b0" stroke-width="1.1"/>
<path d="M1045 1063V1328.9H1383.8" stroke="#222" stroke-width="1.6" fill="none"/>
<text x="1039.4" y="1321.9" font-size="13.7" text-anchor="end">0.00</text>
<text x="1039.4" y="1261.3" font-size="13.7" text-anchor="end">0.25</text>
<text x="1039.4" y="1200.8" font-size="13.7" text-anchor="end">0.50</text>
<text x="1039.4" y="1140.2" font-size="13.7" text-anchor="end">0.75</text>
<text x="1039.4" y="1079.6" font-size="13.7" text-anchor="end">1.00</text>
<text x="1060.2" y="1345.4" font-size="13.7" text-anchor="middle">0</text>
<text x="1080.8" y="1345.4" font-size="13.7" text-anchor="middle">1</text>
<text x="1101.3" y="1345.4" font-size="13.7" text-anchor="middle">2</text>
<text x="1121.9" y="1345.4" font-size="13.7" text-anchor="middle">3</text>
<text x="1142.5" y="1345.4" font-size="13.7" text-anchor="middle">4</text>
<text x="1163" y="1345.4" font-size="13.7" text-anchor="middle">5</text>
<text x="1183.6" y="1345.4" font-size="13.7" text-anchor="middle">6</text>
<text x="1204.2" y="1345.4" font-size="13.7" text-anchor="middle">7</text>
<text x="1224.8" y="1345.4" font-size="13.7" text-anchor="middle">8</text>
<text x="1245.3" y="1345.4" font-size="13.7" text-anchor="middle">9</text>
<text x="1265.9" y="1345.4" font-size="13.7" text-anchor="middle">10</text>
<text x="1286.5" y="1345.4" font-size="13.7" text-anchor="middle">11</text>
<text x="1307" y="1345.4" font-size="13.7" text-anchor="middle">12</text>
<text x="1327.6" y="1345.4" font-size="13.7" text-anchor="middle">13</text>
<text x="1348.2" y="1345.4" font-size="13.7" text-anchor="middle">14</text>
<text x="1368.8" y="1345.4" font-size="13.7" text-anchor="middle">15</text>
<path d="M1041 1317h4M1041 1256.4h4M1041 1195.8h4M1041 1135.3h4M1041 1074.7h4M1060.2 1328.9v4M1080.8 1328.9v4M1101.3 1328.9v4M1121.9 1328.9v4M1142.5 1328.9v4M1163 1328.9v4M1183.6 1328.9v4M1204.2 1328.9v4M1224.8 1328.9v4M1245.3 1328.9v4M1265.9 1328.9v4M1286.5 1328.9v4M1307 1328.9v4M1327.6 1328.9v4M1348.2 1328.9v4M1368.8 1328.9v4" stroke="#222" stroke-width="1.2" fill="none"/>
<text x="1215" y="1362.2" font-size="15.7" text-anchor="middle">Time(years)</text>
<text transform="translate(1004.5 1195.3) rotate(-90)" font-size="15.7" text-anchor="middle">Progression-Free-Survival probability</text>
<text x="1066" y="1276.4" font-size="18.8">p&lt;0.001</text>
<text x="1140.8" y="1037.5" font-size="11.4">SLC7A11</text>
<path d="M1195.3 1033.5h16" stroke="#d7261e" stroke-width="2.3"/>
<path d="M1199.8 1033.5h7M1203.3 1030v7" stroke="#d7261e" stroke-width="1.4"/>
<text x="1218.3" y="1037.5" font-size="11.4">high</text>
<path d="M1246.9 1033.5h16" stroke="#3d48b0" stroke-width="2.3"/>
<path d="M1251.4 1033.5h7M1254.9 1030v7" stroke="#3d48b0" stroke-width="1.4"/>
<text x="1269.9" y="1037.5" font-size="11.4">low</text>
<ellipse cx="1213.4" cy="1153.8" rx="176" ry="83.3" transform="rotate(32.8 1213.4 1153.8)" fill="none" stroke="#d9261c" stroke-width="3.1"/>
</g>
<g id="pG">
<path d="M1610.83 151.99L1735.87 87.95M1610.48 152.76L1767.4 155.51M1610.03 151.87L1666.09 204.64M1609.83 152.59L1746.96 228.71M1609.81 151.44L1625.2 281.71M1609.46 150.44L1531.13 239.75M1662.96 113.55L1735.78 87.99M1663.49 110.93L1768.2 152.16M1662.02 112.92L1665.87 204.16M1662.16 113.3L1747.08 227.9M1664.77 112.42L1700.22 268.79M1661.36 112.59L1624.53 281.33M1662.23 112.39L1531.7 240.18M1734.92 87.63L1766.8 154.41M1734.34 86.62L1665.37 203.41M1734.16 87.45L1746.25 227.61M1734.18 87.05L1696.8 268.98M1734.71 86.21L1531.34 239.56M1767.12 153.48L1666.26 203.5M1766.08 153.75L1746.29 227.12M1766.96 153.59L1625.43 281.1M1767.19 153.45L1531.94 240.02M1665.31 204.74L1696.92 269.87M1665.95 203.8L1625.28 281.3M1666.2 202.78L1531.82 239.33M1746.74 226.42L1697.27 268.19M1747.56 226.09L1532.1 239.28M1698.06 268.57L1625.78 280.93M1698.29 268.57L1532.31 239.99M1626.18 280.98L1532.47 240.04M1508.46 61.92L1584.58 72.08M1507.62 62.27L1609.58 152.41M1584.57 70.7L1683.5 55.58M1583.58 70.52L1514.33 157.36M1583.34 71.82L1609.18 151.79M1584.02 72.63L1662.07 114.12M1684.16 56.7L1611.06 151.79M1461.69 134.98L1476.26 232.54M1516.79 157.95L1533.56 240.4M1515.47 158.93L1610.56 152.06M1477.67 233.63L1611.24 152.56M1515.64 158.9L1735.76 88" stroke="#b4c23a" stroke-width="0.7" fill="none"/>
<path d="M1611.47 153.23L1736.51 89.2M1609.07 152.89L1665.13 205.66M1608.42 151.61L1623.81 281.87M1663.42 114.87L1736.25 89.31M1660.63 112.98L1664.47 204.22M1661.04 114.14L1745.95 228.74M1661.25 111.39L1530.72 239.18M1733.66 88.23L1765.53 155.01M1766.5 152.23L1665.64 202.25M1766.02 152.55L1624.49 280.06M1766.7 152.14L1531.46 238.71M1664.71 203.15L1624.04 280.65M1697.82 267.19L1625.54 279.55M1698.53 267.19L1532.54 238.61M1626.74 279.7L1533.03 238.75M1584.15 67.93L1683.08 52.82" stroke="#4ab4d4" stroke-width="0.7" fill="none"/>
<path d="M1661.95 114.84L1766.66 156.06M1660.68 113.35L1696.13 269.72M1584.99 73.47L1683.93 58.35" stroke="#5a5ad8" stroke-width="0.7" fill="none"/>
<path d="M1610.09 150.8L1662.31 112.32M1610.19 150.74L1735.23 86.71M1610.51 151.36L1767.43 154.11M1610.99 150.85L1667.05 203.62M1610.51 151.36L1747.64 227.49M1611.07 150.94L1698.74 268.84M1611.2 151.28L1626.59 281.54M1610.51 151.36L1532.19 240.68M1662.49 112.23L1735.32 86.67M1662.47 113.54L1767.17 154.76M1663.42 112.86L1667.27 204.1M1663.29 112.47L1748.2 227.07M1662.04 113.04L1697.49 269.41M1662.72 112.89L1625.9 281.62M1663.21 113.39L1532.68 241.18M1736.18 87.03L1768.06 153.81M1735.55 87.33L1666.57 204.13M1735.55 87.33L1747.64 227.49M1735.55 87.33L1698.18 269.26M1736.16 87.67L1626.51 281.97M1735.55 87.33L1532.19 240.68M1767.74 154.74L1666.88 204.75M1767.43 154.11L1747.64 227.49M1768.03 154.47L1698.78 269.62M1767.9 154.63L1626.37 282.14M1767.67 154.77L1532.43 241.33M1666.77 203.45L1747.84 226.81M1666.57 204.13L1698.18 269.26M1667.19 204.45L1626.52 281.95M1666.57 204.13L1532.19 240.68M1747.64 227.49L1698.18 269.26M1747.93 228.13L1626.18 282.26M1747.64 227.49L1532.19 240.68M1698.29 269.95L1626.02 282.31M1698.06 269.95L1532.07 241.37M1625.62 282.27L1531.91 241.32M1508.55 61.22L1610.51 151.36M1584.36 69.31L1683.29 54.2M1585.2 74.85L1684.14 59.74M1584.68 71.39L1515.42 158.23M1586.01 70.96L1611.84 150.93M1584.68 71.39L1662.72 112.89M1514.05 158.51L1530.81 240.96M1477.05 231.74L1532.29 239.98M1476.95 232.43L1610.51 151.36" stroke="#c23bc2" stroke-width="0.7" fill="none"/>
<path d="M1610.92 151.93L1663.14 113.45M1609.55 149.49L1734.59 85.46M1610.53 149.96L1767.45 152.71M1611.95 149.83L1668.01 202.6M1611.19 150.14L1748.32 226.26M1609.95 151.78L1697.61 269.68M1612.59 151.12L1627.98 281.38M1611.56 152.29L1533.24 241.6M1662.03 110.91L1734.85 85.35M1662.98 112.24L1767.69 153.46M1664.82 112.8L1668.67 204.04M1664.41 111.64L1749.33 226.24M1663.41 112.73L1698.86 269.1M1664.09 113.19L1627.27 281.92M1664.19 114.39L1533.66 242.18M1737.45 86.43L1769.32 153.21M1736.76 88.04L1667.78 204.84M1736.94 87.21L1749.04 227.37M1736.92 87.61L1699.55 269.54M1734.94 86.99L1625.29 281.28M1736.39 88.45L1533.03 241.79M1768.36 155.99L1667.5 206.01M1768.78 154.47L1748.99 227.85M1766.83 153.75L1697.58 268.9M1768.83 155.67L1627.3 283.18M1768.15 156.08L1532.91 242.65M1666.38 204.8L1747.45 228.16M1667.83 203.52L1699.43 268.65M1668.43 205.1L1627.76 282.6M1666.94 205.48L1532.55 242.03M1748.55 228.56L1699.08 270.33M1747.36 226.85L1625.61 280.99M1747.73 228.88L1532.27 242.07M1698.53 271.33L1626.25 283.69M1697.82 271.33L1531.83 242.75M1625.06 283.55L1531.35 242.6M1508.55 61.22L1462.38 134.87M1508.64 60.53L1584.77 70.7M1509.48 60.17L1611.44 150.31M1584.78 72.08L1683.72 56.97M1585.77 72.26L1516.52 159.11M1584.68 71.39L1610.51 151.36M1585.33 70.15L1663.38 111.65M1683.06 55.85L1609.95 150.94M1463.08 134.77L1477.64 232.33M1515.42 158.23L1532.19 240.68M1515.37 157.53L1610.46 150.66M1515.42 158.23L1662.72 112.89M1476.85 233.13L1532.08 241.37M1476.22 231.24L1609.78 150.17M1515.21 157.57L1735.34 86.66" stroke="#1c1c1c" stroke-width="0.85" fill="none"/>
<circle cx="1508.6" cy="61.2" r="12.1" fill="#8fd68a" stroke="#4e9a4a" stroke-width="1.7"/>
<path d="M1507.5 59.4L1507.2 63.8L1506.8 61.6L1509.7 58L1508.7 64L1503.4 60.6L1508.3 59.9L1509.3 61.2L1504.6 63L1510.2 63.1L1512.4 62L1508.9 58.5L1509.9 60.2L1507.4 58.5L1506.2 60.2L1511.6 57.4L1504.6 61.7L1512.5 62.5L1505 57.4L1509.3 60L1505.5 63.3L1511.3 61.5L1508.9 61.7L1512.8 62.6L1509.6 62.1L1504.5 63.9" fill="none" stroke="#3a5a48" stroke-width="0.5" opacity="0.8"/>
<text x="1520.9" y="48.6" font-size="7.6" stroke="#000" stroke-width="0.15">OXSM</text>
<circle cx="1584.7" cy="71.4" r="12.1" fill="#fbd9b9" stroke="#c9a07e" stroke-width="1.7"/>
<path d="M1587 72.4L1579.6 70.1L1586.9 67.6L1584.2 73.4L1581.3 74.7L1585.6 71.2L1585.3 72.4L1585 73.7L1583.3 70.7L1587.2 71.4L1582.4 73.4L1588.6 70.4L1581 71.1L1584.5 71.2L1588.5 69.2L1588.1 68.7L1582.8 72.6L1587.7 73.2L1585 71.5L1584.9 72.1L1584.5 71.6L1585.6 71.4L1586.4 72.4L1589.9 72.1L1584 70.9L1584.6 73.1" fill="none" stroke="#c070a0" stroke-width="0.5" opacity="0.8"/>
<text x="1597" y="58.7" font-size="7.6" stroke="#000" stroke-width="0.15">SLC3A2</text>
<circle cx="1683.6" cy="56.3" r="12.1" fill="#d9e8a4" stroke="#a3b56a" stroke-width="1.7"/>
<path d="M1683.1 56.7L1687.1 52.4L1680.8 56.8L1684.1 56.5L1682.7 57.3L1684.1 55.6L1689.3 56.9L1682.7 56.2L1683.5 56.2L1677.8 55.5L1686.3 53.7L1683.5 58L1685.9 59.5L1679 55.5L1683 57.2L1685.8 51.9L1686.5 53.2L1685.5 53L1684.1 58.7L1683.5 56.4L1685.3 56.5L1683.4 59.6L1686.2 55.7L1689.1 54.4L1685.7 55.8L1683.9 57.3" fill="none" stroke="#a05a20" stroke-width="0.5" opacity="0.8"/>
<text x="1696" y="43.1" font-size="7.6" stroke="#000" stroke-width="0.15">SLC7A11</text>
<circle cx="1735.6" cy="87.3" r="12.1" fill="#f7b9c3" stroke="#c0808c" stroke-width="1.7"/>
<path d="M1736 88.3L1731.7 84.3L1737.1 85.4L1732.8 84.2L1739 88.9L1739.5 85.3L1735.6 85L1737.6 90.7L1733.2 90.7L1737.9 87L1730.9 90L1735.4 86.5L1736.2 87.8L1739.5 85.2L1738.6 90.5L1739.5 86.9L1733.6 89.5L1735.6 87.4L1739.4 86.8L1730 86.6L1730.8 89L1736.1 86.4L1735.5 88.7L1735.8 90.1L1735.4 89.3L1739.3 90.5" fill="none" stroke="#6a4ab0" stroke-width="0.5" opacity="0.8"/>
<text x="1748.7" y="75.2" font-size="7.6" stroke="#000" stroke-width="0.15">INF2</text>
<circle cx="1662.7" cy="112.9" r="12.1" fill="#a8e6c0" stroke="#6cb58c" stroke-width="1.7"/>
<path d="M1661.1 114.6L1658 110.7L1657.9 115L1659.5 112.9L1662.6 112.9L1661.7 113.2L1667.5 113L1664.1 114.9L1662.2 110.2L1661.3 115.1L1658.3 111.6L1665.4 114.6L1662.7 114.2L1663.1 110.5L1658.5 111.5L1665 111.8L1660.4 111.3L1658.6 112.6L1659.7 113.6L1657.1 113.5L1661.1 108.9L1664.2 112.4L1657.5 111.2L1663.2 112.3L1664.6 114.4L1664 113.4" fill="none" stroke="#5a9a90" stroke-width="0.5" opacity="0.8"/>
<text x="1675.1" y="100.2" font-size="7.6" stroke="#000" stroke-width="0.15">FLNA</text>
<circle cx="1462.4" cy="134.9" r="12.1" fill="#bfe0f4" stroke="#7fa8c0" stroke-width="1.7"/>
<path d="M1466 136.3L1463.5 130.7L1464.8 137.7L1461.9 134.3L1466.7 131.8L1463.5 139.4L1460 136.3L1467.4 134.6L1463.8 136.6L1460.4 134.7L1463 136.3L1462.4 134.8L1459.9 134.2L1464.4 135.1L1460.2 133.1L1467.8 136.7L1463.8 130.3L1463.6 135.7L1466.9 135.8L1462.3 135.5L1457.6 136.9L1463 133.7L1465.6 138.4L1458.6 133.4L1462.7 135L1461.4 133" fill="none" stroke="#4a6ad0" stroke-width="0.5" opacity="0.8"/>
<text x="1474.7" y="122.2" font-size="7.6" stroke="#000" stroke-width="0.15">NDUFA11</text>
<circle cx="1515.4" cy="158.2" r="12.1" fill="#c8b5ea" stroke="#9480c0" stroke-width="1.7"/>
<path d="M1520.5 160.2L1512.2 155.4L1519.9 160.3L1520.2 159.9L1513.5 158.7L1510.2 156.8L1515.3 158.8L1514 158L1516.2 158.7L1516.6 158.5L1514.7 159.6L1515.5 156.8L1514.4 158.2L1515.4 158.3L1515.4 158.3L1515.1 155.6L1516.5 160.3L1516 158L1516.5 156.3L1510.4 158.4L1513 159.7L1513.2 153.9L1512.7 161.6L1514.4 155.3L1513.7 159.2L1516.2 158.4" fill="none" stroke="#6040b0" stroke-width="0.5" opacity="0.8"/>
<text x="1527.8" y="145.6" font-size="7.6" stroke="#000" stroke-width="0.15">RPN1</text>
<circle cx="1610.5" cy="151.4" r="12.1" fill="#d6cd8f" stroke="#a39a5c" stroke-width="1.7"/>
<path d="M1614.5 152.9L1610.5 152.1L1614.9 153.4L1613.3 149L1610.2 152.5L1609.8 153.5L1612 153.2L1610 156L1613.7 150.9L1610.7 156L1609.7 153L1612.8 151.4L1607.5 151.7L1611.4 153.7L1612.1 151.4L1612.5 152.4L1610.6 151.4L1610 152.4L1607.8 150.1L1610.5 148.2L1609.4 147.2L1609 152.4L1611.4 151.3L1609.9 148.3L1615.3 152.5L1613.4 149.5" fill="none" stroke="#b09060" stroke-width="0.5" opacity="0.8"/>
<text x="1622.9" y="138.7" font-size="7.6" stroke="#000" stroke-width="0.15">ACTB</text>
<circle cx="1767.4" cy="154.1" r="12.1" fill="#8d8fd8" stroke="#5558a8" stroke-width="1.7"/>
<path d="M1766.9 150.2L1769.4 156L1762.4 154L1769.1 150.4L1762.8 152L1765.7 151.1L1767.5 154.3L1768.9 155.4L1771.4 156.6L1763.9 153L1764.6 151.8L1767.4 154.1L1768.8 150.7L1764.2 154.1L1767.2 153.8L1767.3 152.9L1768.9 154.7L1767.3 153.1L1767.1 149.4L1765.1 154.2L1763.4 154.5L1767.8 151.2L1767.1 153.8L1768.3 155.1L1767.4 152.7L1767.4 154.1" fill="none" stroke="#5030a0" stroke-width="0.5" opacity="0.8"/>
<text x="1779.8" y="141.4" font-size="7.6" stroke="#000" stroke-width="0.15">IQGAP1</text>
<circle cx="1666.6" cy="204.1" r="12.1" fill="#f98a8a" stroke="#c05656" stroke-width="1.7"/>
<path d="M1668.1 204.6L1664.6 201.2L1665.8 202.9L1663.8 203.9L1665.9 204.2L1667.5 203.5L1672.1 203.5L1669.3 204.4L1669 199.9L1665 204.5L1668 208.5L1667.4 206.8L1668.5 206.1L1667.3 203.9L1667.9 201.9L1669.8 201.9L1667.2 208.4L1666.4 204.1L1669.5 204.2L1664.8 204.6L1667.9 205.4L1664.5 207.8L1671.1 204.2L1667 203.6L1670.4 202.6L1668 203.3" fill="none" stroke="#c04060" stroke-width="0.5" opacity="0.8"/>
<text x="1678.9" y="191.5" font-size="7.6" stroke="#000" stroke-width="0.15">ACTN4</text>
<circle cx="1476.9" cy="232.4" r="12.1" fill="#f0c0b0" stroke="#b88878" stroke-width="1.7"/>
<path d="M1475.3 233.8L1480.5 232.4L1475.3 234L1476.9 232.7L1481 234.8L1475.7 236.8L1477 233.7L1475.8 232.4L1472.9 235.7L1480.6 229.8L1473.2 229.2L1480 231.5L1476.9 232.2L1476.6 230.3L1477 229.3L1476.9 232.7L1477.6 232.2L1474.9 232.7L1475.6 235.8L1478.5 232.2L1475.9 231.2L1474.7 231.8L1477.4 233.1L1478.4 236.6L1475.6 232.5L1481.9 229.8" fill="none" stroke="#5060a0" stroke-width="0.5" opacity="0.8"/>
<text x="1489.3" y="219.8" font-size="7.6" stroke="#000" stroke-width="0.15">LRPPRC</text>
<circle cx="1532.2" cy="240.7" r="12.1" fill="#f8dcb5" stroke="#c8a880" stroke-width="1.7"/>
<path d="M1531.4 240.9L1532.4 241.1L1531.9 241L1532.3 241.9L1527.4 238.9L1532.2 238.7L1529.5 242L1530.7 241.8L1533.7 241.2L1532.9 240.6L1528.4 240.6L1533 239.9L1532 241.9L1530 241.9L1537.1 239.5L1532.3 240.6L1536.4 241.4L1534.4 239.3L1532.2 240.7L1527.9 243.5L1534.5 237L1533.7 240.5L1532.9 241.1L1528.1 240.2L1536.2 239.4L1529.4 237.7" fill="none" stroke="#d0a0a0" stroke-width="0.5" opacity="0.8"/>
<text x="1544.6" y="228" font-size="7.6" stroke="#000" stroke-width="0.15">CAPZB</text>
<circle cx="1747.6" cy="227.5" r="12.1" fill="#e6eebb" stroke="#b0b884" stroke-width="1.7"/>
<path d="M1744.5 228.2L1752.2 228.4L1748.2 231.9L1746.5 226.3L1748.7 228.4L1744.9 225L1748 227.7L1744.2 227.1L1746.6 228.2L1747.6 227.5L1746.8 229.6L1751.4 226.7L1749.8 226L1747.8 228.7L1751.7 226.7L1747.6 227.6L1743.6 227.5L1746.3 228.1L1744.9 223.6L1747.7 227.6L1746.3 229.2L1747.2 226.6L1748.9 224.1L1746.4 227.5L1749.5 227.2L1748.2 226.5" fill="none" stroke="#a07080" stroke-width="0.5" opacity="0.8"/>
<text x="1760" y="214.8" font-size="7.6" stroke="#000" stroke-width="0.15">FLNB</text>
<circle cx="1698.2" cy="269.3" r="12.1" fill="#f5efba" stroke="#c0b880" stroke-width="1.7"/>
<path d="M1699 272.8L1696.6 273.6L1697.1 269.3L1698.6 271.2L1695.3 265.3L1699.6 270.8L1699.5 273.8L1698.4 269.5L1700.4 270L1702.4 266.7L1697.5 264.5L1700 268.6L1700.4 273.4L1698.2 269.1L1697 267.7L1696.8 270.4L1698.2 269.3L1697.8 270.9L1698.9 269.1L1699.4 269L1695.1 272.3L1699.3 267.4L1700.9 270L1694.3 272.4L1698.9 270.9L1698.3 269.2" fill="none" stroke="#a070a0" stroke-width="0.5" opacity="0.8"/>
<text x="1709.7" y="257.4" font-size="7.6" stroke="#000" stroke-width="0.15">MYH10</text>
<circle cx="1625.9" cy="281.6" r="12.1" fill="#9fe0d8" stroke="#60a8a0" stroke-width="1.7"/>
<path d="M1621.8 283.7L1625.9 281.4L1626.3 281.7L1627.3 281L1625.8 277.3L1625 282.7L1629.5 280.8L1625.6 285.1L1625.2 282.8L1630.4 281.7L1629.2 280.1L1626 281.6L1626.2 283.9L1631.4 280.4L1624.8 282.4L1623.2 282.6L1626.9 281.2L1627.3 278.3L1627.9 278.3L1624.4 280.6L1625 283.2L1626 281.3L1627.4 285L1625.9 281.9L1629.1 282.2L1623.2 285.8" fill="none" stroke="#5090a0" stroke-width="0.5" opacity="0.8"/>
<text x="1638.3" y="269" font-size="7.6" stroke="#000" stroke-width="0.15">DSTN</text>
</g>
<g id="pH">
<path d="M1595.9 351.8V598M1623.6 351.8V598M1651.2 351.8V598M1678.9 351.8V598M1706.5 351.8V598M1734.2 351.8V598M1583.6 362.8H1756.7M1583.6 385.3H1756.7M1583.6 407.8H1756.7M1583.6 430.4H1756.7M1583.6 452.6H1756.7M1583.6 475.2H1756.7M1583.6 497.4H1756.7M1583.6 520H1756.7M1583.6 542.5H1756.7M1583.6 565H1756.7M1583.6 587.3H1756.7" stroke="#d0d0d0" stroke-width="0.7" fill="none"/>
<rect x="1583.6" y="351.8" width="173.1" height="246.2" fill="none" stroke="#222" stroke-width="1.1"/>
<text class="sf" x="1595.9" y="610.1" font-size="8.2" text-anchor="middle">0.05</text>
<text class="sf" x="1623.6" y="610.1" font-size="8.2" text-anchor="middle">0.10</text>
<text class="sf" x="1651.2" y="610.1" font-size="8.2" text-anchor="middle">0.15</text>
<text class="sf" x="1678.9" y="610.1" font-size="8.2" text-anchor="middle">0.20</text>
<text class="sf" x="1706.5" y="610.1" font-size="8.2" text-anchor="middle">0.25</text>
<text class="sf" x="1734.2" y="610.1" font-size="8.2" text-anchor="middle">0.30</text>
<path d="M1595.9 598v3.5M1623.6 598v3.5M1651.2 598v3.5M1678.9 598v3.5M1706.5 598v3.5M1734.2 598v3.5M1583.6 598v3.5M1756.7 598v3.5M1583.6 362.8h-3.5M1583.6 385.3h-3.5M1583.6 407.8h-3.5M1583.6 430.4h-3.5M1583.6 452.6h-3.5M1583.6 475.2h-3.5M1583.6 497.4h-3.5M1583.6 520h-3.5M1583.6 542.5h-3.5M1583.6 565h-3.5M1583.6 587.3h-3.5" stroke="#222" stroke-width="1" fill="none"/>
<text class="sf" x="1670.1" y="620.8" font-size="8.2" text-anchor="middle">GeneRatio</text>
<circle cx="1743" cy="362.8" r="6.87" fill="#1f3468"/>
<text class="sf" x="1577.3" y="365.1" font-size="8.2" text-anchor="end">Regulation of actin cytoskeleton</text>
<rect x="1466.5" y="354.5" width="112.4" height="12.4" fill="none" stroke="#e0402e" stroke-width="0.8"/>
<circle cx="1713.8" cy="385.3" r="6.05" fill="#4a8cc4"/>
<text class="sf" x="1577.3" y="387.6" font-size="8.2" text-anchor="end">Tight junction</text>
<rect x="1466.5" y="379.3" width="112.4" height="12.4" fill="none" stroke="#e0402e" stroke-width="0.8"/>
<circle cx="1713.8" cy="407.8" r="6.05" fill="#8ab8d8"/>
<text class="sf" x="1577.3" y="410.1" font-size="8.2" text-anchor="end">Focal adhesion</text>
<circle cx="1684.7" cy="430.4" r="5.22" fill="#fbe0d0"/>
<text class="sf" x="1577.3" y="432.7" font-size="8.2" text-anchor="end">Pathogenic Escherichia coli infection</text>
<circle cx="1684.7" cy="452.6" r="5.22" fill="#fbe0d0"/>
<text class="sf" x="1577.3" y="454.9" font-size="8.2" text-anchor="end">Proteoglycans in cancer</text>
<circle cx="1655.6" cy="475.2" r="4.4" fill="#fce8dc"/>
<text class="sf" x="1577.3" y="477.5" font-size="8.2" text-anchor="end">Adherens junction</text>
<circle cx="1655.6" cy="497.4" r="4.4" fill="#fce8dc"/>
<text class="sf" x="1577.3" y="499.7" font-size="8.2" text-anchor="end">Salmonella infection</text>
<circle cx="1655.6" cy="520" r="4.4" fill="#6e1020"/>
<text class="sf" x="1577.3" y="522.3" font-size="8.2" text-anchor="end">Thermogenesis</text>
<circle cx="1626.4" cy="542.5" r="3.57" fill="#e06850"/>
<text class="sf" x="1577.3" y="544.8" font-size="8.2" text-anchor="end">Ferroptosis</text>
<rect x="1466.5" y="534.8" width="112.4" height="12.4" fill="none" stroke="#e0402e" stroke-width="0.8"/>
<circle cx="1626.4" cy="565" r="3.57" fill="#8e1525"/>
<text class="sf" x="1577.3" y="563" font-size="8.2" text-anchor="end">Bacterial invasion of epithelial</text>
<text class="sf" x="1577.3" y="571" font-size="8.2" text-anchor="end">cells</text>
<circle cx="1597.3" cy="587.3" r="2.75" fill="#c03030"/>
<text class="sf" x="1577.3" y="589.6" font-size="8.2" text-anchor="end">Biotin metabolism</text>
<rect x="1466.5" y="578.8" width="112.4" height="12.4" fill="none" stroke="#e0402e" stroke-width="0.8"/>
<text class="sf" x="1763.6" y="390" font-size="8.2">Count</text>
<circle cx="1770.5" cy="396.6" r="2.2" fill="#3a3835"/>
<path d="M1778.7 396.6h3" stroke="#222" stroke-width="0.6"/>
<text class="sf" x="1783.4" y="399.2" font-size="8.2" font-weight="bold">1</text>
<circle cx="1770.5" cy="410.3" r="3.02" fill="#3a3835"/>
<path d="M1778.7 410.3h3" stroke="#222" stroke-width="0.6"/>
<text class="sf" x="1783.4" y="412.9" font-size="8.2" font-weight="bold">2</text>
<circle cx="1770.5" cy="423.8" r="3.85" fill="#3a3835"/>
<path d="M1778.7 423.8h3" stroke="#222" stroke-width="0.6"/>
<text class="sf" x="1783.4" y="426.4" font-size="8.2" font-weight="bold">3</text>
<circle cx="1770.5" cy="437.5" r="4.67" fill="#3a3835"/>
<path d="M1778.7 437.5h3" stroke="#222" stroke-width="0.6"/>
<text class="sf" x="1783.4" y="440.1" font-size="8.2" font-weight="bold">4</text>
<circle cx="1770.5" cy="451.3" r="5.5" fill="#3a3835"/>
<path d="M1778.7 451.3h3" stroke="#222" stroke-width="0.6"/>
<text class="sf" x="1783.4" y="453.9" font-size="8.2" font-weight="bold">5</text>
<circle cx="1770.5" cy="465.3" r="6.6" fill="#3a3835"/>
<path d="M1778.7 465.3h3" stroke="#222" stroke-width="0.6"/>
<text class="sf" x="1783.4" y="467.9" font-size="8.2" font-weight="bold">6</text>
<path d="M1778.7 396.6V465.3" stroke="#222" stroke-width="0.6"/>
<text class="sf" x="1763.6" y="493" font-size="8.2">-log10(FDR)</text>
<rect x="1763.6" y="497.4" width="14.3" height="71.5" fill="url(#fdrg)"/>
<path d="M1777.9 497.4V568.9" stroke="#222" stroke-width="0.6"/>
<path d="M1777.9 497.4h3" stroke="#222" stroke-width="0.6"/>
<path d="M1777.9 510.6h3" stroke="#222" stroke-width="0.6"/>
<text class="sf" x="1783.4" y="513.2" font-size="8.2">1.5</text>
<path d="M1777.9 526.3h3" stroke="#222" stroke-width="0.6"/>
<text class="sf" x="1783.4" y="528.9" font-size="8.2">2.0</text>
<path d="M1777.9 541.9h3" stroke="#222" stroke-width="0.6"/>
<text class="sf" x="1783.4" y="544.5" font-size="8.2">2.5</text>
<path d="M1777.9 557.3h3" stroke="#222" stroke-width="0.6"/>
<text class="sf" x="1783.4" y="559.9" font-size="8.2">3.0</text>
<path d="M1777.9 568.9h3" stroke="#222" stroke-width="0.6"/>
</g>
<g id="pI">
<path d="M1577.3 687.8A137.8 129.4 0 0 1 1640.5 701.5" stroke="#e8503c" stroke-width="1.1" fill="none"/>
<path d="M1577.3 692.4A132.9 124.8 0 0 1 1638.3 705.7L1633.8 714.1A122.9 115.4 0 0 0 1577.4 701.8Z" fill="#f4f4f4" stroke="#555" stroke-width="0.3"/>
<path d="M1577.5 706A118.4 111.2 0 0 1 1631.8 717.8L1627.5 725.9A108.7 102.1 0 0 0 1577.6 715.1Z" fill="#f1e2cc" stroke="#222" stroke-width="0.7"/>
<text transform="translate(1612.2 681.3) rotate(-77)" font-size="8.8" text-anchor="middle" dy="3.2">1</text>
<path d="M1642.4 702.5A137.8 129.4 0 0 1 1690.4 741.4" stroke="#3fae50" stroke-width="1.1" fill="none"/>
<path d="M1640.2 706.5A132.9 124.8 0 0 1 1686.4 744.1L1678.3 749.6A122.9 115.4 0 0 0 1635.5 714.9Z" fill="#f4f4f4" stroke="#555" stroke-width="0.3"/>
<path d="M1633.5 718.6A118.4 111.2 0 0 1 1674.7 752L1666.8 757.4A108.7 102.1 0 0 0 1629 726.7Z" fill="#f1e2cc" stroke="#222" stroke-width="0.7"/>
<text transform="translate(1675.8 711.7) rotate(-49.2)" font-size="8.8" text-anchor="middle" dy="3.2">2</text>
<path d="M1691.6 743A137.8 129.4 0 0 1 1712.8 787.4" stroke="#c03080" stroke-width="1.1" fill="none"/>
<path d="M1687.6 745.7A132.9 124.8 0 0 1 1708 788.5L1698.3 790.6A122.9 115.4 0 0 0 1679.4 751.1Z" fill="#f4f4f4" stroke="#555" stroke-width="0.3"/>
<path d="M1675.7 753.5A118.4 111.2 0 0 1 1693.9 791.6L1684.5 793.7A108.7 102.1 0 0 0 1667.8 758.7Z" fill="#f1e2cc" stroke="#222" stroke-width="0.7"/>
<text transform="translate(1714.3 760.1) rotate(-24.1)" font-size="8.8" text-anchor="middle" dy="3.2">3</text>
<path d="M1713.3 789.4A137.8 129.4 0 0 1 1715 836.3" stroke="#f0a020" stroke-width="1.1" fill="none"/>
<path d="M1708.5 790.4A132.9 124.8 0 0 1 1710.2 835.6L1700.3 834.2A122.9 115.4 0 0 0 1698.7 792.4Z" fill="#f4f4f4" stroke="#555" stroke-width="0.3"/>
<path d="M1694.4 793.3A118.4 111.2 0 0 1 1695.8 833.6L1686.2 832.3A108.7 102.1 0 0 0 1684.9 795.3Z" fill="#f1e2cc" stroke="#222" stroke-width="0.7"/>
<text transform="translate(1727.2 812.4) rotate(-2)" font-size="8.8" text-anchor="middle" dy="3.2">4</text>
<path d="M1714.7 838.3A137.8 129.4 0 0 1 1699 880.3" stroke="#e060c0" stroke-width="1.1" fill="none"/>
<path d="M1709.8 837.6A132.9 124.8 0 0 1 1694.7 878.1L1686 873.5A122.9 115.4 0 0 0 1700 836Z" fill="#f4f4f4" stroke="#555" stroke-width="0.3"/>
<path d="M1695.5 835.3A118.4 111.2 0 0 1 1682.1 871.4L1673.6 867A108.7 102.1 0 0 0 1686 833.9Z" fill="#f1e2cc" stroke="#222" stroke-width="0.7"/>
<text transform="translate(1718.9 863.3) rotate(19.3)" font-size="8.8" text-anchor="middle" dy="3.2">5</text>
<path d="M1697.9 882.1A137.8 129.4 0 0 1 1669.5 914.6" stroke="#40a040" stroke-width="1.1" fill="none"/>
<path d="M1693.7 879.8A132.9 124.8 0 0 1 1666.2 911.1L1659.7 904A122.9 115.4 0 0 0 1685 875.1Z" fill="#f4f4f4" stroke="#555" stroke-width="0.3"/>
<path d="M1681.2 873A118.4 111.2 0 0 1 1656.7 900.9L1650.3 894A108.7 102.1 0 0 0 1672.8 868.4Z" fill="#f1e2cc" stroke="#222" stroke-width="0.7"/>
<text transform="translate(1693.4 905.8) rotate(39.4)" font-size="8.8" text-anchor="middle" dy="3.2">6</text>
<path d="M1667.8 915.9A137.8 129.4 0 0 1 1632.3 936.4" stroke="#5060d0" stroke-width="1.1" fill="none"/>
<path d="M1664.7 912.4A132.9 124.8 0 0 1 1630.4 932.2L1626.5 923.5A122.9 115.4 0 0 0 1658.2 905.2Z" fill="#f4f4f4" stroke="#555" stroke-width="0.3"/>
<path d="M1655.3 902A118.4 111.2 0 0 1 1624.8 919.6L1621 911.3A108.7 102.1 0 0 0 1649 895.1Z" fill="#f1e2cc" stroke="#222" stroke-width="0.7"/>
<text transform="translate(1656.6 936) rotate(58.4)" font-size="8.8" text-anchor="middle" dy="3.2">7</text>
<path d="M1630.3 937.2A137.8 129.4 0 0 1 1593.2 945.9" stroke="#c07040" stroke-width="1.1" fill="none"/>
<path d="M1628.5 932.9A132.9 124.8 0 0 1 1592.7 941.3L1591.6 932A122.9 115.4 0 0 0 1624.7 924.2Z" fill="#f4f4f4" stroke="#555" stroke-width="0.3"/>
<path d="M1623.1 920.3A118.4 111.2 0 0 1 1591.1 927.8L1590.1 918.7A108.7 102.1 0 0 0 1619.4 911.9Z" fill="#f1e2cc" stroke="#222" stroke-width="0.7"/>
<text transform="translate(1614.7 952.5) rotate(76)" font-size="8.8" text-anchor="middle" dy="3.2">8</text>
<path d="M1591 946.1A137.8 129.4 0 0 1 1554.1 944.5" stroke="#f080b0" stroke-width="1.1" fill="none"/>
<path d="M1590.6 941.5A132.9 124.8 0 0 1 1554.9 940L1556.7 930.7A122.9 115.4 0 0 0 1589.7 932.1Z" fill="#f4f4f4" stroke="#555" stroke-width="0.3"/>
<path d="M1589.3 928A118.4 111.2 0 0 1 1557.5 926.6L1559.3 917.7A108.7 102.1 0 0 0 1588.4 918.9Z" fill="#f1e2cc" stroke="#222" stroke-width="0.7"/>
<text transform="translate(1572 956.6) rotate(272.6)" font-size="8.8" text-anchor="middle" dy="3.2">9</text>
<path d="M1551.9 944.1A137.8 129.4 0 0 1 1518.1 933.4" stroke="#40b060" stroke-width="1.1" fill="none"/>
<path d="M1552.9 939.6A132.9 124.8 0 0 1 1520.3 929.3L1524.7 920.9A122.9 115.4 0 0 0 1554.8 930.4Z" fill="#f4f4f4" stroke="#555" stroke-width="0.3"/>
<path d="M1555.7 926.3A118.4 111.2 0 0 1 1526.6 917.1L1530.9 908.9A108.7 102.1 0 0 0 1557.6 917.4Z" fill="#f1e2cc" stroke="#222" stroke-width="0.7"/>
<text transform="translate(1531.2 949.4) rotate(288.6)" font-size="8.8" text-anchor="middle" dy="3.2">10</text>
<path d="M1516.2 932.5A137.8 129.4 0 0 1 1486.9 913.7" stroke="#d04040" stroke-width="1.1" fill="none"/>
<path d="M1518.4 928.4A132.9 124.8 0 0 1 1490.2 910.3L1496.9 903.3A122.9 115.4 0 0 0 1522.9 920Z" fill="#f4f4f4" stroke="#555" stroke-width="0.3"/>
<path d="M1525 916.3A118.4 111.2 0 0 1 1499.8 900.2L1506.3 893.4A108.7 102.1 0 0 0 1529.4 908.2Z" fill="#f1e2cc" stroke="#222" stroke-width="0.7"/>
<text transform="translate(1494.8 932.4) rotate(304.4)" font-size="8.8" text-anchor="middle" dy="3.2">11</text>
<path d="M1485.3 912.4A137.8 129.4 0 0 1 1462.7 887.1" stroke="#f08030" stroke-width="1.1" fill="none"/>
<path d="M1488.7 909A132.9 124.8 0 0 1 1466.8 884.6L1475.3 879.5A122.9 115.4 0 0 0 1495.4 902.1Z" fill="#f4f4f4" stroke="#555" stroke-width="0.3"/>
<path d="M1498.5 899A118.4 111.2 0 0 1 1479 877.3L1487.2 872.3A108.7 102.1 0 0 0 1505 892.3Z" fill="#f1e2cc" stroke="#222" stroke-width="0.7"/>
<text transform="translate(1464.9 906.9) rotate(320)" font-size="8.8" text-anchor="middle" dy="3.2">12</text>
<path d="M1461.6 885.4A137.8 129.4 0 0 1 1448.6 859.8" stroke="#5080e0" stroke-width="1.1" fill="none"/>
<path d="M1465.7 883A132.9 124.8 0 0 1 1453.2 858.3L1462.6 855.2A122.9 115.4 0 0 0 1474.2 878Z" fill="#f4f4f4" stroke="#555" stroke-width="0.3"/>
<path d="M1478 875.8A118.4 111.2 0 0 1 1466.9 853.8L1476 850.8A108.7 102.1 0 0 0 1486.3 871Z" fill="#f1e2cc" stroke="#222" stroke-width="0.7"/>
<text transform="translate(1444.6 877.3) rotate(334.5)" font-size="8.8" text-anchor="middle" dy="3.2">13</text>
<path d="M1447.9 857.9A137.8 129.4 0 0 1 1441.8 832.1" stroke="#50c8c8" stroke-width="1.1" fill="none"/>
<path d="M1452.5 856.4A132.9 124.8 0 0 1 1446.7 831.6L1456.6 830.5A122.9 115.4 0 0 0 1462 853.5Z" fill="#f4f4f4" stroke="#555" stroke-width="0.3"/>
<path d="M1466.3 852.1A118.4 111.2 0 0 1 1461.1 830L1470.7 828.9A108.7 102.1 0 0 0 1475.5 849.3Z" fill="#f1e2cc" stroke="#222" stroke-width="0.7"/>
<text transform="translate(1433.6 847.3) rotate(347.5)" font-size="8.8" text-anchor="middle" dy="3.2">14</text>
<path d="M1441.6 830.1A137.8 129.4 0 0 1 1441.5 804.7" stroke="#a050d0" stroke-width="1.1" fill="none"/>
<path d="M1446.4 829.6A132.9 124.8 0 0 1 1446.4 805.1L1456.4 806A122.9 115.4 0 0 0 1456.4 828.7Z" fill="#f4f4f4" stroke="#555" stroke-width="0.3"/>
<path d="M1460.9 828.3A118.4 111.2 0 0 1 1460.8 806.4L1470.5 807.3A108.7 102.1 0 0 0 1470.5 827.3Z" fill="#f1e2cc" stroke="#222" stroke-width="0.7"/>
<text transform="translate(1430.1 817.4) rotate(359.9)" font-size="8.8" text-anchor="middle" dy="3.2">15</text>
<path d="M1441.8 802.6A137.8 129.4 0 0 1 1446.4 780.9" stroke="#80c030" stroke-width="1.1" fill="none"/>
<path d="M1446.6 803.1A132.9 124.8 0 0 1 1451.1 782.1L1460.7 784.8A122.9 115.4 0 0 0 1456.6 804.2Z" fill="#f4f4f4" stroke="#555" stroke-width="0.3"/>
<path d="M1461 804.7A118.4 111.2 0 0 1 1465 786L1474.3 788.5A108.7 102.1 0 0 0 1470.7 805.7Z" fill="#f1e2cc" stroke="#222" stroke-width="0.7"/>
<text transform="translate(1433.1 789.7) rotate(371.4)" font-size="8.8" text-anchor="middle" dy="3.2">16</text>
<path d="M1447.1 778.9A137.8 129.4 0 0 1 1454.9 760.3" stroke="#d04050" stroke-width="1.1" fill="none"/>
<path d="M1451.7 780.3A132.9 124.8 0 0 1 1459.3 762.3L1468.3 766.5A122.9 115.4 0 0 0 1461.3 783.1Z" fill="#f4f4f4" stroke="#555" stroke-width="0.3"/>
<path d="M1465.6 784.3A118.4 111.2 0 0 1 1472.3 768.3L1481 772.3A108.7 102.1 0 0 0 1474.8 787Z" fill="#f1e2cc" stroke="#222" stroke-width="0.7"/>
<text transform="translate(1440.6 765.8) rotate(381.6)" font-size="8.8" text-anchor="middle" dy="3.2">17</text>
<path d="M1455.9 758.5A137.8 129.4 0 0 1 1466.5 742" stroke="#30a0a0" stroke-width="1.1" fill="none"/>
<path d="M1460.2 760.6A132.9 124.8 0 0 1 1470.5 744.7L1478.7 750.2A122.9 115.4 0 0 0 1469.2 764.9Z" fill="#f4f4f4" stroke="#555" stroke-width="0.3"/>
<path d="M1473.2 766.8A118.4 111.2 0 0 1 1482.3 752.6L1490.2 757.9A108.7 102.1 0 0 0 1481.8 770.9Z" fill="#f1e2cc" stroke="#222" stroke-width="0.7"/>
<text transform="translate(1451.7 744.9) rotate(391.2)" font-size="8.8" text-anchor="middle" dy="3.2">18</text>
<path d="M1467.8 740.4A137.8 129.4 0 0 1 1477.7 729.2" stroke="#f06040" stroke-width="1.1" fill="none"/>
<path d="M1471.7 743.1A132.9 124.8 0 0 1 1481.3 732.3L1488.6 738.7A122.9 115.4 0 0 0 1479.8 748.7Z" fill="#f4f4f4" stroke="#555" stroke-width="0.3"/>
<path d="M1483.4 751.2A118.4 111.2 0 0 1 1491.9 741.6L1499 747.7A108.7 102.1 0 0 0 1491.2 756.6Z" fill="#f1e2cc" stroke="#222" stroke-width="0.7"/>
<text transform="translate(1464.3 728.2) rotate(399.6)" font-size="8.8" text-anchor="middle" dy="3.2">19</text>
<path d="M1479.2 727.7A137.8 129.4 0 0 1 1491.3 717.1" stroke="#80c0e8" stroke-width="1.1" fill="none"/>
<path d="M1482.7 730.9A132.9 124.8 0 0 1 1494.4 720.7L1500.8 728A122.9 115.4 0 0 0 1489.9 737.4Z" fill="#f4f4f4" stroke="#555" stroke-width="0.3"/>
<path d="M1493.2 740.3A118.4 111.2 0 0 1 1503.6 731.2L1509.8 738.2A108.7 102.1 0 0 0 1500.2 746.6Z" fill="#f1e2cc" stroke="#222" stroke-width="0.7"/>
<text transform="translate(1477.8 714.8) rotate(407.2)" font-size="8.8" text-anchor="middle" dy="3.2">20</text>
<path d="M1493 715.9A137.8 129.4 0 0 1 1503.3 708.9" stroke="#90e0b0" stroke-width="1.1" fill="none"/>
<path d="M1496.1 719.5A132.9 124.8 0 0 1 1505.9 712.8L1511.4 720.6A122.9 115.4 0 0 0 1502.3 726.8Z" fill="#f4f4f4" stroke="#555" stroke-width="0.3"/>
<path d="M1505.1 730.1A118.4 111.2 0 0 1 1513.9 724.1L1519.2 731.8A108.7 102.1 0 0 0 1511.1 737.2Z" fill="#f1e2cc" stroke="#222" stroke-width="0.7"/>
<text transform="translate(1491.8 704.1) rotate(414.2)" font-size="8.8" text-anchor="middle" dy="3.2">21</text>
<path d="M1505.1 707.8A137.8 129.4 0 0 1 1516.8 701.6" stroke="#9040c0" stroke-width="1.1" fill="none"/>
<path d="M1507.7 711.7A132.9 124.8 0 0 1 1519 705.7L1523.5 714.1A122.9 115.4 0 0 0 1513 719.6Z" fill="#f4f4f4" stroke="#555" stroke-width="0.3"/>
<path d="M1515.4 723.2A118.4 111.2 0 0 1 1525.5 717.9L1529.8 726A108.7 102.1 0 0 0 1520.6 730.9Z" fill="#f1e2cc" stroke="#222" stroke-width="0.7"/>
<text transform="translate(1505.5 695.8) rotate(420.5)" font-size="8.8" text-anchor="middle" dy="3.2">22</text>
<path d="M1518.7 700.7A137.8 129.4 0 0 1 1557.5 689.3" stroke="#f07080" stroke-width="1.1" fill="none"/>
<path d="M1520.8 704.9A132.9 124.8 0 0 1 1558.2 693.9L1559.8 703.2A122.9 115.4 0 0 0 1525.2 713.3Z" fill="#f4f4f4" stroke="#555" stroke-width="0.3"/>
<path d="M1527.1 717.1A118.4 111.2 0 0 1 1560.5 707.3L1562 716.3A108.7 102.1 0 0 0 1531.4 725.3Z" fill="#f1e2cc" stroke="#222" stroke-width="0.7"/>
<text transform="translate(1534.4 684) rotate(432.7)" font-size="8.8" text-anchor="middle" dy="3.2">X</text>
<path d="M1559.6 689A137.8 129.4 0 0 1 1575.1 687.8" stroke="#f09030" stroke-width="1.1" fill="none"/>
<path d="M1560.3 693.6A132.9 124.8 0 0 1 1575.2 692.4L1575.5 701.8A122.9 115.4 0 0 0 1561.7 702.9Z" fill="#f4f4f4" stroke="#555" stroke-width="0.3"/>
<path d="M1562.3 707.1A118.4 111.2 0 0 1 1575.6 706L1575.9 715.1A108.7 102.1 0 0 0 1563.7 716.1Z" fill="#f1e2cc" stroke="#222" stroke-width="0.7"/>
<text transform="translate(1566.5 678.2) rotate(445.3)" font-size="8.8" text-anchor="middle" dy="3.2">Y</text>
<path d="M1583.8 692.5A132.9 124.8 0 0 1 1585.9 692.6L1585.4 702A122.9 115.4 0 0 0 1583.4 701.9ZM1592.7 693.1A132.9 124.8 0 0 1 1593.6 693.2L1592.5 702.5A122.9 115.4 0 0 0 1591.6 702.4ZM1604.2 694.7A132.9 124.8 0 0 1 1606.1 695.1L1604.1 704.3A122.9 115.4 0 0 0 1602.3 703.9ZM1606.5 695.2A132.9 124.8 0 0 1 1607.6 695.4L1605.4 704.6A122.9 115.4 0 0 0 1604.4 704.4ZM1619.1 698.3A132.9 124.8 0 0 1 1619.8 698.5L1616.7 707.5A122.9 115.4 0 0 0 1616.1 707.3ZM1620.9 698.9A132.9 124.8 0 0 1 1622.9 699.5L1619.5 708.4A122.9 115.4 0 0 0 1617.7 707.8ZM1623.2 699.6A132.9 124.8 0 0 1 1623.9 699.9L1620.5 708.7A122.9 115.4 0 0 0 1619.9 708.5ZM1627.4 701.1A132.9 124.8 0 0 1 1629.1 701.7L1625.3 710.4A122.9 115.4 0 0 0 1623.7 709.8ZM1629.6 701.9A132.9 124.8 0 0 1 1630.5 702.3L1626.6 710.9A122.9 115.4 0 0 0 1625.8 710.6ZM1631.6 702.7A132.9 124.8 0 0 1 1633.5 703.5L1629.4 712.1A122.9 115.4 0 0 0 1627.6 711.3ZM1636.3 704.7A132.9 124.8 0 0 1 1638 705.5L1633.5 713.9A122.9 115.4 0 0 0 1632 713.2ZM1640.2 706.5A132.9 124.8 0 0 1 1641.2 707.1L1636.5 715.4A122.9 115.4 0 0 0 1635.5 714.9ZM1647.2 710.3A132.9 124.8 0 0 1 1649.2 711.4L1643.9 719.4A122.9 115.4 0 0 0 1642.1 718.3ZM1657.5 716.7A132.9 124.8 0 0 1 1659.1 717.8L1653 725.3A122.9 115.4 0 0 0 1651.6 724.3ZM1659.9 718.4A132.9 124.8 0 0 1 1661.2 719.4L1655 726.8A122.9 115.4 0 0 0 1653.8 725.8ZM1661.5 719.6A132.9 124.8 0 0 1 1663 720.7L1656.7 728A122.9 115.4 0 0 0 1655.2 726.9ZM1666.3 723.3A132.9 124.8 0 0 1 1666.7 723.7L1660.1 730.8A122.9 115.4 0 0 0 1659.7 730.4ZM1667.2 724.1A132.9 124.8 0 0 1 1667.7 724.5L1661 731.5A122.9 115.4 0 0 0 1660.5 731.1ZM1668.1 724.8A132.9 124.8 0 0 1 1669.3 725.9L1662.5 732.8A122.9 115.4 0 0 0 1661.3 731.8ZM1673.5 729.7A132.9 124.8 0 0 1 1674 730.2L1666.8 736.7A122.9 115.4 0 0 0 1666.4 736.3ZM1682.5 739.3A132.9 124.8 0 0 1 1684 741.1L1676.1 746.8A122.9 115.4 0 0 0 1674.7 745.2ZM1697.1 760.4A132.9 124.8 0 0 1 1698.1 762.5L1689.1 766.6A122.9 115.4 0 0 0 1688.2 764.7ZM1700.4 766.9A132.9 124.8 0 0 1 1701.1 768.6L1691.9 772.2A122.9 115.4 0 0 0 1691.2 770.7ZM1704.9 778A132.9 124.8 0 0 1 1705.2 779L1695.7 781.9A122.9 115.4 0 0 0 1695.4 781ZM1705.4 779.5A132.9 124.8 0 0 1 1705.8 780.5L1696.2 783.3A122.9 115.4 0 0 0 1695.9 782.4ZM1707.3 785.6A132.9 124.8 0 0 1 1707.5 786.3L1697.8 788.6A122.9 115.4 0 0 0 1697.6 788ZM1708.5 790.4A132.9 124.8 0 0 1 1708.6 791L1698.9 792.9A122.9 115.4 0 0 0 1698.7 792.4ZM1709 792.4A132.9 124.8 0 0 1 1709.1 793.2L1699.3 795A122.9 115.4 0 0 0 1699.2 794.3ZM1710.5 801.3A132.9 124.8 0 0 1 1710.6 802.2L1700.7 803.3A122.9 115.4 0 0 0 1700.6 802.5ZM1711.2 808A132.9 124.8 0 0 1 1711.4 810.2L1701.4 810.7A122.9 115.4 0 0 0 1701.3 808.7ZM1711.5 811.2A132.9 124.8 0 0 1 1711.5 813.1L1701.5 813.4A122.9 115.4 0 0 0 1701.5 811.7ZM1709.8 837.6A132.9 124.8 0 0 1 1709.7 838.4L1699.8 836.8A122.9 115.4 0 0 0 1700 836ZM1709.5 839.3A132.9 124.8 0 0 1 1709.4 840.1L1699.5 838.3A122.9 115.4 0 0 0 1699.7 837.6ZM1707.9 846.5A132.9 124.8 0 0 1 1707.7 847.2L1698 845A122.9 115.4 0 0 0 1698.2 844.3ZM1705.8 853.7A132.9 124.8 0 0 1 1705.1 855.8L1695.6 852.9A122.9 115.4 0 0 0 1696.2 850.9ZM1703.2 860.9A132.9 124.8 0 0 1 1702.6 862.5L1693.2 859.1A122.9 115.4 0 0 0 1693.8 857.6ZM1698.4 871.4A132.9 124.8 0 0 1 1697.8 872.6L1688.8 868.5A122.9 115.4 0 0 0 1689.4 867.3ZM1696.2 875.5A132.9 124.8 0 0 1 1695.7 876.5L1686.9 872A122.9 115.4 0 0 0 1687.4 871.1ZM1695.3 877.1A132.9 124.8 0 0 1 1694.7 878.1L1686 873.5A122.9 115.4 0 0 0 1686.5 872.6ZM1693.7 879.8A132.9 124.8 0 0 1 1692.7 881.3L1684.1 876.5A122.9 115.4 0 0 0 1685 875.1ZM1692.5 881.7A132.9 124.8 0 0 1 1691.5 883.2L1683 878.2A122.9 115.4 0 0 0 1683.9 876.9ZM1688.5 887.6A132.9 124.8 0 0 1 1688 888.3L1679.7 882.9A122.9 115.4 0 0 0 1680.2 882.3ZM1682.7 895A132.9 124.8 0 0 1 1681.9 895.8L1674.1 889.9A122.9 115.4 0 0 0 1674.8 889.1ZM1679.9 898.1A132.9 124.8 0 0 1 1679.4 898.7L1671.8 892.6A122.9 115.4 0 0 0 1672.3 892ZM1678.8 899.3A132.9 124.8 0 0 1 1678.1 900.1L1670.6 893.8A122.9 115.4 0 0 0 1671.2 893.1ZM1673.8 904.3A132.9 124.8 0 0 1 1672.1 906L1665.1 899.3A122.9 115.4 0 0 0 1666.7 897.8ZM1669.5 908.3A132.9 124.8 0 0 1 1668.8 908.9L1662 902A122.9 115.4 0 0 0 1662.7 901.4ZM1667.7 909.9A132.9 124.8 0 0 1 1666.4 911L1659.8 903.9A122.9 115.4 0 0 0 1661 902.9ZM1661.5 914.8A132.9 124.8 0 0 1 1659.9 916L1653.8 908.6A122.9 115.4 0 0 0 1655.3 907.4ZM1654.8 919.5A132.9 124.8 0 0 1 1653.6 920.3L1648 912.5A122.9 115.4 0 0 0 1649 911.8ZM1653.4 920.4A132.9 124.8 0 0 1 1652.1 921.3L1646.5 913.4A122.9 115.4 0 0 0 1647.8 912.7ZM1634.8 930.3A132.9 124.8 0 0 1 1633 931.1L1628.9 922.5A122.9 115.4 0 0 0 1630.6 921.8ZM1632.6 931.3A132.9 124.8 0 0 1 1631.2 931.9L1627.2 923.2A122.9 115.4 0 0 0 1628.5 922.7ZM1619.7 935.9A132.9 124.8 0 0 1 1617.3 936.6L1614.4 927.6A122.9 115.4 0 0 0 1616.6 927ZM1616.6 936.8A132.9 124.8 0 0 1 1614.6 937.4L1611.9 928.3A122.9 115.4 0 0 0 1613.7 927.8ZM1614.1 937.5A132.9 124.8 0 0 1 1613.5 937.7L1610.8 928.6A122.9 115.4 0 0 0 1611.4 928.4ZM1613 937.8A132.9 124.8 0 0 1 1612.2 938L1609.7 928.9A122.9 115.4 0 0 0 1610.4 928.7ZM1606.1 939.3A132.9 124.8 0 0 1 1603.9 939.7L1602 930.5A122.9 115.4 0 0 0 1604 930.1ZM1603.2 939.9A132.9 124.8 0 0 1 1601.2 940.2L1599.5 930.9A122.9 115.4 0 0 0 1601.3 930.6ZM1589 941.6A132.9 124.8 0 0 1 1588.4 941.7L1587.7 932.3A122.9 115.4 0 0 0 1588.2 932.3ZM1578.6 942A132.9 124.8 0 0 1 1576.1 942L1576.3 932.6A122.9 115.4 0 0 0 1578.6 932.6ZM1567.8 941.6A132.9 124.8 0 0 1 1566.8 941.5L1567.7 932.1A122.9 115.4 0 0 0 1568.6 932.2ZM1564.5 941.3A132.9 124.8 0 0 1 1563.1 941.1L1564.2 931.8A122.9 115.4 0 0 0 1565.6 931.9ZM1556.9 940.3A132.9 124.8 0 0 1 1555.9 940.1L1557.6 930.9A122.9 115.4 0 0 0 1558.5 931ZM1552.9 939.6A132.9 124.8 0 0 1 1551.6 939.4L1553.7 930.2A122.9 115.4 0 0 0 1554.8 930.4ZM1548.4 938.7A132.9 124.8 0 0 1 1546.4 938.3L1548.8 929.1A122.9 115.4 0 0 0 1550.7 929.6ZM1542.6 937.3A132.9 124.8 0 0 1 1542 937.1L1544.7 928.1A122.9 115.4 0 0 0 1545.3 928.3ZM1540 936.6A132.9 124.8 0 0 1 1538.4 936.1L1541.5 927.2A122.9 115.4 0 0 0 1542.9 927.6ZM1532 934.1A132.9 124.8 0 0 1 1531.3 933.8L1534.9 925A122.9 115.4 0 0 0 1535.5 925.3ZM1528.5 932.7A132.9 124.8 0 0 1 1527.1 932.2L1531 923.6A122.9 115.4 0 0 0 1532.2 924ZM1518.4 928.4A132.9 124.8 0 0 1 1517.8 928.1L1522.3 919.8A122.9 115.4 0 0 0 1522.9 920ZM1515.4 926.9A132.9 124.8 0 0 1 1513.5 926L1518.5 917.8A122.9 115.4 0 0 0 1520.2 918.7ZM1513.3 925.8A132.9 124.8 0 0 1 1511.6 924.9L1516.7 916.8A122.9 115.4 0 0 0 1518.2 917.6ZM1509.2 923.6A132.9 124.8 0 0 1 1508.4 923.1L1513.7 915.2A122.9 115.4 0 0 0 1514.4 915.6ZM1507.7 922.7A132.9 124.8 0 0 1 1506.6 922L1512 914.1A122.9 115.4 0 0 0 1513 914.8ZM1500.8 918.3A132.9 124.8 0 0 1 1499.9 917.7L1505.8 910.1A122.9 115.4 0 0 0 1506.7 910.7ZM1465.7 883A132.9 124.8 0 0 1 1465 881.8L1473.6 877A122.9 115.4 0 0 0 1474.2 878ZM1462.4 877.7A132.9 124.8 0 0 1 1461.2 875.6L1470.1 871.2A122.9 115.4 0 0 0 1471.2 873.1ZM1460.2 873.8A132.9 124.8 0 0 1 1459.8 873L1468.8 868.8A122.9 115.4 0 0 0 1469.2 869.5ZM1458.7 870.9A132.9 124.8 0 0 1 1458.4 870.2L1467.5 866.3A122.9 115.4 0 0 0 1467.8 866.9ZM1457.5 868.4A132.9 124.8 0 0 1 1457.1 867.6L1466.2 863.8A122.9 115.4 0 0 0 1466.6 864.6ZM1453.9 860.1A132.9 124.8 0 0 1 1453.4 858.7L1462.8 855.6A122.9 115.4 0 0 0 1463.3 856.9ZM1451.3 852.9A132.9 124.8 0 0 1 1451 852L1460.7 849.3A122.9 115.4 0 0 0 1460.9 850.2ZM1450.3 849.4A132.9 124.8 0 0 1 1449.9 847.8L1459.6 845.5A122.9 115.4 0 0 0 1460 847ZM1449.8 847.6A132.9 124.8 0 0 1 1449.5 846.5L1459.2 844.3A122.9 115.4 0 0 0 1459.5 845.3ZM1448.4 841.7A132.9 124.8 0 0 1 1448 839.8L1457.8 838.1A122.9 115.4 0 0 0 1458.2 839.9ZM1446.4 829.6A132.9 124.8 0 0 1 1446.2 827.4L1456.2 826.6A122.9 115.4 0 0 0 1456.4 828.7ZM1446 823.7A132.9 124.8 0 0 1 1445.9 822.5L1455.9 822.1A122.9 115.4 0 0 0 1456 823.2ZM1445.8 820.3A132.9 124.8 0 0 1 1445.8 818.4L1455.8 818.3A122.9 115.4 0 0 0 1455.8 820ZM1445.8 815.6A132.9 124.8 0 0 1 1445.8 813.9L1455.8 814.1A122.9 115.4 0 0 0 1455.8 815.7ZM1445.8 813.4A132.9 124.8 0 0 1 1445.9 811.5L1455.9 812A122.9 115.4 0 0 0 1455.9 813.7ZM1446 810.9A132.9 124.8 0 0 1 1446 809.5L1456 810.1A122.9 115.4 0 0 0 1456 811.4ZM1446.1 808.4A132.9 124.8 0 0 1 1446.3 806.4L1456.3 807.2A122.9 115.4 0 0 0 1456.1 809.1ZM1446.6 803.1A132.9 124.8 0 0 1 1446.8 801.6L1456.8 802.8A122.9 115.4 0 0 0 1456.6 804.2ZM1448.1 793.8A132.9 124.8 0 0 1 1448.3 793L1458.1 794.9A122.9 115.4 0 0 0 1458 795.6ZM1448.5 792.3A132.9 124.8 0 0 1 1448.9 790.5L1458.7 792.5A122.9 115.4 0 0 0 1458.3 794.2ZM1449.5 787.7A132.9 124.8 0 0 1 1449.8 786.8L1459.5 789.1A122.9 115.4 0 0 0 1459.3 790ZM1449.9 786.6A132.9 124.8 0 0 1 1450.2 785.3L1459.9 787.7A122.9 115.4 0 0 0 1459.6 788.9ZM1451.7 780.3A132.9 124.8 0 0 1 1452.1 779.1L1461.7 781.9A122.9 115.4 0 0 0 1461.3 783.1ZM1453.9 774.3A132.9 124.8 0 0 1 1454.5 772.8L1463.8 776.1A122.9 115.4 0 0 0 1463.3 777.6ZM1461 759.1A132.9 124.8 0 0 1 1461.5 758.3L1470.3 762.8A122.9 115.4 0 0 0 1469.9 763.5ZM1466.4 750.5A132.9 124.8 0 0 1 1467.3 749.1L1475.7 754.3A122.9 115.4 0 0 0 1474.8 755.5ZM1471.7 743.1A132.9 124.8 0 0 1 1473.1 741.5L1481 747.2A122.9 115.4 0 0 0 1479.8 748.7ZM1473.5 741A132.9 124.8 0 0 1 1473.9 740.4L1481.8 746.2A122.9 115.4 0 0 0 1481.4 746.7ZM1479 734.6A132.9 124.8 0 0 1 1479.4 734.2L1486.9 740.5A122.9 115.4 0 0 0 1486.5 740.9ZM1483.8 729.8A132.9 124.8 0 0 1 1485.1 728.6L1492.1 735.3A122.9 115.4 0 0 0 1490.9 736.4ZM1497.8 718.2A132.9 124.8 0 0 1 1499.7 716.9L1505.6 724.4A122.9 115.4 0 0 0 1503.9 725.7ZM1504 714A132.9 124.8 0 0 1 1505.4 713.1L1510.9 720.9A122.9 115.4 0 0 0 1509.6 721.8ZM1507.7 711.7A132.9 124.8 0 0 1 1508.8 711L1514.1 719A122.9 115.4 0 0 0 1513 719.6ZM1509.6 710.6A132.9 124.8 0 0 1 1511 709.8L1516.1 717.9A122.9 115.4 0 0 0 1514.8 718.6ZM1511.3 709.6A132.9 124.8 0 0 1 1512.5 709L1517.5 717.1A122.9 115.4 0 0 0 1516.4 717.7ZM1522.6 704.1A132.9 124.8 0 0 1 1523.1 703.8L1527.3 712.4A122.9 115.4 0 0 0 1526.8 712.6ZM1523.5 703.7A132.9 124.8 0 0 1 1524.6 703.2L1528.7 711.8A122.9 115.4 0 0 0 1527.6 712.2ZM1528 701.8A132.9 124.8 0 0 1 1529.6 701.2L1533.3 710A122.9 115.4 0 0 0 1531.8 710.5ZM1529.8 701.2A132.9 124.8 0 0 1 1532 700.4L1535.5 709.2A122.9 115.4 0 0 0 1533.5 709.9ZM1535.4 699.2A132.9 124.8 0 0 1 1536.3 698.9L1539.5 707.8A122.9 115.4 0 0 0 1538.7 708.1ZM1537.4 698.6A132.9 124.8 0 0 1 1539.6 697.9L1542.6 706.9A122.9 115.4 0 0 0 1540.5 707.5ZM1544.6 696.6A132.9 124.8 0 0 1 1546.4 696.1L1548.8 705.3A122.9 115.4 0 0 0 1547.2 705.7ZM1547.4 695.9A132.9 124.8 0 0 1 1548 695.8L1550.4 704.9A122.9 115.4 0 0 0 1549.7 705ZM1551.1 695.1A132.9 124.8 0 0 1 1553 694.8L1554.9 704A122.9 115.4 0 0 0 1553.1 704.3ZM1556.4 694.2A132.9 124.8 0 0 1 1557.4 694L1559 703.3A122.9 115.4 0 0 0 1558.1 703.4ZM1565.3 693A132.9 124.8 0 0 1 1566.3 692.9L1567.2 702.3A122.9 115.4 0 0 0 1566.3 702.4ZM1567.4 692.9A132.9 124.8 0 0 1 1569.3 692.7L1570 702.1A122.9 115.4 0 0 0 1568.2 702.2ZM1573.2 692.5A132.9 124.8 0 0 1 1574.9 692.5L1575.2 701.8A122.9 115.4 0 0 0 1573.6 701.9Z" fill="#111"/>
<path d="M1577.3 692.4A132.9 124.8 0 0 1 1578.8 692.4L1578.8 701.8A122.9 115.4 0 0 0 1577.4 701.8ZM1579.9 692.4A132.9 124.8 0 0 1 1581.4 692.4L1581.2 701.8A122.9 115.4 0 0 0 1579.8 701.8ZM1582.1 692.4A132.9 124.8 0 0 1 1583 692.5L1582.7 701.9A122.9 115.4 0 0 0 1581.8 701.8ZM1591.9 693A132.9 124.8 0 0 1 1592.5 693.1L1591.5 702.4A122.9 115.4 0 0 0 1590.9 702.4ZM1593.8 693.2A132.9 124.8 0 0 1 1595.3 693.4L1594 702.7A122.9 115.4 0 0 0 1592.6 702.5ZM1598.5 693.8A132.9 124.8 0 0 1 1600.3 694.1L1598.7 703.3A122.9 115.4 0 0 0 1597 703.1ZM1614.4 697A132.9 124.8 0 0 1 1616.8 697.6L1613.9 706.6A122.9 115.4 0 0 0 1611.7 706ZM1624.8 700.2A132.9 124.8 0 0 1 1625.7 700.5L1622.2 709.3A122.9 115.4 0 0 0 1621.4 709ZM1634.5 703.9A132.9 124.8 0 0 1 1635.4 704.3L1631.1 712.8A122.9 115.4 0 0 0 1630.3 712.5ZM1642.4 707.7A132.9 124.8 0 0 1 1644 708.5L1639 716.7A122.9 115.4 0 0 0 1637.6 715.9ZM1644.5 708.7A132.9 124.8 0 0 1 1646.6 709.9L1641.5 718A122.9 115.4 0 0 0 1639.5 716.9ZM1655.1 715.1A132.9 124.8 0 0 1 1656.5 716L1650.6 723.6A122.9 115.4 0 0 0 1649.3 722.7ZM1676.1 732.3A132.9 124.8 0 0 1 1677.4 733.6L1669.9 739.9A122.9 115.4 0 0 0 1668.8 738.7ZM1691.5 751.2A132.9 124.8 0 0 1 1692.5 752.8L1684 757.6A122.9 115.4 0 0 0 1683 756.1ZM1693 753.5A132.9 124.8 0 0 1 1693.9 754.9L1685.2 759.6A122.9 115.4 0 0 0 1684.4 758.3ZM1694.8 756.4A132.9 124.8 0 0 1 1695.6 757.9L1686.8 762.4A122.9 115.4 0 0 0 1686 761ZM1695.8 758.2A132.9 124.8 0 0 1 1696.7 759.8L1687.8 764.1A122.9 115.4 0 0 0 1687 762.6ZM1703.2 773.4A132.9 124.8 0 0 1 1703.5 774.2L1694.1 777.4A122.9 115.4 0 0 0 1693.8 776.7ZM1705.9 781A132.9 124.8 0 0 1 1706.4 782.7L1696.8 785.3A122.9 115.4 0 0 0 1696.3 783.8ZM1710.2 798.8A132.9 124.8 0 0 1 1710.3 799.7L1700.4 801A122.9 115.4 0 0 0 1700.3 800.2ZM1710.3 800A132.9 124.8 0 0 1 1710.4 800.5L1700.5 801.8A122.9 115.4 0 0 0 1700.4 801.3ZM1710.7 802.6A132.9 124.8 0 0 1 1710.9 804.5L1701 805.4A122.9 115.4 0 0 0 1700.8 803.7ZM1711 805.2A132.9 124.8 0 0 1 1711.2 807.1L1701.2 807.9A122.9 115.4 0 0 0 1701 806.1ZM1711.6 818.3A132.9 124.8 0 0 1 1711.6 820.6L1701.6 820.4A122.9 115.4 0 0 0 1701.6 818.2ZM1710.5 833.1A132.9 124.8 0 0 1 1710.4 833.8L1700.5 832.6A122.9 115.4 0 0 0 1700.6 831.9ZM1710.3 834.5A132.9 124.8 0 0 1 1710.2 835.6L1700.3 834.2A122.9 115.4 0 0 0 1700.4 833.2ZM1708.7 843.3A132.9 124.8 0 0 1 1708.1 845.5L1698.4 843.4A122.9 115.4 0 0 0 1698.9 841.3ZM1706.4 851.7A132.9 124.8 0 0 1 1706.1 852.8L1696.5 850.1A122.9 115.4 0 0 0 1696.8 849.1ZM1704.8 856.7A132.9 124.8 0 0 1 1704 858.9L1694.5 855.7A122.9 115.4 0 0 0 1695.3 853.7ZM1703.7 859.5A132.9 124.8 0 0 1 1703.4 860.4L1694 857.1A122.9 115.4 0 0 0 1694.3 856.3ZM1702.1 863.5A132.9 124.8 0 0 1 1701.5 864.9L1692.3 861.3A122.9 115.4 0 0 0 1692.8 860ZM1701.2 865.7A132.9 124.8 0 0 1 1700.5 867.1L1691.3 863.4A122.9 115.4 0 0 0 1691.9 862ZM1700.2 867.9A132.9 124.8 0 0 1 1699.9 868.5L1690.8 864.6A122.9 115.4 0 0 0 1691 864ZM1691.1 883.9A132.9 124.8 0 0 1 1690.6 884.5L1682.2 879.5A122.9 115.4 0 0 0 1682.6 878.8ZM1690.4 884.8A132.9 124.8 0 0 1 1689.9 885.6L1681.5 880.4A122.9 115.4 0 0 0 1682 879.7ZM1689.6 886A132.9 124.8 0 0 1 1688.8 887.1L1680.5 881.8A122.9 115.4 0 0 0 1681.2 880.8ZM1687.5 888.9A132.9 124.8 0 0 1 1686.4 890.3L1678.3 884.8A122.9 115.4 0 0 0 1679.3 883.5ZM1671.6 906.4A132.9 124.8 0 0 1 1670.1 907.8L1663.2 901A122.9 115.4 0 0 0 1664.6 899.7ZM1668.7 909.1A132.9 124.8 0 0 1 1668.2 909.5L1661.4 902.5A122.9 115.4 0 0 0 1661.9 902.1ZM1659.4 916.4A132.9 124.8 0 0 1 1658.1 917.3L1652.2 909.7A122.9 115.4 0 0 0 1653.3 908.9ZM1656.2 918.6A132.9 124.8 0 0 1 1655.5 919.1L1649.7 911.4A122.9 115.4 0 0 0 1650.4 910.9ZM1648.5 923.4A132.9 124.8 0 0 1 1647 924.3L1641.8 916.2A122.9 115.4 0 0 0 1643.2 915.4ZM1624.9 934.2A132.9 124.8 0 0 1 1623.4 934.7L1620 925.9A122.9 115.4 0 0 0 1621.5 925.4ZM1611.2 938.2A132.9 124.8 0 0 1 1609.6 938.6L1607.2 929.4A122.9 115.4 0 0 0 1608.7 929.1ZM1600.1 940.4A132.9 124.8 0 0 1 1599.2 940.5L1597.7 931.2A122.9 115.4 0 0 0 1598.5 931.1ZM1597.2 940.8A132.9 124.8 0 0 1 1594.8 941.1L1593.6 931.8A122.9 115.4 0 0 0 1595.8 931.5ZM1594.1 941.2A132.9 124.8 0 0 1 1592.7 941.3L1591.6 932A122.9 115.4 0 0 0 1592.9 931.8ZM1581.6 942A132.9 124.8 0 0 1 1579.3 942L1579.2 932.6A122.9 115.4 0 0 0 1581.4 932.6ZM1566.2 941.4A132.9 124.8 0 0 1 1565.3 941.4L1566.3 932A122.9 115.4 0 0 0 1567.1 932.1ZM1538.3 936.1A132.9 124.8 0 0 1 1536.4 935.5L1539.6 926.6A122.9 115.4 0 0 0 1541.3 927.1ZM1535.7 935.3A132.9 124.8 0 0 1 1534.5 934.9L1537.8 926A122.9 115.4 0 0 0 1538.9 926.4ZM1524 930.9A132.9 124.8 0 0 1 1522.9 930.5L1527.1 921.9A122.9 115.4 0 0 0 1528.1 922.4ZM1522.1 930.1A132.9 124.8 0 0 1 1520.3 929.3L1524.7 920.9A122.9 115.4 0 0 0 1526.4 921.6ZM1503.6 920.1A132.9 124.8 0 0 1 1501.6 918.9L1507.4 911.2A122.9 115.4 0 0 0 1509.2 912.4ZM1497.2 915.8A132.9 124.8 0 0 1 1496.2 915L1502.4 907.7A122.9 115.4 0 0 0 1503.4 908.4ZM1495.8 914.8A132.9 124.8 0 0 1 1494.8 914L1501.1 906.7A122.9 115.4 0 0 0 1502.1 907.4ZM1479.1 899.9A132.9 124.8 0 0 1 1477.8 898.4L1485.4 892.3A122.9 115.4 0 0 0 1486.6 893.7ZM1473.9 894A132.9 124.8 0 0 1 1472.5 892.2L1480.5 886.6A122.9 115.4 0 0 0 1481.8 888.2ZM1468.3 886.7A132.9 124.8 0 0 1 1467.3 885.3L1475.7 880.2A122.9 115.4 0 0 0 1476.6 881.5ZM1464.5 881.1A132.9 124.8 0 0 1 1463.3 879.1L1472 874.4A122.9 115.4 0 0 0 1473.1 876.3ZM1463.1 878.8A132.9 124.8 0 0 1 1462.6 878L1471.4 873.4A122.9 115.4 0 0 0 1471.8 874.2ZM1454.7 862.2A132.9 124.8 0 0 1 1454.3 861.1L1463.6 857.8A122.9 115.4 0 0 0 1464.1 858.8ZM1452.5 856.4A132.9 124.8 0 0 1 1452.1 855.2L1461.6 852.4A122.9 115.4 0 0 0 1462 853.5ZM1448.7 843A132.9 124.8 0 0 1 1448.4 842L1458.2 840.1A122.9 115.4 0 0 0 1458.5 841.1ZM1447.2 835.4A132.9 124.8 0 0 1 1447 834L1456.9 832.7A122.9 115.4 0 0 0 1457.1 834ZM1446.2 826.5A132.9 124.8 0 0 1 1446.1 825.5L1456.1 824.9A122.9 115.4 0 0 0 1456.1 825.8ZM1450.5 784.3A132.9 124.8 0 0 1 1450.9 783.1L1460.5 785.6A122.9 115.4 0 0 0 1460.1 786.8ZM1452.3 778.6A132.9 124.8 0 0 1 1452.5 778L1462 781A122.9 115.4 0 0 0 1461.8 781.5ZM1455.2 771.1A132.9 124.8 0 0 1 1455.7 769.9L1465 773.5A122.9 115.4 0 0 0 1464.5 774.6ZM1458.2 764.6A132.9 124.8 0 0 1 1458.7 763.5L1467.8 767.5A122.9 115.4 0 0 0 1467.3 768.5ZM1462.7 756.2A132.9 124.8 0 0 1 1463.9 754.3L1472.6 759A122.9 115.4 0 0 0 1471.5 760.8ZM1464.8 752.9A132.9 124.8 0 0 1 1466 751L1474.5 756A122.9 115.4 0 0 0 1473.4 757.8ZM1479.8 733.8A132.9 124.8 0 0 1 1480.4 733.2L1487.8 739.5A122.9 115.4 0 0 0 1487.3 740.1ZM1486.8 727A132.9 124.8 0 0 1 1487.9 726L1494.8 732.9A122.9 115.4 0 0 0 1493.8 733.8ZM1492.5 722.2A132.9 124.8 0 0 1 1494.2 720.8L1500.6 728.1A122.9 115.4 0 0 0 1499 729.4ZM1496.1 719.5A132.9 124.8 0 0 1 1497.3 718.5L1503.5 726A122.9 115.4 0 0 0 1502.3 726.8ZM1515.4 707.4A132.9 124.8 0 0 1 1517.5 706.4L1522.1 714.8A122.9 115.4 0 0 0 1520.2 715.7ZM1520.8 704.9A132.9 124.8 0 0 1 1521.6 704.5L1525.9 713A122.9 115.4 0 0 0 1525.2 713.3ZM1525.6 702.8A132.9 124.8 0 0 1 1527.6 702L1531.4 710.7A122.9 115.4 0 0 0 1529.6 711.4ZM1540.6 697.6A132.9 124.8 0 0 1 1541.8 697.3L1544.6 706.3A122.9 115.4 0 0 0 1543.4 706.7ZM1553.8 694.6A132.9 124.8 0 0 1 1556.2 694.2L1557.9 703.5A122.9 115.4 0 0 0 1555.7 703.8ZM1571.4 692.6A132.9 124.8 0 0 1 1573 692.5L1573.4 701.9A122.9 115.4 0 0 0 1571.9 702Z" fill="#777"/>
<path d="M1589.8 692.8A132.9 124.8 0 0 1 1591.6 693L1590.6 702.3A122.9 115.4 0 0 0 1588.9 702.2ZM1596.2 693.5A132.9 124.8 0 0 1 1597.8 693.7L1596.4 703A122.9 115.4 0 0 0 1594.9 702.8ZM1641.4 707.2A132.9 124.8 0 0 1 1642.1 707.5L1637.3 715.8A122.9 115.4 0 0 0 1636.7 715.5ZM1672 728.3A132.9 124.8 0 0 1 1673.3 729.6L1666.2 736.2A122.9 115.4 0 0 0 1664.9 735ZM1680.7 737.1A132.9 124.8 0 0 1 1682 738.6L1674.2 744.5A122.9 115.4 0 0 0 1673 743.2ZM1687.6 745.7A132.9 124.8 0 0 1 1688.6 747L1680.3 752.3A122.9 115.4 0 0 0 1679.4 751.1ZM1688.9 747.4A132.9 124.8 0 0 1 1689.8 748.7L1681.5 753.9A122.9 115.4 0 0 0 1680.6 752.6ZM1698.2 762.6A132.9 124.8 0 0 1 1698.7 763.6L1689.7 767.6A122.9 115.4 0 0 0 1689.2 766.7ZM1702.5 771.8A132.9 124.8 0 0 1 1703 773L1693.6 776.3A122.9 115.4 0 0 0 1693.2 775.3ZM1703.8 775A132.9 124.8 0 0 1 1704.5 777L1695.1 780.1A122.9 115.4 0 0 0 1694.4 778.2ZM1707.7 787.2A132.9 124.8 0 0 1 1707.9 787.8L1698.1 790A122.9 115.4 0 0 0 1698 789.5ZM1709.3 793.9A132.9 124.8 0 0 1 1709.5 795.3L1699.7 796.9A122.9 115.4 0 0 0 1699.4 795.7ZM1711.5 823.2A132.9 124.8 0 0 1 1711.4 824.9L1701.4 824.4A122.9 115.4 0 0 0 1701.5 822.8ZM1676.3 901.9A132.9 124.8 0 0 1 1675.4 902.9L1668.1 896.4A122.9 115.4 0 0 0 1668.9 895.5ZM1675.3 903A132.9 124.8 0 0 1 1674.6 903.6L1667.4 897.1A122.9 115.4 0 0 0 1668 896.5ZM1657.5 917.7A132.9 124.8 0 0 1 1657.1 918L1651.2 910.4A122.9 115.4 0 0 0 1651.6 910.1ZM1651.2 921.8A132.9 124.8 0 0 1 1649.4 922.9L1644 914.9A122.9 115.4 0 0 0 1645.7 913.9ZM1626.8 933.5A132.9 124.8 0 0 1 1625.6 934L1622.1 925.2A122.9 115.4 0 0 0 1623.2 924.8ZM1622.3 935.1A132.9 124.8 0 0 1 1620.6 935.6L1617.4 926.7A122.9 115.4 0 0 0 1619 926.2ZM1598.9 940.5A132.9 124.8 0 0 1 1597.4 940.8L1596 931.5A122.9 115.4 0 0 0 1597.4 931.3ZM1590.6 941.5A132.9 124.8 0 0 1 1589.4 941.6L1588.6 932.2A122.9 115.4 0 0 0 1589.7 932.1ZM1569.2 941.7A132.9 124.8 0 0 1 1568.4 941.6L1569.2 932.3A122.9 115.4 0 0 0 1569.9 932.3ZM1550.8 939.2A132.9 124.8 0 0 1 1549.2 938.9L1551.4 929.7A122.9 115.4 0 0 0 1552.9 930ZM1541.6 937A132.9 124.8 0 0 1 1540.2 936.7L1543.1 927.7A122.9 115.4 0 0 0 1544.4 928ZM1526.3 931.9A132.9 124.8 0 0 1 1525.1 931.4L1529.1 922.8A122.9 115.4 0 0 0 1530.2 923.2ZM1517.1 927.8A132.9 124.8 0 0 1 1515.8 927.1L1520.5 918.8A122.9 115.4 0 0 0 1521.8 919.5ZM1511.2 924.7A132.9 124.8 0 0 1 1509.5 923.8L1514.7 915.7A122.9 115.4 0 0 0 1516.3 916.6ZM1492.7 912.3A132.9 124.8 0 0 1 1491 911L1497.6 903.9A122.9 115.4 0 0 0 1499.2 905.2ZM1488.7 909A132.9 124.8 0 0 1 1487.4 907.9L1494.3 901.1A122.9 115.4 0 0 0 1495.4 902.1ZM1482.6 903.4A132.9 124.8 0 0 1 1482.1 902.9L1489.4 896.5A122.9 115.4 0 0 0 1489.8 896.9ZM1481.9 902.7A132.9 124.8 0 0 1 1480.5 901.3L1487.9 895A122.9 115.4 0 0 0 1489.2 896.3ZM1477.5 898.1A132.9 124.8 0 0 1 1475.9 896.3L1483.6 890.3A122.9 115.4 0 0 0 1485.1 892ZM1461 875.2A132.9 124.8 0 0 1 1460.7 874.6L1469.6 870.3A122.9 115.4 0 0 0 1469.9 870.9ZM1458.2 870A132.9 124.8 0 0 1 1457.8 869.1L1466.9 865.2A122.9 115.4 0 0 0 1467.3 866ZM1449.3 845.5A132.9 124.8 0 0 1 1448.9 844.1L1458.7 842A122.9 115.4 0 0 0 1459 843.4ZM1447.4 836.6A132.9 124.8 0 0 1 1447.2 835.6L1457.1 834.2A122.9 115.4 0 0 0 1457.3 835.2ZM1445.9 822.1A132.9 124.8 0 0 1 1445.8 820.7L1455.8 820.5A122.9 115.4 0 0 0 1455.9 821.8ZM1446.9 801.2A132.9 124.8 0 0 1 1447.1 799.9L1457 801.2A122.9 115.4 0 0 0 1456.8 802.4ZM1447.3 798.2A132.9 124.8 0 0 1 1447.7 796L1457.6 797.6A122.9 115.4 0 0 0 1457.2 799.7ZM1449 790A132.9 124.8 0 0 1 1449.5 787.9L1459.2 790.1A122.9 115.4 0 0 0 1458.8 792ZM1454.7 772.4A132.9 124.8 0 0 1 1455.1 771.3L1464.4 774.7A122.9 115.4 0 0 0 1464 775.7ZM1456.1 769.1A132.9 124.8 0 0 1 1456.9 767.2L1466.1 771A122.9 115.4 0 0 0 1465.3 772.7ZM1461.7 758A132.9 124.8 0 0 1 1462.5 756.6L1471.3 761.2A122.9 115.4 0 0 0 1470.5 762.5ZM1476.2 737.7A132.9 124.8 0 0 1 1477 736.9L1484.6 742.9A122.9 115.4 0 0 0 1483.9 743.7ZM1477.5 736.3A132.9 124.8 0 0 1 1478.4 735.3L1486 741.5A122.9 115.4 0 0 0 1485.2 742.4ZM1482.7 730.9A132.9 124.8 0 0 1 1483.5 730.1L1490.6 736.7A122.9 115.4 0 0 0 1489.9 737.4Z" fill="#bbb"/>
<path d="M1599.5 693.9A132.9 124.8 0 0 1 1600.7 694.1L1599 703.4A122.9 115.4 0 0 0 1598 703.2ZM1665.5 722.7A132.9 124.8 0 0 1 1666.4 723.4L1659.8 730.5A122.9 115.4 0 0 0 1659 729.8ZM1697.3 760.9A132.9 124.8 0 0 1 1697.9 761.9L1688.9 766.1A122.9 115.4 0 0 0 1688.4 765.2ZM1711.5 813A132.9 124.8 0 0 1 1711.6 814.1L1701.6 814.4A122.9 115.4 0 0 0 1701.5 813.3ZM1706.8 850.4A132.9 124.8 0 0 1 1706.5 851.5L1696.9 848.9A122.9 115.4 0 0 0 1697.2 847.9ZM1685.3 891.7A132.9 124.8 0 0 1 1684.6 892.6L1676.6 886.9A122.9 115.4 0 0 0 1677.3 886.1ZM1649.7 922.7A132.9 124.8 0 0 1 1648.7 923.3L1643.5 915.3A122.9 115.4 0 0 0 1644.4 914.7ZM1612.2 938A132.9 124.8 0 0 1 1611.1 938.2L1608.6 929.1A122.9 115.4 0 0 0 1609.7 928.9ZM1572.8 941.9A132.9 124.8 0 0 1 1571.7 941.8L1572.2 932.4A122.9 115.4 0 0 0 1573.3 932.5ZM1542 937.2A132.9 124.8 0 0 1 1540.9 936.8L1543.8 927.8A122.9 115.4 0 0 0 1544.8 928.1ZM1509.3 923.6A132.9 124.8 0 0 1 1508.3 923L1513.6 915.1A122.9 115.4 0 0 0 1514.5 915.6ZM1476.9 897.4A132.9 124.8 0 0 1 1476.2 896.6L1483.9 890.6A122.9 115.4 0 0 0 1484.6 891.4ZM1458.3 870A132.9 124.8 0 0 1 1457.8 869L1466.9 865.1A122.9 115.4 0 0 0 1467.3 866ZM1448.9 844.2A132.9 124.8 0 0 1 1448.7 843.1L1458.5 841.2A122.9 115.4 0 0 0 1458.7 842.2ZM1445.8 820.5A132.9 124.8 0 0 1 1445.8 819.4L1455.8 819.2A122.9 115.4 0 0 0 1455.8 820.2ZM1448.4 792.7A132.9 124.8 0 0 1 1448.6 791.7L1458.4 793.6A122.9 115.4 0 0 0 1458.2 794.6ZM1455 771.6A132.9 124.8 0 0 1 1455.4 770.5L1464.7 774.1A122.9 115.4 0 0 0 1464.3 775ZM1465.3 752.1A132.9 124.8 0 0 1 1465.9 751.2L1474.4 756.1A122.9 115.4 0 0 0 1473.9 757ZM1474.9 739.3A132.9 124.8 0 0 1 1475.6 738.5L1483.4 744.4A122.9 115.4 0 0 0 1482.7 745.2ZM1487.7 726.2A132.9 124.8 0 0 1 1488.6 725.5L1495.4 732.4A122.9 115.4 0 0 0 1494.6 733.1ZM1500 716.6A132.9 124.8 0 0 1 1501 716L1506.8 723.6A122.9 115.4 0 0 0 1506 724.2ZM1513.5 708.4A132.9 124.8 0 0 1 1514.5 707.9L1519.4 716.1A122.9 115.4 0 0 0 1518.4 716.6ZM1533.5 699.8A132.9 124.8 0 0 1 1534.6 699.5L1537.9 708.3A122.9 115.4 0 0 0 1536.9 708.7ZM1567.8 692.8A132.9 124.8 0 0 1 1568.9 692.7L1569.7 702.1A122.9 115.4 0 0 0 1568.6 702.2Z" fill="#e8281c"/>
<path d="M1621.9 699.2A132.9 124.8 0 0 1 1622.9 699.5L1619.6 708.4A122.9 115.4 0 0 0 1618.6 708.1ZM1711.4 823.8A132.9 124.8 0 0 1 1711.4 824.8L1701.4 824.3A122.9 115.4 0 0 0 1701.4 823.3ZM1707.1 849.4A132.9 124.8 0 0 1 1706.8 850.4L1697.2 847.9A122.9 115.4 0 0 0 1697.4 847ZM1465.7 751.5A132.9 124.8 0 0 1 1466.2 750.7L1474.7 755.7A122.9 115.4 0 0 0 1474.2 756.5ZM1515.9 707.2A132.9 124.8 0 0 1 1516.8 706.8L1521.5 715.1A122.9 115.4 0 0 0 1520.6 715.5ZM1531.2 700.6A132.9 124.8 0 0 1 1532.2 700.3L1535.7 709.1A122.9 115.4 0 0 0 1534.8 709.4ZM1565.2 693A132.9 124.8 0 0 1 1566.2 693L1567.2 702.3A122.9 115.4 0 0 0 1566.2 702.4Z" fill="#5090d0"/>
<path d="M1577.5 713.3A110.7 103.9 0 0 1 1628.3 724.3M1577.5 711.5A112.6 105.7 0 0 1 1629.2 722.7M1577.5 709.6A114.6 107.6 0 0 1 1630.1 721.1M1577.5 707.8A116.5 109.4 0 0 1 1630.9 719.4M1629.9 725.1A110.7 103.9 0 0 1 1668.4 756.3M1630.8 723.4A112.6 105.7 0 0 1 1670 755.2M1631.7 721.8A114.6 107.6 0 0 1 1671.5 754.2M1632.6 720.2A116.5 109.4 0 0 1 1673.1 753.1M1669.4 757.6A110.7 103.9 0 0 1 1686.4 793.3M1671 756.6A112.6 105.7 0 0 1 1688.3 792.9M1672.6 755.6A114.6 107.6 0 0 1 1690.2 792.4M1674.2 754.5A116.5 109.4 0 0 1 1692.1 792M1686.8 794.9A110.7 103.9 0 0 1 1688.2 832.5M1688.7 794.5A112.6 105.7 0 0 1 1690.1 832.8M1690.6 794.1A114.6 107.6 0 0 1 1692 833.1M1692.5 793.7A116.5 109.4 0 0 1 1693.9 833.3M1687.9 834.2A110.7 103.9 0 0 1 1675.3 867.9M1689.8 834.4A112.6 105.7 0 0 1 1677 868.8M1691.7 834.7A114.6 107.6 0 0 1 1678.7 869.7M1693.6 835A116.5 109.4 0 0 1 1680.4 870.5M1674.5 869.3A110.7 103.9 0 0 1 1651.6 895.4M1676.1 870.2A112.6 105.7 0 0 1 1652.9 896.8M1677.8 871.1A114.6 107.6 0 0 1 1654.2 898.1M1679.5 872A116.5 109.4 0 0 1 1655.4 899.5M1650.3 896.5A110.7 103.9 0 0 1 1621.8 912.9M1651.5 897.8A112.6 105.7 0 0 1 1622.5 914.6M1652.8 899.2A114.6 107.6 0 0 1 1623.3 916.3M1654 900.6A116.5 109.4 0 0 1 1624 918M1620.2 913.6A110.7 103.9 0 0 1 1590.3 920.5M1620.9 915.2A112.6 105.7 0 0 1 1590.5 922.4M1621.6 916.9A114.6 107.6 0 0 1 1590.7 924.2M1622.3 918.6A116.5 109.4 0 0 1 1590.9 926M1588.6 920.7A110.7 103.9 0 0 1 1558.9 919.4M1588.8 922.5A112.6 105.7 0 0 1 1558.6 921.2M1588.9 924.3A114.6 107.6 0 0 1 1558.2 923M1589.1 926.1A116.5 109.4 0 0 1 1557.9 924.8M1557.2 919.1A110.7 103.9 0 0 1 1530.1 910.5M1556.8 920.9A112.6 105.7 0 0 1 1529.2 912.2M1556.5 922.7A114.6 107.6 0 0 1 1528.3 913.8M1556.1 924.5A116.5 109.4 0 0 1 1527.5 915.4M1528.5 909.8A110.7 103.9 0 0 1 1505 894.7M1527.6 911.4A112.6 105.7 0 0 1 1503.7 896.1M1526.7 913.1A114.6 107.6 0 0 1 1502.4 897.5M1525.9 914.7A116.5 109.4 0 0 1 1501.1 898.8M1503.7 893.6A110.7 103.9 0 0 1 1485.6 873.3M1502.4 895A112.6 105.7 0 0 1 1483.9 874.3M1501.1 896.3A114.6 107.6 0 0 1 1482.3 875.3M1499.8 897.7A116.5 109.4 0 0 1 1480.7 876.3M1484.6 872A110.7 103.9 0 0 1 1474.2 851.4M1483 872.9A112.6 105.7 0 0 1 1472.4 852M1481.3 873.9A114.6 107.6 0 0 1 1470.5 852.6M1479.7 874.8A116.5 109.4 0 0 1 1468.7 853.2M1473.6 849.8A110.7 103.9 0 0 1 1468.8 829.2M1471.8 850.4A112.6 105.7 0 0 1 1466.8 829.4M1469.9 851A114.6 107.6 0 0 1 1464.9 829.6M1468.1 851.6A116.5 109.4 0 0 1 1463 829.8M1468.6 827.5A110.7 103.9 0 0 1 1468.5 807.1M1466.6 827.7A112.6 105.7 0 0 1 1466.6 806.9M1464.7 827.9A114.6 107.6 0 0 1 1464.7 806.8M1462.8 828.1A116.5 109.4 0 0 1 1462.8 806.6M1468.7 805.5A110.7 103.9 0 0 1 1472.5 788M1466.8 805.3A112.6 105.7 0 0 1 1470.6 787.5M1464.9 805.1A114.6 107.6 0 0 1 1468.8 787M1463 804.9A116.5 109.4 0 0 1 1466.9 786.5M1473 786.5A110.7 103.9 0 0 1 1479.3 771.5M1471.1 785.9A112.6 105.7 0 0 1 1477.5 770.7M1469.3 785.4A114.6 107.6 0 0 1 1475.8 769.9M1467.4 784.8A116.5 109.4 0 0 1 1474.1 769.1M1480.1 770.1A110.7 103.9 0 0 1 1488.6 756.8M1478.3 769.2A112.6 105.7 0 0 1 1487 755.8M1476.6 768.4A114.6 107.6 0 0 1 1485.5 754.7M1474.9 767.6A116.5 109.4 0 0 1 1483.9 753.7M1489.6 755.5A110.7 103.9 0 0 1 1497.6 746.5M1488.1 754.4A112.6 105.7 0 0 1 1496.2 745.3M1486.5 753.4A114.6 107.6 0 0 1 1494.7 744M1484.9 752.3A116.5 109.4 0 0 1 1493.3 742.8M1498.8 745.3A110.7 103.9 0 0 1 1508.5 736.8M1497.4 744.1A112.6 105.7 0 0 1 1507.3 735.4M1496 742.8A114.6 107.6 0 0 1 1506.1 734M1494.6 741.5A116.5 109.4 0 0 1 1504.8 732.6M1509.9 735.8A110.7 103.9 0 0 1 1518.1 730.2M1508.7 734.4A112.6 105.7 0 0 1 1517 728.7M1507.5 733A114.6 107.6 0 0 1 1516 727.2M1506.3 731.5A116.5 109.4 0 0 1 1514.9 725.7M1519.6 729.4A110.7 103.9 0 0 1 1528.9 724.4M1518.5 727.8A112.6 105.7 0 0 1 1528.1 722.7M1517.5 726.3A114.6 107.6 0 0 1 1527.2 721.1M1516.5 724.7A116.5 109.4 0 0 1 1526.3 719.5M1530.5 723.6A110.7 103.9 0 0 1 1561.7 714.5M1529.7 722A112.6 105.7 0 0 1 1561.4 712.7M1528.8 720.4A114.6 107.6 0 0 1 1561.1 710.9M1528 718.7A116.5 109.4 0 0 1 1560.8 709.1M1563.4 714.3A110.7 103.9 0 0 1 1575.8 713.3M1563.1 712.5A112.6 105.7 0 0 1 1575.8 711.5M1562.8 710.7A114.6 107.6 0 0 1 1575.7 709.7M1562.6 708.9A116.5 109.4 0 0 1 1575.7 707.9" stroke="#e2cfb2" stroke-width="0.35" fill="none"/>
<rect x="1581.6" y="711.1" width="2.4" height="2.4" fill="#3c50c8"/>
<rect x="1637.3" y="728.7" width="2.4" height="2.4" fill="#3c50c8"/>
<rect x="1659.3" y="746" width="2.4" height="2.4" fill="#3c50c8"/>
<rect x="1668.9" y="745.2" width="2.4" height="2.4" fill="#e8281c"/>
<rect x="1671.4" y="761.1" width="2.4" height="2.4" fill="#3c50c8"/>
<rect x="1675" y="766.6" width="2.4" height="2.4" fill="#3c50c8"/>
<rect x="1687.9" y="777" width="2.4" height="2.4" fill="#e8281c"/>
<rect x="1688.2" y="821.3" width="2.4" height="2.4" fill="#3c50c8"/>
<rect x="1667.3" y="876.5" width="2.4" height="2.4" fill="#3c50c8"/>
<rect x="1647.8" y="896.3" width="2.4" height="2.4" fill="#3c50c8"/>
<rect x="1578.8" y="927.1" width="2.4" height="2.4" fill="#e8281c"/>
<rect x="1533.5" y="919.1" width="2.4" height="2.4" fill="#e8281c"/>
<rect x="1494.2" y="884.8" width="2.4" height="2.4" fill="#3c50c8"/>
<rect x="1463.1" y="844.6" width="2.4" height="2.4" fill="#e8281c"/>
<rect x="1467" y="828.4" width="2.4" height="2.4" fill="#3c50c8"/>
<rect x="1466.1" y="808.6" width="2.4" height="2.4" fill="#3c50c8"/>
<rect x="1464.2" y="781.7" width="2.4" height="2.4" fill="#e8281c"/>
<rect x="1488.9" y="752" width="2.4" height="2.4" fill="#3c50c8"/>
<rect x="1494.4" y="746.5" width="2.4" height="2.4" fill="#3c50c8"/>
<rect x="1500.5" y="740.8" width="2.4" height="2.4" fill="#3c50c8"/>
<rect x="1525.5" y="723.7" width="2.4" height="2.4" fill="#3c50c8"/>
<rect x="1559.8" y="705.9" width="2.4" height="2.4" fill="#e8281c"/>
<path d="M1582.6 715.3l-0.4 11M1636.8 732.3l-6.2 9.1M1658.2 749.1l-8.4 7.2M1670 763.8l-9.5 5.6M1673.5 769.1l-9.8 5M1666 876l-9.1 -6.1M1467.2 845.1l10.7 -2.7M1471.1 829.3l10.9 -1.2M1470.3 810l11 0.7M1468.3 783.8l10.5 3.2M1503.8 744.1l7.9 7.7M1528.2 727.5l5.4 9.6M1561.5 710l1.7 10.9M1490.1 753.2L1500.3 760.9M1662.4 767.8L1672.1 763.7M1670.7 783.5L1680.3 781M1677 821.7L1687.2 822.5" stroke="#111" stroke-width="0.7" fill="none"/>
<circle cx="1514.9" cy="906.6" r="1.2" fill="#111"/>
<text transform="translate(1499.5 765) rotate(30)" font-size="7.2">NDUFA11</text>
<text transform="translate(1644 780.7) rotate(-26)" font-size="7.2">OXSM</text>
<text transform="translate(1651.5 793.3) rotate(-17)" font-size="7.2">RPN1</text>
<text x="1643.2" y="823.3" font-size="7.2">SLC7A11</text>
<ellipse cx="1658.3" cy="820" rx="25.6" ry="12.9" fill="none" stroke="#d9261c" stroke-width="3.2"/>
</g>
<g id="pJ">
<path d="M1570.8 1034Q1613.2 1079.3 1673.6 1093.3M1570.8 1034Q1570.8 1152.7 1570.8 1271.4M1570.8 1034Q1560.1 1071.4 1540.1 1038M1601.5 1038Q1605.9 1107 1673.6 1093.3M1601.5 1038Q1608.4 1131 1685.5 1183.4M1601.5 1038Q1594.3 1146.4 1654.7 1236.6M1601.5 1038Q1570.8 1152.7 1540.1 1267.4M1601.5 1038Q1561.5 1148.9 1511.4 1255.5M1601.5 1038Q1549.5 1073.3 1486.9 1068.7M1630.2 1049.9Q1605.7 1152.7 1630.2 1255.5M1630.2 1049.9Q1554.3 1091 1468 1093.3M1654.7 1068.7Q1618.3 1146.4 1673.6 1212.1M1654.7 1068.7Q1626.4 1160 1630.2 1255.5M1654.7 1068.7Q1611.3 1163.6 1601.5 1267.4M1654.7 1068.7Q1596.1 1163.2 1570.8 1271.4M1654.7 1068.7Q1565.1 1109.5 1468 1093.3M1654.7 1068.7Q1588.4 1087 1540.1 1038M1673.6 1093.3Q1635.2 1135.4 1689.5 1152.7M1673.6 1093.3Q1615.9 1146.8 1685.5 1183.4M1673.6 1093.3Q1603.1 1171.3 1570.8 1271.4M1685.5 1122Q1655.6 1152.7 1685.5 1183.4M1685.5 1122Q1627.9 1160.2 1673.6 1212.1M1685.5 1122Q1632.1 1188.1 1601.5 1267.4M1689.5 1152.7Q1643.1 1182.6 1654.7 1236.6M1689.5 1152.7Q1583.5 1183.3 1486.9 1236.6M1689.5 1152.7Q1575.2 1169.1 1468 1212.1M1689.5 1152.7Q1572.3 1141.1 1456.1 1122M1689.5 1152.7Q1575 1137 1468 1093.3M1689.5 1152.7Q1587.9 1123.1 1511.4 1049.9M1689.5 1152.7Q1606.9 1105.7 1540.1 1038M1685.5 1183.4Q1642.7 1194.2 1654.7 1236.6M1685.5 1183.4Q1615.7 1187.1 1630.2 1255.5M1685.5 1183.4Q1619.3 1215.9 1570.8 1271.4M1685.5 1183.4Q1591.1 1126.2 1511.4 1049.9M1673.6 1212.1Q1613.7 1195.6 1630.2 1255.5M1673.6 1212.1Q1601.2 1205.4 1570.8 1271.4M1673.6 1212.1Q1593.2 1206.8 1540.1 1267.4M1673.6 1212.1Q1570.8 1152.7 1468 1093.3M1654.7 1236.6Q1564.5 1200.8 1468 1212.1M1654.7 1236.6Q1559 1196.6 1456.1 1183.4M1654.7 1236.6Q1592.6 1140.1 1540.1 1038M1630.2 1255.5Q1555.7 1209.1 1468 1212.1M1630.2 1255.5Q1553.5 1170 1468 1093.3M1630.2 1255.5Q1582.8 1147.7 1540.1 1038M1601.5 1267.4Q1536.9 1196.9 1452.1 1152.7M1601.5 1267.4Q1547.3 1176.2 1456.1 1122M1570.8 1271.4Q1559.4 1239.4 1540.1 1267.4M1570.8 1271.4Q1558.1 1200.2 1511.4 1255.5M1570.8 1271.4Q1547.3 1209.4 1486.9 1236.6M1570.8 1271.4Q1523.3 1214.6 1456.1 1183.4M1570.8 1271.4Q1531.3 1175.5 1468 1093.3M1570.8 1271.4Q1561.9 1153.9 1540.1 1038M1540.1 1267.4Q1545.2 1214.5 1511.4 1255.5M1540.1 1267.4Q1530.1 1163.6 1486.9 1068.7M1540.1 1267.4Q1552.1 1152.7 1540.1 1038M1511.4 1255.5Q1527 1178 1452.1 1152.7M1511.4 1255.5Q1517.2 1167 1468 1093.3M1486.9 1236.6Q1515.6 1195.1 1468 1212.1M1486.9 1236.6Q1514.3 1145.3 1511.4 1049.9M1468 1212.1Q1525 1165 1452.1 1152.7M1456.1 1183.4Q1525.3 1133.8 1511.4 1049.9M1486.9 1068.7Q1511 1074.7 1511.4 1049.9" stroke="#fcc8d8" stroke-width="0.5" fill="none" opacity="0.85"/>
<path d="M1570.8 1034Q1585.1 1099.3 1630.2 1049.9M1570.8 1034Q1603 1075 1654.7 1068.7M1570.8 1034Q1547.8 1139.4 1468 1212.1M1570.8 1034Q1524.8 1117.4 1456.1 1183.4M1570.8 1034Q1527.9 1078.5 1468 1093.3M1570.8 1034Q1552.4 1084.1 1511.4 1049.9M1601.5 1038Q1615 1076.2 1654.7 1068.7M1601.5 1038Q1627.3 1096.2 1685.5 1122M1601.5 1038Q1613.9 1134.9 1673.6 1212.1M1601.5 1038Q1602.3 1148.5 1630.2 1255.5M1601.5 1038Q1583.1 1154.3 1570.8 1271.4M1601.5 1038Q1547 1121.7 1452.1 1152.7M1601.5 1038Q1544.9 1090.1 1468 1093.3M1601.5 1038Q1570.8 1100 1540.1 1038M1630.2 1049.9Q1622.9 1084.8 1654.7 1068.7M1630.2 1049.9Q1617.6 1116.8 1685.5 1122M1630.2 1049.9Q1631.9 1117.4 1689.5 1152.7M1630.2 1049.9Q1612.1 1135.6 1685.5 1183.4M1630.2 1049.9Q1589.8 1157.8 1570.8 1271.4M1630.2 1049.9Q1570.8 1152.7 1511.4 1255.5M1630.2 1049.9Q1562.3 1146.2 1486.9 1236.6M1630.2 1049.9Q1553.7 1111.5 1456.1 1122M1630.2 1049.9Q1561.9 1085.2 1486.9 1068.7M1654.7 1068.7Q1588.9 1163.1 1540.1 1267.4M1654.7 1068.7Q1570.8 1152.7 1486.9 1236.6M1654.7 1068.7Q1566.4 1147 1468 1212.1M1654.7 1068.7Q1570.8 1101.9 1486.9 1068.7M1673.6 1093.3Q1620.2 1152.7 1673.6 1212.1M1673.6 1093.3Q1645.6 1162.5 1654.7 1236.6M1673.6 1093.3Q1567.1 1143.7 1456.1 1183.4M1673.6 1093.3Q1568.3 1133.6 1456.1 1122M1673.6 1093.3Q1570.8 1106.1 1468 1093.3M1673.6 1093.3Q1588.9 1085.2 1511.4 1049.9M1673.6 1093.3Q1601.2 1079.2 1540.1 1038M1685.5 1122Q1657.2 1141.3 1689.5 1152.7M1685.5 1122Q1628 1168 1654.7 1236.6M1685.5 1122Q1605.8 1179.5 1570.8 1271.4M1685.5 1122Q1592.7 1174.6 1540.1 1267.4M1685.5 1122Q1589.8 1177.5 1511.4 1255.5M1685.5 1122Q1569.6 1143.7 1452.1 1152.7M1685.5 1122Q1588.4 1110.2 1511.4 1049.9M1689.5 1152.7Q1623.2 1182.9 1630.2 1255.5M1689.5 1152.7Q1603.7 1177.9 1601.5 1267.4M1689.5 1152.7Q1602.7 1184.6 1570.8 1271.4M1689.5 1152.7Q1597.5 1187.5 1540.1 1267.4M1689.5 1152.7Q1570.8 1152.7 1452.1 1152.7M1689.5 1152.7Q1580.1 1130.3 1486.9 1068.7M1685.5 1183.4Q1573.4 1146.4 1468 1093.3M1673.6 1212.1Q1631.1 1199 1654.7 1236.6M1673.6 1212.1Q1580.7 1189.6 1511.4 1255.5M1673.6 1212.1Q1578.4 1210.1 1486.9 1236.6M1673.6 1212.1Q1565.9 1189.9 1456.1 1183.4M1673.6 1212.1Q1567.6 1160.5 1456.1 1122M1673.6 1212.1Q1575.3 1146.8 1486.9 1068.7M1673.6 1212.1Q1596 1133.3 1540.1 1038M1654.7 1236.6Q1606 1198.6 1630.2 1255.5M1654.7 1236.6Q1563.9 1164.7 1456.1 1122M1654.7 1236.6Q1562.8 1163.1 1468 1093.3M1654.7 1236.6Q1580.7 1145.1 1511.4 1049.9M1630.2 1255.5Q1594 1239.3 1570.8 1271.4M1630.2 1255.5Q1577.7 1205.1 1540.1 1267.4M1630.2 1255.5Q1559 1181.3 1456.1 1183.4M1630.2 1255.5Q1562.9 1158.8 1486.9 1068.7M1601.5 1267.4Q1570.8 1203.1 1540.1 1267.4M1601.5 1267.4Q1549 1234.1 1486.9 1236.6M1601.5 1267.4Q1540.3 1176.1 1468 1093.3M1570.8 1271.4Q1538.7 1166 1486.9 1068.7M1570.8 1271.4Q1556.1 1156.6 1511.4 1049.9M1540.1 1267.4Q1534.6 1215.4 1486.9 1236.6M1540.1 1267.4Q1530.4 1183.7 1452.1 1152.7M1540.1 1267.4Q1549.1 1155.5 1511.4 1049.9M1511.4 1255.5Q1524.3 1188.4 1456.1 1183.4M1486.9 1236.6Q1495.9 1162.6 1468 1093.3M1486.9 1236.6Q1529.4 1141.6 1540.1 1038M1456.1 1183.4Q1521.5 1159.2 1452.1 1152.7M1456.1 1183.4Q1484.5 1141.3 1468 1093.3M1456.1 1183.4Q1486.9 1130.2 1486.9 1068.7M1452.1 1152.7Q1516.3 1138.1 1468 1093.3M1456.1 1122Q1506.3 1115.5 1486.9 1068.7M1468 1093.3Q1523.6 1105.5 1511.4 1049.9M1468 1093.3Q1534.6 1105.6 1540.1 1038M1486.9 1068.7Q1540.3 1099.8 1540.1 1038M1511.4 1049.9Q1536.9 1070.8 1540.1 1038" stroke="#fcc8d8" stroke-width="0.9" fill="none" opacity="0.85"/>
<path d="M1570.8 1034Q1599.2 1130.9 1685.5 1183.4M1570.8 1034Q1595 1138.7 1673.6 1212.1M1601.5 1038Q1607.2 1064.8 1630.2 1049.9M1601.5 1038Q1616.4 1117.7 1689.5 1152.7M1601.5 1038Q1564.8 1107.2 1511.4 1049.9M1630.2 1049.9Q1626.5 1097 1673.6 1093.3M1630.2 1049.9Q1593.4 1155.7 1601.5 1267.4M1630.2 1049.9Q1579.6 1085.5 1540.1 1038M1654.7 1068.7Q1620.6 1123.9 1685.5 1122M1654.7 1068.7Q1635.5 1135.4 1685.5 1183.4M1654.7 1068.7Q1580.1 1159.8 1511.4 1255.5M1654.7 1068.7Q1579.6 1085.6 1511.4 1049.9M1673.6 1093.3Q1620 1165.9 1630.2 1255.5M1673.6 1093.3Q1616.3 1171.5 1601.5 1267.4M1673.6 1093.3Q1576.3 1159.9 1486.9 1236.6M1685.5 1122Q1582.9 1173.7 1486.9 1236.6M1685.5 1122Q1574.6 1161.9 1468 1212.1M1689.5 1152.7Q1585.2 1177.6 1511.4 1255.5M1685.5 1183.4Q1657.9 1188.8 1673.6 1212.1M1685.5 1183.4Q1582.3 1132.7 1486.9 1068.7M1685.5 1183.4Q1588.1 1135.4 1540.1 1038M1673.6 1212.1Q1585.6 1137.9 1511.4 1049.9M1654.7 1236.6Q1581 1230.5 1511.4 1255.5M1654.7 1236.6Q1570.8 1152.7 1486.9 1068.7M1601.5 1267.4Q1582.3 1239.8 1570.8 1271.4M1601.5 1267.4Q1564 1155.5 1511.4 1049.9M1601.5 1267.4Q1570.8 1152.7 1540.1 1038M1511.4 1255.5Q1526.2 1197.3 1468 1212.1M1511.4 1255.5Q1509.9 1160.7 1486.9 1068.7M1486.9 1236.6Q1504.4 1152.7 1486.9 1068.7M1456.1 1183.4Q1528.8 1128.5 1540.1 1038M1456.1 1122Q1513.8 1109 1511.4 1049.9" stroke="#fcc8d8" stroke-width="1.4" fill="none" opacity="0.85"/>
<path d="M1570.8 1034Q1579 1090.7 1601.5 1038M1570.8 1034Q1611.7 1111.8 1689.5 1152.7M1570.8 1034Q1603.1 1139.3 1654.7 1236.6M1601.5 1038Q1589.1 1152.7 1601.5 1267.4M1630.2 1049.9Q1613.6 1141.2 1673.6 1212.1M1630.2 1049.9Q1578.6 1155.9 1540.1 1267.4M1630.2 1049.9Q1552.9 1129.3 1456.1 1183.4M1630.2 1049.9Q1570.8 1099.1 1511.4 1049.9M1654.7 1068.7Q1611.5 1135.8 1689.5 1152.7M1654.7 1068.7Q1640.6 1152.7 1654.7 1236.6M1673.6 1093.3Q1636.9 1125.3 1685.5 1122M1673.6 1093.3Q1595.3 1171.5 1540.1 1267.4M1673.6 1093.3Q1576.2 1111.8 1486.9 1068.7M1685.5 1122Q1611 1169.3 1630.2 1255.5M1685.5 1122Q1570.8 1152.7 1456.1 1183.4M1685.5 1122Q1602.8 1097.3 1540.1 1038M1689.5 1152.7Q1572.1 1162.8 1456.1 1183.4M1685.5 1183.4Q1595.1 1194.9 1540.1 1267.4M1685.5 1183.4Q1589.6 1198.2 1511.4 1255.5M1685.5 1183.4Q1581.8 1193.8 1486.9 1236.6M1654.7 1236.6Q1590.8 1200.9 1570.8 1271.4M1654.7 1236.6Q1588.2 1217.7 1540.1 1267.4M1630.2 1255.5Q1561.6 1222.2 1486.9 1236.6M1601.5 1267.4Q1560.6 1229.9 1511.4 1255.5M1601.5 1267.4Q1553.1 1162.9 1486.9 1068.7M1570.8 1271.4Q1523.4 1189.1 1456.1 1122M1540.1 1267.4Q1513.3 1210.1 1456.1 1183.4M1511.4 1255.5Q1512.6 1228.5 1486.9 1236.6M1486.9 1236.6Q1515.7 1184.5 1456.1 1183.4M1468 1212.1Q1505.6 1179.7 1456.1 1183.4M1468 1093.3Q1530.8 1122 1486.9 1068.7" stroke="#fcc8d8" stroke-width="2.2" fill="none" opacity="0.85"/>
<path d="M1685.5 1122Q1573.6 1131.1 1468 1093.3M1689.5 1152.7Q1640.5 1161.9 1685.5 1183.4M1689.5 1152.7Q1626.8 1167.7 1673.6 1212.1M1654.7 1236.6Q1610.1 1220.7 1601.5 1267.4M1601.5 1267.4Q1578.2 1151.7 1570.8 1034M1601.5 1267.4Q1609 1202.5 1673.6 1212.1M1601.5 1267.4Q1602 1228 1630.2 1255.5M1540.1 1267.4Q1563.5 1151.7 1570.8 1034M1511.4 1255.5Q1550.7 1147.3 1570.8 1034M1511.4 1255.5Q1570.8 1232.2 1630.2 1255.5M1468 1212.1Q1570.8 1152.7 1673.6 1093.3M1468 1212.1Q1573.4 1172.7 1685.5 1183.4M1468 1212.1Q1553.1 1195.5 1601.5 1267.4M1468 1212.1Q1538.1 1209.3 1570.8 1271.4M1468 1212.1Q1523.3 1152.7 1468 1093.3M1468 1212.1Q1515.6 1137.9 1511.4 1049.9M1468 1212.1Q1517.2 1130.5 1540.1 1038M1456.1 1183.4Q1570.8 1167.6 1685.5 1183.4M1452.1 1152.7Q1528.8 1110.7 1570.8 1034M1452.1 1152.7Q1553.7 1123.1 1630.2 1049.9M1452.1 1152.7Q1569.6 1162 1685.5 1183.4M1452.1 1152.7Q1516.6 1121.4 1511.4 1049.9M1452.1 1152.7Q1519.5 1113.3 1540.1 1038M1456.1 1122Q1511.5 1093.4 1540.1 1038M1511.4 1049.9Q1570.8 1152.7 1630.2 1255.5" stroke="#5f8fd8" stroke-width="0.4" fill="none"/>
<path d="M1601.5 1267.4Q1605.1 1187 1685.5 1183.4M1468 1212.1Q1495.3 1142.7 1486.9 1068.7M1456.1 1183.4Q1561.8 1137.1 1654.7 1068.7M1452.1 1152.7Q1565.4 1132.6 1673.6 1093.3M1452.1 1152.7Q1565.5 1172.6 1673.6 1212.1M1452.1 1152.7Q1563.2 1170.9 1654.7 1236.6M1452.1 1152.7Q1510.1 1127.5 1486.9 1068.7M1456.1 1122Q1535.5 1091.6 1601.5 1038M1456.1 1122Q1488.5 1118.6 1468 1093.3M1511.4 1049.9Q1535.8 1152.7 1511.4 1255.5M1540.1 1038Q1540.9 1148.8 1511.4 1255.5" stroke="#5f8fd8" stroke-width="0.8" fill="none"/>
<path d="M1570.8 1024.4a9.62 9.62 0 0 0 0 19.24z" fill="#d9261c"/>
<path d="M1570.8 1024.4a9.62 9.62 0 0 1 0 19.24z" fill="#7fc31c"/>
<text class="sf" x="1573.8" y="1029.4" font-size="3.8" fill="#d9261c" font-weight="bold">FLNA</text>
<path d="M1601.5 1028.7a9.34 9.34 0 0 0 0 18.69z" fill="#d9261c"/>
<path d="M1601.5 1028.7a9.34 9.34 0 0 1 0 18.69z" fill="#7fc31c"/>
<text class="sf" x="1604.5" y="1033.7" font-size="3.8" fill="#d9261c" font-weight="bold">DSTN</text>
<path d="M1630.2 1040.3a9.62 9.62 0 0 0 0 19.24z" fill="#d9261c"/>
<path d="M1630.2 1040.3a9.62 9.62 0 0 1 0 19.24z" fill="#7fc31c"/>
<text class="sf" x="1633.2" y="1045.3" font-size="3.8" fill="#d9261c" font-weight="bold">CAPZB</text>
<path d="M1654.7 1064.1a4.67 4.67 0 0 0 0 9.34z" fill="#d9261c"/>
<path d="M1654.7 1064.1a4.67 4.67 0 0 1 0 9.34z" fill="#7fc31c"/>
<text class="sf" x="1657.7" y="1062.9" font-size="3.8" text-anchor="middle" fill="#d9261c" font-weight="bold">ACTB</text>
<path d="M1673.6 1088.7a4.67 4.67 0 0 0 0 9.34z" fill="#d9261c"/>
<path d="M1673.6 1088.7a4.67 4.67 0 0 1 0 9.34z" fill="#7fc31c"/>
<text class="sf" x="1676.6" y="1087.5" font-size="3.8" text-anchor="middle" fill="#d9261c" font-weight="bold">ACTN4</text>
<path d="M1685.5 1117.3a4.67 4.67 0 0 0 0 9.34z" fill="#d9261c"/>
<path d="M1685.5 1117.3a4.67 4.67 0 0 1 0 9.34z" fill="#9b3fc4"/>
<text class="sf" x="1688.5" y="1116.1" font-size="3.8" text-anchor="middle" fill="#d9261c" font-weight="bold">SLC3A2</text>
<path d="M1689.5 1148a4.67 4.67 0 0 0 0 9.34z" fill="#d9261c"/>
<path d="M1689.5 1148a4.67 4.67 0 0 1 0 9.34z" fill="#9b3fc4"/>
<text class="sf" x="1692.5" y="1146.8" font-size="3.8" text-anchor="middle" fill="#d9261c" font-weight="bold">LRPPRC</text>
<path d="M1685.5 1176.3a7.15 7.15 0 0 0 0 14.29z" fill="#a0a0a0"/>
<path d="M1685.5 1176.3a7.15 7.15 0 0 1 0 14.29z" fill="#7fc31c"/>
<text class="sf" x="1685.5" y="1195.1" font-size="3.6" text-anchor="middle" fill="#777">TLN1</text>
<path d="M1673.6 1206.3a5.77 5.77 0 0 0 0 11.54z" fill="#a0a0a0"/>
<path d="M1673.6 1206.3a5.77 5.77 0 0 1 0 11.54z" fill="#7fc31c"/>
<text class="sf" x="1673.6" y="1222.3" font-size="3.6" text-anchor="middle" fill="#777">PDLIM1</text>
<path d="M1654.7 1232a4.67 4.67 0 0 0 0 9.34z" fill="#a0a0a0"/>
<path d="M1654.7 1232a4.67 4.67 0 0 1 0 9.34z" fill="#7fc31c"/>
<text class="sf" x="1654.7" y="1245.8" font-size="3.6" text-anchor="middle" fill="#777">MYH9</text>
<path d="M1630.2 1250.8a4.67 4.67 0 0 0 0 9.34z" fill="#a0a0a0"/>
<path d="M1630.2 1250.8a4.67 4.67 0 0 1 0 9.34z" fill="#7fc31c"/>
<text class="sf" x="1630.2" y="1264.7" font-size="3.6" text-anchor="middle" fill="#777">MYL6</text>
<path d="M1601.5 1262.7a4.67 4.67 0 0 0 0 9.34z" fill="#a0a0a0"/>
<path d="M1601.5 1262.7a4.67 4.67 0 0 1 0 9.34z" fill="#9b3fc4"/>
<text class="sf" x="1601.5" y="1276.5" font-size="3.6" text-anchor="middle" fill="#777">CD2AP</text>
<path d="M1570.8 1265.6a5.77 5.77 0 0 0 0 11.54z" fill="#a0a0a0"/>
<path d="M1570.8 1265.6a5.77 5.77 0 0 1 0 11.54z" fill="#7fc31c"/>
<text class="sf" x="1570.8" y="1281.7" font-size="3.6" text-anchor="middle" fill="#777">NUBPL</text>
<path d="M1540.1 1262.7a4.67 4.67 0 0 0 0 9.34z" fill="#a0a0a0"/>
<path d="M1540.1 1262.7a4.67 4.67 0 0 1 0 9.34z" fill="#7fc31c"/>
<text class="sf" x="1540.1" y="1276.5" font-size="3.6" text-anchor="middle" fill="#777">NDUFS1</text>
<path d="M1511.4 1250.8a4.67 4.67 0 0 0 0 9.34z" fill="#a0a0a0"/>
<path d="M1511.4 1250.8a4.67 4.67 0 0 1 0 9.34z" fill="#9b3fc4"/>
<text class="sf" x="1511.4" y="1264.7" font-size="3.6" text-anchor="middle" fill="#777">NCKAP1</text>
<path d="M1486.9 1232a4.67 4.67 0 0 0 0 9.34z" fill="#a0a0a0"/>
<path d="M1486.9 1232a4.67 4.67 0 0 1 0 9.34z" fill="#7fc31c"/>
<text class="sf" x="1486.9" y="1245.8" font-size="3.6" text-anchor="middle" fill="#777">GYS1</text>
<path d="M1468 1204.9a7.15 7.15 0 0 0 0 14.29z" fill="#f07d0a"/>
<path d="M1468 1204.9a7.15 7.15 0 0 1 0 14.29z" fill="#9b3fc4"/>
<text class="sf" x="1468" y="1223.7" font-size="3.8" text-anchor="middle" fill="#f07d0a" font-weight="bold">SLC7A11</text>
<path d="M1456.1 1178.7a4.67 4.67 0 0 0 0 9.34z" fill="#f07d0a"/>
<path d="M1456.1 1178.7a4.67 4.67 0 0 1 0 9.34z" fill="#7fc31c"/>
<text class="sf" x="1456.1" y="1192.6" font-size="3.8" text-anchor="middle" fill="#f07d0a" font-weight="bold">RPN1</text>
<path d="M1452.1 1146.6a6.05 6.05 0 0 0 0 12.09z" fill="#f07d0a"/>
<path d="M1452.1 1146.6a6.05 6.05 0 0 1 0 12.09z" fill="#9b3fc4"/>
<text class="sf" x="1452.1" y="1145.4" font-size="3.8" text-anchor="middle" fill="#f07d0a" font-weight="bold">OXSM</text>
<path d="M1456.1 1112.3a9.62 9.62 0 0 0 0 19.24z" fill="#f07d0a"/>
<path d="M1456.1 1112.3a9.62 9.62 0 0 1 0 19.24z" fill="#9b3fc4"/>
<text class="sf" x="1456.1" y="1111.1" font-size="3.8" text-anchor="middle" fill="#f07d0a" font-weight="bold">NDUFA11</text>
<path d="M1468 1088.7a4.67 4.67 0 0 0 0 9.34z" fill="#d9261c"/>
<path d="M1468 1088.7a4.67 4.67 0 0 1 0 9.34z" fill="#7fc31c"/>
<text class="sf" x="1468" y="1087.5" font-size="3.8" text-anchor="middle" fill="#d9261c" font-weight="bold">MYH10</text>
<path d="M1486.9 1060.5a8.24 8.24 0 0 0 0 16.49z" fill="#d9261c"/>
<path d="M1486.9 1060.5a8.24 8.24 0 0 1 0 16.49z" fill="#7fc31c"/>
<text class="sf" x="1486.9" y="1065.5" font-size="3.8" fill="#d9261c" font-weight="bold">IQGAP1</text>
<path d="M1511.4 1045.2a4.67 4.67 0 0 0 0 9.34z" fill="#d9261c"/>
<path d="M1511.4 1045.2a4.67 4.67 0 0 1 0 9.34z" fill="#9b3fc4"/>
<text class="sf" x="1511.4" y="1044" font-size="3.8" text-anchor="middle" fill="#d9261c" font-weight="bold">INF2</text>
<path d="M1540.1 1033.3a4.67 4.67 0 0 0 0 9.34z" fill="#d9261c"/>
<path d="M1540.1 1033.3a4.67 4.67 0 0 1 0 9.34z" fill="#9b3fc4"/>
<text class="sf" x="1540.1" y="1032.1" font-size="3.8" text-anchor="middle" fill="#d9261c" font-weight="bold">FLNB</text>
<circle cx="1710" cy="1054.9" r="3.1" fill="#d9261c"/>
<text x="1720.2" y="1057.3" font-size="10.85">glmBoost+RF+N</text>
<circle cx="1710" cy="1067.8" r="3.1" fill="#f07d0a"/>
<text x="1720.2" y="1070.2" font-size="10.85">glmBoost+RF+T</text>
<circle cx="1710" cy="1079.9" r="3.1" fill="#a0a0a0"/>
<text x="1720.2" y="1082.3" font-size="10.85">other disulfidptosis−gene</text>
<circle cx="1738.6" cy="1214.8" r="2.8" fill="#9b3fc4"/>
<text x="1749.6" y="1218.6" font-size="11.9">Risk factors</text>
<circle cx="1738.6" cy="1229.1" r="2.8" fill="#7fc31c"/>
<text x="1749.6" y="1232.9" font-size="11.9">Favorable factors</text>
<path d="M1538.8 1303.3H1558.8" stroke="#fbc4d6" stroke-width="1"/>
<path d="M1538.8 1316.2H1558.8" stroke="#5f8fd8" stroke-width="1"/>
<text x="1567.6" y="1306.6" font-size="10.1">Postive correlation with P&lt;0.0001</text>
<text x="1567.6" y="1319.5" font-size="10.1">Negative correlation with P&lt;0.0001</text>
<text x="1629.5" y="1334.6" font-size="10.1" text-anchor="middle">Cox test, pvalue</text>
<circle cx="1518.2" cy="1347.3" r="10.17" fill="#000"/>
<text x="1528.3" y="1350.6" font-size="10.1">1e−04</text>
<circle cx="1565.4" cy="1347.3" r="8.79" fill="#000"/>
<text x="1575.6" y="1350.6" font-size="10.1">0.001</text>
<circle cx="1613" cy="1347.3" r="7.42" fill="#000"/>
<text x="1623.2" y="1350.6" font-size="10.1">0.01</text>
<circle cx="1660.5" cy="1347.3" r="6.05" fill="#000"/>
<text x="1670.7" y="1350.6" font-size="10.1">0.05</text>
<circle cx="1708.1" cy="1347.3" r="4.67" fill="#000"/>
<text x="1718.2" y="1350.6" font-size="10.1">1</text>
</g>
<g id="pUMAP">
<path d="M71 1466V1699.9M105.4 1466V1699.9M139.9 1466V1699.9M174.3 1466V1699.9M208.8 1466V1699.9M243.2 1466V1699.9M277.6 1466V1699.9M312.1 1466V1699.9M71 1699.9H312.1M71 1660.9H312.1M71 1621.9H312.1M71 1582.9H312.1M71 1543.9H312.1M71 1504.9H312.1M71 1466H312.1" stroke="#cfcfcf" stroke-width="0.8" fill="none"/>
<path d="M71 1621.9H312.1M174.3 1466V1699.9M71 1621.9v2M105.4 1621.9v2M139.9 1621.9v2M174.3 1621.9v2M208.8 1621.9v2M243.2 1621.9v2M277.6 1621.9v2M312.1 1621.9v2M174.3 1699.9h-2M174.3 1660.9h-2M174.3 1621.9h-2M174.3 1582.9h-2M174.3 1543.9h-2M174.3 1504.9h-2M174.3 1466h-2" stroke="#222" stroke-width="1" fill="none"/>
<text class="dj" x="71" y="1714.4" font-size="9.8" text-anchor="middle" fill="#333">-15</text>
<text class="dj" x="105.4" y="1714.4" font-size="9.8" text-anchor="middle" fill="#333">-10</text>
<text class="dj" x="139.9" y="1714.4" font-size="9.8" text-anchor="middle" fill="#333">-5</text>
<text class="dj" x="174.3" y="1714.4" font-size="9.8" text-anchor="middle" fill="#333">0</text>
<text class="dj" x="208.8" y="1714.4" font-size="9.8" text-anchor="middle" fill="#333">5</text>
<text class="dj" x="243.2" y="1714.4" font-size="9.8" text-anchor="middle" fill="#333">10</text>
<text class="dj" x="277.6" y="1714.4" font-size="9.8" text-anchor="middle" fill="#333">15</text>
<text class="dj" x="312.1" y="1714.4" font-size="9.8" text-anchor="middle" fill="#333">20</text>
<text class="dj" x="63.5" y="1702.7" font-size="9.8" text-anchor="end" fill="#333">-10</text>
<text class="dj" x="63.5" y="1663.7" font-size="9.8" text-anchor="end" fill="#333">-5</text>
<text class="dj" x="63.5" y="1624.7" font-size="9.8" text-anchor="end" fill="#333">0</text>
<text class="dj" x="63.5" y="1585.7" font-size="9.8" text-anchor="end" fill="#333">5</text>
<text class="dj" x="63.5" y="1546.7" font-size="9.8" text-anchor="end" fill="#333">10</text>
<text class="dj" x="63.5" y="1507.7" font-size="9.8" text-anchor="end" fill="#333">15</text>
<text class="dj" x="63.5" y="1468.8" font-size="9.8" text-anchor="end" fill="#333">20</text>
<text class="dj" x="174.3" y="1450" font-size="9.8" text-anchor="middle" fill="#333">UMAP_2</text>
<text class="dj" x="325.5" y="1624.4" font-size="9.8" fill="#333">UMAP_1</text>
<g transform="translate(174.3 1621.9) scale(1 1)" stroke-width="1.6" stroke-linejoin="round" filter="url(#ubump)">
<path d="M-32.3 -30.7L-25 -28.2L-20.1 -26.6L-16 -27.4L-13.5 -23.3L-9.5 -20.1L-6.2 -13.6L-5.4 -8.7L-1.3 -2.1L0.3 4.4L5.2 14.2L10.1 22.4L15 30.5L17.5 38.7L19.1 50.1L19.9 55L16.6 61.6L11.7 64.8L3.6 67.3L-2.9 69.7L-9.5 72.2L-16 73L-22.5 70.5L-29 67.3L-33.9 68.1L-40.5 63.2L-47 56.7L-52.7 51.8L-53.5 45.2L-51.9 40.3L-56 32.2L-57.6 20.7L-54.3 12.6L-51.1 4.4L-46.2 -0.5L-49.4 -3.8L-53.8 -6.2L-53.5 -9.5L-48.6 -10.3L-45.4 -15.2L-40.5 -21.7L-36.4 -28.2Z" fill="#6dd3d6" stroke="#6dd3d6"/>
<path d="M41.3 -12.7L40.7 -10.3L39.1 -8.4L36.7 -7.3L34.1 -7.3L31.7 -8.4L30.1 -10.3L29.5 -12.7L30.1 -15.1L31.7 -17.1L34.1 -18.1L36.7 -18.1L39.1 -17.1L40.7 -15.1ZM39.5 -11.9L47.6 -10L48.5 -7.8L40.3 -9Z" fill="#6dd3d6" stroke="#6dd3d6"/>
<path d="M11.7 -126.2L16.6 -123.8L19.9 -118L19.1 -109.9L16.6 -98.5L13.4 -90.3L8.5 -85.4L7.7 -79.7L5.2 -78L2.8 -83.8L-2.9 -85.4L-8.6 -87L-9.5 -95.2L-7.8 -103.4L-6.2 -111.5L-1.3 -118L5.2 -121.3ZM-29 -118.9L-22.5 -122.1L-12.7 -119.7L-6.2 -116.4L-4.6 -112.3L-12.7 -112.3L-19.3 -108.3L-24.1 -111.5L-26.6 -116.4Z" fill="#4178b0" stroke="#4178b0"/>
<path d="M-2.9 -129.1L-3.5 -126.5L-5.1 -124.3L-7.4 -123.1L-9.9 -123.1L-12.2 -124.3L-13.8 -126.5L-14.4 -129.1L-13.8 -131.8L-12.2 -134L-9.9 -135.2L-7.4 -135.2L-5.1 -134L-3.5 -131.8ZM-4.4 -123.3L-4.8 -122.2L-5.9 -121.8L-6.9 -122.2L-7.3 -123.3L-6.9 -124.3L-5.9 -124.7L-4.8 -124.3Z" fill="#8b86d6" stroke="#8b86d6"/>
<path d="M-45.4 -79.7L-46.4 -75.5L-49.4 -71.8L-53.9 -69.1L-59.5 -67.6L-65.5 -67.6L-71.1 -69.1L-75.6 -71.8L-78.6 -75.5L-79.6 -79.7L-78.6 -83.9L-75.6 -87.5L-71.1 -90.3L-65.5 -91.7L-59.5 -91.7L-53.9 -90.3L-49.4 -87.5L-46.4 -83.9Z" fill="#9a4b28" stroke="#9a4b28"/>
<path d="M-29.9 -77.2L-30.9 -75.3L-33.5 -74.1L-36.7 -74.1L-39.3 -75.3L-40.3 -77.2L-39.3 -79.1L-36.7 -80.3L-33.5 -80.3L-30.9 -79.1Z" fill="#a646c8" stroke="#a646c8"/>
<path d="M-2.9 -55.2L2.8 -55.2L5.2 -51.1L3.6 -44.6L2 -36.4L-0.5 -29.9L-6.2 -25L-9.5 -22.5L-11.9 -28.2L-11.1 -36.4L-7.8 -46.2L-5.4 -52.7ZM12.1 -45.4L11.4 -43.3L9.6 -42.5L7.9 -43.3L7.2 -45.4L7.9 -47.5L9.6 -48.3L11.4 -47.5ZM7.7 -38.9L7.1 -37.9L6 -37.9L5.4 -38.9L6 -39.8L7.1 -39.8ZM-10 -19.8L-10.5 -18.8L-11.7 -18.8L-12.2 -19.8L-11.7 -20.7L-10.5 -20.7Z" fill="#6aa820" stroke="#6aa820"/>
<path d="M22.8 -50.8L22.7 -49.3L21.3 -47.9L19.3 -47.4L18 -48.1L18.1 -49.6L19.5 -51L21.5 -51.5Z" fill="#b8305a" stroke="#b8305a"/>
<path d="M42.7 -72.3L49.3 -71.5L55.8 -72.3L62.3 -73.6L68 -70.7L68.8 -68.2L64 -65.8L62.3 -60.9L63.1 -52.7L62.3 -46.2L57.4 -39.7L50.9 -36.4L45.2 -37.2L43.6 -32.3L41.9 -31.5L41.1 -36.4L36.2 -39.7L33.8 -42.9L35.4 -47.8L38.7 -54.4L39.5 -62.5L40.3 -69.1ZM99.8 -38L101.5 -36.4L101.2 -28.2L102.3 -23.3L99.8 -13.6L96.6 -7.8L92.5 -3.8L89.2 1.1L86 2.8L84.3 -2.1L86 -10.3L88.4 -20.1L93.3 -26.6L97.4 -31.5Z" fill="#f57c20" stroke="#f57c20"/>
<path d="M79.5 -68.2L86.8 -70.4L90.9 -68.2L92.5 -64.2L90.9 -58.5L86.8 -54L84.3 -56L81.9 -62.5Z" fill="#e6283c" stroke="#e6283c"/>
<path d="M84.3 3.6L90.1 6L96.6 8.5L103.1 11.8L108.8 16.7L108 19.9L103.9 20.7L98.2 16.7L91.7 20.7L86 27.3L90.1 29.7L89.2 33L81.9 33.8L73.7 33L68 31.3L65.6 24L68 15.8L73.7 9.3L79.5 6Z" fill="#a88420" stroke="#a88420"/>
<path d="M68 31.3L73.7 33.8L81.9 34.1L79.5 45.2L76.2 56.7L73.7 56.7L71.3 45.2L68.8 37.1Z" fill="#c0dc30" stroke="#c0dc30"/>
</g>
<text class="dj" x="459.7" y="1469.1" font-size="9.8" text-anchor="end" fill="#333">B (164)</text>
<rect x="468.8" y="1461.8" width="13.2" height="8.8" rx="1.8" fill="#e6283c"/>
<text class="dj" x="459.7" y="1483.1" font-size="9.8" text-anchor="end" fill="#333">Endothelial (854)</text>
<rect x="468.8" y="1475.8" width="13.2" height="8.8" rx="1.8" fill="#4178b0"/>
<text class="dj" x="459.7" y="1497.1" font-size="9.8" text-anchor="end" fill="#333">Epithelial (292)</text>
<rect x="468.8" y="1489.8" width="13.2" height="8.8" rx="1.8" fill="#6aa820"/>
<text class="dj" x="459.7" y="1511.1" font-size="9.8" text-anchor="end" fill="#333">Fibroblast (52)</text>
<rect x="468.8" y="1503.8" width="13.2" height="8.8" rx="1.8" fill="#a646c8"/>
<text class="dj" x="459.7" y="1525.1" font-size="9.8" text-anchor="end" fill="#333">Malignant (6239)</text>
<rect x="468.8" y="1517.8" width="13.2" height="8.8" rx="1.8" fill="#6dd3d6"/>
<text class="dj" x="459.7" y="1539.1" font-size="9.8" text-anchor="end" fill="#333">Myeloid (856)</text>
<rect x="468.8" y="1531.8" width="13.2" height="8.8" rx="1.8" fill="#f57c20"/>
<text class="dj" x="459.7" y="1553.1" font-size="9.8" text-anchor="end" fill="#333">NK (812)</text>
<rect x="468.8" y="1545.8" width="13.2" height="8.8" rx="1.8" fill="#a88420"/>
<text class="dj" x="459.7" y="1567.1" font-size="9.8" text-anchor="end" fill="#333">Pericyte (81)</text>
<rect x="468.8" y="1559.8" width="13.2" height="8.8" rx="1.8" fill="#8b86d6"/>
<text class="dj" x="459.7" y="1581.1" font-size="9.8" text-anchor="end" fill="#333">T (161)</text>
<rect x="468.8" y="1573.8" width="13.2" height="8.8" rx="1.8" fill="#c0dc30"/>
<text class="dj" x="459.7" y="1595.1" font-size="9.8" text-anchor="end" fill="#333">Unknown (10)</text>
<rect x="468.8" y="1587.8" width="13.2" height="8.8" rx="1.8" fill="#b8305a"/>
<text class="dj" x="459.7" y="1609.1" font-size="9.8" text-anchor="end" fill="#333">myofibroblast (479)</text>
<rect x="468.8" y="1601.8" width="13.2" height="8.8" rx="1.8" fill="#9a4b28"/>
<path d="M572.4 1471.9V1705.2M606.8 1471.9V1705.2M641.2 1471.9V1705.2M675.6 1471.9V1705.2M710 1471.9V1705.2M744.4 1471.9V1705.2M778.8 1471.9V1705.2M813.2 1471.9V1705.2M572.4 1705.2H813.2M572.4 1666.3H813.2M572.4 1627.4H813.2M572.4 1588.5H813.2M572.4 1549.6H813.2M572.4 1510.7H813.2M572.4 1471.9H813.2" stroke="#cfcfcf" stroke-width="0.8" fill="none"/>
<path d="M572.4 1627.4H813.2M675.6 1471.9V1705.2M572.4 1627.4v2M606.8 1627.4v2M641.2 1627.4v2M675.6 1627.4v2M710 1627.4v2M744.4 1627.4v2M778.8 1627.4v2M813.2 1627.4v2M675.6 1705.2h-2M675.6 1666.3h-2M675.6 1627.4h-2M675.6 1588.5h-2M675.6 1549.6h-2M675.6 1510.7h-2M675.6 1471.9h-2" stroke="#222" stroke-width="1" fill="none"/>
<text class="dj" x="572.4" y="1719.7" font-size="9.8" text-anchor="middle" fill="#333">-15</text>
<text class="dj" x="606.8" y="1719.7" font-size="9.8" text-anchor="middle" fill="#333">-10</text>
<text class="dj" x="641.2" y="1719.7" font-size="9.8" text-anchor="middle" fill="#333">-5</text>
<text class="dj" x="675.6" y="1719.7" font-size="9.8" text-anchor="middle" fill="#333">0</text>
<text class="dj" x="710" y="1719.7" font-size="9.8" text-anchor="middle" fill="#333">5</text>
<text class="dj" x="744.4" y="1719.7" font-size="9.8" text-anchor="middle" fill="#333">10</text>
<text class="dj" x="778.8" y="1719.7" font-size="9.8" text-anchor="middle" fill="#333">15</text>
<text class="dj" x="813.2" y="1719.7" font-size="9.8" text-anchor="middle" fill="#333">20</text>
<text class="dj" x="564.9" y="1708" font-size="9.8" text-anchor="end" fill="#333">-10</text>
<text class="dj" x="564.9" y="1669.1" font-size="9.8" text-anchor="end" fill="#333">-5</text>
<text class="dj" x="564.9" y="1630.2" font-size="9.8" text-anchor="end" fill="#333">0</text>
<text class="dj" x="564.9" y="1591.3" font-size="9.8" text-anchor="end" fill="#333">5</text>
<text class="dj" x="564.9" y="1552.4" font-size="9.8" text-anchor="end" fill="#333">10</text>
<text class="dj" x="564.9" y="1513.5" font-size="9.8" text-anchor="end" fill="#333">15</text>
<text class="dj" x="564.9" y="1474.7" font-size="9.8" text-anchor="end" fill="#333">20</text>
<text class="dj" x="675.6" y="1455.9" font-size="9.8" text-anchor="middle" fill="#333">UMAP_2</text>
<text class="dj" x="826" y="1630.2" font-size="9.8" fill="#333">UMAP_1</text>
<text class="sf" x="734.3" y="1454.9" font-size="21.4" fill="#222">RPN1</text>
<g transform="translate(675.6 1627.4) scale(1 1)" fill="none" stroke-linecap="round" stroke-width="3.3" stroke-opacity="0.8">
<g filter="url(#ubump)" stroke-opacity="1"><use href="#uall" fill="#edbc8e" stroke="#edbc8e" stroke-width="1.6" stroke-linejoin="round"/>
<use href="#umal" fill="#ebb38a" stroke="#ebb38a" stroke-width="1.6" stroke-linejoin="round"/></g>
<use href="#um0" stroke="#f3d799"/>
<use href="#um1" stroke="#f2cf94"/>
<use href="#um2" stroke="#edbc8e"/>
<use href="#um3" stroke="#ebb38a"/>
<use href="#um4" stroke="#e8a987"/>
<use href="#um5" stroke="#e6a084"/>
<use href="#um6" stroke="#e29682"/>
<use href="#um7" stroke="#df8d7f"/>
<use href="#um8" stroke="#db837d"/>
<use href="#um9" stroke="#d47078"/>
<use href="#uo0" stroke="#f3da9b"/>
<use href="#uo1" stroke="#f2d396"/>
<use href="#uo2" stroke="#f2cf94"/>
<use href="#uo3" stroke="#f0c691"/>
<use href="#uo4" stroke="#edbc8e"/>
<use href="#uo5" stroke="#ebb38a"/>
<use href="#uo6" stroke="#e8a987"/>
<use href="#uo7" stroke="#e6a084"/>
<use href="#uo8" stroke="#e29682"/>
<use href="#uo9" stroke="#e19381"/>
<use href="#uo10" stroke="#df8d7f"/>
<use href="#uo11" stroke="#db837d"/>
<use href="#uo12" stroke="#d87a7a"/>
<use href="#uo13" stroke="#d47078"/>
<use href="#uo14" stroke="#cd6470"/>
<use href="#uo15" stroke="#c65868"/>
<use href="#ubr" stroke="#c65868" opacity="0.7"/>
</g>
<path d="M892.2 1471.9V1705.2M926.6 1471.9V1705.2M961 1471.9V1705.2M995.4 1471.9V1705.2M1029.8 1471.9V1705.2M1064.2 1471.9V1705.2M1098.6 1471.9V1705.2M1133 1471.9V1705.2M892.2 1705.2H1133M892.2 1666.3H1133M892.2 1627.4H1133M892.2 1588.5H1133M892.2 1549.6H1133M892.2 1510.7H1133M892.2 1471.9H1133" stroke="#cfcfcf" stroke-width="0.8" fill="none"/>
<path d="M892.2 1627.4H1133M995.4 1471.9V1705.2M892.2 1627.4v2M926.6 1627.4v2M961 1627.4v2M995.4 1627.4v2M1029.8 1627.4v2M1064.2 1627.4v2M1098.6 1627.4v2M1133 1627.4v2M995.4 1705.2h-2M995.4 1666.3h-2M995.4 1627.4h-2M995.4 1588.5h-2M995.4 1549.6h-2M995.4 1510.7h-2M995.4 1471.9h-2" stroke="#222" stroke-width="1" fill="none"/>
<text class="dj" x="892.2" y="1719.7" font-size="9.8" text-anchor="middle" fill="#333">-15</text>
<text class="dj" x="926.6" y="1719.7" font-size="9.8" text-anchor="middle" fill="#333">-10</text>
<text class="dj" x="961" y="1719.7" font-size="9.8" text-anchor="middle" fill="#333">-5</text>
<text class="dj" x="995.4" y="1719.7" font-size="9.8" text-anchor="middle" fill="#333">0</text>
<text class="dj" x="1029.8" y="1719.7" font-size="9.8" text-anchor="middle" fill="#333">5</text>
<text class="dj" x="1064.2" y="1719.7" font-size="9.8" text-anchor="middle" fill="#333">10</text>
<text class="dj" x="1098.6" y="1719.7" font-size="9.8" text-anchor="middle" fill="#333">15</text>
<text class="dj" x="1133" y="1719.7" font-size="9.8" text-anchor="middle" fill="#333">20</text>
<text class="dj" x="884.7" y="1708" font-size="9.8" text-anchor="end" fill="#333">10</text>
<text class="dj" x="884.7" y="1669.1" font-size="9.8" text-anchor="end" fill="#333">-5</text>
<text class="dj" x="884.7" y="1630.2" font-size="9.8" text-anchor="end" fill="#333">0</text>
<text class="dj" x="884.7" y="1591.3" font-size="9.8" text-anchor="end" fill="#333">5</text>
<text class="dj" x="884.7" y="1552.4" font-size="9.8" text-anchor="end" fill="#333">10</text>
<text class="dj" x="884.7" y="1513.5" font-size="9.8" text-anchor="end" fill="#333">15</text>
<text class="dj" x="884.7" y="1474.7" font-size="9.8" text-anchor="end" fill="#333">20</text>
<text class="dj" x="995.4" y="1455.9" font-size="9.8" text-anchor="middle" fill="#333">UMAP_2</text>
<text class="dj" x="1146.5" y="1630.2" font-size="9.8" fill="#333">U</text>
<text class="sf" x="1061" y="1454.9" font-size="21.4" fill="#222">NDUFA11</text>
<g transform="translate(995.4 1627.4) scale(1 1)" fill="none" stroke-linecap="round" stroke-width="3.3" stroke-opacity="0.8">
<g filter="url(#ubump)" stroke-opacity="1"><use href="#uall" fill="#f3dd9c" stroke="#f3dd9c" stroke-width="1.6" stroke-linejoin="round"/>
<use href="#umal" fill="#f2cf94" stroke="#f2cf94" stroke-width="1.6" stroke-linejoin="round"/></g>
<use href="#um0" stroke="#f4e6a2"/>
<use href="#um1" stroke="#f3de9d"/>
<use href="#um2" stroke="#f3d799"/>
<use href="#um3" stroke="#f2cf94"/>
<use href="#um4" stroke="#edbc8e"/>
<use href="#um5" stroke="#ebb38a"/>
<use href="#um6" stroke="#e8a987"/>
<use href="#um7" stroke="#e29682"/>
<use href="#um8" stroke="#db837d"/>
<use href="#um9" stroke="#d47078"/>
<use href="#uo0" stroke="#f4e6a2"/>
<use href="#uo1" stroke="#f4e6a2"/>
<use href="#uo2" stroke="#f4e6a2"/>
<use href="#uo3" stroke="#f4e6a2"/>
<use href="#uo4" stroke="#f4e2a0"/>
<use href="#uo5" stroke="#f3de9d"/>
<use href="#uo6" stroke="#f3d799"/>
<use href="#uo7" stroke="#f2cf94"/>
<use href="#uo8" stroke="#f0c691"/>
<use href="#uo9" stroke="#edbc8e"/>
<use href="#uo10" stroke="#e8a987"/>
<use href="#uo11" stroke="#e6a084"/>
<use href="#uo12" stroke="#e29682"/>
<use href="#uo13" stroke="#db837d"/>
<use href="#uo14" stroke="#d87a7a"/>
<use href="#uo15" stroke="#d47078"/>
<use href="#ubr" stroke="#d47078" opacity="0.7"/>
</g>
<path d="M1198.9 1469.5V1702.9M1233.3 1469.5V1702.9M1267.7 1469.5V1702.9M1302.1 1469.5V1702.9M1336.5 1469.5V1702.9M1370.9 1469.5V1702.9M1405.3 1469.5V1702.9M1439.7 1469.5V1702.9M1198.9 1702.9H1439.7M1198.9 1664H1439.7M1198.9 1625.1H1439.7M1198.9 1586.2H1439.7M1198.9 1547.3H1439.7M1198.9 1508.4H1439.7M1198.9 1469.5H1439.7" stroke="#cfcfcf" stroke-width="0.8" fill="none"/>
<path d="M1198.9 1625.1H1439.7M1302.1 1469.5V1702.9M1198.9 1625.1v2M1233.3 1625.1v2M1267.7 1625.1v2M1302.1 1625.1v2M1336.5 1625.1v2M1370.9 1625.1v2M1405.3 1625.1v2M1439.7 1625.1v2M1302.1 1702.9h-2M1302.1 1664h-2M1302.1 1625.1h-2M1302.1 1586.2h-2M1302.1 1547.3h-2M1302.1 1508.4h-2M1302.1 1469.5h-2" stroke="#222" stroke-width="1" fill="none"/>
<text class="dj" x="1198.9" y="1717.4" font-size="9.8" text-anchor="middle" fill="#333">-15</text>
<text class="dj" x="1233.3" y="1717.4" font-size="9.8" text-anchor="middle" fill="#333">-10</text>
<text class="dj" x="1267.7" y="1717.4" font-size="9.8" text-anchor="middle" fill="#333">-5</text>
<text class="dj" x="1302.1" y="1717.4" font-size="9.8" text-anchor="middle" fill="#333">0</text>
<text class="dj" x="1336.5" y="1717.4" font-size="9.8" text-anchor="middle" fill="#333">5</text>
<text class="dj" x="1370.9" y="1717.4" font-size="9.8" text-anchor="middle" fill="#333">10</text>
<text class="dj" x="1405.3" y="1717.4" font-size="9.8" text-anchor="middle" fill="#333">15</text>
<text class="dj" x="1439.7" y="1717.4" font-size="9.8" text-anchor="middle" fill="#333">20</text>
<text class="dj" x="1191.4" y="1705.7" font-size="9.8" text-anchor="end" fill="#333">-10</text>
<text class="dj" x="1191.4" y="1666.8" font-size="9.8" text-anchor="end" fill="#333">-5</text>
<text class="dj" x="1191.4" y="1627.9" font-size="9.8" text-anchor="end" fill="#333">0</text>
<text class="dj" x="1191.4" y="1589" font-size="9.8" text-anchor="end" fill="#333">5</text>
<text class="dj" x="1191.4" y="1550.1" font-size="9.8" text-anchor="end" fill="#333">10</text>
<text class="dj" x="1191.4" y="1511.2" font-size="9.8" text-anchor="end" fill="#333">15</text>
<text class="dj" x="1191.4" y="1472.3" font-size="9.8" text-anchor="end" fill="#333">20</text>
<text class="dj" x="1302.1" y="1453.5" font-size="9.8" text-anchor="middle" fill="#333">UMAP_2</text>
<text class="dj" x="1453.7" y="1627.9" font-size="9.8" fill="#333">UMAP_1</text>
<text class="sf" x="1362" y="1452.5" font-size="21.4" fill="#222">OXSM</text>
<g transform="translate(1302.1 1625.1) scale(1 1)" fill="none" stroke-linecap="round" stroke-width="3.3" stroke-opacity="0.8">
<g filter="url(#ubump)" stroke-opacity="1"><use href="#uall" fill="#f4e6a2" stroke="#f4e6a2" stroke-width="1.6" stroke-linejoin="round"/>
<use href="#umal" fill="#f3da9b" stroke="#f3da9b" stroke-width="1.6" stroke-linejoin="round"/></g>
<use href="#um0" stroke="#f4e6a2"/>
<use href="#um1" stroke="#f4e6a2"/>
<use href="#um2" stroke="#f4e2a0"/>
<use href="#um3" stroke="#f3de9d"/>
<use href="#um4" stroke="#f3d799"/>
<use href="#um5" stroke="#f2cf94"/>
<use href="#um6" stroke="#f0c691"/>
<use href="#um7" stroke="#ebb38a"/>
<use href="#um8" stroke="#e6a084"/>
<use href="#um9" stroke="#db837d"/>
<use href="#uo0" stroke="#f4e6a2"/>
<use href="#uo1" stroke="#f4e6a2"/>
<use href="#uo2" stroke="#f4e6a2"/>
<use href="#uo3" stroke="#f4e6a2"/>
<use href="#uo4" stroke="#f4e6a2"/>
<use href="#uo5" stroke="#f4e6a2"/>
<use href="#uo6" stroke="#f4e6a2"/>
<use href="#uo7" stroke="#f4e6a2"/>
<use href="#uo8" stroke="#f4e6a2"/>
<use href="#uo9" stroke="#f4e6a2"/>
<use href="#uo10" stroke="#f4e6a2"/>
<use href="#uo11" stroke="#f4e6a2"/>
<use href="#uo12" stroke="#f4e6a2"/>
<use href="#uo13" stroke="#f4e6a2"/>
<use href="#uo14" stroke="#f2cf94"/>
<use href="#uo15" stroke="#d87a7a"/>
</g>
<path d="M1522.2 1469.2V1702.3M1556.7 1469.2V1702.3M1591.2 1469.2V1702.3M1625.7 1469.2V1702.3M1660.2 1469.2V1702.3M1694.7 1469.2V1702.3M1729.2 1469.2V1702.3M1763.7 1469.2V1702.3M1522.2 1702.3H1763.7M1522.2 1663.4H1763.7M1522.2 1624.6H1763.7M1522.2 1585.8H1763.7M1522.2 1546.9H1763.7M1522.2 1508H1763.7M1522.2 1469.2H1763.7" stroke="#cfcfcf" stroke-width="0.8" fill="none"/>
<path d="M1522.2 1624.6H1763.7M1625.7 1469.2V1702.3M1522.2 1624.6v2M1556.7 1624.6v2M1591.2 1624.6v2M1625.7 1624.6v2M1660.2 1624.6v2M1694.7 1624.6v2M1729.2 1624.6v2M1763.7 1624.6v2M1625.7 1702.3h-2M1625.7 1663.4h-2M1625.7 1624.6h-2M1625.7 1585.8h-2M1625.7 1546.9h-2M1625.7 1508h-2M1625.7 1469.2h-2" stroke="#222" stroke-width="1" fill="none"/>
<text class="dj" x="1522.2" y="1716.8" font-size="9.8" text-anchor="middle" fill="#333">-15</text>
<text class="dj" x="1556.7" y="1716.8" font-size="9.8" text-anchor="middle" fill="#333">-10</text>
<text class="dj" x="1591.2" y="1716.8" font-size="9.8" text-anchor="middle" fill="#333">-5</text>
<text class="dj" x="1625.7" y="1716.8" font-size="9.8" text-anchor="middle" fill="#333">0</text>
<text class="dj" x="1660.2" y="1716.8" font-size="9.8" text-anchor="middle" fill="#333">5</text>
<text class="dj" x="1694.7" y="1716.8" font-size="9.8" text-anchor="middle" fill="#333">10</text>
<text class="dj" x="1729.2" y="1716.8" font-size="9.8" text-anchor="middle" fill="#333">15</text>
<text class="dj" x="1763.7" y="1716.8" font-size="9.8" text-anchor="middle" fill="#333">20</text>
<text class="dj" x="1514.7" y="1705.1" font-size="9.8" text-anchor="end" fill="#333">0</text>
<text class="dj" x="1514.7" y="1666.2" font-size="9.8" text-anchor="end" fill="#333">5</text>
<text class="dj" x="1514.7" y="1627.4" font-size="9.8" text-anchor="end" fill="#333">0</text>
<text class="dj" x="1514.7" y="1588.5" font-size="9.8" text-anchor="end" fill="#333">5</text>
<text class="dj" x="1514.7" y="1549.7" font-size="9.8" text-anchor="end" fill="#333">0</text>
<text class="dj" x="1514.7" y="1510.8" font-size="9.8" text-anchor="end" fill="#333">5</text>
<text class="dj" x="1514.7" y="1472" font-size="9.8" text-anchor="end" fill="#333">0</text>
<text class="dj" x="1625.7" y="1453.2" font-size="9.8" text-anchor="middle" fill="#333">UMAP_2</text>
<text class="dj" x="1776.5" y="1627.4" font-size="9.8" fill="#333">UMAP_1</text>
<text class="sf" x="1679" y="1452.2" font-size="21.4" fill="#222">SLC7A11</text>
<g transform="translate(1625.7 1624.6) scale(1 1)" fill="none" stroke-linecap="round" stroke-width="3.3" stroke-opacity="0.8">
<g filter="url(#ubump)" stroke-opacity="1"><use href="#uall" fill="#f4e6a2" stroke="#f4e6a2" stroke-width="1.6" stroke-linejoin="round"/>
<use href="#umal" fill="#f3d799" stroke="#f3d799" stroke-width="1.6" stroke-linejoin="round"/></g>
<use href="#um0" stroke="#f4e6a2"/>
<use href="#um1" stroke="#f4e2a0"/>
<use href="#um2" stroke="#f3de9d"/>
<use href="#um3" stroke="#f3d799"/>
<use href="#um4" stroke="#f2cf94"/>
<use href="#um5" stroke="#f0c691"/>
<use href="#um6" stroke="#edbc8e"/>
<use href="#um7" stroke="#e8a987"/>
<use href="#um8" stroke="#e6a084"/>
<use href="#um9" stroke="#df8d7f"/>
<use href="#uo0" stroke="#f4e6a2"/>
<use href="#uo1" stroke="#f4e6a2"/>
<use href="#uo2" stroke="#f4e6a2"/>
<use href="#uo3" stroke="#f4e6a2"/>
<use href="#uo4" stroke="#f4e6a2"/>
<use href="#uo5" stroke="#f4e6a2"/>
<use href="#uo6" stroke="#f4e6a2"/>
<use href="#uo7" stroke="#f4e6a2"/>
<use href="#uo8" stroke="#f4e6a2"/>
<use href="#uo9" stroke="#f4e6a2"/>
<use href="#uo10" stroke="#f4e6a2"/>
<use href="#uo11" stroke="#f4e6a2"/>
<use href="#uo12" stroke="#f4e6a2"/>
<use href="#uo13" stroke="#f4e6a2"/>
<use href="#uo14" stroke="#f2d396"/>
<use href="#uo15" stroke="#db837d"/>
<use href="#utop" stroke="#da7f7c" opacity="0.8"/>
</g>
<path d="M1594.6 1585L1615.4 1606.8L1630.5 1630.7L1640.5 1650.7L1641.8 1670.8L1648 1677L1641.8 1688.3L1630.5 1690.8L1624.2 1698.3L1610.4 1698.3L1595.4 1693.3L1582.9 1688.3L1567.8 1674.5L1566.6 1635.7L1572.8 1623.1Z" fill="none" stroke="#111" stroke-width="3.1" stroke-dasharray="6.5 4"/>
<rect x="1833" y="1445.2" width="18" height="115.3" fill="url(#umg)"/>
<text class="dj" x="1842" y="1434.5" font-size="9.8" text-anchor="middle" fill="#333">2.44</text>
<text class="dj" x="1842" y="1576" font-size="9.8" text-anchor="middle" fill="#333">0</text>
</g>
<g id="pP">
<g clip-path="url(#pc1)">
<rect x="0" y="1795.2" width="221.6" height="158.8" filter="url(#pf1)"/>
<g filter="url(#pdis)" fill="#fdfcfa"><ellipse cx="15.3" cy="1801.1" rx="18.1" ry="6.3"/><ellipse cx="65.4" cy="1805.3" rx="32" ry="11.1"/><ellipse cx="19.5" cy="1848.5" rx="14.6" ry="18.8" transform="rotate(15 19.5 1848.5)"/><ellipse cx="55.7" cy="1835.9" rx="18.8" ry="18.1" transform="rotate(-10 55.7 1835.9)"/><ellipse cx="83.5" cy="1819.2" rx="7.7" ry="9"/><ellipse cx="41.8" cy="1879.1" rx="11.1" ry="18.1"/><ellipse cx="133.7" cy="1890.2" rx="20.9" ry="23.7" transform="rotate(20 133.7 1890.2)"/><ellipse cx="172.6" cy="1830.4" rx="14.6" ry="11.1"/><ellipse cx="197.7" cy="1834.6" rx="10.4" ry="14.6"/><ellipse cx="194.9" cy="1881.9" rx="13.9" ry="18.1"/><ellipse cx="193.5" cy="1913.9" rx="20.9" ry="13.9" transform="rotate(10 193.5 1913.9)"/><ellipse cx="97.5" cy="1927.8" rx="8.4" ry="9.7"/><ellipse cx="122.5" cy="1936.2" rx="13.9" ry="8.4"/><ellipse cx="90.5" cy="1942.5" rx="5.6" ry="7"/><ellipse cx="139.2" cy="1852.7" rx="7" ry="10.4" transform="rotate(30 139.2 1852.7)"/><ellipse cx="160.1" cy="1865.2" rx="5.6" ry="9"/><ellipse cx="119.7" cy="1822" rx="13.9" ry="9"/><ellipse cx="64" cy="1890.2" rx="4.9" ry="9"/><ellipse cx="72.4" cy="1919.5" rx="5.6" ry="9"/><ellipse cx="129.5" cy="1895.8" rx="10.4" ry="16" transform="rotate(20 129.5 1895.8)" fill="#ebe6dc"/><ellipse cx="217.2" cy="1945.9" rx="20.9" ry="13.9" transform="rotate(-40 217.2 1945.9)"/><ellipse cx="8.4" cy="1923.7" rx="48.7" ry="36.2" transform="rotate(-30 8.4 1923.7)" fill="#e6e4e8" opacity="0.4"/></g>
</g>
<g clip-path="url(#pc2)">
<rect x="226.4" y="1795.2" width="222.2" height="158.8" filter="url(#pf2)"/>
<g filter="url(#pdis2)" fill="#fdfcfa"><path fill-rule="evenodd" d="M225 1790L322.5 1790L314.1 1810.9L303 1829L300.2 1848.5L294.6 1868L303 1887.5L308.5 1901.4L294.6 1918.1L286.3 1929.2L270.9 1955.7L225 1955.7ZM218 1809.5a23.7 16 0 1 0 47.3 0a23.7 16 0 1 0 -47.3 0ZM220.8 1927.8a27.8 19.5 0 1 0 55.7 0a27.8 19.5 0 1 0 -55.7 0Z"/><ellipse cx="346.1" cy="1822" rx="10.4" ry="18.1" transform="rotate(15 346.1 1822)"/><ellipse cx="418.5" cy="1869.4" rx="18.1" ry="7.7" transform="rotate(-15 418.5 1869.4)"/><ellipse cx="419.9" cy="1923.7" rx="25.1" ry="26.5" fill="#f2eee6"/><ellipse cx="365.6" cy="1932" rx="7" ry="22.3" transform="rotate(-10 365.6 1932)"/><ellipse cx="340.6" cy="1941.8" rx="8.4" ry="10.4" fill="#f0ebe2"/><ellipse cx="314.1" cy="1943.1" rx="4.9" ry="11.1"/><ellipse cx="238.9" cy="1855.4" rx="15.3" ry="15.3" fill="#efe9e0"/><ellipse cx="262.6" cy="1881.9" rx="7" ry="4.9" transform="rotate(-30 262.6 1881.9)" fill="#ebe4da"/><ellipse cx="276.5" cy="1888.8" rx="6.3" ry="3.5" transform="rotate(-10 276.5 1888.8)" fill="#ece6dc"/></g>
</g>
<g clip-path="url(#pc3)">
<rect x="455.4" y="1795.2" width="231.4" height="158.8" filter="url(#pf3)"/>
<g filter="url(#pdis)" fill="#fdfcfa"><path d="M455 1790H516.4L515.3 1844.3L517.2 1900.4L514.4 1953.8V1960H455Z"/><path d="M690 1790H619.8L626.8 1804.9L633.8 1816.2L632.4 1852.7L636.6 1878L633.8 1917.3L626.8 1953.8V1960H690Z"/><ellipse cx="552.4" cy="1918.7" rx="16.9" ry="1.7" transform="rotate(20 552.4 1918.7)"/></g>
</g>
<g clip-path="url(#pc4)">
<rect x="693.6" y="1794.4" width="230.4" height="159.6" filter="url(#pf4)"/>
<g filter="url(#pdis)" fill="#fdfcfa"><ellipse cx="719.1" cy="1884.4" rx="26.2" ry="6.9" transform="rotate(15 719.1 1884.4)"/><ellipse cx="777.2" cy="1909.9" rx="13.8" ry="6.2" transform="rotate(20 777.2 1909.9)"/><ellipse cx="825.1" cy="1933.1" rx="26.2" ry="6.9" transform="rotate(18 825.1 1933.1)"/><ellipse cx="868.7" cy="1858.3" rx="9.4" ry="2.9" transform="rotate(35 868.7 1858.3)"/></g>
</g>
<g clip-path="url(#pc5)">
<rect x="930" y="1793" width="232.6" height="161" filter="url(#pf5)"/>
<g filter="url(#pdis)" fill="#fdfcfa"><ellipse cx="1013.8" cy="1868.1" rx="16.2" ry="19" fill="#d0b98c" opacity="0.8"/><ellipse cx="996.9" cy="1903.2" rx="11.9" ry="19.7" fill="#d4be94" opacity="0.8"/><ellipse cx="1147.2" cy="1894.8" rx="16.2" ry="29.5" fill="#d0b98c" opacity="0.8"/><ellipse cx="967.4" cy="1813.4" rx="12.6" ry="15.4" fill="#d2bc90" opacity="0.7"/><ellipse cx="1037.6" cy="1804.9" rx="14" ry="11.2" fill="#d2bc90" opacity="0.7"/><ellipse cx="1130.3" cy="1819" rx="32.3" ry="21.1" transform="rotate(-10 1130.3 1819)"/><ellipse cx="1147.2" cy="1802.1" rx="16.9" ry="12.6"/><ellipse cx="1102.2" cy="1941.2" rx="8.4" ry="8.4"/><ellipse cx="1013.8" cy="1868.1" rx="7" ry="8.4" fill="#f3eee4"/><ellipse cx="996.9" cy="1903.2" rx="5.6" ry="11.2" fill="#f6f2ea"/><ellipse cx="1147.2" cy="1894.8" rx="7" ry="18.3" fill="#f3eee4"/><ellipse cx="1046.1" cy="1925.7" rx="16.9" ry="3.5" transform="rotate(-50 1046.1 1925.7)"/><ellipse cx="950.6" cy="1921.5" rx="7" ry="7" fill="#f3eee4"/><ellipse cx="944.9" cy="1799.3" rx="15.4" ry="2.8" transform="rotate(-20 944.9 1799.3)"/><ellipse cx="1082.6" cy="1878" rx="3.5" ry="9.8"/></g>
</g>
<g clip-path="url(#pc6)">
<rect x="1167.4" y="1793" width="231.8" height="161" filter="url(#pf6)"/>
<g filter="url(#pdis)" fill="#fdfcfa"><ellipse cx="1180.9" cy="1872.4" rx="21.1" ry="73" transform="rotate(-8 1180.9 1872.4)" fill="#d6c096" opacity="0.9"/><ellipse cx="1176.7" cy="1880.8" rx="12.6" ry="46.3" transform="rotate(-8 1176.7 1880.8)" fill="#efe6d4"/><ellipse cx="1214.6" cy="1852.7" rx="4.2" ry="59" transform="rotate(-22 1214.6 1852.7)" fill="#f4f0e8"/><path d="M1352.6 1923.3q-8 2.6 0.9 18.2M1286.4 1914q-3.6 4.8 10.2 24.3M1339.6 1862.1q-4.9 0.9 -3 24.7M1355.1 1839.8q5.5 -2.6 -20.4 14.5M1209.1 1920q-6.5 -4.8 -17.3 12.2M1320.2 1843.7q-4.8 2.5 -23.1 3.6M1263.9 1939.9q2.3 3.2 -21.3 6.2M1355.1 1946.5q1.6 -3.1 19.7 1.8M1310.8 1813.5q-6.1 2.6 -20.8 8.2M1254 1829.4q-4.6 5.8 0.8 16.2M1333.1 1801.9q-2.7 6.5 -10.9 9.2M1317.2 1845.9q-6 8 7.6 18.7M1201 1863.4q7.7 -4.1 -14.2 14.6M1390.7 1933.8q-0.8 5.3 -14.4 24.3M1353.2 1877.5q-1.5 -6.6 2.3 25.2M1343 1839.9q-5.2 -7.7 1 26.5M1215.3 1888.4q-0.8 6.8 7.7 16.4M1242.2 1861.6q-3.7 -0.4 -22.1 8.8M1288.1 1821.3q4.9 -2.8 7.1 17.5M1325.1 1945.6q1.6 -2.9 -19.4 4.8M1271.6 1873.2q-3.3 -7.9 -23.1 17.5M1282.1 1808.6q-6.2 3.5 26.3 2.5M1264.2 1940.8q-4.9 7.2 -13.4 6.7M1315.8 1863.3q-0.1 -0.5 -20.9 17.1M1210.5 1854.3q1.7 -5.7 21.6 10.6M1318.7 1814.6q-0.6 6.4 23 7.9" fill="none" stroke="#f3efe6" stroke-width="3.2" stroke-linecap="round"/></g>
</g>
<g clip-path="url(#pc7)">
<rect x="1401.8" y="1793" width="224.8" height="161" filter="url(#pf7)"/>
<g filter="url(#pdis)" fill="#fdfcfa"><ellipse cx="1590.8" cy="1852.7" rx="12.6" ry="32.3" transform="rotate(5 1590.8 1852.7)"/><ellipse cx="1595" cy="1883.6" rx="8.4" ry="8.4"/><ellipse cx="1492.5" cy="1802.1" rx="12.6" ry="9.8"/><ellipse cx="1464.4" cy="1795.1" rx="8.4" ry="4.2"/><ellipse cx="1620.3" cy="1824.6" rx="4.2" ry="30.9"/><ellipse cx="1409.1" cy="1841.5" rx="5.6" ry="4.9"/><ellipse cx="1434.9" cy="1816.2" rx="3.1" ry="4.2"/><ellipse cx="1465.8" cy="1812" rx="3.1" ry="6.3" transform="rotate(-15 1465.8 1812)"/><ellipse cx="1551.5" cy="1834.4" rx="3.5" ry="7" transform="rotate(20 1551.5 1834.4)"/><ellipse cx="1552.9" cy="1866.7" rx="2.5" ry="7" transform="rotate(10 1552.9 1866.7)"/><ellipse cx="1565.5" cy="1879.4" rx="3.1" ry="5.6"/><ellipse cx="1484.1" cy="1913.1" rx="7" ry="12.6" transform="rotate(10 1484.1 1913.1)"/><ellipse cx="1519.2" cy="1913.1" rx="4.2" ry="5.6"/><ellipse cx="1530.4" cy="1931.3" rx="4.2" ry="7"/><ellipse cx="1558.5" cy="1900.4" rx="5.6" ry="4.2"/><ellipse cx="1567" cy="1925.7" rx="3.1" ry="5.6"/><ellipse cx="1603.5" cy="1939.8" rx="7" ry="3.5" transform="rotate(30 1603.5 1939.8)"/><ellipse cx="1611.9" cy="1880.8" rx="3.5" ry="4.9"/><ellipse cx="1520.6" cy="1876.6" rx="2.8" ry="2.8"/><ellipse cx="1477.6" cy="1830.2" rx="4.2" ry="2.8" transform="rotate(30 1477.6 1830.2)"/><ellipse cx="1590.8" cy="1852.7" rx="4.9" ry="8.4" fill="#b8864a"/></g>
</g>
<g clip-path="url(#pc8)">
<rect x="1630.2" y="1793" width="223.8" height="161" filter="url(#pf8)"/>
<g filter="url(#pdis)" fill="#fdfcfa"><ellipse cx="1808.5" cy="1859.7" rx="11.2" ry="9.1" transform="rotate(20 1808.5 1859.7)"/><ellipse cx="1710.2" cy="1802.1" rx="3.5" ry="4.9"/><ellipse cx="1721.4" cy="1889.2" rx="6.3" ry="5.6"/><ellipse cx="1670.9" cy="1945.4" rx="15.4" ry="7" transform="rotate(-20 1670.9 1945.4)"/><ellipse cx="1673.7" cy="1897.6" rx="3.5" ry="4.2"/><ellipse cx="1802.9" cy="1810.6" rx="2.8" ry="3.5"/><ellipse cx="1811.3" cy="1827.4" rx="2.8" ry="3.5"/><ellipse cx="1769.2" cy="1939.8" rx="12.6" ry="19.7" transform="rotate(-20 1769.2 1939.8)" fill="#c9b8a0" opacity="0.7"/><ellipse cx="1683.7" cy="1944.2" rx="1.8" ry="2.9" fill="#ead9b8" opacity="0.85"/><ellipse cx="1653.3" cy="1834.9" rx="3.5" ry="1.9" fill="#ead9b8" opacity="0.85"/><ellipse cx="1773" cy="1867.2" rx="2.4" ry="2.5" fill="#ead9b8" opacity="0.85"/><ellipse cx="1676.3" cy="1924.1" rx="1.7" ry="2" fill="#ead9b8" opacity="0.85"/><ellipse cx="1639.3" cy="1837.8" rx="2.3" ry="3.3" fill="#ead9b8" opacity="0.85"/><ellipse cx="1716.5" cy="1814.4" rx="2" ry="3.5" fill="#ead9b8" opacity="0.85"/><ellipse cx="1648.6" cy="1891.9" rx="2.3" ry="2.8" fill="#ead9b8" opacity="0.85"/><ellipse cx="1707.8" cy="1902.8" rx="2.5" ry="2.8" fill="#ead9b8" opacity="0.85"/><ellipse cx="1828.8" cy="1886" rx="1.8" ry="1.6" fill="#ead9b8" opacity="0.85"/><ellipse cx="1838.4" cy="1871.8" rx="1.9" ry="3.4" fill="#ead9b8" opacity="0.85"/><ellipse cx="1759.5" cy="1908.5" rx="3.3" ry="2.1" fill="#ead9b8" opacity="0.85"/><ellipse cx="1711.7" cy="1931.3" rx="1.8" ry="3" fill="#ead9b8" opacity="0.85"/><ellipse cx="1656" cy="1902.6" rx="2.9" ry="3.4" fill="#ead9b8" opacity="0.85"/><ellipse cx="1816.4" cy="1874.1" rx="1.9" ry="1.8" fill="#ead9b8" opacity="0.85"/><ellipse cx="1748.7" cy="1875" rx="1.6" ry="3.3" fill="#ead9b8" opacity="0.85"/><ellipse cx="1744.1" cy="1904.3" rx="1.9" ry="2" fill="#ead9b8" opacity="0.85"/><ellipse cx="1637.6" cy="1849.5" rx="2" ry="2.3" fill="#ead9b8" opacity="0.85"/><ellipse cx="1716" cy="1924.7" rx="3.3" ry="1.9" fill="#ead9b8" opacity="0.85"/><ellipse cx="1720.2" cy="1822.4" rx="2.8" ry="3.4" fill="#ead9b8" opacity="0.85"/><ellipse cx="1678.4" cy="1914.3" rx="2.1" ry="1.5" fill="#ead9b8" opacity="0.85"/><ellipse cx="1799.3" cy="1849.3" rx="1.8" ry="2.4" fill="#ead9b8" opacity="0.85"/><ellipse cx="1684.8" cy="1859.7" rx="2.4" ry="2.3" fill="#ead9b8" opacity="0.85"/><ellipse cx="1761.5" cy="1841.2" rx="1.7" ry="1.7" fill="#ead9b8" opacity="0.85"/><ellipse cx="1657.9" cy="1876.7" rx="2.2" ry="3.1" fill="#ead9b8" opacity="0.85"/><ellipse cx="1743.6" cy="1905.4" rx="3.5" ry="1.6" fill="#ead9b8" opacity="0.85"/><ellipse cx="1638.6" cy="1818.5" rx="2.3" ry="2.6" fill="#ead9b8" opacity="0.85"/><ellipse cx="1794.9" cy="1850.8" rx="3.4" ry="1.5" fill="#ead9b8" opacity="0.85"/><ellipse cx="1814.7" cy="1829.1" rx="3.3" ry="1.6" fill="#ead9b8" opacity="0.85"/><ellipse cx="1842.5" cy="1913.2" rx="3.5" ry="2.7" fill="#ead9b8" opacity="0.85"/><ellipse cx="1673.2" cy="1945.4" rx="2.4" ry="1.7" fill="#ead9b8" opacity="0.85"/><ellipse cx="1765.2" cy="1873.1" rx="2.4" ry="1.8" fill="#ead9b8" opacity="0.85"/><ellipse cx="1661.2" cy="1885.9" rx="2.4" ry="1.8" fill="#ead9b8" opacity="0.85"/><ellipse cx="1729.5" cy="1908" rx="2.9" ry="2.4" fill="#ead9b8" opacity="0.85"/><ellipse cx="1719.7" cy="1852.2" rx="2" ry="1.9" fill="#ead9b8" opacity="0.85"/><ellipse cx="1730.9" cy="1813.6" rx="3" ry="2.9" fill="#ead9b8" opacity="0.85"/><ellipse cx="1766.5" cy="1800.5" rx="2.2" ry="2.4" fill="#ead9b8" opacity="0.85"/><ellipse cx="1655.1" cy="1945.1" rx="3" ry="2.5" fill="#ead9b8" opacity="0.85"/><ellipse cx="1786.6" cy="1827.7" rx="2" ry="2.6" fill="#ead9b8" opacity="0.85"/><ellipse cx="1794.9" cy="1896" rx="1.5" ry="2.7" fill="#ead9b8" opacity="0.85"/><ellipse cx="1830.4" cy="1910.7" rx="3.4" ry="3.5" fill="#ead9b8" opacity="0.85"/></g>
</g>
<path d="M35.7 1858.9H89V1899.6H35.7ZM89 1858.9L221.8 1795.2M89 1899.6L221.8 1954" fill="none" stroke="#111" stroke-width="2.1" stroke-dasharray="5 3"/>
<path d="M531.3 1891.2H590.8V1933.3H531.3ZM590.8 1891.2L686.6 1796M590.8 1933.3L686.6 1954" fill="none" stroke="#111" stroke-width="2.1" stroke-dasharray="5 3"/>
<path d="M1020.8 1851.8H1076.1V1889.2H1020.8ZM1076.1 1851.8L1162.5 1793M1076.1 1889.2L1162.5 1954" fill="none" stroke="#111" stroke-width="2.1" stroke-dasharray="5 3"/>
<path d="M1477.6 1859.7H1533.8V1900.4H1477.6ZM1533.8 1859.7L1626.5 1793M1533.8 1900.4L1626.5 1953" fill="none" stroke="#111" stroke-width="2.1" stroke-dasharray="5 3"/>
<text class="sf" x="222" y="1777.3" font-size="16.4" text-anchor="middle">BP</text>
<text class="sf" x="696" y="1777.3" font-size="16.4" text-anchor="middle">Gleason &lt; 7</text>
<text class="sf" x="1151.5" y="1777.3" font-size="16.4" text-anchor="middle">Gleason = 7</text>
<text class="sf" x="1622.3" y="1776.3" font-size="16.4" text-anchor="middle">Gleason &gt; 7</text>
</g>
<g id="pQST">
<rect x="143.4" y="2369.8" width="48.8" height="30.8" fill="#0a0806"/>
<path d="M218.9 2400.7V2326H264.2V2400.7" fill="#a5a3a6" stroke="#000" stroke-width="3.2"/>
<path d="M293.1 2400.7V2249.1H338.4V2400.7" fill="#858180" stroke="#000" stroke-width="3.2"/>
<path d="M367 2400.7V2157.2H412.3V2400.7" fill="#d9d9d9" stroke="#000" stroke-width="3.2"/>
<path d="M167.8 2370.8V2347.5M155.9 2347.5H179.7" stroke="#000" stroke-width="1.0" fill="none"/>
<path d="M242 2325.4V2321M230.5 2321H253.6" stroke="#000" stroke-width="1.0" fill="none"/>
<path d="M315.6 2248.5V2227.8M303.6 2227.8H327.6" stroke="#000" stroke-width="1.0" fill="none"/>
<path d="M389.8 2156.6V2143.1M378 2143.1H401.7" stroke="#000" stroke-width="1.0" fill="none"/>
<path d="M118 2078.6V2400.7M104.4 2400.7H440.7" stroke="#000" stroke-width="2.6" fill="none"/>
<text x="101" y="2087.9" font-size="24.4" text-anchor="end">30</text>
<text x="101" y="2196.4" font-size="24.4" text-anchor="end">20</text>
<text x="101" y="2302.5" font-size="24.4" text-anchor="end">10</text>
<text x="101" y="2409.3" font-size="24.4" text-anchor="end">0</text>
<path d="M104.4 2079.3H118M104.4 2187.8H118M104.4 2293.9H118M166.8 2400.7V2413.6M241 2400.7V2413.6M315.3 2400.7V2413.6M389.5 2400.7V2413.6" stroke="#000" stroke-width="2.6" fill="none"/>
<path d="M166.8 2327.8V2105.1H235.3V2301.7" stroke="#000" stroke-width="2.7" fill="none"/>
<path d="M247.8 2301.7V2105.1H309.2V2207.5" stroke="#000" stroke-width="2.7" fill="none"/>
<path d="M321.7 2207.5V2105.1H389.8V2122.7" stroke="#000" stroke-width="2.7" fill="none"/>
<text x="202.2" y="2105.8" font-size="38" text-anchor="middle" font-weight="bold" letter-spacing="3">*</text>
<text x="280.1" y="2105.8" font-size="38" text-anchor="middle" font-weight="bold" letter-spacing="3">**</text>
<text x="358.1" y="2105.8" font-size="38" text-anchor="middle" font-weight="bold" letter-spacing="3">***</text>
<text transform="translate(174.8 2431.9) rotate(-45)" font-size="24.4" text-anchor="end">BP</text>
<text transform="translate(249 2431.9) rotate(-45)" font-size="24.4" text-anchor="end">Gleason &lt; 7</text>
<text transform="translate(323.3 2431.9) rotate(-45)" font-size="24.4" text-anchor="end">Gleason = 7</text>
<text transform="translate(397.5 2431.9) rotate(-45)" font-size="24.4" text-anchor="end">Gleason &gt; 7</text>
<text transform="translate(53 2241) rotate(-90)" font-size="25.6" text-anchor="middle">Area(%)</text>
<rect x="1225.6" y="2388.1" width="40.2" height="13.3" fill="#0a0806"/>
<path d="M1288 2401.4V2387.2H1325V2401.4" fill="#a5a3a6" stroke="#000" stroke-width="3.2"/>
<path d="M1349.5 2401.4V2327.5H1386V2401.4" fill="#858180" stroke="#000" stroke-width="3.2"/>
<path d="M1409.3 2401.4V2201.9H1446.3V2401.4" fill="#d9d9d9" stroke="#000" stroke-width="3.2"/>
<path d="M1245.7 2389.1V2386.4M1235.7 2386.4H1255.8" stroke="#000" stroke-width="0.9" fill="none"/>
<path d="M1306.5 2386.6V2382.3M1296.4 2382.3H1316.5" stroke="#000" stroke-width="0.9" fill="none"/>
<path d="M1367.5 2326.9V2299M1357.5 2299H1377.6" stroke="#000" stroke-width="0.9" fill="none"/>
<path d="M1427.8 2201.3V2153.3M1417.7 2153.3H1437.8" stroke="#000" stroke-width="0.9" fill="none"/>
<path d="M1205.5 2137.8V2401.4M1194.2 2401.4H1469.2" stroke="#000" stroke-width="2.2" fill="none"/>
<text x="1191" y="2144.9" font-size="19" text-anchor="end">20</text>
<text x="1191" y="2211.4" font-size="19" text-anchor="end">15</text>
<text x="1191" y="2276.7" font-size="19" text-anchor="end">10</text>
<text x="1191" y="2342.5" font-size="19" text-anchor="end">5</text>
<text x="1191" y="2408" font-size="19" text-anchor="end">0</text>
<path d="M1194.2 2138.3H1205.5M1194.2 2204.8H1205.5M1194.2 2270.1H1205.5M1194.2 2335.9H1205.5M1245.2 2401.4V2412.5M1306.5 2401.4V2412.5M1368 2401.4V2412.5M1427.3 2401.4V2412.5" stroke="#000" stroke-width="2.2" fill="none"/>
<path d="M1245.2 2370.5V2122H1306.5V2365.5" stroke="#000" stroke-width="2.2" fill="none"/>
<path d="M1245.2 2105.6V2066.7H1368V2282.7" stroke="#000" stroke-width="2.2" fill="none"/>
<path d="M1245.2 2050.4V2019H1428.3V2137" stroke="#000" stroke-width="2.2" fill="none"/>
<text x="1275.9" y="2109.2" font-size="21" text-anchor="middle">ns</text>
<text x="1306" y="2063.5" font-size="22" text-anchor="middle" font-weight="bold">*</text>
<text x="1336.7" y="2016.5" font-size="22" text-anchor="middle" font-weight="bold" letter-spacing="1.3">****</text>
<text transform="translate(1251.2 2429.1) rotate(-45)" font-size="19" text-anchor="end">RWPE-1</text>
<text transform="translate(1312.5 2429.1) rotate(-45)" font-size="19" text-anchor="end">BPH-1</text>
<text transform="translate(1374 2429.1) rotate(-45)" font-size="19" text-anchor="end">DU145</text>
<text transform="translate(1433.3 2429.1) rotate(-45)" font-size="19" text-anchor="end">PC-3</text>
<text transform="translate(1153.5 2270.5) rotate(-90)" font-size="15.9" text-anchor="middle">SLC7A11 expression level</text>
<rect x="1586.3" y="2317.8" width="42.7" height="69.1" fill="#0a0806"/>
<path d="M1651.5 2386.9V2315.6H1690.4V2386.9" fill="#a5a3a6" stroke="#000" stroke-width="3.2"/>
<path d="M1714.2 2386.9V2249.6H1753.2V2386.9" fill="#858180" stroke="#000" stroke-width="3.2"/>
<path d="M1777.5 2386.9V2209.4H1816.5V2386.9" fill="#d9d9d9" stroke="#000" stroke-width="3.2"/>
<path d="M1607.7 2318.8V2299.5M1597.6 2299.5H1617.7" stroke="#000" stroke-width="0.9" fill="none"/>
<path d="M1671.2 2315V2288.4M1661.2 2288.4H1681.2" stroke="#000" stroke-width="0.9" fill="none"/>
<path d="M1734 2249V2232.9M1723.9 2232.9H1744" stroke="#000" stroke-width="0.9" fill="none"/>
<path d="M1797.3 2208.8V2178.5M1787.2 2178.5H1807.3" stroke="#000" stroke-width="0.9" fill="none"/>
<path d="M1565.7 2113.7V2386.9M1554.4 2386.9H1840.7" stroke="#000" stroke-width="2.2" fill="none"/>
<text x="1551.4" y="2121" font-size="19" text-anchor="end">4</text>
<text x="1551.4" y="2189.6" font-size="19" text-anchor="end">3</text>
<text x="1551.4" y="2257.4" font-size="19" text-anchor="end">2</text>
<text x="1551.4" y="2325.2" font-size="19" text-anchor="end">1</text>
<text x="1551.4" y="2393.5" font-size="19" text-anchor="end">0</text>
<path d="M1554.4 2114.4H1565.7M1554.4 2183H1565.7M1554.4 2250.8H1565.7M1554.4 2318.6H1565.7M1607.7 2386.9V2398.9M1671.2 2386.9V2398.9M1733.5 2386.9V2398.9M1796.7 2386.9V2398.9" stroke="#000" stroke-width="2.2" fill="none"/>
<path d="M1607.7 2282.7V2145.1H1671.2V2272.1" stroke="#000" stroke-width="2.2" fill="none"/>
<path d="M1607.7 2128.2V2088.1H1733.5V2216.6" stroke="#000" stroke-width="2.2" fill="none"/>
<path d="M1607.7 2071V2036.1H1796.7V2161.6" stroke="#000" stroke-width="2.2" fill="none"/>
<text x="1638.6" y="2131.8" font-size="22.4" text-anchor="middle">ns</text>
<text x="1670.4" y="2084.8" font-size="24" text-anchor="middle" font-weight="bold">*</text>
<text x="1702.3" y="2033.3" font-size="24" text-anchor="middle" font-weight="bold" letter-spacing="2">***</text>
<text transform="translate(1613.7 2415) rotate(-45)" font-size="19" text-anchor="end">REPE-1</text>
<text transform="translate(1677.2 2415) rotate(-45)" font-size="19" text-anchor="end">BPH-1</text>
<text transform="translate(1739.5 2415) rotate(-45)" font-size="19" text-anchor="end">DU145</text>
<text transform="translate(1802.7 2415) rotate(-45)" font-size="19" text-anchor="end">PC-3</text>
<text transform="translate(1506 2250.5) rotate(-90)" font-size="14.75" text-anchor="middle">Relative SLC7A11 protein expression</text>
</g>
<g id="pR">
<text class="sf" x="648.3" y="2127.4" font-size="30">RWPE-1</text>
<text class="sf" x="775" y="2127.4" font-size="30">BPH-1</text>
<text class="sf" x="881.1" y="2127.4" font-size="30">DU145</text>
<text class="sf" x="985.7" y="2127.4" font-size="30">PC-3</text>
<text class="sf" x="626.3" y="2207.9" font-size="37.3" text-anchor="end">SLC7A11</text>
<text class="sf" x="626.3" y="2350.5" font-size="37.4" text-anchor="end">GAPDH</text>
<g clip-path="url(#rc1)">
<rect x="648.7" y="2149.8" width="428.1" height="124.7" fill="#e7e7e9"/>
<rect x="661.5" y="2176.9" width="85.2" height="62" fill="#d4d4d8" filter="url(#rb3)" opacity="0.8"/>
<rect x="769.9" y="2176.9" width="77.5" height="62" fill="#d4d4d8" filter="url(#rb3)" opacity="0.8"/>
<rect x="870.7" y="2176.9" width="85.2" height="62" fill="#d4d4d8" filter="url(#rb3)" opacity="0.8"/>
<rect x="975.3" y="2176.9" width="85.2" height="62" fill="#d4d4d8" filter="url(#rb3)" opacity="0.8"/>
<rect x="667.3" y="2197.5" width="71.7" height="13.2" rx="6" fill="#3c3c3e" filter="url(#rb1)" opacity="0.9"/>
<rect x="688.6" y="2199.4" width="38.7" height="11.6" rx="5.3" fill="#222" filter="url(#rb1)" opacity="0.6"/>
<rect x="773.8" y="2198.3" width="67.8" height="13.2" rx="6" fill="#444446" filter="url(#rb1)" opacity="0.85"/>
<rect x="781.5" y="2199" width="38.7" height="11.6" rx="5.3" fill="#222" filter="url(#rb1)" opacity="0.7"/>
<rect x="874.5" y="2201.4" width="75.5" height="17" rx="7.7" fill="#222224" filter="url(#rb1)" opacity="1"/>
<rect x="977.2" y="2194.4" width="79.4" height="20.9" rx="9.5" fill="#1c1c1e" filter="url(#rb1)" opacity="1"/>
<ellipse cx="1050.8" cy="2252.5" rx="7" ry="17" fill="#fff" filter="url(#rb1)"/>
</g>
<rect x="649.7" y="2150.8" width="426.1" height="122.7" fill="none" stroke="#0a0a0a" stroke-width="3"/>
<g clip-path="url(#rc2)">
<rect x="649.8" y="2290.5" width="426.2" height="117.8" fill="#e2e2e4"/>
<rect x="653.7" y="2308.7" width="85.2" height="73.6" fill="#c4c4c8" filter="url(#rb3)" opacity="0.9"/>
<rect x="758.3" y="2308.7" width="83.3" height="73.6" fill="#c4c4c8" filter="url(#rb3)" opacity="0.9"/>
<rect x="861" y="2308.7" width="87.2" height="73.6" fill="#c4c4c8" filter="url(#rb3)" opacity="0.9"/>
<rect x="967.5" y="2308.7" width="91" height="73.6" fill="#c4c4c8" filter="url(#rb3)" opacity="0.9"/>
<rect x="655.6" y="2327.7" width="79.4" height="27.9" rx="12.7" fill="#1e1e20" filter="url(#rb2)" opacity="1"/>
<rect x="760.2" y="2327.7" width="77.5" height="27.9" rx="12.7" fill="#1e1e20" filter="url(#rb2)" opacity="1"/>
<rect x="862.9" y="2327.7" width="83.3" height="27.9" rx="12.7" fill="#1e1e20" filter="url(#rb2)" opacity="1"/>
<rect x="969.4" y="2320.3" width="85.2" height="29.4" rx="13.4" fill="#1e1e20" filter="url(#rb2)" opacity="1"/>
<rect x="766.1" y="2388.1" width="67.8" height="13.2" rx="6" fill="#777" filter="url(#rb2)" opacity="0.9"/>
</g>
<rect x="650.3" y="2291" width="425.2" height="116.8" fill="none" stroke="#0a0a0a" stroke-width="2"/>
</g>
<g class="sf" id="labels">
<text class="sf" x="23.9" y="54.1" font-size="36">A</text>
<text class="sf" x="464.9" y="54.6" font-size="36">B</text>
<text class="sf" x="453.9" y="667.8" font-size="36">C</text>
<text class="sf" x="453.9" y="1051.2" font-size="36">D</text>
<text class="sf" x="964.4" y="668.7" font-size="36">E</text>
<text class="sf" x="964.4" y="1051.2" font-size="36">F</text>
<text class="sf" x="1425.9" y="54.7" font-size="36">G</text>
<text class="sf" x="1425.4" y="354" font-size="36">H</text>
<text class="sf" x="1434.9" y="681.3" font-size="36">I</text>
<text class="sf" x="1434.9" y="1051.5" font-size="36">J</text>
<text class="sf" x="24.9" y="1416" font-size="36">K</text>
<text class="sf" x="493.9" y="1416.5" font-size="36">L</text>
<text class="sf" x="864.9" y="1414.5" font-size="36">M</text>
<text class="sf" x="1152.9" y="1416.5" font-size="36" stroke="#000" stroke-width="0.7">N</text>
<text class="sf" x="1455.4" y="1413.5" font-size="36">O</text>
<text class="sf" x="24.4" y="1776.9" font-size="36">P</text>
<text class="sf" x="23.8" y="2035.8" font-size="36">Q</text>
<text class="sf" x="590.9" y="2055.5" font-size="33.7">R</text>
<text class="sf" x="1120.4" y="2054.5" font-size="35.5">S</text>
<text class="sf" x="1534.4" y="2054.9" font-size="33">T</text>
</g>
</svg>
</body></html>
